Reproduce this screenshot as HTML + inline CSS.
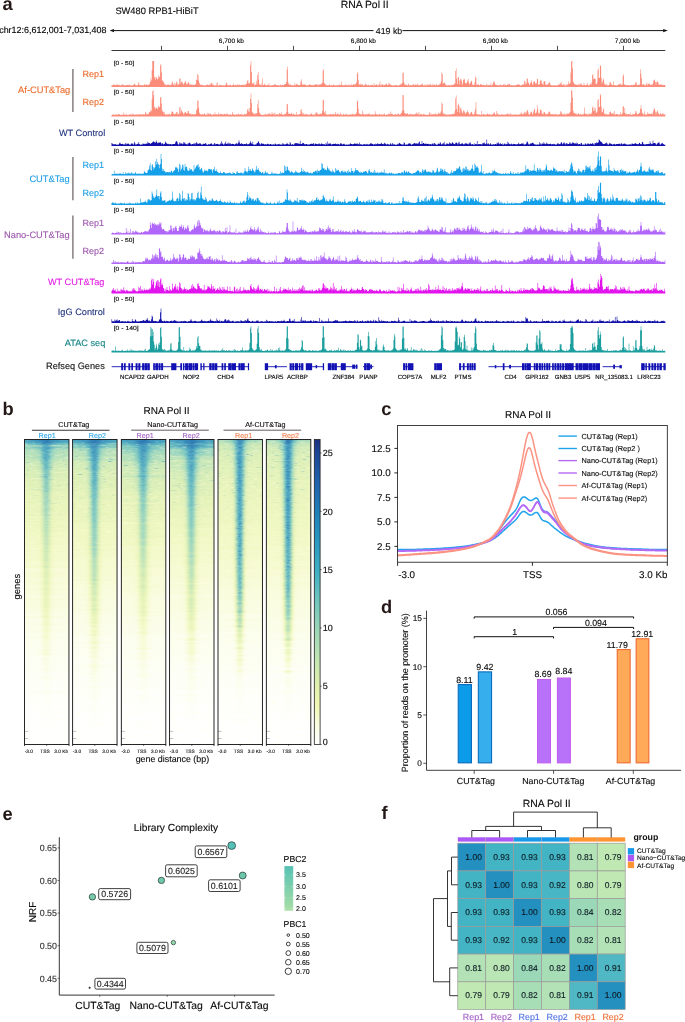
<!DOCTYPE html>
<html lang="en"><head><meta charset="utf-8"><title>RNA Pol II CUT&amp;Tag figure</title>
<style>
html,body{margin:0;padding:0;background:#fff;}
body{width:685px;height:1022px;overflow:hidden;}
svg{display:block;font-family:'Liberation Sans', Arial, sans-serif;text-rendering:geometricPrecision;}
text{white-space:pre;stroke-width:.12px;}
</style></head>
<body>
<svg width="685" height="1022" viewBox="0 0 685 1022">
<defs>
<rect id="hr" width="44.45" height="1.35"/>
<filter id="nzw" x="0" y="0" width="1" height="1" color-interpolation-filters="sRGB"><feTurbulence type="fractalNoise" baseFrequency=".17 .6" numOctaves="2" seed="5"/><feColorMatrix values="0 0 0 0 1  0 0 0 0 1  0 0 0 0 .9  1.2 0 0 0 -.6"/></filter>
<filter id="nzd" x="0" y="0" width="1" height="1" color-interpolation-filters="sRGB"><feTurbulence type="fractalNoise" baseFrequency=".21 .6" numOctaves="2" seed="11"/><feColorMatrix values="0 0 0 0 .12  0 0 0 0 .42  0 0 0 0 .7  0 1.5 0 0 -.66"/></filter>
<linearGradient id="mw"><stop offset="0" stop-color="#fff"/><stop offset=".36" stop-color="#ddd"/><stop offset=".45" stop-color="#555"/><stop offset=".53" stop-color="#555"/><stop offset=".62" stop-color="#ddd"/><stop offset="1" stop-color="#fff"/></linearGradient>
<linearGradient id="md"><stop offset=".37" stop-color="#000"/><stop offset=".46" stop-color="#fff"/><stop offset=".52" stop-color="#fff"/><stop offset=".61" stop-color="#000"/></linearGradient>
<linearGradient id="mv" x1="0" y1="0" x2="0" y2="1"><stop offset="0" stop-color="#000" stop-opacity=".1"/><stop offset=".4" stop-color="#000" stop-opacity=".35"/><stop offset=".62" stop-color="#000" stop-opacity="1"/></linearGradient>
<linearGradient id="mv2" x1="0" y1="0" x2="0" y2="1"><stop offset="0" stop-color="#000" stop-opacity=".2"/><stop offset=".1" stop-color="#000" stop-opacity=".6"/><stop offset=".25" stop-color="#000" stop-opacity="1"/></linearGradient>
<filter id="nzs" x="0" y="0" width="1" height="1" color-interpolation-filters="sRGB"><feTurbulence type="fractalNoise" baseFrequency=".13 .83" numOctaves="2" seed="23"/><feColorMatrix values="0 0 0 0 .25  0 0 0 0 .62  0 0 0 0 .75  0 0 3 0 -1.98"/></filter>
<linearGradient id="ms" x1="0" y1="0" x2="0" y2="1"><stop offset="0" stop-color="#eee"/><stop offset=".1" stop-color="#999"/><stop offset=".3" stop-color="#000"/></linearGradient>
<mask id="mks" maskContentUnits="objectBoundingBox"><rect width="1" height="1" fill="url(#ms)"/></mask>
<linearGradient id="tb"><stop offset="0" stop-color="#4ea9c2"/><stop offset=".3" stop-color="#3d99c0"/><stop offset=".5" stop-color="#2a7fb8"/><stop offset=".7" stop-color="#3d99c0"/><stop offset="1" stop-color="#4ea9c2"/></linearGradient>
<mask id="mkw" maskContentUnits="objectBoundingBox"><rect width="1" height="1" fill="url(#mw)"/></mask>
<mask id="mkd" maskContentUnits="objectBoundingBox"><rect width="1" height="1" fill="url(#md)"/><rect width="1" height="1" fill="url(#mv)"/></mask>
<mask id="mkd2" maskContentUnits="objectBoundingBox"><rect width="1" height="1" fill="url(#md)"/><rect width="1" height="1" fill="url(#mv2)"/></mask>
<linearGradient id="p0" x1=".49" x2=".99" spreadMethod="reflect"><stop offset="0" stop-color="#256ba9"/><stop offset=".04" stop-color="#256ba9"/><stop offset=".09" stop-color="#256ca9"/><stop offset=".15" stop-color="#266eaa"/><stop offset=".22" stop-color="#2670ab"/><stop offset=".3" stop-color="#2874ad"/><stop offset=".4" stop-color="#2a7aaf"/><stop offset=".55" stop-color="#2e82b3"/><stop offset=".75" stop-color="#328ab6"/><stop offset="1" stop-color="#3690b7"/></linearGradient>
<linearGradient id="p1" x1=".49" x2=".99" spreadMethod="reflect"><stop offset="0" stop-color="#256ca9"/><stop offset=".04" stop-color="#256ca9"/><stop offset=".09" stop-color="#256da9"/><stop offset=".15" stop-color="#266faa"/><stop offset=".22" stop-color="#2771ac"/><stop offset=".3" stop-color="#2875ad"/><stop offset=".4" stop-color="#2b7bb0"/><stop offset=".55" stop-color="#2e84b3"/><stop offset=".75" stop-color="#338cb6"/><stop offset="1" stop-color="#3791b8"/></linearGradient>
<linearGradient id="p2" x1=".49" x2=".99" spreadMethod="reflect"><stop offset="0" stop-color="#266eaa"/><stop offset=".04" stop-color="#266eaa"/><stop offset=".09" stop-color="#266faa"/><stop offset=".15" stop-color="#2771ab"/><stop offset=".22" stop-color="#2874ad"/><stop offset=".3" stop-color="#2a79af"/><stop offset=".4" stop-color="#2c7fb2"/><stop offset=".55" stop-color="#3188b5"/><stop offset=".75" stop-color="#3690b8"/><stop offset="1" stop-color="#3a95b9"/></linearGradient>
<linearGradient id="p3" x1=".49" x2=".99" spreadMethod="reflect"><stop offset="0" stop-color="#2771ab"/><stop offset=".04" stop-color="#2772ac"/><stop offset=".09" stop-color="#2773ac"/><stop offset=".15" stop-color="#2875ad"/><stop offset=".22" stop-color="#2a79af"/><stop offset=".3" stop-color="#2c7fb2"/><stop offset=".4" stop-color="#3087b4"/><stop offset=".55" stop-color="#3690b7"/><stop offset=".75" stop-color="#3c98ba"/><stop offset="1" stop-color="#3f9cbb"/></linearGradient>
<linearGradient id="p4" x1=".49" x2=".99" spreadMethod="reflect"><stop offset="0" stop-color="#2876ae"/><stop offset=".04" stop-color="#2976ae"/><stop offset=".09" stop-color="#2978ae"/><stop offset=".15" stop-color="#2b7bb0"/><stop offset=".22" stop-color="#2d81b2"/><stop offset=".3" stop-color="#3188b5"/><stop offset=".4" stop-color="#3791b8"/><stop offset=".55" stop-color="#3f9cba"/><stop offset=".75" stop-color="#45a2bb"/><stop offset="1" stop-color="#49a6bc"/></linearGradient>
<linearGradient id="p5" x1=".49" x2=".99" spreadMethod="reflect"><stop offset="0" stop-color="#2b7cb0"/><stop offset=".04" stop-color="#2b7cb0"/><stop offset=".09" stop-color="#2c7fb2"/><stop offset=".15" stop-color="#2f84b3"/><stop offset=".22" stop-color="#338cb6"/><stop offset=".3" stop-color="#3a95b9"/><stop offset=".4" stop-color="#43a0bb"/><stop offset=".55" stop-color="#4eaabd"/><stop offset=".75" stop-color="#55b0bd"/><stop offset="1" stop-color="#59b3bd"/></linearGradient>
<linearGradient id="p6" x1=".49" x2=".99" spreadMethod="reflect"><stop offset="0" stop-color="#3c99ba"/><stop offset=".04" stop-color="#3d99ba"/><stop offset=".09" stop-color="#3f9bba"/><stop offset=".15" stop-color="#43a0bb"/><stop offset=".22" stop-color="#4aa7bc"/><stop offset=".3" stop-color="#53aebd"/><stop offset=".4" stop-color="#5db6bd"/><stop offset=".55" stop-color="#66bcbd"/><stop offset=".75" stop-color="#6bbfbd"/><stop offset="1" stop-color="#6dc0bd"/></linearGradient>
<linearGradient id="p7" x1=".49" x2=".99" spreadMethod="reflect"><stop offset="0" stop-color="#409cbb"/><stop offset=".04" stop-color="#409dbb"/><stop offset=".09" stop-color="#43a0bb"/><stop offset=".15" stop-color="#49a6bc"/><stop offset=".22" stop-color="#53afbd"/><stop offset=".3" stop-color="#5fb7bd"/><stop offset=".4" stop-color="#6cbfbd"/><stop offset=".55" stop-color="#77c5bc"/><stop offset=".75" stop-color="#7cc8bb"/><stop offset="1" stop-color="#7dc8bb"/></linearGradient>
<linearGradient id="p8" x1=".49" x2=".99" spreadMethod="reflect"><stop offset="0" stop-color="#44a1bb"/><stop offset=".04" stop-color="#45a2bc"/><stop offset=".09" stop-color="#49a6bc"/><stop offset=".15" stop-color="#52aebd"/><stop offset=".22" stop-color="#60b8bd"/><stop offset=".3" stop-color="#72c2bc"/><stop offset=".4" stop-color="#82cabb"/><stop offset=".55" stop-color="#8dcfba"/><stop offset=".75" stop-color="#91d1b9"/><stop offset="1" stop-color="#92d1b9"/></linearGradient>
<linearGradient id="p9" x1=".49" x2=".99" spreadMethod="reflect"><stop offset="0" stop-color="#49a6bc"/><stop offset=".04" stop-color="#4aa7bc"/><stop offset=".09" stop-color="#50adbd"/><stop offset=".15" stop-color="#5eb6bd"/><stop offset=".22" stop-color="#72c2bc"/><stop offset=".3" stop-color="#87cdba"/><stop offset=".4" stop-color="#99d5b8"/><stop offset=".55" stop-color="#a3d9b7"/><stop offset=".75" stop-color="#a5dab7"/><stop offset="1" stop-color="#a6dab7"/></linearGradient>
<linearGradient id="p10" x1=".49" x2=".99" spreadMethod="reflect"><stop offset="0" stop-color="#4daabd"/><stop offset=".04" stop-color="#4facbd"/><stop offset=".09" stop-color="#57b2bd"/><stop offset=".15" stop-color="#67bcbd"/><stop offset=".22" stop-color="#7ec8bb"/><stop offset=".3" stop-color="#94d3b9"/><stop offset=".4" stop-color="#a5dab7"/><stop offset=".55" stop-color="#aeddb6"/><stop offset=".75" stop-color="#afdeb6"/><stop offset="1" stop-color="#afdeb6"/></linearGradient>
<linearGradient id="p11" x1=".49" x2=".99" spreadMethod="reflect"><stop offset="0" stop-color="#53afbd"/><stop offset=".04" stop-color="#56b1bd"/><stop offset=".09" stop-color="#5fb7bd"/><stop offset=".15" stop-color="#72c2bc"/><stop offset=".22" stop-color="#8ccfba"/><stop offset=".3" stop-color="#a3d9b7"/><stop offset=".4" stop-color="#b2dfb5"/><stop offset=".55" stop-color="#b9e1b4"/><stop offset=".75" stop-color="#bae2b4"/><stop offset="1" stop-color="#bae2b4"/></linearGradient>
<linearGradient id="p12" x1=".49" x2=".99" spreadMethod="reflect"><stop offset="0" stop-color="#5ab4bd"/><stop offset=".04" stop-color="#5db6bd"/><stop offset=".09" stop-color="#69bdbd"/><stop offset=".15" stop-color="#80c9bb"/><stop offset=".22" stop-color="#9cd6b8"/><stop offset=".3" stop-color="#b3dfb5"/><stop offset=".4" stop-color="#c0e4b4"/><stop offset=".55" stop-color="#c5e6b3"/><stop offset=".75" stop-color="#c5e6b3"/><stop offset="1" stop-color="#c5e6b3"/></linearGradient>
<linearGradient id="p13" x1=".49" x2=".99" spreadMethod="reflect"><stop offset="0" stop-color="#61b8bd"/><stop offset=".04" stop-color="#64bbbd"/><stop offset=".09" stop-color="#72c2bc"/><stop offset=".15" stop-color="#8bceba"/><stop offset=".22" stop-color="#a8dbb7"/><stop offset=".3" stop-color="#bee3b4"/><stop offset=".4" stop-color="#c9e7b3"/><stop offset=".55" stop-color="#cce9b3"/><stop offset=".75" stop-color="#cce9b3"/><stop offset="1" stop-color="#cce9b3"/></linearGradient>
<linearGradient id="p14" x1=".49" x2=".99" spreadMethod="reflect"><stop offset="0" stop-color="#67bcbd"/><stop offset=".04" stop-color="#6bbebd"/><stop offset=".09" stop-color="#79c6bc"/><stop offset=".15" stop-color="#92d2b9"/><stop offset=".22" stop-color="#afdeb6"/><stop offset=".3" stop-color="#c4e5b3"/><stop offset=".4" stop-color="#cde9b3"/><stop offset=".55" stop-color="#d0eab2"/><stop offset=".75" stop-color="#d0eab2"/><stop offset="1" stop-color="#d0eab2"/></linearGradient>
<linearGradient id="p15" x1=".49" x2=".99" spreadMethod="reflect"><stop offset="0" stop-color="#6ec0bc"/><stop offset=".04" stop-color="#72c2bc"/><stop offset=".09" stop-color="#81cabb"/><stop offset=".15" stop-color="#9bd5b8"/><stop offset=".22" stop-color="#b7e0b5"/><stop offset=".3" stop-color="#cae8b3"/><stop offset=".4" stop-color="#d2ebb2"/><stop offset=".55" stop-color="#d4ecb2"/><stop offset=".75" stop-color="#d4ecb2"/><stop offset="1" stop-color="#d4ecb2"/></linearGradient>
<linearGradient id="p16" x1=".49" x2=".99" spreadMethod="reflect"><stop offset="0" stop-color="#76c5bc"/><stop offset=".04" stop-color="#7ac7bc"/><stop offset=".09" stop-color="#8aceba"/><stop offset=".15" stop-color="#a4d9b7"/><stop offset=".22" stop-color="#bfe3b4"/><stop offset=".3" stop-color="#d0eab2"/><stop offset=".4" stop-color="#d6edb2"/><stop offset=".55" stop-color="#d8edb2"/><stop offset=".75" stop-color="#d8edb2"/><stop offset="1" stop-color="#d8edb2"/></linearGradient>
<linearGradient id="p17" x1=".49" x2=".99" spreadMethod="reflect"><stop offset="0" stop-color="#7dc8bb"/><stop offset=".04" stop-color="#81cabb"/><stop offset=".09" stop-color="#91d1b9"/><stop offset=".15" stop-color="#abdcb6"/><stop offset=".22" stop-color="#c4e6b3"/><stop offset=".3" stop-color="#d4ecb2"/><stop offset=".4" stop-color="#daeeb2"/><stop offset=".55" stop-color="#dbeeb2"/><stop offset=".75" stop-color="#dbeeb3"/><stop offset="1" stop-color="#dbeeb3"/></linearGradient>
<linearGradient id="p18" x1=".49" x2=".99" spreadMethod="reflect"><stop offset="0" stop-color="#84cbbb"/><stop offset=".04" stop-color="#88cdba"/><stop offset=".09" stop-color="#98d4b9"/><stop offset=".15" stop-color="#b1deb6"/><stop offset=".22" stop-color="#c9e7b3"/><stop offset=".3" stop-color="#d7edb2"/><stop offset=".4" stop-color="#dcefb3"/><stop offset=".55" stop-color="#ddefb3"/><stop offset=".75" stop-color="#ddefb3"/><stop offset="1" stop-color="#ddefb3"/></linearGradient>
<linearGradient id="p19" x1=".49" x2=".99" spreadMethod="reflect"><stop offset="0" stop-color="#8ccfba"/><stop offset=".04" stop-color="#90d1b9"/><stop offset=".09" stop-color="#9fd7b8"/><stop offset=".15" stop-color="#b7e0b5"/><stop offset=".22" stop-color="#cee9b2"/><stop offset=".3" stop-color="#daeeb2"/><stop offset=".4" stop-color="#dff0b3"/><stop offset=".55" stop-color="#e0f1b3"/><stop offset=".75" stop-color="#e0f1b3"/><stop offset="1" stop-color="#e0f1b3"/></linearGradient>
<linearGradient id="p20" x1=".49" x2=".99" spreadMethod="reflect"><stop offset="0" stop-color="#94d2b9"/><stop offset=".04" stop-color="#98d4b9"/><stop offset=".09" stop-color="#a6dab7"/><stop offset=".15" stop-color="#bde3b4"/><stop offset=".22" stop-color="#d2ebb2"/><stop offset=".3" stop-color="#def0b3"/><stop offset=".4" stop-color="#e2f1b4"/><stop offset=".55" stop-color="#e3f2b4"/><stop offset=".75" stop-color="#e3f2b4"/><stop offset="1" stop-color="#e3f2b4"/></linearGradient>
<linearGradient id="p21" x1=".49" x2=".99" spreadMethod="reflect"><stop offset="0" stop-color="#9cd6b8"/><stop offset=".04" stop-color="#a0d7b8"/><stop offset=".09" stop-color="#aeddb6"/><stop offset=".15" stop-color="#c4e5b3"/><stop offset=".22" stop-color="#d7edb2"/><stop offset=".3" stop-color="#e2f1b4"/><stop offset=".4" stop-color="#e5f3b5"/><stop offset=".55" stop-color="#e5f3b5"/><stop offset=".75" stop-color="#e5f3b5"/><stop offset="1" stop-color="#e5f3b5"/></linearGradient>
<linearGradient id="p22" x1=".49" x2=".99" spreadMethod="reflect"><stop offset="0" stop-color="#a2d8b7"/><stop offset=".04" stop-color="#a5dab7"/><stop offset=".09" stop-color="#b3dfb5"/><stop offset=".15" stop-color="#c8e7b3"/><stop offset=".22" stop-color="#daeeb3"/><stop offset=".3" stop-color="#e4f2b5"/><stop offset=".4" stop-color="#e7f4b6"/><stop offset=".55" stop-color="#e7f4b6"/><stop offset=".75" stop-color="#e7f4b6"/><stop offset="1" stop-color="#e7f4b6"/></linearGradient>
<linearGradient id="p23" x1=".49" x2=".99" spreadMethod="reflect"><stop offset="0" stop-color="#a7dab7"/><stop offset=".04" stop-color="#abdcb6"/><stop offset=".09" stop-color="#b8e1b5"/><stop offset=".15" stop-color="#cbe8b3"/><stop offset=".22" stop-color="#ddefb3"/><stop offset=".3" stop-color="#e6f3b6"/><stop offset=".4" stop-color="#e9f4b8"/><stop offset=".55" stop-color="#e9f4b8"/><stop offset=".75" stop-color="#e9f4b8"/><stop offset="1" stop-color="#e9f4b8"/></linearGradient>
<linearGradient id="p24" x1=".49" x2=".99" spreadMethod="reflect"><stop offset="0" stop-color="#adddb6"/><stop offset=".04" stop-color="#b0deb6"/><stop offset=".09" stop-color="#bde3b4"/><stop offset=".15" stop-color="#cfeab2"/><stop offset=".22" stop-color="#e0f1b3"/><stop offset=".3" stop-color="#e8f4b7"/><stop offset=".4" stop-color="#ebf5b9"/><stop offset=".55" stop-color="#ebf5ba"/><stop offset=".75" stop-color="#ebf5ba"/><stop offset="1" stop-color="#ebf5ba"/></linearGradient>
<linearGradient id="p25" x1=".49" x2=".99" spreadMethod="reflect"><stop offset="0" stop-color="#b3dfb5"/><stop offset=".04" stop-color="#b6e0b5"/><stop offset=".09" stop-color="#c2e5b3"/><stop offset=".15" stop-color="#d4ecb2"/><stop offset=".22" stop-color="#e3f2b4"/><stop offset=".3" stop-color="#ebf5b9"/><stop offset=".4" stop-color="#edf6bc"/><stop offset=".55" stop-color="#edf6bc"/><stop offset=".75" stop-color="#edf6bc"/><stop offset="1" stop-color="#edf6bc"/></linearGradient>
<linearGradient id="p26" x1=".49" x2=".99" spreadMethod="reflect"><stop offset="0" stop-color="#b9e1b5"/><stop offset=".04" stop-color="#bce2b4"/><stop offset=".09" stop-color="#c7e7b3"/><stop offset=".15" stop-color="#d7edb2"/><stop offset=".22" stop-color="#e6f3b5"/><stop offset=".3" stop-color="#edf6bb"/><stop offset=".4" stop-color="#eff7be"/><stop offset=".55" stop-color="#eff7bf"/><stop offset=".75" stop-color="#eff7bf"/><stop offset="1" stop-color="#eff7bf"/></linearGradient>
<linearGradient id="p27" x1=".49" x2=".99" spreadMethod="reflect"><stop offset="0" stop-color="#bfe4b4"/><stop offset=".04" stop-color="#c2e5b3"/><stop offset=".09" stop-color="#cce9b3"/><stop offset=".15" stop-color="#dbefb3"/><stop offset=".22" stop-color="#e8f4b7"/><stop offset=".3" stop-color="#eef7bd"/><stop offset=".4" stop-color="#f0f8c1"/><stop offset=".55" stop-color="#f0f8c1"/><stop offset=".75" stop-color="#f0f8c1"/><stop offset="1" stop-color="#f0f8c1"/></linearGradient>
<linearGradient id="p28" x1=".49" x2=".99" spreadMethod="reflect"><stop offset="0" stop-color="#c5e6b3"/><stop offset=".04" stop-color="#c8e7b3"/><stop offset=".09" stop-color="#d1ebb2"/><stop offset=".15" stop-color="#dff0b3"/><stop offset=".22" stop-color="#eaf5b9"/><stop offset=".3" stop-color="#f0f7c0"/><stop offset=".4" stop-color="#f2f8c4"/><stop offset=".55" stop-color="#f2f8c5"/><stop offset=".75" stop-color="#f2f8c5"/><stop offset="1" stop-color="#f2f8c5"/></linearGradient>
<linearGradient id="p29" x1=".49" x2=".99" spreadMethod="reflect"><stop offset="0" stop-color="#cce9b3"/><stop offset=".04" stop-color="#cee9b2"/><stop offset=".09" stop-color="#d6edb2"/><stop offset=".15" stop-color="#e2f2b4"/><stop offset=".22" stop-color="#ecf6bb"/><stop offset=".3" stop-color="#f1f8c3"/><stop offset=".4" stop-color="#f3f9c7"/><stop offset=".55" stop-color="#f3f9c8"/><stop offset=".75" stop-color="#f3f9c8"/><stop offset="1" stop-color="#f3f9c8"/></linearGradient>
<linearGradient id="p30" x1=".49" x2=".99" spreadMethod="reflect"><stop offset="0" stop-color="#d2ebb2"/><stop offset=".04" stop-color="#d4ecb2"/><stop offset=".09" stop-color="#dbefb3"/><stop offset=".15" stop-color="#e6f3b6"/><stop offset=".22" stop-color="#eff7be"/><stop offset=".3" stop-color="#f3f9c7"/><stop offset=".4" stop-color="#f4facb"/><stop offset=".55" stop-color="#f5facc"/><stop offset=".75" stop-color="#f5facc"/><stop offset="1" stop-color="#f5facc"/></linearGradient>
<linearGradient id="p31" x1=".49" x2=".99" spreadMethod="reflect"><stop offset="0" stop-color="#d8eeb2"/><stop offset=".04" stop-color="#daeeb3"/><stop offset=".09" stop-color="#e0f1b3"/><stop offset=".15" stop-color="#e9f4b8"/><stop offset=".22" stop-color="#f0f8c1"/><stop offset=".3" stop-color="#f4facb"/><stop offset=".4" stop-color="#f5facf"/><stop offset=".55" stop-color="#f6fad0"/><stop offset=".75" stop-color="#f6fad0"/><stop offset="1" stop-color="#f6fad0"/></linearGradient>
<linearGradient id="p32" x1=".49" x2=".99" spreadMethod="reflect"><stop offset="0" stop-color="#def0b3"/><stop offset=".04" stop-color="#e0f1b3"/><stop offset=".09" stop-color="#e5f3b5"/><stop offset=".15" stop-color="#ecf6bb"/><stop offset=".22" stop-color="#f2f9c5"/><stop offset=".3" stop-color="#f5facf"/><stop offset=".4" stop-color="#f6fbd4"/><stop offset=".55" stop-color="#f7fbd4"/><stop offset=".75" stop-color="#f7fbd4"/><stop offset="1" stop-color="#f7fbd4"/></linearGradient>
<linearGradient id="p33" x1=".49" x2=".99" spreadMethod="reflect"><stop offset="0" stop-color="#e4f2b5"/><stop offset=".04" stop-color="#e5f3b5"/><stop offset=".09" stop-color="#e9f4b8"/><stop offset=".15" stop-color="#eff7bf"/><stop offset=".22" stop-color="#f4f9ca"/><stop offset=".3" stop-color="#f6fbd4"/><stop offset=".4" stop-color="#f8fbd8"/><stop offset=".55" stop-color="#f8fcd9"/><stop offset=".75" stop-color="#f8fcd9"/><stop offset="1" stop-color="#f8fcd9"/></linearGradient>
<linearGradient id="p34" x1=".49" x2=".99" spreadMethod="reflect"><stop offset="0" stop-color="#e8f4b7"/><stop offset=".04" stop-color="#e9f4b8"/><stop offset=".09" stop-color="#edf6bb"/><stop offset=".15" stop-color="#f1f8c3"/><stop offset=".22" stop-color="#f5facf"/><stop offset=".3" stop-color="#f8fbd8"/><stop offset=".4" stop-color="#f8fcdc"/><stop offset=".55" stop-color="#f9fcdd"/><stop offset=".75" stop-color="#f9fcdd"/><stop offset="1" stop-color="#f9fcdd"/></linearGradient>
<linearGradient id="p35" x1=".49" x2=".99" spreadMethod="reflect"><stop offset="0" stop-color="#ecf6ba"/><stop offset=".04" stop-color="#edf6bb"/><stop offset=".09" stop-color="#eff7bf"/><stop offset=".15" stop-color="#f3f9c8"/><stop offset=".22" stop-color="#f6fbd4"/><stop offset=".3" stop-color="#f8fcdd"/><stop offset=".4" stop-color="#f9fce1"/><stop offset=".55" stop-color="#f9fde1"/><stop offset=".75" stop-color="#f9fde1"/><stop offset="1" stop-color="#f9fde1"/></linearGradient>
<linearGradient id="p36" x1=".49" x2=".99" spreadMethod="reflect"><stop offset="0" stop-color="#eff7bf"/><stop offset=".04" stop-color="#f0f7c0"/><stop offset=".09" stop-color="#f2f8c4"/><stop offset=".15" stop-color="#f5face"/><stop offset=".22" stop-color="#f8fcd9"/><stop offset=".3" stop-color="#f9fce1"/><stop offset=".4" stop-color="#fafde5"/><stop offset=".55" stop-color="#fafde5"/><stop offset=".75" stop-color="#fafde5"/><stop offset="1" stop-color="#fafde5"/></linearGradient>
<linearGradient id="p37" x1=".49" x2=".99" spreadMethod="reflect"><stop offset="0" stop-color="#f2f9c6"/><stop offset=".04" stop-color="#f3f9c7"/><stop offset=".09" stop-color="#f4facc"/><stop offset=".15" stop-color="#f7fbd4"/><stop offset=".22" stop-color="#f9fcde"/><stop offset=".3" stop-color="#fafde5"/><stop offset=".4" stop-color="#fbfde8"/><stop offset=".55" stop-color="#fbfde9"/><stop offset=".75" stop-color="#fbfde9"/><stop offset="1" stop-color="#fbfde9"/></linearGradient>
<linearGradient id="p38" x1=".49" x2=".99" spreadMethod="reflect"><stop offset="0" stop-color="#f6fad0"/><stop offset=".04" stop-color="#f6fad1"/><stop offset=".09" stop-color="#f7fbd5"/><stop offset=".15" stop-color="#f8fcdc"/><stop offset=".22" stop-color="#fafde4"/><stop offset=".3" stop-color="#fbfde9"/><stop offset=".4" stop-color="#fbfeec"/><stop offset=".55" stop-color="#fcfeec"/><stop offset=".75" stop-color="#fcfeec"/><stop offset="1" stop-color="#fcfeec"/></linearGradient>
<linearGradient id="p39" x1=".49" x2=".99" spreadMethod="reflect"><stop offset="0" stop-color="#f8fcdb"/><stop offset=".04" stop-color="#f8fcdc"/><stop offset=".09" stop-color="#f9fcdf"/><stop offset=".15" stop-color="#fafde4"/><stop offset=".22" stop-color="#fbfdea"/><stop offset=".3" stop-color="#fcfeed"/><stop offset=".4" stop-color="#fcfeef"/><stop offset=".55" stop-color="#fcfef0"/><stop offset=".75" stop-color="#fcfef0"/><stop offset="1" stop-color="#fcfef0"/></linearGradient>
<linearGradient id="p40" x1=".49" x2=".99" spreadMethod="reflect"><stop offset="0" stop-color="#fafde4"/><stop offset=".04" stop-color="#fafde4"/><stop offset=".09" stop-color="#fafde7"/><stop offset=".15" stop-color="#fbfdea"/><stop offset=".22" stop-color="#fcfeee"/><stop offset=".3" stop-color="#fcfef1"/><stop offset=".4" stop-color="#fdfef2"/><stop offset=".55" stop-color="#fdfef2"/><stop offset=".75" stop-color="#fdfef2"/><stop offset="1" stop-color="#fdfef2"/></linearGradient>
<linearGradient id="p41" x1=".49" x2=".99" spreadMethod="reflect"><stop offset="0" stop-color="#fbfdea"/><stop offset=".04" stop-color="#fbfdeb"/><stop offset=".09" stop-color="#fcfeec"/><stop offset=".15" stop-color="#fcfeef"/><stop offset=".22" stop-color="#fdfef2"/><stop offset=".3" stop-color="#fdfef4"/><stop offset=".4" stop-color="#fdfef5"/><stop offset=".55" stop-color="#fdfef5"/><stop offset=".75" stop-color="#fdfef5"/><stop offset="1" stop-color="#fdfef5"/></linearGradient>
<linearGradient id="p42" x1=".49" x2=".99" spreadMethod="reflect"><stop offset="0" stop-color="#fcfef1"/><stop offset=".04" stop-color="#fcfef1"/><stop offset=".09" stop-color="#fdfef2"/><stop offset=".15" stop-color="#fdfef4"/><stop offset=".22" stop-color="#fdfef5"/><stop offset=".3" stop-color="#fdfef7"/><stop offset=".4" stop-color="#fefef8"/><stop offset=".55" stop-color="#fefef8"/><stop offset=".75" stop-color="#fefef8"/><stop offset="1" stop-color="#fefef8"/></linearGradient>
<linearGradient id="p43" x1=".49" x2=".99" spreadMethod="reflect"><stop offset="0" stop-color="#fdfef4"/><stop offset=".04" stop-color="#fdfef5"/><stop offset=".09" stop-color="#fdfef5"/><stop offset=".15" stop-color="#fdfef6"/><stop offset=".22" stop-color="#fefef8"/><stop offset=".3" stop-color="#fefff9"/><stop offset=".4" stop-color="#fefff9"/><stop offset=".55" stop-color="#fefff9"/><stop offset=".75" stop-color="#fefffa"/><stop offset="1" stop-color="#fefffa"/></linearGradient>
<linearGradient id="p44" x1=".49" x2=".99" spreadMethod="reflect"><stop offset="0" stop-color="#fefef8"/><stop offset=".04" stop-color="#fefff8"/><stop offset=".09" stop-color="#fefff9"/><stop offset=".15" stop-color="#fefff9"/><stop offset=".22" stop-color="#fefffa"/><stop offset=".3" stop-color="#fefffb"/><stop offset=".4" stop-color="#fefffb"/><stop offset=".55" stop-color="#fefffb"/><stop offset=".75" stop-color="#fefffb"/><stop offset="1" stop-color="#fefffb"/></linearGradient>
<linearGradient id="p45" x1=".49" x2=".99" spreadMethod="reflect"><stop offset="0" stop-color="#fefffb"/><stop offset=".04" stop-color="#fefffb"/><stop offset=".09" stop-color="#fefffb"/><stop offset=".15" stop-color="#fefffc"/><stop offset=".22" stop-color="#fefffc"/><stop offset=".3" stop-color="#fffffd"/><stop offset=".4" stop-color="#fffffd"/><stop offset=".55" stop-color="#fffffd"/><stop offset=".75" stop-color="#fffffd"/><stop offset="1" stop-color="#fffffd"/></linearGradient>
<linearGradient id="p46" x1=".49" x2=".99" spreadMethod="reflect"><stop offset="0" stop-color="#fffffd"/><stop offset=".04" stop-color="#fffffd"/><stop offset=".09" stop-color="#fffffd"/><stop offset=".15" stop-color="#fffffd"/><stop offset=".22" stop-color="#fffffe"/><stop offset=".3" stop-color="#fffffe"/><stop offset=".4" stop-color="#fffffe"/><stop offset=".55" stop-color="#fffffe"/><stop offset=".75" stop-color="#fffffe"/><stop offset="1" stop-color="#fffffe"/></linearGradient>
<linearGradient id="p47" x1=".49" x2=".99" spreadMethod="reflect"><stop offset="0" stop-color="#ffffff"/><stop offset=".04" stop-color="#ffffff"/><stop offset=".09" stop-color="#ffffff"/><stop offset=".15" stop-color="#ffffff"/><stop offset=".22" stop-color="#ffffff"/><stop offset=".3" stop-color="#ffffff"/><stop offset=".4" stop-color="#ffffff"/><stop offset=".55" stop-color="#ffffff"/><stop offset=".75" stop-color="#ffffff"/><stop offset="1" stop-color="#ffffff"/></linearGradient>
<linearGradient id="q0" x1=".49" x2=".99" spreadMethod="reflect"><stop offset="0" stop-color="#2467a6"/><stop offset=".04" stop-color="#2467a6"/><stop offset=".09" stop-color="#2468a7"/><stop offset=".15" stop-color="#246aa8"/><stop offset=".22" stop-color="#256da9"/><stop offset=".3" stop-color="#2771ab"/><stop offset=".4" stop-color="#2977ae"/><stop offset=".55" stop-color="#2d80b2"/><stop offset=".75" stop-color="#3289b5"/><stop offset="1" stop-color="#368fb7"/></linearGradient>
<linearGradient id="q1" x1=".49" x2=".99" spreadMethod="reflect"><stop offset="0" stop-color="#2467a6"/><stop offset=".04" stop-color="#2468a7"/><stop offset=".09" stop-color="#2468a7"/><stop offset=".15" stop-color="#246aa8"/><stop offset=".22" stop-color="#256da9"/><stop offset=".3" stop-color="#2772ac"/><stop offset=".4" stop-color="#2978ae"/><stop offset=".55" stop-color="#2d81b2"/><stop offset=".75" stop-color="#328bb6"/><stop offset="1" stop-color="#3691b8"/></linearGradient>
<linearGradient id="q2" x1=".49" x2=".99" spreadMethod="reflect"><stop offset="0" stop-color="#2468a7"/><stop offset=".04" stop-color="#2469a7"/><stop offset=".09" stop-color="#246aa7"/><stop offset=".15" stop-color="#256ca9"/><stop offset=".22" stop-color="#266faa"/><stop offset=".3" stop-color="#2874ad"/><stop offset=".4" stop-color="#2b7bb0"/><stop offset=".55" stop-color="#2f85b4"/><stop offset=".75" stop-color="#358fb7"/><stop offset="1" stop-color="#3995b9"/></linearGradient>
<linearGradient id="q3" x1=".49" x2=".99" spreadMethod="reflect"><stop offset="0" stop-color="#246aa8"/><stop offset=".04" stop-color="#256aa8"/><stop offset=".09" stop-color="#256ba9"/><stop offset=".15" stop-color="#266eaa"/><stop offset=".22" stop-color="#2773ac"/><stop offset=".3" stop-color="#2a79af"/><stop offset=".4" stop-color="#2e82b3"/><stop offset=".55" stop-color="#348db6"/><stop offset=".75" stop-color="#3a96b9"/><stop offset="1" stop-color="#3f9bba"/></linearGradient>
<linearGradient id="q4" x1=".49" x2=".99" spreadMethod="reflect"><stop offset="0" stop-color="#256da9"/><stop offset=".04" stop-color="#256da9"/><stop offset=".09" stop-color="#266faa"/><stop offset=".15" stop-color="#2773ac"/><stop offset=".22" stop-color="#2a79af"/><stop offset=".3" stop-color="#2d81b2"/><stop offset=".4" stop-color="#338cb6"/><stop offset=".55" stop-color="#3c98ba"/><stop offset=".75" stop-color="#44a1bb"/><stop offset="1" stop-color="#48a5bc"/></linearGradient>
<linearGradient id="q5" x1=".49" x2=".99" spreadMethod="reflect"><stop offset="0" stop-color="#2670ab"/><stop offset=".04" stop-color="#2771ab"/><stop offset=".09" stop-color="#2874ad"/><stop offset=".15" stop-color="#2a79af"/><stop offset=".22" stop-color="#2e82b3"/><stop offset=".3" stop-color="#348db7"/><stop offset=".4" stop-color="#3d9aba"/><stop offset=".55" stop-color="#4aa7bc"/><stop offset=".75" stop-color="#53afbd"/><stop offset="1" stop-color="#58b2bd"/></linearGradient>
<linearGradient id="q6" x1=".49" x2=".99" spreadMethod="reflect"><stop offset="0" stop-color="#348db6"/><stop offset=".04" stop-color="#348db7"/><stop offset=".09" stop-color="#3690b7"/><stop offset=".15" stop-color="#3a96b9"/><stop offset=".22" stop-color="#419ebb"/><stop offset=".3" stop-color="#4ba8bc"/><stop offset=".4" stop-color="#57b1bd"/><stop offset=".55" stop-color="#63babd"/><stop offset=".75" stop-color="#6abebd"/><stop offset="1" stop-color="#6dbfbd"/></linearGradient>
<linearGradient id="q7" x1=".49" x2=".99" spreadMethod="reflect"><stop offset="0" stop-color="#3690b7"/><stop offset=".04" stop-color="#3690b8"/><stop offset=".09" stop-color="#3994b9"/><stop offset=".15" stop-color="#3f9bba"/><stop offset=".22" stop-color="#48a6bc"/><stop offset=".3" stop-color="#56b1bd"/><stop offset=".4" stop-color="#66bbbd"/><stop offset=".55" stop-color="#74c4bc"/><stop offset=".75" stop-color="#7bc7bc"/><stop offset="1" stop-color="#7dc8bb"/></linearGradient>
<linearGradient id="q8" x1=".49" x2=".99" spreadMethod="reflect"><stop offset="0" stop-color="#3893b8"/><stop offset=".04" stop-color="#3994b9"/><stop offset=".09" stop-color="#3d99ba"/><stop offset=".15" stop-color="#45a2bc"/><stop offset=".22" stop-color="#54b0bd"/><stop offset=".3" stop-color="#68bdbd"/><stop offset=".4" stop-color="#7bc7bc"/><stop offset=".55" stop-color="#8bceba"/><stop offset=".75" stop-color="#90d1b9"/><stop offset="1" stop-color="#92d1b9"/></linearGradient>
<linearGradient id="q9" x1=".49" x2=".99" spreadMethod="reflect"><stop offset="0" stop-color="#3b97b9"/><stop offset=".04" stop-color="#3c98ba"/><stop offset=".09" stop-color="#429fbb"/><stop offset=".15" stop-color="#4fabbd"/><stop offset=".22" stop-color="#64bbbd"/><stop offset=".3" stop-color="#7ec8bb"/><stop offset=".4" stop-color="#94d2b9"/><stop offset=".55" stop-color="#a2d8b7"/><stop offset=".75" stop-color="#a5dab7"/><stop offset="1" stop-color="#a6dab7"/></linearGradient>
<linearGradient id="q10" x1=".49" x2=".99" spreadMethod="reflect"><stop offset="0" stop-color="#3d9aba"/><stop offset=".04" stop-color="#3f9bba"/><stop offset=".09" stop-color="#46a3bc"/><stop offset=".15" stop-color="#55b0bd"/><stop offset=".22" stop-color="#6fc1bc"/><stop offset=".3" stop-color="#8bceba"/><stop offset=".4" stop-color="#a1d8b8"/><stop offset=".55" stop-color="#addcb6"/><stop offset=".75" stop-color="#afddb6"/><stop offset="1" stop-color="#afdeb6"/></linearGradient>
<linearGradient id="q11" x1=".49" x2=".99" spreadMethod="reflect"><stop offset="0" stop-color="#409dbb"/><stop offset=".04" stop-color="#429fbb"/><stop offset=".09" stop-color="#4aa7bc"/><stop offset=".15" stop-color="#5eb6bd"/><stop offset=".22" stop-color="#7cc7bc"/><stop offset=".3" stop-color="#9ad5b8"/><stop offset=".4" stop-color="#afddb6"/><stop offset=".55" stop-color="#b8e1b5"/><stop offset=".75" stop-color="#bae2b4"/><stop offset="1" stop-color="#bae2b4"/></linearGradient>
<linearGradient id="q12" x1=".49" x2=".99" spreadMethod="reflect"><stop offset="0" stop-color="#43a0bb"/><stop offset=".04" stop-color="#46a3bc"/><stop offset=".09" stop-color="#51adbd"/><stop offset=".15" stop-color="#69bdbd"/><stop offset=".22" stop-color="#8ccfba"/><stop offset=".3" stop-color="#abdcb6"/><stop offset=".4" stop-color="#bde3b4"/><stop offset=".55" stop-color="#c4e6b3"/><stop offset=".75" stop-color="#c5e6b3"/><stop offset="1" stop-color="#c5e6b3"/></linearGradient>
<linearGradient id="q13" x1=".49" x2=".99" spreadMethod="reflect"><stop offset="0" stop-color="#46a3bc"/><stop offset=".04" stop-color="#49a6bc"/><stop offset=".09" stop-color="#56b1bd"/><stop offset=".15" stop-color="#72c2bc"/><stop offset=".22" stop-color="#98d4b9"/><stop offset=".3" stop-color="#b6e0b5"/><stop offset=".4" stop-color="#c7e6b3"/><stop offset=".55" stop-color="#cce9b3"/><stop offset=".75" stop-color="#cce9b3"/><stop offset="1" stop-color="#cce9b3"/></linearGradient>
<linearGradient id="q14" x1=".49" x2=".99" spreadMethod="reflect"><stop offset="0" stop-color="#4aa6bc"/><stop offset=".04" stop-color="#4daabd"/><stop offset=".09" stop-color="#5bb4bd"/><stop offset=".15" stop-color="#79c6bc"/><stop offset=".22" stop-color="#9fd7b8"/><stop offset=".3" stop-color="#bce3b4"/><stop offset=".4" stop-color="#cbe8b3"/><stop offset=".55" stop-color="#d0eab2"/><stop offset=".75" stop-color="#d0eab2"/><stop offset="1" stop-color="#d0eab2"/></linearGradient>
<linearGradient id="q15" x1=".49" x2=".99" spreadMethod="reflect"><stop offset="0" stop-color="#4daabd"/><stop offset=".04" stop-color="#51adbd"/><stop offset=".09" stop-color="#60b8bd"/><stop offset=".15" stop-color="#80cabb"/><stop offset=".22" stop-color="#a7dab7"/><stop offset=".3" stop-color="#c3e5b3"/><stop offset=".4" stop-color="#d0eab2"/><stop offset=".55" stop-color="#d4ecb2"/><stop offset=".75" stop-color="#d4ecb2"/><stop offset="1" stop-color="#d4ecb2"/></linearGradient>
<linearGradient id="q16" x1=".49" x2=".99" spreadMethod="reflect"><stop offset="0" stop-color="#52aebd"/><stop offset=".04" stop-color="#56b1bd"/><stop offset=".09" stop-color="#67bcbd"/><stop offset=".15" stop-color="#88cdba"/><stop offset=".22" stop-color="#afdeb6"/><stop offset=".3" stop-color="#cae8b3"/><stop offset=".4" stop-color="#d5ecb2"/><stop offset=".55" stop-color="#d8edb2"/><stop offset=".75" stop-color="#d8edb2"/><stop offset="1" stop-color="#d8edb2"/></linearGradient>
<linearGradient id="q17" x1=".49" x2=".99" spreadMethod="reflect"><stop offset="0" stop-color="#56b1bd"/><stop offset=".04" stop-color="#5ab4bd"/><stop offset=".09" stop-color="#6cbfbd"/><stop offset=".15" stop-color="#8fd0ba"/><stop offset=".22" stop-color="#b5e0b5"/><stop offset=".3" stop-color="#cee9b2"/><stop offset=".4" stop-color="#d8eeb2"/><stop offset=".55" stop-color="#daeeb2"/><stop offset=".75" stop-color="#dbeeb3"/><stop offset="1" stop-color="#dbeeb3"/></linearGradient>
<linearGradient id="q18" x1=".49" x2=".99" spreadMethod="reflect"><stop offset="0" stop-color="#5bb4bd"/><stop offset=".04" stop-color="#5fb7bd"/><stop offset=".09" stop-color="#72c2bc"/><stop offset=".15" stop-color="#95d3b9"/><stop offset=".22" stop-color="#bae2b4"/><stop offset=".3" stop-color="#d2ebb2"/><stop offset=".4" stop-color="#dbefb3"/><stop offset=".55" stop-color="#ddefb3"/><stop offset=".75" stop-color="#ddefb3"/><stop offset="1" stop-color="#ddefb3"/></linearGradient>
<linearGradient id="q19" x1=".49" x2=".99" spreadMethod="reflect"><stop offset="0" stop-color="#60b8bd"/><stop offset=".04" stop-color="#65bbbd"/><stop offset=".09" stop-color="#78c6bc"/><stop offset=".15" stop-color="#9bd5b8"/><stop offset=".22" stop-color="#c0e4b4"/><stop offset=".3" stop-color="#d6ecb2"/><stop offset=".4" stop-color="#def0b3"/><stop offset=".55" stop-color="#e0f1b3"/><stop offset=".75" stop-color="#e0f1b3"/><stop offset="1" stop-color="#e0f1b3"/></linearGradient>
<linearGradient id="q20" x1=".49" x2=".99" spreadMethod="reflect"><stop offset="0" stop-color="#65bbbd"/><stop offset=".04" stop-color="#6bbebd"/><stop offset=".09" stop-color="#7ec9bb"/><stop offset=".15" stop-color="#a2d8b7"/><stop offset=".22" stop-color="#c5e6b3"/><stop offset=".3" stop-color="#daeeb2"/><stop offset=".4" stop-color="#e1f1b4"/><stop offset=".55" stop-color="#e3f2b4"/><stop offset=".75" stop-color="#e3f2b4"/><stop offset="1" stop-color="#e3f2b4"/></linearGradient>
<linearGradient id="q21" x1=".49" x2=".99" spreadMethod="reflect"><stop offset="0" stop-color="#6cbfbd"/><stop offset=".04" stop-color="#71c2bc"/><stop offset=".09" stop-color="#85ccbb"/><stop offset=".15" stop-color="#a8dbb7"/><stop offset=".22" stop-color="#cae8b3"/><stop offset=".3" stop-color="#def0b3"/><stop offset=".4" stop-color="#e4f2b5"/><stop offset=".55" stop-color="#e5f3b5"/><stop offset=".75" stop-color="#e5f3b5"/><stop offset="1" stop-color="#e5f3b5"/></linearGradient>
<linearGradient id="q22" x1=".49" x2=".99" spreadMethod="reflect"><stop offset="0" stop-color="#71c2bc"/><stop offset=".04" stop-color="#76c5bc"/><stop offset=".09" stop-color="#8aceba"/><stop offset=".15" stop-color="#addcb6"/><stop offset=".22" stop-color="#cee9b2"/><stop offset=".3" stop-color="#e0f1b3"/><stop offset=".4" stop-color="#e6f3b6"/><stop offset=".55" stop-color="#e7f4b6"/><stop offset=".75" stop-color="#e7f4b6"/><stop offset="1" stop-color="#e7f4b6"/></linearGradient>
<linearGradient id="q23" x1=".49" x2=".99" spreadMethod="reflect"><stop offset="0" stop-color="#76c5bc"/><stop offset=".04" stop-color="#7cc7bc"/><stop offset=".09" stop-color="#90d1b9"/><stop offset=".15" stop-color="#b1deb6"/><stop offset=".22" stop-color="#d1ebb2"/><stop offset=".3" stop-color="#e2f2b4"/><stop offset=".4" stop-color="#e8f4b7"/><stop offset=".55" stop-color="#e9f4b8"/><stop offset=".75" stop-color="#e9f4b8"/><stop offset="1" stop-color="#e9f4b8"/></linearGradient>
<linearGradient id="q24" x1=".49" x2=".99" spreadMethod="reflect"><stop offset="0" stop-color="#7cc8bb"/><stop offset=".04" stop-color="#82cabb"/><stop offset=".09" stop-color="#95d3b9"/><stop offset=".15" stop-color="#b6e0b5"/><stop offset=".22" stop-color="#d4ecb2"/><stop offset=".3" stop-color="#e5f3b5"/><stop offset=".4" stop-color="#eaf5b9"/><stop offset=".55" stop-color="#ebf5ba"/><stop offset=".75" stop-color="#ebf5ba"/><stop offset="1" stop-color="#ebf5ba"/></linearGradient>
<linearGradient id="q25" x1=".49" x2=".99" spreadMethod="reflect"><stop offset="0" stop-color="#82cbbb"/><stop offset=".04" stop-color="#88cdba"/><stop offset=".09" stop-color="#9bd6b8"/><stop offset=".15" stop-color="#bbe2b4"/><stop offset=".22" stop-color="#d8edb2"/><stop offset=".3" stop-color="#e7f4b6"/><stop offset=".4" stop-color="#ecf6bb"/><stop offset=".55" stop-color="#edf6bc"/><stop offset=".75" stop-color="#edf6bc"/><stop offset="1" stop-color="#edf6bc"/></linearGradient>
<linearGradient id="q26" x1=".49" x2=".99" spreadMethod="reflect"><stop offset="0" stop-color="#89ceba"/><stop offset=".04" stop-color="#8fd0ba"/><stop offset=".09" stop-color="#a2d8b7"/><stop offset=".15" stop-color="#c0e4b4"/><stop offset=".22" stop-color="#dbefb3"/><stop offset=".3" stop-color="#eaf5b8"/><stop offset=".4" stop-color="#eef7bd"/><stop offset=".55" stop-color="#eff7bf"/><stop offset=".75" stop-color="#eff7bf"/><stop offset="1" stop-color="#eff7bf"/></linearGradient>
<linearGradient id="q27" x1=".49" x2=".99" spreadMethod="reflect"><stop offset="0" stop-color="#92d2b9"/><stop offset=".04" stop-color="#97d4b9"/><stop offset=".09" stop-color="#a9dbb7"/><stop offset=".15" stop-color="#c5e6b3"/><stop offset=".22" stop-color="#dff0b3"/><stop offset=".3" stop-color="#ecf6ba"/><stop offset=".4" stop-color="#f0f7c0"/><stop offset=".55" stop-color="#f0f8c1"/><stop offset=".75" stop-color="#f0f8c1"/><stop offset="1" stop-color="#f0f8c1"/></linearGradient>
<linearGradient id="q28" x1=".49" x2=".99" spreadMethod="reflect"><stop offset="0" stop-color="#9ad5b8"/><stop offset=".04" stop-color="#9fd7b8"/><stop offset=".09" stop-color="#b0deb6"/><stop offset=".15" stop-color="#cbe8b3"/><stop offset=".22" stop-color="#e2f1b4"/><stop offset=".3" stop-color="#eef6bc"/><stop offset=".4" stop-color="#f1f8c3"/><stop offset=".55" stop-color="#f2f8c5"/><stop offset=".75" stop-color="#f2f8c5"/><stop offset="1" stop-color="#f2f8c5"/></linearGradient>
<linearGradient id="q29" x1=".49" x2=".99" spreadMethod="reflect"><stop offset="0" stop-color="#a3d9b7"/><stop offset=".04" stop-color="#a8dbb7"/><stop offset=".09" stop-color="#b8e1b5"/><stop offset=".15" stop-color="#d0eab2"/><stop offset=".22" stop-color="#e5f3b5"/><stop offset=".3" stop-color="#f0f7bf"/><stop offset=".4" stop-color="#f3f9c7"/><stop offset=".55" stop-color="#f3f9c8"/><stop offset=".75" stop-color="#f3f9c8"/><stop offset="1" stop-color="#f3f9c8"/></linearGradient>
<linearGradient id="q30" x1=".49" x2=".99" spreadMethod="reflect"><stop offset="0" stop-color="#addcb6"/><stop offset=".04" stop-color="#b1deb6"/><stop offset=".09" stop-color="#bfe4b4"/><stop offset=".15" stop-color="#d5ecb2"/><stop offset=".22" stop-color="#e8f4b7"/><stop offset=".3" stop-color="#f1f8c3"/><stop offset=".4" stop-color="#f4faca"/><stop offset=".55" stop-color="#f5facc"/><stop offset=".75" stop-color="#f5facc"/><stop offset="1" stop-color="#f5facc"/></linearGradient>
<linearGradient id="q31" x1=".49" x2=".99" spreadMethod="reflect"><stop offset="0" stop-color="#b7e0b5"/><stop offset=".04" stop-color="#bae2b4"/><stop offset=".09" stop-color="#c7e7b3"/><stop offset=".15" stop-color="#daeeb3"/><stop offset=".22" stop-color="#ebf5b9"/><stop offset=".3" stop-color="#f3f9c6"/><stop offset=".4" stop-color="#f5face"/><stop offset=".55" stop-color="#f6fad0"/><stop offset=".75" stop-color="#f6fad0"/><stop offset="1" stop-color="#f6fad0"/></linearGradient>
<linearGradient id="q32" x1=".49" x2=".99" spreadMethod="reflect"><stop offset="0" stop-color="#c1e4b4"/><stop offset=".04" stop-color="#c4e5b3"/><stop offset=".09" stop-color="#cfeab2"/><stop offset=".15" stop-color="#dff0b3"/><stop offset=".22" stop-color="#edf6bc"/><stop offset=".3" stop-color="#f4faca"/><stop offset=".4" stop-color="#f6fbd3"/><stop offset=".55" stop-color="#f7fbd4"/><stop offset=".75" stop-color="#f7fbd4"/><stop offset="1" stop-color="#f7fbd4"/></linearGradient>
<linearGradient id="q33" x1=".49" x2=".99" spreadMethod="reflect"><stop offset="0" stop-color="#cbe8b3"/><stop offset=".04" stop-color="#cde9b3"/><stop offset=".09" stop-color="#d6edb2"/><stop offset=".15" stop-color="#e4f2b5"/><stop offset=".22" stop-color="#f0f7c0"/><stop offset=".3" stop-color="#f5facf"/><stop offset=".4" stop-color="#f7fbd7"/><stop offset=".55" stop-color="#f8fcd9"/><stop offset=".75" stop-color="#f8fcd9"/><stop offset="1" stop-color="#f8fcd9"/></linearGradient>
<linearGradient id="q34" x1=".49" x2=".99" spreadMethod="reflect"><stop offset="0" stop-color="#d4ecb2"/><stop offset=".04" stop-color="#d6edb2"/><stop offset=".09" stop-color="#def0b3"/><stop offset=".15" stop-color="#e9f4b8"/><stop offset=".22" stop-color="#f2f8c5"/><stop offset=".3" stop-color="#f6fbd4"/><stop offset=".4" stop-color="#f8fcdb"/><stop offset=".55" stop-color="#f9fcdd"/><stop offset=".75" stop-color="#f9fcdd"/><stop offset="1" stop-color="#f9fcdd"/></linearGradient>
<linearGradient id="q35" x1=".49" x2=".99" spreadMethod="reflect"><stop offset="0" stop-color="#ddefb3"/><stop offset=".04" stop-color="#dff0b3"/><stop offset=".09" stop-color="#e5f3b5"/><stop offset=".15" stop-color="#edf6bc"/><stop offset=".22" stop-color="#f4faca"/><stop offset=".3" stop-color="#f8fcd9"/><stop offset=".4" stop-color="#f9fce0"/><stop offset=".55" stop-color="#f9fde1"/><stop offset=".75" stop-color="#f9fde1"/><stop offset="1" stop-color="#f9fde1"/></linearGradient>
<linearGradient id="q36" x1=".49" x2=".99" spreadMethod="reflect"><stop offset="0" stop-color="#e6f3b6"/><stop offset=".04" stop-color="#e7f4b6"/><stop offset=".09" stop-color="#ebf5b9"/><stop offset=".15" stop-color="#f1f8c2"/><stop offset=".22" stop-color="#f6fbd1"/><stop offset=".3" stop-color="#f9fcde"/><stop offset=".4" stop-color="#fafde4"/><stop offset=".55" stop-color="#fafde5"/><stop offset=".75" stop-color="#fafde5"/><stop offset="1" stop-color="#fafde5"/></linearGradient>
<linearGradient id="q37" x1=".49" x2=".99" spreadMethod="reflect"><stop offset="0" stop-color="#ecf6bb"/><stop offset=".04" stop-color="#edf6bc"/><stop offset=".09" stop-color="#f0f8c0"/><stop offset=".15" stop-color="#f4faca"/><stop offset=".22" stop-color="#f8fbd8"/><stop offset=".3" stop-color="#fafde3"/><stop offset=".4" stop-color="#fbfde8"/><stop offset=".55" stop-color="#fbfde9"/><stop offset=".75" stop-color="#fbfde9"/><stop offset="1" stop-color="#fbfde9"/></linearGradient>
<linearGradient id="q38" x1=".49" x2=".99" spreadMethod="reflect"><stop offset="0" stop-color="#f2f8c4"/><stop offset=".04" stop-color="#f2f9c5"/><stop offset=".09" stop-color="#f4f9ca"/><stop offset=".15" stop-color="#f6fbd4"/><stop offset=".22" stop-color="#f9fcdf"/><stop offset=".3" stop-color="#fbfde8"/><stop offset=".4" stop-color="#fbfeeb"/><stop offset=".55" stop-color="#fcfeec"/><stop offset=".75" stop-color="#fcfeec"/><stop offset="1" stop-color="#fcfeec"/></linearGradient>
<linearGradient id="q39" x1=".49" x2=".99" spreadMethod="reflect"><stop offset="0" stop-color="#f6fad1"/><stop offset=".04" stop-color="#f6fbd2"/><stop offset=".09" stop-color="#f7fbd6"/><stop offset=".15" stop-color="#f9fcde"/><stop offset=".22" stop-color="#fafde6"/><stop offset=".3" stop-color="#fcfeec"/><stop offset=".4" stop-color="#fcfeef"/><stop offset=".55" stop-color="#fcfef0"/><stop offset=".75" stop-color="#fcfef0"/><stop offset="1" stop-color="#fcfef0"/></linearGradient>
<linearGradient id="q40" x1=".49" x2=".99" spreadMethod="reflect"><stop offset="0" stop-color="#f8fcdc"/><stop offset=".04" stop-color="#f8fcdd"/><stop offset=".09" stop-color="#f9fce0"/><stop offset=".15" stop-color="#fafde6"/><stop offset=".22" stop-color="#fbfeec"/><stop offset=".3" stop-color="#fcfef0"/><stop offset=".4" stop-color="#fdfef2"/><stop offset=".55" stop-color="#fdfef2"/><stop offset=".75" stop-color="#fdfef2"/><stop offset="1" stop-color="#fdfef2"/></linearGradient>
<linearGradient id="q41" x1=".49" x2=".99" spreadMethod="reflect"><stop offset="0" stop-color="#fafde5"/><stop offset=".04" stop-color="#fafde5"/><stop offset=".09" stop-color="#fbfde8"/><stop offset=".15" stop-color="#fbfeec"/><stop offset=".22" stop-color="#fcfef0"/><stop offset=".3" stop-color="#fdfef3"/><stop offset=".4" stop-color="#fdfef5"/><stop offset=".55" stop-color="#fdfef5"/><stop offset=".75" stop-color="#fdfef5"/><stop offset="1" stop-color="#fdfef5"/></linearGradient>
<linearGradient id="q42" x1=".49" x2=".99" spreadMethod="reflect"><stop offset="0" stop-color="#fcfeed"/><stop offset=".04" stop-color="#fcfeee"/><stop offset=".09" stop-color="#fcfeef"/><stop offset=".15" stop-color="#fdfef2"/><stop offset=".22" stop-color="#fdfef4"/><stop offset=".3" stop-color="#fdfef6"/><stop offset=".4" stop-color="#fefef7"/><stop offset=".55" stop-color="#fefef8"/><stop offset=".75" stop-color="#fefef8"/><stop offset="1" stop-color="#fefef8"/></linearGradient>
<linearGradient id="q43" x1=".49" x2=".99" spreadMethod="reflect"><stop offset="0" stop-color="#fdfef2"/><stop offset=".04" stop-color="#fdfef2"/><stop offset=".09" stop-color="#fdfef3"/><stop offset=".15" stop-color="#fdfef5"/><stop offset=".22" stop-color="#fefef7"/><stop offset=".3" stop-color="#fefff8"/><stop offset=".4" stop-color="#fefff9"/><stop offset=".55" stop-color="#fefff9"/><stop offset=".75" stop-color="#fefffa"/><stop offset="1" stop-color="#fefffa"/></linearGradient>
<linearGradient id="q44" x1=".49" x2=".99" spreadMethod="reflect"><stop offset="0" stop-color="#fdfef7"/><stop offset=".04" stop-color="#fefef7"/><stop offset=".09" stop-color="#fefef8"/><stop offset=".15" stop-color="#fefff9"/><stop offset=".22" stop-color="#fefffa"/><stop offset=".3" stop-color="#fefffb"/><stop offset=".4" stop-color="#fefffb"/><stop offset=".55" stop-color="#fefffb"/><stop offset=".75" stop-color="#fefffb"/><stop offset="1" stop-color="#fefffb"/></linearGradient>
<linearGradient id="q45" x1=".49" x2=".99" spreadMethod="reflect"><stop offset="0" stop-color="#fefffa"/><stop offset=".04" stop-color="#fefffa"/><stop offset=".09" stop-color="#fefffb"/><stop offset=".15" stop-color="#fefffb"/><stop offset=".22" stop-color="#fefffc"/><stop offset=".3" stop-color="#fffffc"/><stop offset=".4" stop-color="#fffffd"/><stop offset=".55" stop-color="#fffffd"/><stop offset=".75" stop-color="#fffffd"/><stop offset="1" stop-color="#fffffd"/></linearGradient>
<linearGradient id="q46" x1=".49" x2=".99" spreadMethod="reflect"><stop offset="0" stop-color="#fffffd"/><stop offset=".04" stop-color="#fffffd"/><stop offset=".09" stop-color="#fffffd"/><stop offset=".15" stop-color="#fffffd"/><stop offset=".22" stop-color="#fffffd"/><stop offset=".3" stop-color="#fffffe"/><stop offset=".4" stop-color="#fffffe"/><stop offset=".55" stop-color="#fffffe"/><stop offset=".75" stop-color="#fffffe"/><stop offset="1" stop-color="#fffffe"/></linearGradient>
<linearGradient id="q47" x1=".49" x2=".99" spreadMethod="reflect"><stop offset="0" stop-color="#ffffff"/><stop offset=".04" stop-color="#ffffff"/><stop offset=".09" stop-color="#ffffff"/><stop offset=".15" stop-color="#ffffff"/><stop offset=".22" stop-color="#ffffff"/><stop offset=".3" stop-color="#ffffff"/><stop offset=".4" stop-color="#ffffff"/><stop offset=".55" stop-color="#ffffff"/><stop offset=".75" stop-color="#ffffff"/><stop offset="1" stop-color="#ffffff"/></linearGradient>
<linearGradient id="r0" x1=".49" x2=".99" spreadMethod="reflect"><stop offset="0" stop-color="#2467a6"/><stop offset=".04" stop-color="#2467a6"/><stop offset=".09" stop-color="#2468a7"/><stop offset=".15" stop-color="#2469a7"/><stop offset=".22" stop-color="#256ba8"/><stop offset=".3" stop-color="#266eaa"/><stop offset=".4" stop-color="#2773ac"/><stop offset=".55" stop-color="#2a7ab0"/><stop offset=".75" stop-color="#2e83b3"/><stop offset="1" stop-color="#3289b5"/></linearGradient>
<linearGradient id="r1" x1=".49" x2=".99" spreadMethod="reflect"><stop offset="0" stop-color="#2467a6"/><stop offset=".04" stop-color="#2468a7"/><stop offset=".09" stop-color="#2468a7"/><stop offset=".15" stop-color="#2469a7"/><stop offset=".22" stop-color="#256ca9"/><stop offset=".3" stop-color="#266faa"/><stop offset=".4" stop-color="#2874ad"/><stop offset=".55" stop-color="#2b7bb0"/><stop offset=".75" stop-color="#2f84b3"/><stop offset="1" stop-color="#328ab6"/></linearGradient>
<linearGradient id="r2" x1=".49" x2=".99" spreadMethod="reflect"><stop offset="0" stop-color="#2468a7"/><stop offset=".04" stop-color="#2468a7"/><stop offset=".09" stop-color="#2469a7"/><stop offset=".15" stop-color="#256ba8"/><stop offset=".22" stop-color="#256da9"/><stop offset=".3" stop-color="#2771ab"/><stop offset=".4" stop-color="#2977ae"/><stop offset=".55" stop-color="#2c7fb2"/><stop offset=".75" stop-color="#3188b5"/><stop offset="1" stop-color="#358eb7"/></linearGradient>
<linearGradient id="r3" x1=".49" x2=".99" spreadMethod="reflect"><stop offset="0" stop-color="#246aa8"/><stop offset=".04" stop-color="#246aa8"/><stop offset=".09" stop-color="#256ba8"/><stop offset=".15" stop-color="#256da9"/><stop offset=".22" stop-color="#2670ab"/><stop offset=".3" stop-color="#2875ad"/><stop offset=".4" stop-color="#2b7cb0"/><stop offset=".55" stop-color="#3086b4"/><stop offset=".75" stop-color="#358fb7"/><stop offset="1" stop-color="#3995b9"/></linearGradient>
<linearGradient id="r4" x1=".49" x2=".99" spreadMethod="reflect"><stop offset="0" stop-color="#256da9"/><stop offset=".04" stop-color="#256da9"/><stop offset=".09" stop-color="#266eaa"/><stop offset=".15" stop-color="#2771ab"/><stop offset=".22" stop-color="#2875ad"/><stop offset=".3" stop-color="#2b7cb0"/><stop offset=".4" stop-color="#2f85b4"/><stop offset=".55" stop-color="#3690b7"/><stop offset=".75" stop-color="#3d99ba"/><stop offset="1" stop-color="#419ebb"/></linearGradient>
<linearGradient id="r5" x1=".49" x2=".99" spreadMethod="reflect"><stop offset="0" stop-color="#2670ab"/><stop offset=".04" stop-color="#2771ab"/><stop offset=".09" stop-color="#2773ac"/><stop offset=".15" stop-color="#2977ae"/><stop offset=".22" stop-color="#2b7db1"/><stop offset=".3" stop-color="#3086b4"/><stop offset=".4" stop-color="#3690b8"/><stop offset=".55" stop-color="#409dbb"/><stop offset=".75" stop-color="#48a6bc"/><stop offset="1" stop-color="#4eaabd"/></linearGradient>
<linearGradient id="r6" x1=".49" x2=".99" spreadMethod="reflect"><stop offset="0" stop-color="#348db6"/><stop offset=".04" stop-color="#348db7"/><stop offset=".09" stop-color="#358fb7"/><stop offset=".15" stop-color="#3893b8"/><stop offset=".22" stop-color="#3c98ba"/><stop offset=".3" stop-color="#43a0bb"/><stop offset=".4" stop-color="#4ba8bc"/><stop offset=".55" stop-color="#55b0bd"/><stop offset=".75" stop-color="#5bb5bd"/><stop offset="1" stop-color="#5eb7bd"/></linearGradient>
<linearGradient id="r7" x1=".49" x2=".99" spreadMethod="reflect"><stop offset="0" stop-color="#3690b7"/><stop offset=".04" stop-color="#3691b8"/><stop offset=".09" stop-color="#3893b8"/><stop offset=".15" stop-color="#3c98ba"/><stop offset=".22" stop-color="#42a0bb"/><stop offset=".3" stop-color="#4ca9bc"/><stop offset=".4" stop-color="#57b2bd"/><stop offset=".55" stop-color="#64babd"/><stop offset=".75" stop-color="#6bbfbd"/><stop offset="1" stop-color="#6ec0bc"/></linearGradient>
<linearGradient id="r8" x1=".49" x2=".99" spreadMethod="reflect"><stop offset="0" stop-color="#3994b9"/><stop offset=".04" stop-color="#3995b9"/><stop offset=".09" stop-color="#3c98ba"/><stop offset=".15" stop-color="#429fbb"/><stop offset=".22" stop-color="#4ca9bd"/><stop offset=".3" stop-color="#5ab4bd"/><stop offset=".4" stop-color="#6abebd"/><stop offset=".55" stop-color="#78c6bc"/><stop offset=".75" stop-color="#80c9bb"/><stop offset="1" stop-color="#82cabb"/></linearGradient>
<linearGradient id="r9" x1=".49" x2=".99" spreadMethod="reflect"><stop offset="0" stop-color="#3c98ba"/><stop offset=".04" stop-color="#3d9aba"/><stop offset=".09" stop-color="#419ebb"/><stop offset=".15" stop-color="#4aa7bc"/><stop offset=".22" stop-color="#5ab4bd"/><stop offset=".3" stop-color="#6dc0bd"/><stop offset=".4" stop-color="#81cabb"/><stop offset=".55" stop-color="#90d0ba"/><stop offset=".75" stop-color="#95d3b9"/><stop offset="1" stop-color="#96d3b9"/></linearGradient>
<linearGradient id="r10" x1=".49" x2=".99" spreadMethod="reflect"><stop offset="0" stop-color="#3f9cba"/><stop offset=".04" stop-color="#409dbb"/><stop offset=".09" stop-color="#45a2bb"/><stop offset=".15" stop-color="#51adbd"/><stop offset=".22" stop-color="#63babd"/><stop offset=".3" stop-color="#7ac6bc"/><stop offset=".4" stop-color="#8ed0ba"/><stop offset=".55" stop-color="#9dd6b8"/><stop offset=".75" stop-color="#a1d8b8"/><stop offset="1" stop-color="#a2d8b7"/></linearGradient>
<linearGradient id="r11" x1=".49" x2=".99" spreadMethod="reflect"><stop offset="0" stop-color="#429fbb"/><stop offset=".04" stop-color="#44a1bb"/><stop offset=".09" stop-color="#4aa7bc"/><stop offset=".15" stop-color="#59b3bd"/><stop offset=".22" stop-color="#6fc1bc"/><stop offset=".3" stop-color="#89ceba"/><stop offset=".4" stop-color="#9ed7b8"/><stop offset=".55" stop-color="#abdcb6"/><stop offset=".75" stop-color="#aeddb6"/><stop offset="1" stop-color="#aeddb6"/></linearGradient>
<linearGradient id="r12" x1=".49" x2=".99" spreadMethod="reflect"><stop offset="0" stop-color="#46a3bc"/><stop offset=".04" stop-color="#48a5bc"/><stop offset=".09" stop-color="#51adbd"/><stop offset=".15" stop-color="#63babd"/><stop offset=".22" stop-color="#7fc9bb"/><stop offset=".3" stop-color="#9bd6b8"/><stop offset=".4" stop-color="#b0deb6"/><stop offset=".55" stop-color="#bae2b4"/><stop offset=".75" stop-color="#bce2b4"/><stop offset="1" stop-color="#bce2b4"/></linearGradient>
<linearGradient id="r13" x1=".49" x2=".99" spreadMethod="reflect"><stop offset="0" stop-color="#4aa7bc"/><stop offset=".04" stop-color="#4daabd"/><stop offset=".09" stop-color="#57b2bd"/><stop offset=".15" stop-color="#6dc0bd"/><stop offset=".22" stop-color="#8ccfba"/><stop offset=".3" stop-color="#a9dbb7"/><stop offset=".4" stop-color="#bbe2b4"/><stop offset=".55" stop-color="#c3e5b3"/><stop offset=".75" stop-color="#c4e6b3"/><stop offset="1" stop-color="#c5e6b3"/></linearGradient>
<linearGradient id="r14" x1=".49" x2=".99" spreadMethod="reflect"><stop offset="0" stop-color="#50acbd"/><stop offset=".04" stop-color="#53aebd"/><stop offset=".09" stop-color="#5eb7bd"/><stop offset=".15" stop-color="#76c4bc"/><stop offset=".22" stop-color="#95d3b9"/><stop offset=".3" stop-color="#b1deb6"/><stop offset=".4" stop-color="#c2e5b4"/><stop offset=".55" stop-color="#c8e7b3"/><stop offset=".75" stop-color="#c9e8b3"/><stop offset="1" stop-color="#c9e8b3"/></linearGradient>
<linearGradient id="r15" x1=".49" x2=".99" spreadMethod="reflect"><stop offset="0" stop-color="#56b1bd"/><stop offset=".04" stop-color="#5ab3bd"/><stop offset=".09" stop-color="#66bcbd"/><stop offset=".15" stop-color="#7fc9bb"/><stop offset=".22" stop-color="#9fd7b8"/><stop offset=".3" stop-color="#bae2b4"/><stop offset=".4" stop-color="#c9e7b3"/><stop offset=".55" stop-color="#cee9b2"/><stop offset=".75" stop-color="#ceeab2"/><stop offset="1" stop-color="#ceeab2"/></linearGradient>
<linearGradient id="r16" x1=".49" x2=".99" spreadMethod="reflect"><stop offset="0" stop-color="#5eb6bd"/><stop offset=".04" stop-color="#61b9bd"/><stop offset=".09" stop-color="#6fc1bc"/><stop offset=".15" stop-color="#8aceba"/><stop offset=".22" stop-color="#aadbb6"/><stop offset=".3" stop-color="#c3e5b3"/><stop offset=".4" stop-color="#cfeab2"/><stop offset=".55" stop-color="#d3ecb2"/><stop offset=".75" stop-color="#d4ecb2"/><stop offset="1" stop-color="#d4ecb2"/></linearGradient>
<linearGradient id="r17" x1=".49" x2=".99" spreadMethod="reflect"><stop offset="0" stop-color="#64babd"/><stop offset=".04" stop-color="#68bdbd"/><stop offset=".09" stop-color="#76c5bc"/><stop offset=".15" stop-color="#92d1b9"/><stop offset=".22" stop-color="#b1deb6"/><stop offset=".3" stop-color="#c8e7b3"/><stop offset=".4" stop-color="#d4ecb2"/><stop offset=".55" stop-color="#d7edb2"/><stop offset=".75" stop-color="#d7edb2"/><stop offset="1" stop-color="#d7edb2"/></linearGradient>
<linearGradient id="r18" x1=".49" x2=".99" spreadMethod="reflect"><stop offset="0" stop-color="#6abebd"/><stop offset=".04" stop-color="#6ec0bc"/><stop offset=".09" stop-color="#7dc8bb"/><stop offset=".15" stop-color="#99d5b8"/><stop offset=".22" stop-color="#b8e1b5"/><stop offset=".3" stop-color="#cde9b3"/><stop offset=".4" stop-color="#d7edb2"/><stop offset=".55" stop-color="#daeeb2"/><stop offset=".75" stop-color="#daeeb3"/><stop offset="1" stop-color="#daeeb3"/></linearGradient>
<linearGradient id="r19" x1=".49" x2=".99" spreadMethod="reflect"><stop offset="0" stop-color="#71c2bc"/><stop offset=".04" stop-color="#75c4bc"/><stop offset=".09" stop-color="#85ccbb"/><stop offset=".15" stop-color="#a0d7b8"/><stop offset=".22" stop-color="#bee3b4"/><stop offset=".3" stop-color="#d2ebb2"/><stop offset=".4" stop-color="#dbefb3"/><stop offset=".55" stop-color="#ddefb3"/><stop offset=".75" stop-color="#ddefb3"/><stop offset="1" stop-color="#ddefb3"/></linearGradient>
<linearGradient id="r20" x1=".49" x2=".99" spreadMethod="reflect"><stop offset="0" stop-color="#78c6bc"/><stop offset=".04" stop-color="#7dc8bb"/><stop offset=".09" stop-color="#8ccfba"/><stop offset=".15" stop-color="#a8dbb7"/><stop offset=".22" stop-color="#c4e6b3"/><stop offset=".3" stop-color="#d7edb2"/><stop offset=".4" stop-color="#def0b3"/><stop offset=".55" stop-color="#e0f1b3"/><stop offset=".75" stop-color="#e0f1b3"/><stop offset="1" stop-color="#e0f1b3"/></linearGradient>
<linearGradient id="r21" x1=".49" x2=".99" spreadMethod="reflect"><stop offset="0" stop-color="#80cabb"/><stop offset=".04" stop-color="#85ccbb"/><stop offset=".09" stop-color="#95d3b9"/><stop offset=".15" stop-color="#b0deb6"/><stop offset=".22" stop-color="#cbe8b3"/><stop offset=".3" stop-color="#dbefb3"/><stop offset=".4" stop-color="#e2f1b4"/><stop offset=".55" stop-color="#e3f2b4"/><stop offset=".75" stop-color="#e3f2b4"/><stop offset="1" stop-color="#e3f2b4"/></linearGradient>
<linearGradient id="r22" x1=".49" x2=".99" spreadMethod="reflect"><stop offset="0" stop-color="#86ccba"/><stop offset=".04" stop-color="#8bceba"/><stop offset=".09" stop-color="#9ad5b8"/><stop offset=".15" stop-color="#b5e0b5"/><stop offset=".22" stop-color="#cfeab2"/><stop offset=".3" stop-color="#def0b3"/><stop offset=".4" stop-color="#e4f2b5"/><stop offset=".55" stop-color="#e6f3b5"/><stop offset=".75" stop-color="#e6f3b5"/><stop offset="1" stop-color="#e6f3b5"/></linearGradient>
<linearGradient id="r23" x1=".49" x2=".99" spreadMethod="reflect"><stop offset="0" stop-color="#8ccfba"/><stop offset=".04" stop-color="#91d1b9"/><stop offset=".09" stop-color="#a0d8b8"/><stop offset=".15" stop-color="#bae2b4"/><stop offset=".22" stop-color="#d2ebb2"/><stop offset=".3" stop-color="#e1f1b4"/><stop offset=".4" stop-color="#e7f3b6"/><stop offset=".55" stop-color="#e8f4b7"/><stop offset=".75" stop-color="#e8f4b7"/><stop offset="1" stop-color="#e8f4b7"/></linearGradient>
<linearGradient id="r24" x1=".49" x2=".99" spreadMethod="reflect"><stop offset="0" stop-color="#93d2b9"/><stop offset=".04" stop-color="#97d4b9"/><stop offset=".09" stop-color="#a6dab7"/><stop offset=".15" stop-color="#bfe4b4"/><stop offset=".22" stop-color="#d6edb2"/><stop offset=".3" stop-color="#e4f2b5"/><stop offset=".4" stop-color="#e9f4b8"/><stop offset=".55" stop-color="#eaf5b8"/><stop offset=".75" stop-color="#eaf5b8"/><stop offset="1" stop-color="#eaf5b8"/></linearGradient>
<linearGradient id="r25" x1=".49" x2=".99" spreadMethod="reflect"><stop offset="0" stop-color="#9ad5b8"/><stop offset=".04" stop-color="#9ed6b8"/><stop offset=".09" stop-color="#addcb6"/><stop offset=".15" stop-color="#c4e6b3"/><stop offset=".22" stop-color="#daeeb2"/><stop offset=".3" stop-color="#e7f3b6"/><stop offset=".4" stop-color="#ebf5ba"/><stop offset=".55" stop-color="#ecf6bb"/><stop offset=".75" stop-color="#ecf6bb"/><stop offset="1" stop-color="#ecf6bb"/></linearGradient>
<linearGradient id="r26" x1=".49" x2=".99" spreadMethod="reflect"><stop offset="0" stop-color="#a1d8b8"/><stop offset=".04" stop-color="#a5d9b7"/><stop offset=".09" stop-color="#b3dfb5"/><stop offset=".15" stop-color="#c9e8b3"/><stop offset=".22" stop-color="#def0b3"/><stop offset=".3" stop-color="#eaf5b8"/><stop offset=".4" stop-color="#eef6bc"/><stop offset=".55" stop-color="#eef7bd"/><stop offset=".75" stop-color="#eef7be"/><stop offset="1" stop-color="#eef7be"/></linearGradient>
<linearGradient id="r27" x1=".49" x2=".99" spreadMethod="reflect"><stop offset="0" stop-color="#a8dbb7"/><stop offset=".04" stop-color="#acdcb6"/><stop offset=".09" stop-color="#bae1b4"/><stop offset=".15" stop-color="#ceeab2"/><stop offset=".22" stop-color="#e1f1b4"/><stop offset=".3" stop-color="#ecf6ba"/><stop offset=".4" stop-color="#eff7bf"/><stop offset=".55" stop-color="#f0f8c0"/><stop offset=".75" stop-color="#f0f8c0"/><stop offset="1" stop-color="#f0f8c0"/></linearGradient>
<linearGradient id="r28" x1=".49" x2=".99" spreadMethod="reflect"><stop offset="0" stop-color="#b0deb6"/><stop offset=".04" stop-color="#b4dfb5"/><stop offset=".09" stop-color="#c0e4b4"/><stop offset=".15" stop-color="#d3ecb2"/><stop offset=".22" stop-color="#e5f3b5"/><stop offset=".3" stop-color="#eef7bd"/><stop offset=".4" stop-color="#f1f8c2"/><stop offset=".55" stop-color="#f2f8c4"/><stop offset=".75" stop-color="#f2f8c4"/><stop offset="1" stop-color="#f2f8c4"/></linearGradient>
<linearGradient id="r29" x1=".49" x2=".99" spreadMethod="reflect"><stop offset="0" stop-color="#b8e1b5"/><stop offset=".04" stop-color="#bbe2b4"/><stop offset=".09" stop-color="#c7e7b3"/><stop offset=".15" stop-color="#d8eeb2"/><stop offset=".22" stop-color="#e8f4b7"/><stop offset=".3" stop-color="#f0f7c0"/><stop offset=".4" stop-color="#f3f9c6"/><stop offset=".55" stop-color="#f3f9c8"/><stop offset=".75" stop-color="#f3f9c8"/><stop offset="1" stop-color="#f3f9c8"/></linearGradient>
<linearGradient id="r30" x1=".49" x2=".99" spreadMethod="reflect"><stop offset="0" stop-color="#c0e4b4"/><stop offset=".04" stop-color="#c3e5b3"/><stop offset=".09" stop-color="#cde9b3"/><stop offset=".15" stop-color="#ddefb3"/><stop offset=".22" stop-color="#ebf5b9"/><stop offset=".3" stop-color="#f2f8c4"/><stop offset=".4" stop-color="#f4facb"/><stop offset=".55" stop-color="#f5facc"/><stop offset=".75" stop-color="#f5facc"/><stop offset="1" stop-color="#f5facc"/></linearGradient>
<linearGradient id="r31" x1=".49" x2=".99" spreadMethod="reflect"><stop offset="0" stop-color="#c9e7b3"/><stop offset=".04" stop-color="#cbe8b3"/><stop offset=".09" stop-color="#d4ecb2"/><stop offset=".15" stop-color="#e2f1b4"/><stop offset=".22" stop-color="#edf6bc"/><stop offset=".3" stop-color="#f3f9c8"/><stop offset=".4" stop-color="#f5facf"/><stop offset=".55" stop-color="#f6fad0"/><stop offset=".75" stop-color="#f6fad0"/><stop offset="1" stop-color="#f6fad0"/></linearGradient>
<linearGradient id="r32" x1=".49" x2=".99" spreadMethod="reflect"><stop offset="0" stop-color="#d1ebb2"/><stop offset=".04" stop-color="#d4ecb2"/><stop offset=".09" stop-color="#dbefb3"/><stop offset=".15" stop-color="#e6f3b6"/><stop offset=".22" stop-color="#f0f7c0"/><stop offset=".3" stop-color="#f5facc"/><stop offset=".4" stop-color="#f6fbd3"/><stop offset=".55" stop-color="#f7fbd4"/><stop offset=".75" stop-color="#f7fbd4"/><stop offset="1" stop-color="#f7fbd4"/></linearGradient>
<linearGradient id="r33" x1=".49" x2=".99" spreadMethod="reflect"><stop offset="0" stop-color="#daeeb2"/><stop offset=".04" stop-color="#dbefb3"/><stop offset=".09" stop-color="#e2f1b4"/><stop offset=".15" stop-color="#eaf5b9"/><stop offset=".22" stop-color="#f2f9c5"/><stop offset=".3" stop-color="#f6fbd1"/><stop offset=".4" stop-color="#f7fbd8"/><stop offset=".55" stop-color="#f8fcd9"/><stop offset=".75" stop-color="#f8fcd9"/><stop offset="1" stop-color="#f8fcd9"/></linearGradient>
<linearGradient id="r34" x1=".49" x2=".99" spreadMethod="reflect"><stop offset="0" stop-color="#e1f1b4"/><stop offset=".04" stop-color="#e2f2b4"/><stop offset=".09" stop-color="#e7f4b6"/><stop offset=".15" stop-color="#eef7bd"/><stop offset=".22" stop-color="#f4f9ca"/><stop offset=".3" stop-color="#f7fbd6"/><stop offset=".4" stop-color="#f8fcdc"/><stop offset=".55" stop-color="#f9fcdd"/><stop offset=".75" stop-color="#f9fcdd"/><stop offset="1" stop-color="#f9fcdd"/></linearGradient>
<linearGradient id="r35" x1=".49" x2=".99" spreadMethod="reflect"><stop offset="0" stop-color="#e7f4b6"/><stop offset=".04" stop-color="#e8f4b7"/><stop offset=".09" stop-color="#ecf6ba"/><stop offset=".15" stop-color="#f1f8c3"/><stop offset=".22" stop-color="#f6fad0"/><stop offset=".3" stop-color="#f8fcdb"/><stop offset=".4" stop-color="#f9fce0"/><stop offset=".55" stop-color="#f9fde1"/><stop offset=".75" stop-color="#f9fde1"/><stop offset="1" stop-color="#f9fde1"/></linearGradient>
<linearGradient id="r36" x1=".49" x2=".99" spreadMethod="reflect"><stop offset="0" stop-color="#edf6bc"/><stop offset=".04" stop-color="#eef6bd"/><stop offset=".09" stop-color="#f0f8c1"/><stop offset=".15" stop-color="#f4f9ca"/><stop offset=".22" stop-color="#f7fbd6"/><stop offset=".3" stop-color="#f9fce0"/><stop offset=".4" stop-color="#fafde4"/><stop offset=".55" stop-color="#fafde5"/><stop offset=".75" stop-color="#fafde5"/><stop offset="1" stop-color="#fafde5"/></linearGradient>
<linearGradient id="r37" x1=".49" x2=".99" spreadMethod="reflect"><stop offset="0" stop-color="#f1f8c3"/><stop offset=".04" stop-color="#f2f8c5"/><stop offset=".09" stop-color="#f4f9c9"/><stop offset=".15" stop-color="#f6fbd2"/><stop offset=".22" stop-color="#f8fcdd"/><stop offset=".3" stop-color="#fafde5"/><stop offset=".4" stop-color="#fbfde8"/><stop offset=".55" stop-color="#fbfde9"/><stop offset=".75" stop-color="#fbfde9"/><stop offset="1" stop-color="#fbfde9"/></linearGradient>
<linearGradient id="r38" x1=".49" x2=".99" spreadMethod="reflect"><stop offset="0" stop-color="#f5facd"/><stop offset=".04" stop-color="#f5face"/><stop offset=".09" stop-color="#f6fbd3"/><stop offset=".15" stop-color="#f8fcda"/><stop offset=".22" stop-color="#fafde3"/><stop offset=".3" stop-color="#fbfde9"/><stop offset=".4" stop-color="#fbfeec"/><stop offset=".55" stop-color="#fcfeec"/><stop offset=".75" stop-color="#fcfeec"/><stop offset="1" stop-color="#fcfeec"/></linearGradient>
<linearGradient id="r39" x1=".49" x2=".99" spreadMethod="reflect"><stop offset="0" stop-color="#f8fcd9"/><stop offset=".04" stop-color="#f8fcda"/><stop offset=".09" stop-color="#f9fcdd"/><stop offset=".15" stop-color="#fafde3"/><stop offset=".22" stop-color="#fbfde9"/><stop offset=".3" stop-color="#fcfeed"/><stop offset=".4" stop-color="#fcfeef"/><stop offset=".55" stop-color="#fcfef0"/><stop offset=".75" stop-color="#fcfef0"/><stop offset="1" stop-color="#fcfef0"/></linearGradient>
<linearGradient id="r40" x1=".49" x2=".99" spreadMethod="reflect"><stop offset="0" stop-color="#fafde2"/><stop offset=".04" stop-color="#fafde3"/><stop offset=".09" stop-color="#fafde5"/><stop offset=".15" stop-color="#fbfde9"/><stop offset=".22" stop-color="#fcfeee"/><stop offset=".3" stop-color="#fcfef1"/><stop offset=".4" stop-color="#fdfef2"/><stop offset=".55" stop-color="#fdfef2"/><stop offset=".75" stop-color="#fdfef2"/><stop offset="1" stop-color="#fdfef2"/></linearGradient>
<linearGradient id="r41" x1=".49" x2=".99" spreadMethod="reflect"><stop offset="0" stop-color="#fbfdea"/><stop offset=".04" stop-color="#fbfdea"/><stop offset=".09" stop-color="#fbfeec"/><stop offset=".15" stop-color="#fcfeef"/><stop offset=".22" stop-color="#fcfef1"/><stop offset=".3" stop-color="#fdfef4"/><stop offset=".4" stop-color="#fdfef5"/><stop offset=".55" stop-color="#fdfef5"/><stop offset=".75" stop-color="#fdfef5"/><stop offset="1" stop-color="#fdfef5"/></linearGradient>
<linearGradient id="r42" x1=".49" x2=".99" spreadMethod="reflect"><stop offset="0" stop-color="#fcfef1"/><stop offset=".04" stop-color="#fcfef1"/><stop offset=".09" stop-color="#fdfef2"/><stop offset=".15" stop-color="#fdfef4"/><stop offset=".22" stop-color="#fdfef5"/><stop offset=".3" stop-color="#fdfef7"/><stop offset=".4" stop-color="#fefef8"/><stop offset=".55" stop-color="#fefef8"/><stop offset=".75" stop-color="#fefef8"/><stop offset="1" stop-color="#fefef8"/></linearGradient>
<linearGradient id="r43" x1=".49" x2=".99" spreadMethod="reflect"><stop offset="0" stop-color="#fdfef4"/><stop offset=".04" stop-color="#fdfef5"/><stop offset=".09" stop-color="#fdfef5"/><stop offset=".15" stop-color="#fdfef6"/><stop offset=".22" stop-color="#fefef8"/><stop offset=".3" stop-color="#fefff9"/><stop offset=".4" stop-color="#fefff9"/><stop offset=".55" stop-color="#fefff9"/><stop offset=".75" stop-color="#fefffa"/><stop offset="1" stop-color="#fefffa"/></linearGradient>
<linearGradient id="r44" x1=".49" x2=".99" spreadMethod="reflect"><stop offset="0" stop-color="#fefef8"/><stop offset=".04" stop-color="#fefff8"/><stop offset=".09" stop-color="#fefff9"/><stop offset=".15" stop-color="#fefff9"/><stop offset=".22" stop-color="#fefffa"/><stop offset=".3" stop-color="#fefffb"/><stop offset=".4" stop-color="#fefffb"/><stop offset=".55" stop-color="#fefffb"/><stop offset=".75" stop-color="#fefffb"/><stop offset="1" stop-color="#fefffb"/></linearGradient>
<linearGradient id="r45" x1=".49" x2=".99" spreadMethod="reflect"><stop offset="0" stop-color="#fefffb"/><stop offset=".04" stop-color="#fefffb"/><stop offset=".09" stop-color="#fefffb"/><stop offset=".15" stop-color="#fefffc"/><stop offset=".22" stop-color="#fefffc"/><stop offset=".3" stop-color="#fffffd"/><stop offset=".4" stop-color="#fffffd"/><stop offset=".55" stop-color="#fffffd"/><stop offset=".75" stop-color="#fffffd"/><stop offset="1" stop-color="#fffffd"/></linearGradient>
<linearGradient id="r46" x1=".49" x2=".99" spreadMethod="reflect"><stop offset="0" stop-color="#fffffd"/><stop offset=".04" stop-color="#fffffd"/><stop offset=".09" stop-color="#fffffd"/><stop offset=".15" stop-color="#fffffd"/><stop offset=".22" stop-color="#fffffe"/><stop offset=".3" stop-color="#fffffe"/><stop offset=".4" stop-color="#fffffe"/><stop offset=".55" stop-color="#fffffe"/><stop offset=".75" stop-color="#fffffe"/><stop offset="1" stop-color="#fffffe"/></linearGradient>
<linearGradient id="r47" x1=".49" x2=".99" spreadMethod="reflect"><stop offset="0" stop-color="#ffffff"/><stop offset=".04" stop-color="#ffffff"/><stop offset=".09" stop-color="#ffffff"/><stop offset=".15" stop-color="#ffffff"/><stop offset=".22" stop-color="#ffffff"/><stop offset=".3" stop-color="#ffffff"/><stop offset=".4" stop-color="#ffffff"/><stop offset=".55" stop-color="#ffffff"/><stop offset=".75" stop-color="#ffffff"/><stop offset="1" stop-color="#ffffff"/></linearGradient>
<linearGradient id="s0" x1=".49" x2=".99" spreadMethod="reflect"><stop offset="0" stop-color="#2467a6"/><stop offset=".04" stop-color="#2467a6"/><stop offset=".09" stop-color="#2468a7"/><stop offset=".15" stop-color="#2469a7"/><stop offset=".22" stop-color="#256ba8"/><stop offset=".3" stop-color="#266eaa"/><stop offset=".4" stop-color="#2773ac"/><stop offset=".55" stop-color="#2a7ab0"/><stop offset=".75" stop-color="#2e83b3"/><stop offset="1" stop-color="#3289b5"/></linearGradient>
<linearGradient id="s1" x1=".49" x2=".99" spreadMethod="reflect"><stop offset="0" stop-color="#2467a6"/><stop offset=".04" stop-color="#2468a7"/><stop offset=".09" stop-color="#2468a7"/><stop offset=".15" stop-color="#2469a7"/><stop offset=".22" stop-color="#256ca9"/><stop offset=".3" stop-color="#266faa"/><stop offset=".4" stop-color="#2874ad"/><stop offset=".55" stop-color="#2b7bb0"/><stop offset=".75" stop-color="#2f84b3"/><stop offset="1" stop-color="#328ab6"/></linearGradient>
<linearGradient id="s2" x1=".49" x2=".99" spreadMethod="reflect"><stop offset="0" stop-color="#2468a7"/><stop offset=".04" stop-color="#2468a7"/><stop offset=".09" stop-color="#2469a7"/><stop offset=".15" stop-color="#256ba8"/><stop offset=".22" stop-color="#256da9"/><stop offset=".3" stop-color="#2771ab"/><stop offset=".4" stop-color="#2977ae"/><stop offset=".55" stop-color="#2c7fb2"/><stop offset=".75" stop-color="#3188b5"/><stop offset="1" stop-color="#358eb7"/></linearGradient>
<linearGradient id="s3" x1=".49" x2=".99" spreadMethod="reflect"><stop offset="0" stop-color="#246aa8"/><stop offset=".04" stop-color="#246aa8"/><stop offset=".09" stop-color="#256ba8"/><stop offset=".15" stop-color="#256da9"/><stop offset=".22" stop-color="#2670ab"/><stop offset=".3" stop-color="#2875ad"/><stop offset=".4" stop-color="#2b7cb0"/><stop offset=".55" stop-color="#3086b4"/><stop offset=".75" stop-color="#358fb7"/><stop offset="1" stop-color="#3995b9"/></linearGradient>
<linearGradient id="s4" x1=".49" x2=".99" spreadMethod="reflect"><stop offset="0" stop-color="#256da9"/><stop offset=".04" stop-color="#256da9"/><stop offset=".09" stop-color="#266eaa"/><stop offset=".15" stop-color="#2771ab"/><stop offset=".22" stop-color="#2875ad"/><stop offset=".3" stop-color="#2b7cb0"/><stop offset=".4" stop-color="#2f85b4"/><stop offset=".55" stop-color="#3690b7"/><stop offset=".75" stop-color="#3d99ba"/><stop offset="1" stop-color="#419ebb"/></linearGradient>
<linearGradient id="s5" x1=".49" x2=".99" spreadMethod="reflect"><stop offset="0" stop-color="#2670ab"/><stop offset=".04" stop-color="#2771ab"/><stop offset=".09" stop-color="#2773ac"/><stop offset=".15" stop-color="#2977ae"/><stop offset=".22" stop-color="#2b7db1"/><stop offset=".3" stop-color="#3086b4"/><stop offset=".4" stop-color="#3690b8"/><stop offset=".55" stop-color="#409dbb"/><stop offset=".75" stop-color="#48a6bc"/><stop offset="1" stop-color="#4eaabd"/></linearGradient>
<linearGradient id="s6" x1=".49" x2=".99" spreadMethod="reflect"><stop offset="0" stop-color="#348db6"/><stop offset=".04" stop-color="#348db7"/><stop offset=".09" stop-color="#358fb7"/><stop offset=".15" stop-color="#3893b8"/><stop offset=".22" stop-color="#3c98ba"/><stop offset=".3" stop-color="#43a0bb"/><stop offset=".4" stop-color="#4ba8bc"/><stop offset=".55" stop-color="#55b0bd"/><stop offset=".75" stop-color="#5bb5bd"/><stop offset="1" stop-color="#5eb7bd"/></linearGradient>
<linearGradient id="s7" x1=".49" x2=".99" spreadMethod="reflect"><stop offset="0" stop-color="#3690b7"/><stop offset=".04" stop-color="#3691b8"/><stop offset=".09" stop-color="#3893b8"/><stop offset=".15" stop-color="#3c98ba"/><stop offset=".22" stop-color="#42a0bb"/><stop offset=".3" stop-color="#4ca9bc"/><stop offset=".4" stop-color="#57b2bd"/><stop offset=".55" stop-color="#64babd"/><stop offset=".75" stop-color="#6bbfbd"/><stop offset="1" stop-color="#6ec0bc"/></linearGradient>
<linearGradient id="s8" x1=".49" x2=".99" spreadMethod="reflect"><stop offset="0" stop-color="#3994b9"/><stop offset=".04" stop-color="#3995b9"/><stop offset=".09" stop-color="#3c98ba"/><stop offset=".15" stop-color="#429fbb"/><stop offset=".22" stop-color="#4ca9bd"/><stop offset=".3" stop-color="#5ab4bd"/><stop offset=".4" stop-color="#6abebd"/><stop offset=".55" stop-color="#78c6bc"/><stop offset=".75" stop-color="#80c9bb"/><stop offset="1" stop-color="#82cabb"/></linearGradient>
<linearGradient id="s9" x1=".49" x2=".99" spreadMethod="reflect"><stop offset="0" stop-color="#3c98ba"/><stop offset=".04" stop-color="#3d9aba"/><stop offset=".09" stop-color="#419ebb"/><stop offset=".15" stop-color="#4aa7bc"/><stop offset=".22" stop-color="#5ab3bd"/><stop offset=".3" stop-color="#6dc0bd"/><stop offset=".4" stop-color="#81cabb"/><stop offset=".55" stop-color="#90d0ba"/><stop offset=".75" stop-color="#95d3b9"/><stop offset="1" stop-color="#96d3b9"/></linearGradient>
<linearGradient id="s10" x1=".49" x2=".99" spreadMethod="reflect"><stop offset="0" stop-color="#3e9bba"/><stop offset=".04" stop-color="#409dbb"/><stop offset=".09" stop-color="#45a2bb"/><stop offset=".15" stop-color="#50acbd"/><stop offset=".22" stop-color="#63babd"/><stop offset=".3" stop-color="#79c6bc"/><stop offset=".4" stop-color="#8ed0ba"/><stop offset=".55" stop-color="#9cd6b8"/><stop offset=".75" stop-color="#a1d8b8"/><stop offset="1" stop-color="#a2d8b7"/></linearGradient>
<linearGradient id="s11" x1=".49" x2=".99" spreadMethod="reflect"><stop offset="0" stop-color="#419ebb"/><stop offset=".04" stop-color="#43a0bb"/><stop offset=".09" stop-color="#49a6bc"/><stop offset=".15" stop-color="#58b2bd"/><stop offset=".22" stop-color="#6fc1bc"/><stop offset=".3" stop-color="#89cdba"/><stop offset=".4" stop-color="#9ed7b8"/><stop offset=".55" stop-color="#abdcb6"/><stop offset=".75" stop-color="#aeddb6"/><stop offset="1" stop-color="#aeddb6"/></linearGradient>
<linearGradient id="s12" x1=".49" x2=".99" spreadMethod="reflect"><stop offset="0" stop-color="#44a2bc"/><stop offset=".04" stop-color="#47a4bc"/><stop offset=".09" stop-color="#4fabbd"/><stop offset=".15" stop-color="#62b9bd"/><stop offset=".22" stop-color="#7ec8bb"/><stop offset=".3" stop-color="#9bd5b8"/><stop offset=".4" stop-color="#afdeb6"/><stop offset=".55" stop-color="#bae2b4"/><stop offset=".75" stop-color="#bce2b4"/><stop offset="1" stop-color="#bce2b4"/></linearGradient>
<linearGradient id="s13" x1=".49" x2=".99" spreadMethod="reflect"><stop offset="0" stop-color="#48a5bc"/><stop offset=".04" stop-color="#4aa7bc"/><stop offset=".09" stop-color="#54b0bd"/><stop offset=".15" stop-color="#6abebd"/><stop offset=".22" stop-color="#8aceba"/><stop offset=".3" stop-color="#a8dbb7"/><stop offset=".4" stop-color="#bbe2b4"/><stop offset=".55" stop-color="#c3e5b3"/><stop offset=".75" stop-color="#c4e6b3"/><stop offset="1" stop-color="#c5e6b3"/></linearGradient>
<linearGradient id="s14" x1=".49" x2=".99" spreadMethod="reflect"><stop offset="0" stop-color="#4ba8bc"/><stop offset=".04" stop-color="#4eabbd"/><stop offset=".09" stop-color="#59b3bd"/><stop offset=".15" stop-color="#71c2bc"/><stop offset=".22" stop-color="#92d2b9"/><stop offset=".3" stop-color="#b0deb6"/><stop offset=".4" stop-color="#c1e4b4"/><stop offset=".55" stop-color="#c8e7b3"/><stop offset=".75" stop-color="#c9e8b3"/><stop offset="1" stop-color="#c9e8b3"/></linearGradient>
<linearGradient id="s15" x1=".49" x2=".99" spreadMethod="reflect"><stop offset="0" stop-color="#4facbd"/><stop offset=".04" stop-color="#52aebd"/><stop offset=".09" stop-color="#5fb7bd"/><stop offset=".15" stop-color="#79c6bc"/><stop offset=".22" stop-color="#9cd6b8"/><stop offset=".3" stop-color="#b8e1b5"/><stop offset=".4" stop-color="#c8e7b3"/><stop offset=".55" stop-color="#cee9b2"/><stop offset=".75" stop-color="#ceeab2"/><stop offset="1" stop-color="#ceeab2"/></linearGradient>
<linearGradient id="s16" x1=".49" x2=".99" spreadMethod="reflect"><stop offset="0" stop-color="#54afbd"/><stop offset=".04" stop-color="#57b2bd"/><stop offset=".09" stop-color="#65bbbd"/><stop offset=".15" stop-color="#82cabb"/><stop offset=".22" stop-color="#a6dab7"/><stop offset=".3" stop-color="#c1e4b4"/><stop offset=".4" stop-color="#cfeab2"/><stop offset=".55" stop-color="#d3ebb2"/><stop offset=".75" stop-color="#d4ecb2"/><stop offset="1" stop-color="#d4ecb2"/></linearGradient>
<linearGradient id="s17" x1=".49" x2=".99" spreadMethod="reflect"><stop offset="0" stop-color="#58b2bd"/><stop offset=".04" stop-color="#5cb5bd"/><stop offset=".09" stop-color="#6bbebd"/><stop offset=".15" stop-color="#89ceba"/><stop offset=".22" stop-color="#addcb6"/><stop offset=".3" stop-color="#c7e6b3"/><stop offset=".4" stop-color="#d3ebb2"/><stop offset=".55" stop-color="#d7edb2"/><stop offset=".75" stop-color="#d7edb2"/><stop offset="1" stop-color="#d7edb2"/></linearGradient>
<linearGradient id="s18" x1=".49" x2=".99" spreadMethod="reflect"><stop offset="0" stop-color="#5cb5bd"/><stop offset=".04" stop-color="#60b8bd"/><stop offset=".09" stop-color="#71c2bc"/><stop offset=".15" stop-color="#8fd0ba"/><stop offset=".22" stop-color="#b2dfb5"/><stop offset=".3" stop-color="#cbe8b3"/><stop offset=".4" stop-color="#d7edb2"/><stop offset=".55" stop-color="#daeeb2"/><stop offset=".75" stop-color="#daeeb3"/><stop offset="1" stop-color="#daeeb3"/></linearGradient>
<linearGradient id="s19" x1=".49" x2=".99" spreadMethod="reflect"><stop offset="0" stop-color="#62b9bd"/><stop offset=".04" stop-color="#66bbbd"/><stop offset=".09" stop-color="#77c5bc"/><stop offset=".15" stop-color="#96d3b9"/><stop offset=".22" stop-color="#b9e1b5"/><stop offset=".3" stop-color="#d0eab2"/><stop offset=".4" stop-color="#daeeb2"/><stop offset=".55" stop-color="#ddefb3"/><stop offset=".75" stop-color="#ddefb3"/><stop offset="1" stop-color="#ddefb3"/></linearGradient>
<linearGradient id="s20" x1=".49" x2=".99" spreadMethod="reflect"><stop offset="0" stop-color="#67bcbd"/><stop offset=".04" stop-color="#6bbfbd"/><stop offset=".09" stop-color="#7dc8bb"/><stop offset=".15" stop-color="#9dd6b8"/><stop offset=".22" stop-color="#bfe4b4"/><stop offset=".3" stop-color="#d5ecb2"/><stop offset=".4" stop-color="#def0b3"/><stop offset=".55" stop-color="#e0f1b3"/><stop offset=".75" stop-color="#e0f1b3"/><stop offset="1" stop-color="#e0f1b3"/></linearGradient>
<linearGradient id="s21" x1=".49" x2=".99" spreadMethod="reflect"><stop offset="0" stop-color="#6dc0bd"/><stop offset=".04" stop-color="#72c2bc"/><stop offset=".09" stop-color="#84cbbb"/><stop offset=".15" stop-color="#a4d9b7"/><stop offset=".22" stop-color="#c6e6b3"/><stop offset=".3" stop-color="#daeeb2"/><stop offset=".4" stop-color="#e2f1b4"/><stop offset=".55" stop-color="#e3f2b4"/><stop offset=".75" stop-color="#e3f2b4"/><stop offset="1" stop-color="#e3f2b4"/></linearGradient>
<linearGradient id="s22" x1=".49" x2=".99" spreadMethod="reflect"><stop offset="0" stop-color="#72c2bc"/><stop offset=".04" stop-color="#77c5bc"/><stop offset=".09" stop-color="#89ceba"/><stop offset=".15" stop-color="#a9dbb7"/><stop offset=".22" stop-color="#c9e8b3"/><stop offset=".3" stop-color="#ddefb3"/><stop offset=".4" stop-color="#e4f2b5"/><stop offset=".55" stop-color="#e6f3b5"/><stop offset=".75" stop-color="#e6f3b5"/><stop offset="1" stop-color="#e6f3b5"/></linearGradient>
<linearGradient id="s23" x1=".49" x2=".99" spreadMethod="reflect"><stop offset="0" stop-color="#77c5bc"/><stop offset=".04" stop-color="#7cc8bb"/><stop offset=".09" stop-color="#8fd0ba"/><stop offset=".15" stop-color="#aeddb6"/><stop offset=".22" stop-color="#cde9b3"/><stop offset=".3" stop-color="#e0f0b3"/><stop offset=".4" stop-color="#e6f3b6"/><stop offset=".55" stop-color="#e8f4b7"/><stop offset=".75" stop-color="#e8f4b7"/><stop offset="1" stop-color="#e8f4b7"/></linearGradient>
<linearGradient id="s24" x1=".49" x2=".99" spreadMethod="reflect"><stop offset="0" stop-color="#7dc8bb"/><stop offset=".04" stop-color="#82cabb"/><stop offset=".09" stop-color="#94d3b9"/><stop offset=".15" stop-color="#b3dfb5"/><stop offset=".22" stop-color="#d1ebb2"/><stop offset=".3" stop-color="#e3f2b4"/><stop offset=".4" stop-color="#e9f4b8"/><stop offset=".55" stop-color="#eaf5b8"/><stop offset=".75" stop-color="#eaf5b8"/><stop offset="1" stop-color="#eaf5b8"/></linearGradient>
<linearGradient id="s25" x1=".49" x2=".99" spreadMethod="reflect"><stop offset="0" stop-color="#83cbbb"/><stop offset=".04" stop-color="#88cdba"/><stop offset=".09" stop-color="#9ad5b8"/><stop offset=".15" stop-color="#b8e1b5"/><stop offset=".22" stop-color="#d5ecb2"/><stop offset=".3" stop-color="#e5f3b5"/><stop offset=".4" stop-color="#ebf5ba"/><stop offset=".55" stop-color="#ecf6bb"/><stop offset=".75" stop-color="#ecf6bb"/><stop offset="1" stop-color="#ecf6bb"/></linearGradient>
<linearGradient id="s26" x1=".49" x2=".99" spreadMethod="reflect"><stop offset="0" stop-color="#89ceba"/><stop offset=".04" stop-color="#8ed0ba"/><stop offset=".09" stop-color="#a1d8b8"/><stop offset=".15" stop-color="#bee3b4"/><stop offset=".22" stop-color="#d9eeb2"/><stop offset=".3" stop-color="#e8f4b7"/><stop offset=".4" stop-color="#edf6bc"/><stop offset=".55" stop-color="#eef7bd"/><stop offset=".75" stop-color="#eef7be"/><stop offset="1" stop-color="#eef7be"/></linearGradient>
<linearGradient id="s27" x1=".49" x2=".99" spreadMethod="reflect"><stop offset="0" stop-color="#92d2b9"/><stop offset=".04" stop-color="#97d3b9"/><stop offset=".09" stop-color="#a8dbb7"/><stop offset=".15" stop-color="#c3e5b3"/><stop offset=".22" stop-color="#ddefb3"/><stop offset=".3" stop-color="#eaf5b9"/><stop offset=".4" stop-color="#eff7bf"/><stop offset=".55" stop-color="#f0f7c0"/><stop offset=".75" stop-color="#f0f8c0"/><stop offset="1" stop-color="#f0f8c0"/></linearGradient>
<linearGradient id="s28" x1=".49" x2=".99" spreadMethod="reflect"><stop offset="0" stop-color="#9ad5b8"/><stop offset=".04" stop-color="#9fd7b8"/><stop offset=".09" stop-color="#afddb6"/><stop offset=".15" stop-color="#c9e7b3"/><stop offset=".22" stop-color="#e0f1b4"/><stop offset=".3" stop-color="#edf6bb"/><stop offset=".4" stop-color="#f1f8c2"/><stop offset=".55" stop-color="#f2f8c4"/><stop offset=".75" stop-color="#f2f8c4"/><stop offset="1" stop-color="#f2f8c4"/></linearGradient>
<linearGradient id="s29" x1=".49" x2=".99" spreadMethod="reflect"><stop offset="0" stop-color="#a3d9b7"/><stop offset=".04" stop-color="#a8dab7"/><stop offset=".09" stop-color="#b7e0b5"/><stop offset=".15" stop-color="#cfeab2"/><stop offset=".22" stop-color="#e4f2b5"/><stop offset=".3" stop-color="#eff7bf"/><stop offset=".4" stop-color="#f2f9c6"/><stop offset=".55" stop-color="#f3f9c8"/><stop offset=".75" stop-color="#f3f9c8"/><stop offset="1" stop-color="#f3f9c8"/></linearGradient>
<linearGradient id="s30" x1=".49" x2=".99" spreadMethod="reflect"><stop offset="0" stop-color="#addcb6"/><stop offset=".04" stop-color="#b1deb6"/><stop offset=".09" stop-color="#bfe3b4"/><stop offset=".15" stop-color="#d4ecb2"/><stop offset=".22" stop-color="#e7f4b6"/><stop offset=".3" stop-color="#f1f8c2"/><stop offset=".4" stop-color="#f4f9ca"/><stop offset=".55" stop-color="#f5facc"/><stop offset=".75" stop-color="#f5facc"/><stop offset="1" stop-color="#f5facc"/></linearGradient>
<linearGradient id="s31" x1=".49" x2=".99" spreadMethod="reflect"><stop offset="0" stop-color="#b7e0b5"/><stop offset=".04" stop-color="#bae2b4"/><stop offset=".09" stop-color="#c7e6b3"/><stop offset=".15" stop-color="#daeeb2"/><stop offset=".22" stop-color="#eaf5b9"/><stop offset=".3" stop-color="#f2f9c6"/><stop offset=".4" stop-color="#f5face"/><stop offset=".55" stop-color="#f6fad0"/><stop offset=".75" stop-color="#f6fad0"/><stop offset="1" stop-color="#f6fad0"/></linearGradient>
<linearGradient id="s32" x1=".49" x2=".99" spreadMethod="reflect"><stop offset="0" stop-color="#c1e4b4"/><stop offset=".04" stop-color="#c4e5b3"/><stop offset=".09" stop-color="#cfeab2"/><stop offset=".15" stop-color="#dff0b3"/><stop offset=".22" stop-color="#edf6bc"/><stop offset=".3" stop-color="#f4f9ca"/><stop offset=".4" stop-color="#f6fbd3"/><stop offset=".55" stop-color="#f7fbd4"/><stop offset=".75" stop-color="#f7fbd4"/><stop offset="1" stop-color="#f7fbd4"/></linearGradient>
<linearGradient id="s33" x1=".49" x2=".99" spreadMethod="reflect"><stop offset="0" stop-color="#cbe8b3"/><stop offset=".04" stop-color="#cde9b3"/><stop offset=".09" stop-color="#d6edb2"/><stop offset=".15" stop-color="#e4f2b5"/><stop offset=".22" stop-color="#f0f7c0"/><stop offset=".3" stop-color="#f5facf"/><stop offset=".4" stop-color="#f7fbd7"/><stop offset=".55" stop-color="#f8fcd9"/><stop offset=".75" stop-color="#f8fcd9"/><stop offset="1" stop-color="#f8fcd9"/></linearGradient>
<linearGradient id="s34" x1=".49" x2=".99" spreadMethod="reflect"><stop offset="0" stop-color="#d4ecb2"/><stop offset=".04" stop-color="#d6edb2"/><stop offset=".09" stop-color="#def0b3"/><stop offset=".15" stop-color="#e9f4b8"/><stop offset=".22" stop-color="#f2f8c5"/><stop offset=".3" stop-color="#f6fbd4"/><stop offset=".4" stop-color="#f8fcdb"/><stop offset=".55" stop-color="#f9fcdd"/><stop offset=".75" stop-color="#f9fcdd"/><stop offset="1" stop-color="#f9fcdd"/></linearGradient>
<linearGradient id="s35" x1=".49" x2=".99" spreadMethod="reflect"><stop offset="0" stop-color="#ddefb3"/><stop offset=".04" stop-color="#dff0b3"/><stop offset=".09" stop-color="#e5f3b5"/><stop offset=".15" stop-color="#edf6bc"/><stop offset=".22" stop-color="#f4faca"/><stop offset=".3" stop-color="#f8fcd9"/><stop offset=".4" stop-color="#f9fce0"/><stop offset=".55" stop-color="#f9fde1"/><stop offset=".75" stop-color="#f9fde1"/><stop offset="1" stop-color="#f9fde1"/></linearGradient>
<linearGradient id="s36" x1=".49" x2=".99" spreadMethod="reflect"><stop offset="0" stop-color="#e6f3b6"/><stop offset=".04" stop-color="#e7f4b6"/><stop offset=".09" stop-color="#ebf5b9"/><stop offset=".15" stop-color="#f1f8c2"/><stop offset=".22" stop-color="#f6fbd1"/><stop offset=".3" stop-color="#f9fcde"/><stop offset=".4" stop-color="#fafde4"/><stop offset=".55" stop-color="#fafde5"/><stop offset=".75" stop-color="#fafde5"/><stop offset="1" stop-color="#fafde5"/></linearGradient>
<linearGradient id="s37" x1=".49" x2=".99" spreadMethod="reflect"><stop offset="0" stop-color="#ecf6bb"/><stop offset=".04" stop-color="#edf6bc"/><stop offset=".09" stop-color="#f0f8c0"/><stop offset=".15" stop-color="#f4faca"/><stop offset=".22" stop-color="#f8fbd8"/><stop offset=".3" stop-color="#fafde3"/><stop offset=".4" stop-color="#fbfde8"/><stop offset=".55" stop-color="#fbfde9"/><stop offset=".75" stop-color="#fbfde9"/><stop offset="1" stop-color="#fbfde9"/></linearGradient>
<linearGradient id="s38" x1=".49" x2=".99" spreadMethod="reflect"><stop offset="0" stop-color="#f2f8c4"/><stop offset=".04" stop-color="#f2f9c5"/><stop offset=".09" stop-color="#f4f9ca"/><stop offset=".15" stop-color="#f6fbd4"/><stop offset=".22" stop-color="#f9fcdf"/><stop offset=".3" stop-color="#fbfde8"/><stop offset=".4" stop-color="#fbfeeb"/><stop offset=".55" stop-color="#fcfeec"/><stop offset=".75" stop-color="#fcfeec"/><stop offset="1" stop-color="#fcfeec"/></linearGradient>
<linearGradient id="s39" x1=".49" x2=".99" spreadMethod="reflect"><stop offset="0" stop-color="#f6fad1"/><stop offset=".04" stop-color="#f6fbd2"/><stop offset=".09" stop-color="#f7fbd6"/><stop offset=".15" stop-color="#f9fcde"/><stop offset=".22" stop-color="#fafde6"/><stop offset=".3" stop-color="#fcfeec"/><stop offset=".4" stop-color="#fcfeef"/><stop offset=".55" stop-color="#fcfef0"/><stop offset=".75" stop-color="#fcfef0"/><stop offset="1" stop-color="#fcfef0"/></linearGradient>
<linearGradient id="s40" x1=".49" x2=".99" spreadMethod="reflect"><stop offset="0" stop-color="#f8fcdc"/><stop offset=".04" stop-color="#f8fcdd"/><stop offset=".09" stop-color="#f9fce0"/><stop offset=".15" stop-color="#fafde6"/><stop offset=".22" stop-color="#fbfeec"/><stop offset=".3" stop-color="#fcfef0"/><stop offset=".4" stop-color="#fdfef2"/><stop offset=".55" stop-color="#fdfef2"/><stop offset=".75" stop-color="#fdfef2"/><stop offset="1" stop-color="#fdfef2"/></linearGradient>
<linearGradient id="s41" x1=".49" x2=".99" spreadMethod="reflect"><stop offset="0" stop-color="#fafde5"/><stop offset=".04" stop-color="#fafde5"/><stop offset=".09" stop-color="#fbfde8"/><stop offset=".15" stop-color="#fbfeec"/><stop offset=".22" stop-color="#fcfef0"/><stop offset=".3" stop-color="#fdfef3"/><stop offset=".4" stop-color="#fdfef5"/><stop offset=".55" stop-color="#fdfef5"/><stop offset=".75" stop-color="#fdfef5"/><stop offset="1" stop-color="#fdfef5"/></linearGradient>
<linearGradient id="s42" x1=".49" x2=".99" spreadMethod="reflect"><stop offset="0" stop-color="#fcfeed"/><stop offset=".04" stop-color="#fcfeee"/><stop offset=".09" stop-color="#fcfeef"/><stop offset=".15" stop-color="#fdfef2"/><stop offset=".22" stop-color="#fdfef4"/><stop offset=".3" stop-color="#fdfef6"/><stop offset=".4" stop-color="#fefef7"/><stop offset=".55" stop-color="#fefef8"/><stop offset=".75" stop-color="#fefef8"/><stop offset="1" stop-color="#fefef8"/></linearGradient>
<linearGradient id="s43" x1=".49" x2=".99" spreadMethod="reflect"><stop offset="0" stop-color="#fdfef2"/><stop offset=".04" stop-color="#fdfef2"/><stop offset=".09" stop-color="#fdfef3"/><stop offset=".15" stop-color="#fdfef5"/><stop offset=".22" stop-color="#fefef7"/><stop offset=".3" stop-color="#fefff8"/><stop offset=".4" stop-color="#fefff9"/><stop offset=".55" stop-color="#fefff9"/><stop offset=".75" stop-color="#fefffa"/><stop offset="1" stop-color="#fefffa"/></linearGradient>
<linearGradient id="s44" x1=".49" x2=".99" spreadMethod="reflect"><stop offset="0" stop-color="#fdfef7"/><stop offset=".04" stop-color="#fefef7"/><stop offset=".09" stop-color="#fefef8"/><stop offset=".15" stop-color="#fefff9"/><stop offset=".22" stop-color="#fefffa"/><stop offset=".3" stop-color="#fefffb"/><stop offset=".4" stop-color="#fefffb"/><stop offset=".55" stop-color="#fefffb"/><stop offset=".75" stop-color="#fefffb"/><stop offset="1" stop-color="#fefffb"/></linearGradient>
<linearGradient id="s45" x1=".49" x2=".99" spreadMethod="reflect"><stop offset="0" stop-color="#fefffa"/><stop offset=".04" stop-color="#fefffa"/><stop offset=".09" stop-color="#fefffb"/><stop offset=".15" stop-color="#fefffb"/><stop offset=".22" stop-color="#fefffc"/><stop offset=".3" stop-color="#fffffc"/><stop offset=".4" stop-color="#fffffd"/><stop offset=".55" stop-color="#fffffd"/><stop offset=".75" stop-color="#fffffd"/><stop offset="1" stop-color="#fffffd"/></linearGradient>
<linearGradient id="s46" x1=".49" x2=".99" spreadMethod="reflect"><stop offset="0" stop-color="#fffffd"/><stop offset=".04" stop-color="#fffffd"/><stop offset=".09" stop-color="#fffffd"/><stop offset=".15" stop-color="#fffffd"/><stop offset=".22" stop-color="#fffffd"/><stop offset=".3" stop-color="#fffffe"/><stop offset=".4" stop-color="#fffffe"/><stop offset=".55" stop-color="#fffffe"/><stop offset=".75" stop-color="#fffffe"/><stop offset="1" stop-color="#fffffe"/></linearGradient>
<linearGradient id="s47" x1=".49" x2=".99" spreadMethod="reflect"><stop offset="0" stop-color="#ffffff"/><stop offset=".04" stop-color="#ffffff"/><stop offset=".09" stop-color="#ffffff"/><stop offset=".15" stop-color="#ffffff"/><stop offset=".22" stop-color="#ffffff"/><stop offset=".3" stop-color="#ffffff"/><stop offset=".4" stop-color="#ffffff"/><stop offset=".55" stop-color="#ffffff"/><stop offset=".75" stop-color="#ffffff"/><stop offset="1" stop-color="#ffffff"/></linearGradient>
<linearGradient id="t0" x1=".49" x2=".99" spreadMethod="reflect"><stop offset="0" stop-color="#2e82b3"/><stop offset=".04" stop-color="#2f84b3"/><stop offset=".09" stop-color="#328ab6"/><stop offset=".15" stop-color="#3b97b9"/><stop offset=".22" stop-color="#4ba8bc"/><stop offset=".3" stop-color="#62b9bd"/><stop offset=".4" stop-color="#7bc7bc"/><stop offset=".55" stop-color="#8ed0ba"/><stop offset=".75" stop-color="#96d3b9"/><stop offset="1" stop-color="#97d4b9"/></linearGradient>
<linearGradient id="t1" x1=".49" x2=".99" spreadMethod="reflect"><stop offset="0" stop-color="#2e82b3"/><stop offset=".04" stop-color="#2f84b3"/><stop offset=".09" stop-color="#328ab6"/><stop offset=".15" stop-color="#3b97b9"/><stop offset=".22" stop-color="#4ca8bd"/><stop offset=".3" stop-color="#63babd"/><stop offset=".4" stop-color="#7dc8bb"/><stop offset=".55" stop-color="#90d1b9"/><stop offset=".75" stop-color="#98d4b9"/><stop offset="1" stop-color="#99d5b8"/></linearGradient>
<linearGradient id="t2" x1=".49" x2=".99" spreadMethod="reflect"><stop offset="0" stop-color="#2e82b3"/><stop offset=".04" stop-color="#2f84b3"/><stop offset=".09" stop-color="#338bb6"/><stop offset=".15" stop-color="#3c99ba"/><stop offset=".22" stop-color="#4fabbd"/><stop offset=".3" stop-color="#68bdbd"/><stop offset=".4" stop-color="#83cbbb"/><stop offset=".55" stop-color="#96d3b9"/><stop offset=".75" stop-color="#9dd6b8"/><stop offset="1" stop-color="#9ed7b8"/></linearGradient>
<linearGradient id="t3" x1=".49" x2=".99" spreadMethod="reflect"><stop offset="0" stop-color="#2e82b3"/><stop offset=".04" stop-color="#2f84b4"/><stop offset=".09" stop-color="#348cb6"/><stop offset=".15" stop-color="#3f9cba"/><stop offset=".22" stop-color="#54b0bd"/><stop offset=".3" stop-color="#72c2bc"/><stop offset=".4" stop-color="#8ed0ba"/><stop offset=".55" stop-color="#a1d8b8"/><stop offset=".75" stop-color="#a6dab7"/><stop offset="1" stop-color="#a7dab7"/></linearGradient>
<linearGradient id="t4" x1=".49" x2=".99" spreadMethod="reflect"><stop offset="0" stop-color="#2e82b3"/><stop offset=".04" stop-color="#2f85b4"/><stop offset=".09" stop-color="#358eb7"/><stop offset=".15" stop-color="#42a0bb"/><stop offset=".22" stop-color="#5db6bd"/><stop offset=".3" stop-color="#7ec9bb"/><stop offset=".4" stop-color="#9cd6b8"/><stop offset=".55" stop-color="#adddb6"/><stop offset=".75" stop-color="#b1deb6"/><stop offset="1" stop-color="#b2deb5"/></linearGradient>
<linearGradient id="t5" x1=".49" x2=".99" spreadMethod="reflect"><stop offset="0" stop-color="#2e83b3"/><stop offset=".04" stop-color="#3086b4"/><stop offset=".09" stop-color="#3690b7"/><stop offset=".15" stop-color="#46a4bc"/><stop offset=".22" stop-color="#66bbbd"/><stop offset=".3" stop-color="#8bcfba"/><stop offset=".4" stop-color="#a9dbb7"/><stop offset=".55" stop-color="#b8e1b5"/><stop offset=".75" stop-color="#bce2b4"/><stop offset="1" stop-color="#bce2b4"/></linearGradient>
<linearGradient id="t6" x1=".49" x2=".99" spreadMethod="reflect"><stop offset="0" stop-color="#3d99ba"/><stop offset=".04" stop-color="#3f9cbb"/><stop offset=".09" stop-color="#48a6bc"/><stop offset=".15" stop-color="#5eb6bd"/><stop offset=".22" stop-color="#80c9bb"/><stop offset=".3" stop-color="#a2d8b7"/><stop offset=".4" stop-color="#b9e1b4"/><stop offset=".55" stop-color="#c4e5b3"/><stop offset=".75" stop-color="#c6e6b3"/><stop offset="1" stop-color="#c6e6b3"/></linearGradient>
<linearGradient id="t7" x1=".49" x2=".99" spreadMethod="reflect"><stop offset="0" stop-color="#3d9aba"/><stop offset=".04" stop-color="#409cbb"/><stop offset=".09" stop-color="#4aa7bc"/><stop offset=".15" stop-color="#61b9bd"/><stop offset=".22" stop-color="#86ccba"/><stop offset=".3" stop-color="#a9dbb7"/><stop offset=".4" stop-color="#bfe4b4"/><stop offset=".55" stop-color="#c8e7b3"/><stop offset=".75" stop-color="#cae8b3"/><stop offset="1" stop-color="#cae8b3"/></linearGradient>
<linearGradient id="t8" x1=".49" x2=".99" spreadMethod="reflect"><stop offset="0" stop-color="#3d9aba"/><stop offset=".04" stop-color="#409dbb"/><stop offset=".09" stop-color="#4ba8bc"/><stop offset=".15" stop-color="#66bbbd"/><stop offset=".22" stop-color="#8dd0ba"/><stop offset=".3" stop-color="#b1deb6"/><stop offset=".4" stop-color="#c6e6b3"/><stop offset=".55" stop-color="#cde9b3"/><stop offset=".75" stop-color="#ceeab2"/><stop offset="1" stop-color="#cfeab2"/></linearGradient>
<linearGradient id="t9" x1=".49" x2=".99" spreadMethod="reflect"><stop offset="0" stop-color="#3e9aba"/><stop offset=".04" stop-color="#419ebb"/><stop offset=".09" stop-color="#4daabd"/><stop offset=".15" stop-color="#6bbebd"/><stop offset=".22" stop-color="#95d3b9"/><stop offset=".3" stop-color="#b8e1b5"/><stop offset=".4" stop-color="#cce9b3"/><stop offset=".55" stop-color="#d2ebb2"/><stop offset=".75" stop-color="#d3ebb2"/><stop offset="1" stop-color="#d3ebb2"/></linearGradient>
<linearGradient id="t10" x1=".49" x2=".99" spreadMethod="reflect"><stop offset="0" stop-color="#3e9bba"/><stop offset=".04" stop-color="#419ebb"/><stop offset=".09" stop-color="#4fabbd"/><stop offset=".15" stop-color="#6ec0bd"/><stop offset=".22" stop-color="#9ad5b8"/><stop offset=".3" stop-color="#bde3b4"/><stop offset=".4" stop-color="#cfeab2"/><stop offset=".55" stop-color="#d5ecb2"/><stop offset=".75" stop-color="#d6ecb2"/><stop offset="1" stop-color="#d6ecb2"/></linearGradient>
<linearGradient id="t11" x1=".49" x2=".99" spreadMethod="reflect"><stop offset="0" stop-color="#3e9bba"/><stop offset=".04" stop-color="#429fbb"/><stop offset=".09" stop-color="#50acbd"/><stop offset=".15" stop-color="#71c2bc"/><stop offset=".22" stop-color="#9fd7b8"/><stop offset=".3" stop-color="#c1e5b4"/><stop offset=".4" stop-color="#d3ebb2"/><stop offset=".55" stop-color="#d8edb2"/><stop offset=".75" stop-color="#d8eeb2"/><stop offset="1" stop-color="#d8eeb2"/></linearGradient>
<linearGradient id="t12" x1=".49" x2=".99" spreadMethod="reflect"><stop offset="0" stop-color="#3f9cba"/><stop offset=".04" stop-color="#429fbb"/><stop offset=".09" stop-color="#52aebd"/><stop offset=".15" stop-color="#75c4bc"/><stop offset=".22" stop-color="#a4d9b7"/><stop offset=".3" stop-color="#c7e6b3"/><stop offset=".4" stop-color="#d7edb2"/><stop offset=".55" stop-color="#dbefb3"/><stop offset=".75" stop-color="#dbefb3"/><stop offset="1" stop-color="#dbefb3"/></linearGradient>
<linearGradient id="t13" x1=".49" x2=".99" spreadMethod="reflect"><stop offset="0" stop-color="#3f9cbb"/><stop offset=".04" stop-color="#43a0bb"/><stop offset=".09" stop-color="#54afbd"/><stop offset=".15" stop-color="#79c6bc"/><stop offset=".22" stop-color="#a9dbb7"/><stop offset=".3" stop-color="#cbe8b3"/><stop offset=".4" stop-color="#d9eeb2"/><stop offset=".55" stop-color="#ddefb3"/><stop offset=".75" stop-color="#ddefb3"/><stop offset="1" stop-color="#ddefb3"/></linearGradient>
<linearGradient id="t14" x1=".49" x2=".99" spreadMethod="reflect"><stop offset="0" stop-color="#409dbb"/><stop offset=".04" stop-color="#44a1bb"/><stop offset=".09" stop-color="#55b0bd"/><stop offset=".15" stop-color="#7cc7bc"/><stop offset=".22" stop-color="#acdcb6"/><stop offset=".3" stop-color="#cde9b3"/><stop offset=".4" stop-color="#dbefb3"/><stop offset=".55" stop-color="#dff0b3"/><stop offset=".75" stop-color="#dff0b3"/><stop offset="1" stop-color="#dff0b3"/></linearGradient>
<linearGradient id="t15" x1=".49" x2=".99" spreadMethod="reflect"><stop offset="0" stop-color="#409dbb"/><stop offset=".04" stop-color="#45a2bb"/><stop offset=".09" stop-color="#57b1bd"/><stop offset=".15" stop-color="#7fc9bb"/><stop offset=".22" stop-color="#b0deb6"/><stop offset=".3" stop-color="#d0eab2"/><stop offset=".4" stop-color="#ddefb3"/><stop offset=".55" stop-color="#e0f1b3"/><stop offset=".75" stop-color="#e0f1b3"/><stop offset="1" stop-color="#e0f1b3"/></linearGradient>
<linearGradient id="t16" x1=".49" x2=".99" spreadMethod="reflect"><stop offset="0" stop-color="#419ebb"/><stop offset=".04" stop-color="#46a3bc"/><stop offset=".09" stop-color="#59b3bd"/><stop offset=".15" stop-color="#82cbbb"/><stop offset=".22" stop-color="#b4dfb5"/><stop offset=".3" stop-color="#d3ecb2"/><stop offset=".4" stop-color="#dff0b3"/><stop offset=".55" stop-color="#e2f1b4"/><stop offset=".75" stop-color="#e2f1b4"/><stop offset="1" stop-color="#e2f1b4"/></linearGradient>
<linearGradient id="t17" x1=".49" x2=".99" spreadMethod="reflect"><stop offset="0" stop-color="#429fbb"/><stop offset=".04" stop-color="#46a4bc"/><stop offset=".09" stop-color="#5ab4bd"/><stop offset=".15" stop-color="#86ccba"/><stop offset=".22" stop-color="#b8e1b5"/><stop offset=".3" stop-color="#d6edb2"/><stop offset=".4" stop-color="#e1f1b4"/><stop offset=".55" stop-color="#e3f2b4"/><stop offset=".75" stop-color="#e3f2b4"/><stop offset="1" stop-color="#e3f2b4"/></linearGradient>
<linearGradient id="t18" x1=".49" x2=".99" spreadMethod="reflect"><stop offset="0" stop-color="#43a0bb"/><stop offset=".04" stop-color="#48a5bc"/><stop offset=".09" stop-color="#5db6bd"/><stop offset=".15" stop-color="#89ceba"/><stop offset=".22" stop-color="#bbe2b4"/><stop offset=".3" stop-color="#d9eeb2"/><stop offset=".4" stop-color="#e3f2b4"/><stop offset=".55" stop-color="#e5f3b5"/><stop offset=".75" stop-color="#e5f3b5"/><stop offset="1" stop-color="#e5f3b5"/></linearGradient>
<linearGradient id="t19" x1=".49" x2=".99" spreadMethod="reflect"><stop offset="0" stop-color="#44a1bb"/><stop offset=".04" stop-color="#49a6bc"/><stop offset=".09" stop-color="#5fb7bd"/><stop offset=".15" stop-color="#8dcfba"/><stop offset=".22" stop-color="#bfe4b4"/><stop offset=".3" stop-color="#dbefb3"/><stop offset=".4" stop-color="#e5f3b5"/><stop offset=".55" stop-color="#e6f3b6"/><stop offset=".75" stop-color="#e6f3b6"/><stop offset="1" stop-color="#e6f3b6"/></linearGradient>
<linearGradient id="t20" x1=".49" x2=".99" spreadMethod="reflect"><stop offset="0" stop-color="#45a2bc"/><stop offset=".04" stop-color="#4aa7bc"/><stop offset=".09" stop-color="#61b9bd"/><stop offset=".15" stop-color="#91d1b9"/><stop offset=".22" stop-color="#c3e5b3"/><stop offset=".3" stop-color="#def0b3"/><stop offset=".4" stop-color="#e6f3b6"/><stop offset=".55" stop-color="#e8f4b7"/><stop offset=".75" stop-color="#e8f4b7"/><stop offset="1" stop-color="#e8f4b7"/></linearGradient>
<linearGradient id="t21" x1=".49" x2=".99" spreadMethod="reflect"><stop offset="0" stop-color="#46a3bc"/><stop offset=".04" stop-color="#4ca8bd"/><stop offset=".09" stop-color="#64babd"/><stop offset=".15" stop-color="#95d3b9"/><stop offset=".22" stop-color="#c7e7b3"/><stop offset=".3" stop-color="#e1f1b4"/><stop offset=".4" stop-color="#e8f4b7"/><stop offset=".55" stop-color="#e9f4b8"/><stop offset=".75" stop-color="#e9f4b8"/><stop offset="1" stop-color="#e9f4b8"/></linearGradient>
<linearGradient id="t22" x1=".49" x2=".99" spreadMethod="reflect"><stop offset="0" stop-color="#48a5bc"/><stop offset=".04" stop-color="#4daabd"/><stop offset=".09" stop-color="#67bcbd"/><stop offset=".15" stop-color="#99d4b8"/><stop offset=".22" stop-color="#cae8b3"/><stop offset=".3" stop-color="#e3f2b4"/><stop offset=".4" stop-color="#eaf5b8"/><stop offset=".55" stop-color="#ebf5b9"/><stop offset=".75" stop-color="#ebf5b9"/><stop offset="1" stop-color="#ebf5b9"/></linearGradient>
<linearGradient id="t23" x1=".49" x2=".99" spreadMethod="reflect"><stop offset="0" stop-color="#49a6bc"/><stop offset=".04" stop-color="#50acbd"/><stop offset=".09" stop-color="#6abebd"/><stop offset=".15" stop-color="#9cd6b8"/><stop offset=".22" stop-color="#cde9b3"/><stop offset=".3" stop-color="#e5f3b5"/><stop offset=".4" stop-color="#ebf5ba"/><stop offset=".55" stop-color="#ecf6ba"/><stop offset=".75" stop-color="#ecf6ba"/><stop offset="1" stop-color="#ecf6ba"/></linearGradient>
<linearGradient id="t24" x1=".49" x2=".99" spreadMethod="reflect"><stop offset="0" stop-color="#4ba8bc"/><stop offset=".04" stop-color="#52aebd"/><stop offset=".09" stop-color="#6dbfbd"/><stop offset=".15" stop-color="#a0d8b8"/><stop offset=".22" stop-color="#d0eab2"/><stop offset=".3" stop-color="#e7f3b6"/><stop offset=".4" stop-color="#edf6bb"/><stop offset=".55" stop-color="#edf6bc"/><stop offset=".75" stop-color="#edf6bc"/><stop offset="1" stop-color="#edf6bc"/></linearGradient>
<linearGradient id="t25" x1=".49" x2=".99" spreadMethod="reflect"><stop offset="0" stop-color="#4daabd"/><stop offset=".04" stop-color="#54afbd"/><stop offset=".09" stop-color="#70c1bc"/><stop offset=".15" stop-color="#a4d9b7"/><stop offset=".22" stop-color="#d4ecb2"/><stop offset=".3" stop-color="#e9f4b7"/><stop offset=".4" stop-color="#eef7bd"/><stop offset=".55" stop-color="#eef7be"/><stop offset=".75" stop-color="#eef7be"/><stop offset="1" stop-color="#eef7be"/></linearGradient>
<linearGradient id="t26" x1=".49" x2=".99" spreadMethod="reflect"><stop offset="0" stop-color="#50acbd"/><stop offset=".04" stop-color="#57b2bd"/><stop offset=".09" stop-color="#74c3bc"/><stop offset=".15" stop-color="#a9dbb7"/><stop offset=".22" stop-color="#d7edb2"/><stop offset=".3" stop-color="#ebf5b9"/><stop offset=".4" stop-color="#eff7bf"/><stop offset=".55" stop-color="#f0f7c0"/><stop offset=".75" stop-color="#f0f7c0"/><stop offset="1" stop-color="#f0f7c0"/></linearGradient>
<linearGradient id="t27" x1=".49" x2=".99" spreadMethod="reflect"><stop offset="0" stop-color="#53afbd"/><stop offset=".04" stop-color="#5ab4bd"/><stop offset=".09" stop-color="#79c6bc"/><stop offset=".15" stop-color="#aeddb6"/><stop offset=".22" stop-color="#daeeb2"/><stop offset=".3" stop-color="#edf6bb"/><stop offset=".4" stop-color="#f1f8c2"/><stop offset=".55" stop-color="#f1f8c2"/><stop offset=".75" stop-color="#f1f8c2"/><stop offset="1" stop-color="#f1f8c2"/></linearGradient>
<linearGradient id="t28" x1=".49" x2=".99" spreadMethod="reflect"><stop offset="0" stop-color="#57b1bd"/><stop offset=".04" stop-color="#5eb7bd"/><stop offset=".09" stop-color="#7ec8bb"/><stop offset=".15" stop-color="#b3dfb5"/><stop offset=".22" stop-color="#def0b3"/><stop offset=".3" stop-color="#eef7be"/><stop offset=".4" stop-color="#f2f8c5"/><stop offset=".55" stop-color="#f2f9c5"/><stop offset=".75" stop-color="#f2f9c5"/><stop offset="1" stop-color="#f2f9c5"/></linearGradient>
<linearGradient id="t29" x1=".49" x2=".99" spreadMethod="reflect"><stop offset="0" stop-color="#5bb4bd"/><stop offset=".04" stop-color="#63babd"/><stop offset=".09" stop-color="#83cbbb"/><stop offset=".15" stop-color="#b8e1b5"/><stop offset=".22" stop-color="#e1f1b4"/><stop offset=".3" stop-color="#f0f8c1"/><stop offset=".4" stop-color="#f3f9c8"/><stop offset=".55" stop-color="#f3f9c8"/><stop offset=".75" stop-color="#f3f9c9"/><stop offset="1" stop-color="#f3f9c9"/></linearGradient>
<linearGradient id="t30" x1=".49" x2=".99" spreadMethod="reflect"><stop offset="0" stop-color="#5fb7bd"/><stop offset=".04" stop-color="#68bdbd"/><stop offset=".09" stop-color="#89cdba"/><stop offset=".15" stop-color="#bee3b4"/><stop offset=".22" stop-color="#e5f3b5"/><stop offset=".3" stop-color="#f2f8c4"/><stop offset=".4" stop-color="#f4facb"/><stop offset=".55" stop-color="#f5facc"/><stop offset=".75" stop-color="#f5facc"/><stop offset="1" stop-color="#f5facc"/></linearGradient>
<linearGradient id="t31" x1=".49" x2=".99" spreadMethod="reflect"><stop offset="0" stop-color="#65bbbd"/><stop offset=".04" stop-color="#6ec0bd"/><stop offset=".09" stop-color="#8fd0ba"/><stop offset=".15" stop-color="#c3e5b3"/><stop offset=".22" stop-color="#e8f4b7"/><stop offset=".3" stop-color="#f3f9c8"/><stop offset=".4" stop-color="#f5fad0"/><stop offset=".55" stop-color="#f6fad0"/><stop offset=".75" stop-color="#f6fad0"/><stop offset="1" stop-color="#f6fad0"/></linearGradient>
<linearGradient id="t32" x1=".49" x2=".99" spreadMethod="reflect"><stop offset="0" stop-color="#6bbfbd"/><stop offset=".04" stop-color="#74c3bc"/><stop offset=".09" stop-color="#96d3b9"/><stop offset=".15" stop-color="#c8e7b3"/><stop offset=".22" stop-color="#eaf5b9"/><stop offset=".3" stop-color="#f5facd"/><stop offset=".4" stop-color="#f6fbd4"/><stop offset=".55" stop-color="#f7fbd4"/><stop offset=".75" stop-color="#f7fbd4"/><stop offset="1" stop-color="#f7fbd4"/></linearGradient>
<linearGradient id="t33" x1=".49" x2=".99" spreadMethod="reflect"><stop offset="0" stop-color="#72c2bc"/><stop offset=".04" stop-color="#7bc7bc"/><stop offset=".09" stop-color="#9dd6b8"/><stop offset=".15" stop-color="#cde9b3"/><stop offset=".22" stop-color="#edf6bc"/><stop offset=".3" stop-color="#f6fbd2"/><stop offset=".4" stop-color="#f8fcd8"/><stop offset=".55" stop-color="#f8fcd9"/><stop offset=".75" stop-color="#f8fcd9"/><stop offset="1" stop-color="#f8fcd9"/></linearGradient>
<linearGradient id="t34" x1=".49" x2=".99" spreadMethod="reflect"><stop offset="0" stop-color="#84cbbb"/><stop offset=".04" stop-color="#8dcfba"/><stop offset=".09" stop-color="#acdcb6"/><stop offset=".15" stop-color="#d6edb2"/><stop offset=".22" stop-color="#f0f8c1"/><stop offset=".3" stop-color="#f7fbd7"/><stop offset=".4" stop-color="#f8fcdd"/><stop offset=".55" stop-color="#f9fcdd"/><stop offset=".75" stop-color="#f9fcdd"/><stop offset="1" stop-color="#f9fcdd"/></linearGradient>
<linearGradient id="t35" x1=".49" x2=".99" spreadMethod="reflect"><stop offset="0" stop-color="#9bd6b8"/><stop offset=".04" stop-color="#a3d9b7"/><stop offset=".09" stop-color="#bee3b4"/><stop offset=".15" stop-color="#e0f0b3"/><stop offset=".22" stop-color="#f3f9c8"/><stop offset=".3" stop-color="#f8fcdc"/><stop offset=".4" stop-color="#f9fce1"/><stop offset=".55" stop-color="#f9fde1"/><stop offset=".75" stop-color="#f9fde1"/><stop offset="1" stop-color="#f9fde1"/></linearGradient>
<linearGradient id="t36" x1=".49" x2=".99" spreadMethod="reflect"><stop offset="0" stop-color="#b3dfb5"/><stop offset=".04" stop-color="#bae1b4"/><stop offset=".09" stop-color="#ceeab2"/><stop offset=".15" stop-color="#e8f4b7"/><stop offset=".22" stop-color="#f6fad0"/><stop offset=".3" stop-color="#f9fde2"/><stop offset=".4" stop-color="#fafde5"/><stop offset=".55" stop-color="#fafde5"/><stop offset=".75" stop-color="#fafde5"/><stop offset="1" stop-color="#fafde5"/></linearGradient>
<linearGradient id="t37" x1=".49" x2=".99" spreadMethod="reflect"><stop offset="0" stop-color="#cae8b3"/><stop offset=".04" stop-color="#cfeab2"/><stop offset=".09" stop-color="#def0b3"/><stop offset=".15" stop-color="#eff7be"/><stop offset=".22" stop-color="#f8fcd8"/><stop offset=".3" stop-color="#fafde6"/><stop offset=".4" stop-color="#fbfde9"/><stop offset=".55" stop-color="#fbfde9"/><stop offset=".75" stop-color="#fbfde9"/><stop offset="1" stop-color="#fbfde9"/></linearGradient>
<linearGradient id="t38" x1=".49" x2=".99" spreadMethod="reflect"><stop offset="0" stop-color="#e0f1b3"/><stop offset=".04" stop-color="#e2f2b4"/><stop offset=".09" stop-color="#ebf5b9"/><stop offset=".15" stop-color="#f4facb"/><stop offset=".22" stop-color="#f9fce1"/><stop offset=".3" stop-color="#fbfdea"/><stop offset=".4" stop-color="#fcfeec"/><stop offset=".55" stop-color="#fcfeec"/><stop offset=".75" stop-color="#fcfeec"/><stop offset="1" stop-color="#fcfeec"/></linearGradient>
<linearGradient id="t39" x1=".49" x2=".99" spreadMethod="reflect"><stop offset="0" stop-color="#f0f8c1"/><stop offset=".04" stop-color="#f1f8c3"/><stop offset=".09" stop-color="#f5facc"/><stop offset=".15" stop-color="#f8fcdc"/><stop offset=".22" stop-color="#fbfde9"/><stop offset=".3" stop-color="#fcfeef"/><stop offset=".4" stop-color="#fcfef0"/><stop offset=".55" stop-color="#fcfef0"/><stop offset=".75" stop-color="#fcfef0"/><stop offset="1" stop-color="#fcfef0"/></linearGradient>
<linearGradient id="t40" x1=".49" x2=".99" spreadMethod="reflect"><stop offset="0" stop-color="#f6fbd4"/><stop offset=".04" stop-color="#f7fbd6"/><stop offset=".09" stop-color="#f9fcdd"/><stop offset=".15" stop-color="#fafde7"/><stop offset=".22" stop-color="#fcfeef"/><stop offset=".3" stop-color="#fdfef2"/><stop offset=".4" stop-color="#fdfef2"/><stop offset=".55" stop-color="#fdfef2"/><stop offset=".75" stop-color="#fdfef2"/><stop offset="1" stop-color="#fdfef2"/></linearGradient>
<linearGradient id="t41" x1=".49" x2=".99" spreadMethod="reflect"><stop offset="0" stop-color="#fafde3"/><stop offset=".04" stop-color="#fafde4"/><stop offset=".09" stop-color="#fbfde8"/><stop offset=".15" stop-color="#fcfeee"/><stop offset=".22" stop-color="#fdfef3"/><stop offset=".3" stop-color="#fdfef5"/><stop offset=".4" stop-color="#fdfef5"/><stop offset=".55" stop-color="#fdfef5"/><stop offset=".75" stop-color="#fdfef5"/><stop offset="1" stop-color="#fdfef5"/></linearGradient>
<linearGradient id="t42" x1=".49" x2=".99" spreadMethod="reflect"><stop offset="0" stop-color="#fcfef0"/><stop offset=".04" stop-color="#fcfef1"/><stop offset=".09" stop-color="#fdfef2"/><stop offset=".15" stop-color="#fdfef5"/><stop offset=".22" stop-color="#fdfef7"/><stop offset=".3" stop-color="#fefef8"/><stop offset=".4" stop-color="#fefef8"/><stop offset=".55" stop-color="#fefef8"/><stop offset=".75" stop-color="#fefef8"/><stop offset="1" stop-color="#fefef8"/></linearGradient>
<linearGradient id="t43" x1=".49" x2=".99" spreadMethod="reflect"><stop offset="0" stop-color="#fdfef4"/><stop offset=".04" stop-color="#fdfef5"/><stop offset=".09" stop-color="#fdfef6"/><stop offset=".15" stop-color="#fefef7"/><stop offset=".22" stop-color="#fefff9"/><stop offset=".3" stop-color="#fefff9"/><stop offset=".4" stop-color="#fefff9"/><stop offset=".55" stop-color="#fefffa"/><stop offset=".75" stop-color="#fefffa"/><stop offset="1" stop-color="#fefffa"/></linearGradient>
<linearGradient id="t44" x1=".49" x2=".99" spreadMethod="reflect"><stop offset="0" stop-color="#fefef8"/><stop offset=".04" stop-color="#fefff8"/><stop offset=".09" stop-color="#fefff9"/><stop offset=".15" stop-color="#fefffa"/><stop offset=".22" stop-color="#fefffb"/><stop offset=".3" stop-color="#fefffb"/><stop offset=".4" stop-color="#fefffb"/><stop offset=".55" stop-color="#fefffb"/><stop offset=".75" stop-color="#fefffb"/><stop offset="1" stop-color="#fefffb"/></linearGradient>
<linearGradient id="t45" x1=".49" x2=".99" spreadMethod="reflect"><stop offset="0" stop-color="#fefffb"/><stop offset=".04" stop-color="#fefffb"/><stop offset=".09" stop-color="#fefffc"/><stop offset=".15" stop-color="#fefffc"/><stop offset=".22" stop-color="#fffffd"/><stop offset=".3" stop-color="#fffffd"/><stop offset=".4" stop-color="#fffffd"/><stop offset=".55" stop-color="#fffffd"/><stop offset=".75" stop-color="#fffffd"/><stop offset="1" stop-color="#fffffd"/></linearGradient>
<linearGradient id="t46" x1=".49" x2=".99" spreadMethod="reflect"><stop offset="0" stop-color="#fffffd"/><stop offset=".04" stop-color="#fffffd"/><stop offset=".09" stop-color="#fffffd"/><stop offset=".15" stop-color="#fffffe"/><stop offset=".22" stop-color="#fffffe"/><stop offset=".3" stop-color="#fffffe"/><stop offset=".4" stop-color="#fffffe"/><stop offset=".55" stop-color="#fffffe"/><stop offset=".75" stop-color="#fffffe"/><stop offset="1" stop-color="#fffffe"/></linearGradient>
<linearGradient id="t47" x1=".49" x2=".99" spreadMethod="reflect"><stop offset="0" stop-color="#ffffff"/><stop offset=".04" stop-color="#ffffff"/><stop offset=".09" stop-color="#ffffff"/><stop offset=".15" stop-color="#ffffff"/><stop offset=".22" stop-color="#ffffff"/><stop offset=".3" stop-color="#ffffff"/><stop offset=".4" stop-color="#ffffff"/><stop offset=".55" stop-color="#ffffff"/><stop offset=".75" stop-color="#ffffff"/><stop offset="1" stop-color="#ffffff"/></linearGradient>
<linearGradient id="u0" x1=".49" x2=".99" spreadMethod="reflect"><stop offset="0" stop-color="#2a79af"/><stop offset=".04" stop-color="#2a7ab0"/><stop offset=".09" stop-color="#2e81b2"/><stop offset=".15" stop-color="#358fb7"/><stop offset=".22" stop-color="#45a2bb"/><stop offset=".3" stop-color="#5db6bd"/><stop offset=".4" stop-color="#78c5bc"/><stop offset=".55" stop-color="#8dcfba"/><stop offset=".75" stop-color="#95d3b9"/><stop offset="1" stop-color="#97d4b9"/></linearGradient>
<linearGradient id="u1" x1=".49" x2=".99" spreadMethod="reflect"><stop offset="0" stop-color="#2a79af"/><stop offset=".04" stop-color="#2a7bb0"/><stop offset=".09" stop-color="#2e82b3"/><stop offset=".15" stop-color="#3690b7"/><stop offset=".22" stop-color="#46a3bc"/><stop offset=".3" stop-color="#5eb7bd"/><stop offset=".4" stop-color="#7ac6bc"/><stop offset=".55" stop-color="#8fd0ba"/><stop offset=".75" stop-color="#97d4b9"/><stop offset="1" stop-color="#99d5b8"/></linearGradient>
<linearGradient id="u2" x1=".49" x2=".99" spreadMethod="reflect"><stop offset="0" stop-color="#2a79af"/><stop offset=".04" stop-color="#2a7bb0"/><stop offset=".09" stop-color="#2e82b3"/><stop offset=".15" stop-color="#3791b8"/><stop offset=".22" stop-color="#48a6bc"/><stop offset=".3" stop-color="#63babd"/><stop offset=".4" stop-color="#80c9bb"/><stop offset=".55" stop-color="#95d3b9"/><stop offset=".75" stop-color="#9dd6b8"/><stop offset="1" stop-color="#9ed7b8"/></linearGradient>
<linearGradient id="u3" x1=".49" x2=".99" spreadMethod="reflect"><stop offset="0" stop-color="#2a79af"/><stop offset=".04" stop-color="#2a7bb0"/><stop offset=".09" stop-color="#2e84b3"/><stop offset=".15" stop-color="#3994b9"/><stop offset=".22" stop-color="#4eaabd"/><stop offset=".3" stop-color="#6cbfbd"/><stop offset=".4" stop-color="#8bceba"/><stop offset=".55" stop-color="#a0d7b8"/><stop offset=".75" stop-color="#a6dab7"/><stop offset="1" stop-color="#a7dab7"/></linearGradient>
<linearGradient id="u4" x1=".49" x2=".99" spreadMethod="reflect"><stop offset="0" stop-color="#2a79af"/><stop offset=".04" stop-color="#2b7bb0"/><stop offset=".09" stop-color="#2f85b4"/><stop offset=".15" stop-color="#3c98ba"/><stop offset=".22" stop-color="#55b0bd"/><stop offset=".3" stop-color="#78c6bc"/><stop offset=".4" stop-color="#98d4b8"/><stop offset=".55" stop-color="#acdcb6"/><stop offset=".75" stop-color="#b1deb6"/><stop offset="1" stop-color="#b2deb5"/></linearGradient>
<linearGradient id="u5" x1=".49" x2=".99" spreadMethod="reflect"><stop offset="0" stop-color="#2a79af"/><stop offset=".04" stop-color="#2b7cb0"/><stop offset=".09" stop-color="#3187b5"/><stop offset=".15" stop-color="#3f9cbb"/><stop offset=".22" stop-color="#5eb6bd"/><stop offset=".3" stop-color="#85ccbb"/><stop offset=".4" stop-color="#a6dab7"/><stop offset=".55" stop-color="#b8e1b5"/><stop offset=".75" stop-color="#bce2b4"/><stop offset="1" stop-color="#bce2b4"/></linearGradient>
<linearGradient id="u6" x1=".49" x2=".99" spreadMethod="reflect"><stop offset="0" stop-color="#3791b8"/><stop offset=".04" stop-color="#3994b8"/><stop offset=".09" stop-color="#419ebb"/><stop offset=".15" stop-color="#55b1bd"/><stop offset=".22" stop-color="#78c6bc"/><stop offset=".3" stop-color="#9dd6b8"/><stop offset=".4" stop-color="#b7e0b5"/><stop offset=".55" stop-color="#c3e5b3"/><stop offset=".75" stop-color="#c6e6b3"/><stop offset="1" stop-color="#c6e6b3"/></linearGradient>
<linearGradient id="u7" x1=".49" x2=".99" spreadMethod="reflect"><stop offset="0" stop-color="#3791b8"/><stop offset=".04" stop-color="#3994b9"/><stop offset=".09" stop-color="#429fbb"/><stop offset=".15" stop-color="#59b3bd"/><stop offset=".22" stop-color="#7ec9bb"/><stop offset=".3" stop-color="#a4d9b7"/><stop offset=".4" stop-color="#bde3b4"/><stop offset=".55" stop-color="#c8e7b3"/><stop offset=".75" stop-color="#cae8b3"/><stop offset="1" stop-color="#cae8b3"/></linearGradient>
<linearGradient id="u8" x1=".49" x2=".99" spreadMethod="reflect"><stop offset="0" stop-color="#3791b8"/><stop offset=".04" stop-color="#3995b9"/><stop offset=".09" stop-color="#44a1bb"/><stop offset=".15" stop-color="#5db6bd"/><stop offset=".22" stop-color="#86ccbb"/><stop offset=".3" stop-color="#acdcb6"/><stop offset=".4" stop-color="#c4e5b3"/><stop offset=".55" stop-color="#cde9b3"/><stop offset=".75" stop-color="#ceeab2"/><stop offset="1" stop-color="#cfeab2"/></linearGradient>
<linearGradient id="u9" x1=".49" x2=".99" spreadMethod="reflect"><stop offset="0" stop-color="#3792b8"/><stop offset=".04" stop-color="#3a95b9"/><stop offset=".09" stop-color="#45a2bc"/><stop offset=".15" stop-color="#62b9bd"/><stop offset=".22" stop-color="#8dd0ba"/><stop offset=".3" stop-color="#b4dfb5"/><stop offset=".4" stop-color="#cae8b3"/><stop offset=".55" stop-color="#d2ebb2"/><stop offset=".75" stop-color="#d3ebb2"/><stop offset="1" stop-color="#d3ebb2"/></linearGradient>
<linearGradient id="u10" x1=".49" x2=".99" spreadMethod="reflect"><stop offset="0" stop-color="#3792b8"/><stop offset=".04" stop-color="#3a96b9"/><stop offset=".09" stop-color="#46a4bc"/><stop offset=".15" stop-color="#64bbbd"/><stop offset=".22" stop-color="#92d2b9"/><stop offset=".3" stop-color="#b9e1b5"/><stop offset=".4" stop-color="#cee9b2"/><stop offset=".55" stop-color="#d5ecb2"/><stop offset=".75" stop-color="#d6ecb2"/><stop offset="1" stop-color="#d6ecb2"/></linearGradient>
<linearGradient id="u11" x1=".49" x2=".99" spreadMethod="reflect"><stop offset="0" stop-color="#3893b8"/><stop offset=".04" stop-color="#3b97b9"/><stop offset=".09" stop-color="#48a5bc"/><stop offset=".15" stop-color="#68bdbd"/><stop offset=".22" stop-color="#97d4b9"/><stop offset=".3" stop-color="#bee3b4"/><stop offset=".4" stop-color="#d1ebb2"/><stop offset=".55" stop-color="#d8edb2"/><stop offset=".75" stop-color="#d8eeb2"/><stop offset="1" stop-color="#d8eeb2"/></linearGradient>
<linearGradient id="u12" x1=".49" x2=".99" spreadMethod="reflect"><stop offset="0" stop-color="#3893b8"/><stop offset=".04" stop-color="#3b97ba"/><stop offset=".09" stop-color="#49a6bc"/><stop offset=".15" stop-color="#6cbfbd"/><stop offset=".22" stop-color="#9dd6b8"/><stop offset=".3" stop-color="#c3e5b3"/><stop offset=".4" stop-color="#d5ecb2"/><stop offset=".55" stop-color="#dbefb3"/><stop offset=".75" stop-color="#dbefb3"/><stop offset="1" stop-color="#dbefb3"/></linearGradient>
<linearGradient id="u13" x1=".49" x2=".99" spreadMethod="reflect"><stop offset="0" stop-color="#3994b8"/><stop offset=".04" stop-color="#3c98ba"/><stop offset=".09" stop-color="#4ba8bc"/><stop offset=".15" stop-color="#6fc1bc"/><stop offset=".22" stop-color="#a2d8b7"/><stop offset=".3" stop-color="#c7e7b3"/><stop offset=".4" stop-color="#d8eeb2"/><stop offset=".55" stop-color="#ddefb3"/><stop offset=".75" stop-color="#ddefb3"/><stop offset="1" stop-color="#ddefb3"/></linearGradient>
<linearGradient id="u14" x1=".49" x2=".99" spreadMethod="reflect"><stop offset="0" stop-color="#3994b9"/><stop offset=".04" stop-color="#3c99ba"/><stop offset=".09" stop-color="#4ca9bd"/><stop offset=".15" stop-color="#72c2bc"/><stop offset=".22" stop-color="#a5dab7"/><stop offset=".3" stop-color="#cae8b3"/><stop offset=".4" stop-color="#daeeb2"/><stop offset=".55" stop-color="#def0b3"/><stop offset=".75" stop-color="#dff0b3"/><stop offset="1" stop-color="#dff0b3"/></linearGradient>
<linearGradient id="u15" x1=".49" x2=".99" spreadMethod="reflect"><stop offset="0" stop-color="#3a95b9"/><stop offset=".04" stop-color="#3d9aba"/><stop offset=".09" stop-color="#4eaabd"/><stop offset=".15" stop-color="#75c4bc"/><stop offset=".22" stop-color="#a9dbb7"/><stop offset=".3" stop-color="#cde9b3"/><stop offset=".4" stop-color="#dcefb3"/><stop offset=".55" stop-color="#e0f1b3"/><stop offset=".75" stop-color="#e0f1b3"/><stop offset="1" stop-color="#e0f1b3"/></linearGradient>
<linearGradient id="u16" x1=".49" x2=".99" spreadMethod="reflect"><stop offset="0" stop-color="#3a96b9"/><stop offset=".04" stop-color="#3e9bba"/><stop offset=".09" stop-color="#4facbd"/><stop offset=".15" stop-color="#78c6bc"/><stop offset=".22" stop-color="#aeddb6"/><stop offset=".3" stop-color="#d0eab2"/><stop offset=".4" stop-color="#dff0b3"/><stop offset=".55" stop-color="#e2f1b4"/><stop offset=".75" stop-color="#e2f1b4"/><stop offset="1" stop-color="#e2f1b4"/></linearGradient>
<linearGradient id="u17" x1=".49" x2=".99" spreadMethod="reflect"><stop offset="0" stop-color="#3b97b9"/><stop offset=".04" stop-color="#3f9cba"/><stop offset=".09" stop-color="#51adbd"/><stop offset=".15" stop-color="#7cc7bb"/><stop offset=".22" stop-color="#b1deb6"/><stop offset=".3" stop-color="#d3ecb2"/><stop offset=".4" stop-color="#e0f1b4"/><stop offset=".55" stop-color="#e3f2b4"/><stop offset=".75" stop-color="#e3f2b4"/><stop offset="1" stop-color="#e3f2b4"/></linearGradient>
<linearGradient id="u18" x1=".49" x2=".99" spreadMethod="reflect"><stop offset="0" stop-color="#3b98ba"/><stop offset=".04" stop-color="#409dbb"/><stop offset=".09" stop-color="#53afbd"/><stop offset=".15" stop-color="#7fc9bb"/><stop offset=".22" stop-color="#b5e0b5"/><stop offset=".3" stop-color="#d6edb2"/><stop offset=".4" stop-color="#e2f2b4"/><stop offset=".55" stop-color="#e5f3b5"/><stop offset=".75" stop-color="#e5f3b5"/><stop offset="1" stop-color="#e5f3b5"/></linearGradient>
<linearGradient id="u19" x1=".49" x2=".99" spreadMethod="reflect"><stop offset="0" stop-color="#3c99ba"/><stop offset=".04" stop-color="#419ebb"/><stop offset=".09" stop-color="#55b0bd"/><stop offset=".15" stop-color="#83cbbb"/><stop offset=".22" stop-color="#b9e1b5"/><stop offset=".3" stop-color="#d9eeb2"/><stop offset=".4" stop-color="#e4f2b5"/><stop offset=".55" stop-color="#e6f3b6"/><stop offset=".75" stop-color="#e6f3b6"/><stop offset="1" stop-color="#e6f3b6"/></linearGradient>
<linearGradient id="u20" x1=".49" x2=".99" spreadMethod="reflect"><stop offset="0" stop-color="#3d9aba"/><stop offset=".04" stop-color="#429fbb"/><stop offset=".09" stop-color="#57b2bd"/><stop offset=".15" stop-color="#87cdba"/><stop offset=".22" stop-color="#bde3b4"/><stop offset=".3" stop-color="#dcefb3"/><stop offset=".4" stop-color="#e6f3b6"/><stop offset=".55" stop-color="#e8f4b7"/><stop offset=".75" stop-color="#e8f4b7"/><stop offset="1" stop-color="#e8f4b7"/></linearGradient>
<linearGradient id="u21" x1=".49" x2=".99" spreadMethod="reflect"><stop offset="0" stop-color="#3e9bba"/><stop offset=".04" stop-color="#43a0bb"/><stop offset=".09" stop-color="#5ab4bd"/><stop offset=".15" stop-color="#8bceba"/><stop offset=".22" stop-color="#c1e4b4"/><stop offset=".3" stop-color="#dff0b3"/><stop offset=".4" stop-color="#e8f4b7"/><stop offset=".55" stop-color="#e9f4b8"/><stop offset=".75" stop-color="#e9f4b8"/><stop offset="1" stop-color="#e9f4b8"/></linearGradient>
<linearGradient id="u22" x1=".49" x2=".99" spreadMethod="reflect"><stop offset="0" stop-color="#409dbb"/><stop offset=".04" stop-color="#45a2bc"/><stop offset=".09" stop-color="#5cb5bd"/><stop offset=".15" stop-color="#8fd0ba"/><stop offset=".22" stop-color="#c4e6b3"/><stop offset=".3" stop-color="#e1f1b4"/><stop offset=".4" stop-color="#e9f4b8"/><stop offset=".55" stop-color="#ebf5b9"/><stop offset=".75" stop-color="#ebf5b9"/><stop offset="1" stop-color="#ebf5b9"/></linearGradient>
<linearGradient id="u23" x1=".49" x2=".99" spreadMethod="reflect"><stop offset="0" stop-color="#419ebb"/><stop offset=".04" stop-color="#47a4bc"/><stop offset=".09" stop-color="#5fb7bd"/><stop offset=".15" stop-color="#92d2b9"/><stop offset=".22" stop-color="#c8e7b3"/><stop offset=".3" stop-color="#e3f2b4"/><stop offset=".4" stop-color="#ebf5b9"/><stop offset=".55" stop-color="#ecf6ba"/><stop offset=".75" stop-color="#ecf6ba"/><stop offset="1" stop-color="#ecf6ba"/></linearGradient>
<linearGradient id="u24" x1=".49" x2=".99" spreadMethod="reflect"><stop offset="0" stop-color="#43a0bb"/><stop offset=".04" stop-color="#48a6bc"/><stop offset=".09" stop-color="#62b9bd"/><stop offset=".15" stop-color="#96d3b9"/><stop offset=".22" stop-color="#cbe8b3"/><stop offset=".3" stop-color="#e5f3b5"/><stop offset=".4" stop-color="#ecf6bb"/><stop offset=".55" stop-color="#edf6bc"/><stop offset=".75" stop-color="#edf6bc"/><stop offset="1" stop-color="#edf6bc"/></linearGradient>
<linearGradient id="u25" x1=".49" x2=".99" spreadMethod="reflect"><stop offset="0" stop-color="#45a2bb"/><stop offset=".04" stop-color="#4ba8bc"/><stop offset=".09" stop-color="#65bbbd"/><stop offset=".15" stop-color="#9bd5b8"/><stop offset=".22" stop-color="#cfeab2"/><stop offset=".3" stop-color="#e7f4b6"/><stop offset=".4" stop-color="#eef6bd"/><stop offset=".55" stop-color="#eef7be"/><stop offset=".75" stop-color="#eef7be"/><stop offset="1" stop-color="#eef7be"/></linearGradient>
<linearGradient id="u26" x1=".49" x2=".99" spreadMethod="reflect"><stop offset="0" stop-color="#47a4bc"/><stop offset=".04" stop-color="#4daabd"/><stop offset=".09" stop-color="#69bdbd"/><stop offset=".15" stop-color="#9fd7b8"/><stop offset=".22" stop-color="#d2ebb2"/><stop offset=".3" stop-color="#e9f4b8"/><stop offset=".4" stop-color="#eff7bf"/><stop offset=".55" stop-color="#f0f7c0"/><stop offset=".75" stop-color="#f0f7c0"/><stop offset="1" stop-color="#f0f7c0"/></linearGradient>
<linearGradient id="u27" x1=".49" x2=".99" spreadMethod="reflect"><stop offset="0" stop-color="#4aa7bc"/><stop offset=".04" stop-color="#50acbd"/><stop offset=".09" stop-color="#6dc0bd"/><stop offset=".15" stop-color="#a4d9b7"/><stop offset=".22" stop-color="#d6edb2"/><stop offset=".3" stop-color="#ebf5ba"/><stop offset=".4" stop-color="#f0f8c1"/><stop offset=".55" stop-color="#f1f8c2"/><stop offset=".75" stop-color="#f1f8c2"/><stop offset="1" stop-color="#f1f8c2"/></linearGradient>
<linearGradient id="u28" x1=".49" x2=".99" spreadMethod="reflect"><stop offset="0" stop-color="#4da9bd"/><stop offset=".04" stop-color="#54afbd"/><stop offset=".09" stop-color="#72c2bc"/><stop offset=".15" stop-color="#aadbb6"/><stop offset=".22" stop-color="#daeeb2"/><stop offset=".3" stop-color="#edf6bc"/><stop offset=".4" stop-color="#f2f8c4"/><stop offset=".55" stop-color="#f2f9c5"/><stop offset=".75" stop-color="#f2f9c5"/><stop offset="1" stop-color="#f2f9c5"/></linearGradient>
<linearGradient id="u29" x1=".49" x2=".99" spreadMethod="reflect"><stop offset="0" stop-color="#50acbd"/><stop offset=".04" stop-color="#58b2bd"/><stop offset=".09" stop-color="#77c5bc"/><stop offset=".15" stop-color="#afddb6"/><stop offset=".22" stop-color="#ddefb3"/><stop offset=".3" stop-color="#eff7bf"/><stop offset=".4" stop-color="#f3f9c7"/><stop offset=".55" stop-color="#f3f9c8"/><stop offset=".75" stop-color="#f3f9c9"/><stop offset="1" stop-color="#f3f9c9"/></linearGradient>
<linearGradient id="u30" x1=".49" x2=".99" spreadMethod="reflect"><stop offset="0" stop-color="#54b0bd"/><stop offset=".04" stop-color="#5cb5bd"/><stop offset=".09" stop-color="#7dc8bb"/><stop offset=".15" stop-color="#b5e0b5"/><stop offset=".22" stop-color="#e1f1b4"/><stop offset=".3" stop-color="#f1f8c2"/><stop offset=".4" stop-color="#f4facb"/><stop offset=".55" stop-color="#f5facc"/><stop offset=".75" stop-color="#f5facc"/><stop offset="1" stop-color="#f5facc"/></linearGradient>
<linearGradient id="u31" x1=".49" x2=".99" spreadMethod="reflect"><stop offset="0" stop-color="#5ab3bd"/><stop offset=".04" stop-color="#62b9bd"/><stop offset=".09" stop-color="#83cbbb"/><stop offset=".15" stop-color="#bae2b4"/><stop offset=".22" stop-color="#e4f2b5"/><stop offset=".3" stop-color="#f3f9c6"/><stop offset=".4" stop-color="#f5facf"/><stop offset=".55" stop-color="#f6fad0"/><stop offset=".75" stop-color="#f6fad0"/><stop offset="1" stop-color="#f6fad0"/></linearGradient>
<linearGradient id="u32" x1=".49" x2=".99" spreadMethod="reflect"><stop offset="0" stop-color="#5fb7bd"/><stop offset=".04" stop-color="#68bdbd"/><stop offset=".09" stop-color="#8aceba"/><stop offset=".15" stop-color="#c0e4b4"/><stop offset=".22" stop-color="#e7f4b6"/><stop offset=".3" stop-color="#f4faca"/><stop offset=".4" stop-color="#f6fbd4"/><stop offset=".55" stop-color="#f7fbd4"/><stop offset=".75" stop-color="#f7fbd4"/><stop offset="1" stop-color="#f7fbd4"/></linearGradient>
<linearGradient id="u33" x1=".49" x2=".99" spreadMethod="reflect"><stop offset="0" stop-color="#65bbbd"/><stop offset=".04" stop-color="#6ec0bc"/><stop offset=".09" stop-color="#90d1b9"/><stop offset=".15" stop-color="#c5e6b3"/><stop offset=".22" stop-color="#eaf5b8"/><stop offset=".3" stop-color="#f5facf"/><stop offset=".4" stop-color="#f8fbd8"/><stop offset=".55" stop-color="#f8fcd9"/><stop offset=".75" stop-color="#f8fcd9"/><stop offset="1" stop-color="#f8fcd9"/></linearGradient>
<linearGradient id="u34" x1=".49" x2=".99" spreadMethod="reflect"><stop offset="0" stop-color="#77c5bc"/><stop offset=".04" stop-color="#80c9bb"/><stop offset=".09" stop-color="#a0d7b8"/><stop offset=".15" stop-color="#cfeab2"/><stop offset=".22" stop-color="#eef7bd"/><stop offset=".3" stop-color="#f7fbd5"/><stop offset=".4" stop-color="#f8fcdd"/><stop offset=".55" stop-color="#f9fcdd"/><stop offset=".75" stop-color="#f9fcdd"/><stop offset="1" stop-color="#f9fcdd"/></linearGradient>
<linearGradient id="u35" x1=".49" x2=".99" spreadMethod="reflect"><stop offset="0" stop-color="#8dd0ba"/><stop offset=".04" stop-color="#96d3b9"/><stop offset=".09" stop-color="#b2dfb5"/><stop offset=".15" stop-color="#d9eeb2"/><stop offset=".22" stop-color="#f1f8c3"/><stop offset=".3" stop-color="#f8fcda"/><stop offset=".4" stop-color="#f9fce1"/><stop offset=".55" stop-color="#f9fde1"/><stop offset=".75" stop-color="#f9fde1"/><stop offset="1" stop-color="#f9fde1"/></linearGradient>
<linearGradient id="u36" x1=".49" x2=".99" spreadMethod="reflect"><stop offset="0" stop-color="#a6dab7"/><stop offset=".04" stop-color="#addcb6"/><stop offset=".09" stop-color="#c4e6b3"/><stop offset=".15" stop-color="#e3f2b4"/><stop offset=".22" stop-color="#f4facb"/><stop offset=".3" stop-color="#f9fce0"/><stop offset=".4" stop-color="#fafde5"/><stop offset=".55" stop-color="#fafde5"/><stop offset=".75" stop-color="#fafde5"/><stop offset="1" stop-color="#fafde5"/></linearGradient>
<linearGradient id="u37" x1=".49" x2=".99" spreadMethod="reflect"><stop offset="0" stop-color="#bfe4b4"/><stop offset=".04" stop-color="#c5e6b3"/><stop offset=".09" stop-color="#d6edb2"/><stop offset=".15" stop-color="#ebf5ba"/><stop offset=".22" stop-color="#f7fbd4"/><stop offset=".3" stop-color="#fafde5"/><stop offset=".4" stop-color="#fbfde9"/><stop offset=".55" stop-color="#fbfde9"/><stop offset=".75" stop-color="#fbfde9"/><stop offset="1" stop-color="#fbfde9"/></linearGradient>
<linearGradient id="u38" x1=".49" x2=".99" spreadMethod="reflect"><stop offset="0" stop-color="#d9eeb2"/><stop offset=".04" stop-color="#dcefb3"/><stop offset=".09" stop-color="#e6f3b6"/><stop offset=".15" stop-color="#f2f9c6"/><stop offset=".22" stop-color="#f9fcdf"/><stop offset=".3" stop-color="#fbfdea"/><stop offset=".4" stop-color="#fcfeec"/><stop offset=".55" stop-color="#fcfeec"/><stop offset=".75" stop-color="#fcfeec"/><stop offset="1" stop-color="#fcfeec"/></linearGradient>
<linearGradient id="u39" x1=".49" x2=".99" spreadMethod="reflect"><stop offset="0" stop-color="#edf6bb"/><stop offset=".04" stop-color="#eef7be"/><stop offset=".09" stop-color="#f3f9c6"/><stop offset=".15" stop-color="#f8fbd8"/><stop offset=".22" stop-color="#fbfde8"/><stop offset=".3" stop-color="#fcfeee"/><stop offset=".4" stop-color="#fcfef0"/><stop offset=".55" stop-color="#fcfef0"/><stop offset=".75" stop-color="#fcfef0"/><stop offset="1" stop-color="#fcfef0"/></linearGradient>
<linearGradient id="u40" x1=".49" x2=".99" spreadMethod="reflect"><stop offset="0" stop-color="#f5face"/><stop offset=".04" stop-color="#f6fad0"/><stop offset=".09" stop-color="#f8fbd8"/><stop offset=".15" stop-color="#fafde5"/><stop offset=".22" stop-color="#fcfeee"/><stop offset=".3" stop-color="#fdfef2"/><stop offset=".4" stop-color="#fdfef2"/><stop offset=".55" stop-color="#fdfef2"/><stop offset=".75" stop-color="#fdfef2"/><stop offset="1" stop-color="#fdfef2"/></linearGradient>
<linearGradient id="u41" x1=".49" x2=".99" spreadMethod="reflect"><stop offset="0" stop-color="#f9fcdf"/><stop offset=".04" stop-color="#f9fce0"/><stop offset=".09" stop-color="#fafde5"/><stop offset=".15" stop-color="#fcfeed"/><stop offset=".22" stop-color="#fdfef2"/><stop offset=".3" stop-color="#fdfef5"/><stop offset=".4" stop-color="#fdfef5"/><stop offset=".55" stop-color="#fdfef5"/><stop offset=".75" stop-color="#fdfef5"/><stop offset="1" stop-color="#fdfef5"/></linearGradient>
<linearGradient id="u42" x1=".49" x2=".99" spreadMethod="reflect"><stop offset="0" stop-color="#fcfeef"/><stop offset=".04" stop-color="#fcfeef"/><stop offset=".09" stop-color="#fcfef1"/><stop offset=".15" stop-color="#fdfef4"/><stop offset=".22" stop-color="#fdfef6"/><stop offset=".3" stop-color="#fefef8"/><stop offset=".4" stop-color="#fefef8"/><stop offset=".55" stop-color="#fefef8"/><stop offset=".75" stop-color="#fefef8"/><stop offset="1" stop-color="#fefef8"/></linearGradient>
<linearGradient id="u43" x1=".49" x2=".99" spreadMethod="reflect"><stop offset="0" stop-color="#fdfef3"/><stop offset=".04" stop-color="#fdfef4"/><stop offset=".09" stop-color="#fdfef5"/><stop offset=".15" stop-color="#fefef7"/><stop offset=".22" stop-color="#fefff9"/><stop offset=".3" stop-color="#fefff9"/><stop offset=".4" stop-color="#fefff9"/><stop offset=".55" stop-color="#fefffa"/><stop offset=".75" stop-color="#fefffa"/><stop offset="1" stop-color="#fefffa"/></linearGradient>
<linearGradient id="u44" x1=".49" x2=".99" spreadMethod="reflect"><stop offset="0" stop-color="#fefef8"/><stop offset=".04" stop-color="#fefef8"/><stop offset=".09" stop-color="#fefff9"/><stop offset=".15" stop-color="#fefffa"/><stop offset=".22" stop-color="#fefffb"/><stop offset=".3" stop-color="#fefffb"/><stop offset=".4" stop-color="#fefffb"/><stop offset=".55" stop-color="#fefffb"/><stop offset=".75" stop-color="#fefffb"/><stop offset="1" stop-color="#fefffb"/></linearGradient>
<linearGradient id="u45" x1=".49" x2=".99" spreadMethod="reflect"><stop offset="0" stop-color="#fefffb"/><stop offset=".04" stop-color="#fefffb"/><stop offset=".09" stop-color="#fefffc"/><stop offset=".15" stop-color="#fefffc"/><stop offset=".22" stop-color="#fffffd"/><stop offset=".3" stop-color="#fffffd"/><stop offset=".4" stop-color="#fffffd"/><stop offset=".55" stop-color="#fffffd"/><stop offset=".75" stop-color="#fffffd"/><stop offset="1" stop-color="#fffffd"/></linearGradient>
<linearGradient id="u46" x1=".49" x2=".99" spreadMethod="reflect"><stop offset="0" stop-color="#fffffd"/><stop offset=".04" stop-color="#fffffd"/><stop offset=".09" stop-color="#fffffd"/><stop offset=".15" stop-color="#fffffe"/><stop offset=".22" stop-color="#fffffe"/><stop offset=".3" stop-color="#fffffe"/><stop offset=".4" stop-color="#fffffe"/><stop offset=".55" stop-color="#fffffe"/><stop offset=".75" stop-color="#fffffe"/><stop offset="1" stop-color="#fffffe"/></linearGradient>
<linearGradient id="u47" x1=".49" x2=".99" spreadMethod="reflect"><stop offset="0" stop-color="#ffffff"/><stop offset=".04" stop-color="#ffffff"/><stop offset=".09" stop-color="#ffffff"/><stop offset=".15" stop-color="#ffffff"/><stop offset=".22" stop-color="#ffffff"/><stop offset=".3" stop-color="#ffffff"/><stop offset=".4" stop-color="#ffffff"/><stop offset=".55" stop-color="#ffffff"/><stop offset=".75" stop-color="#ffffff"/><stop offset="1" stop-color="#ffffff"/></linearGradient>
<linearGradient id="cb" x1="0" y1="0" x2="0" y2="1"><stop offset="0" stop-color="#1b2f80"/><stop offset=".04" stop-color="#1c4596"/><stop offset=".14" stop-color="#2062ae"/><stop offset=".23" stop-color="#1f7db8"/><stop offset=".33" stop-color="#2898c1"/><stop offset=".43" stop-color="#3fb0c4"/><stop offset=".52" stop-color="#6cc4be"/><stop offset=".62" stop-color="#9bd6b8"/><stop offset=".69" stop-color="#b6e0b6"/><stop offset=".75" stop-color="#cee9b1"/><stop offset=".81" stop-color="#e1f1ae"/><stop offset=".87" stop-color="#f0f7b4"/><stop offset=".94" stop-color="#fafde4"/><stop offset="1" stop-color="#ffffff"/></linearGradient>
</defs>
<rect width="685" height="1022" fill="#fff"/>
<g id="panel-a">
<text x="2.6" y="9.7" font-size="18.3" fill="#231815" font-weight="bold">a</text>
<text x="115.4" y="14.1" font-size="9.3" fill="#0a0a0a" stroke="#0a0a0a">SW480 RPB1-HiBiT</text>
<text x="340.7" y="8.0" font-size="10.4" fill="#0a0a0a" stroke="#0a0a0a">RNA Pol II</text>
<text x="106.5" y="32.6" font-size="8.95" fill="#000" stroke="#000" text-anchor="end">chr12:6,612,001-7,031,408</text>
<path d="M113 30.6H373.5M402.5 30.6H664" stroke="#111" stroke-width="1" fill="none"/>
<path d="M109.6 30.6l4.4-1.7v3.4z" fill="#111"/>
<path d="M667.8 30.6l-4.6-1.7v3.4z" fill="#111"/>
<text x="389.0" y="33.6" font-size="8.8" fill="#111" stroke="#111" text-anchor="middle">419 kb</text>
<path d="M111.5 50.5H665.3" stroke="#222" stroke-width="0.9" fill="none"/>
<path d="M161.5 45.8V50.5M227.5 45.8V50.5M293.5 45.8V50.5M359.5 45.8V50.5M425.5 45.8V50.5M491.5 45.8V50.5M557.5 45.8V50.5M623.5 45.8V50.5" stroke="#222" stroke-width="0.8" fill="none"/>
<text x="231.3" y="42.8" font-size="6.5" fill="#000" stroke="#000" text-anchor="middle">6,700 kb</text>
<text x="363.3" y="42.8" font-size="6.5" fill="#000" stroke="#000" text-anchor="middle">6,800 kb</text>
<text x="495.3" y="42.8" font-size="6.5" fill="#000" stroke="#000" text-anchor="middle">6,900 kb</text>
<text x="627.3" y="42.8" font-size="6.5" fill="#000" stroke="#000" text-anchor="middle">7,000 kb</text>
<text x="70.3" y="92.5" font-size="9.3" fill="#ec6c2e" stroke="#ec6c2e" text-anchor="end">Af-CUT&amp;Tag</text>
<text x="82.4" y="77.4" font-size="9.0" fill="#ec6c2e" stroke="#ec6c2e">Rep1</text>
<text x="82.4" y="104.8" font-size="9.0" fill="#ec6c2e" stroke="#ec6c2e">Rep2</text>
<path d="M72.9 68.9V112.1" stroke="#7c7577" stroke-width="1.4"/>
<text x="105.2" y="136.3" font-size="9.2" fill="#22357f" stroke="#22357f" text-anchor="end">WT Control</text>
<text x="69.7" y="182.2" font-size="9.3" fill="#1f9fe6" stroke="#1f9fe6" text-anchor="end">CUT&amp;Tag</text>
<text x="82.4" y="168.2" font-size="9.0" fill="#1f9fe6" stroke="#1f9fe6">Rep1</text>
<text x="82.4" y="195.8" font-size="9.0" fill="#1f9fe6" stroke="#1f9fe6">Rep2</text>
<path d="M72.9 157V200.2" stroke="#7c7577" stroke-width="1.4"/>
<text x="69.7" y="238.1" font-size="9.3" fill="#9d57ad" stroke="#9d57ad" text-anchor="end">Nano-CUT&amp;Tag</text>
<text x="82.4" y="226.4" font-size="9.0" fill="#9d57ad" stroke="#9d57ad">Rep1</text>
<text x="82.4" y="253.8" font-size="9.0" fill="#9d57ad" stroke="#9d57ad">Rep2</text>
<path d="M72.9 215.6V258.7" stroke="#7c7577" stroke-width="1.4"/>
<text x="104.4" y="285.0" font-size="9.2" fill="#e41ee4" stroke="#e41ee4" text-anchor="end">WT CUT&amp;Tag</text>
<text x="104.8" y="314.8" font-size="9.2" fill="#22357f" stroke="#22357f" text-anchor="end">IgG Control</text>
<text x="105.3" y="346.0" font-size="9.2" fill="#158585" stroke="#158585" text-anchor="end">ATAC seq</text>
<text x="104.8" y="368.8" font-size="9.2" fill="#111" stroke="#111" text-anchor="end">Refseq Genes</text>
<text x="113.7" y="64.6" font-size="5.9" fill="#000" stroke="#000" textLength="20.6" lengthAdjust="spacingAndGlyphs">[0 - 50]</text>
<text x="113.7" y="94.0" font-size="5.9" fill="#000" stroke="#000" textLength="20.6" lengthAdjust="spacingAndGlyphs">[0 - 50]</text>
<text x="113.7" y="123.6" font-size="5.9" fill="#000" stroke="#000" textLength="20.6" lengthAdjust="spacingAndGlyphs">[0 - 50]</text>
<text x="113.7" y="153.0" font-size="5.9" fill="#000" stroke="#000" textLength="20.6" lengthAdjust="spacingAndGlyphs">[0 - 50]</text>
<text x="113.7" y="182.6" font-size="5.9" fill="#000" stroke="#000" textLength="20.6" lengthAdjust="spacingAndGlyphs">[0 - 50]</text>
<text x="113.7" y="212.1" font-size="5.9" fill="#000" stroke="#000" textLength="20.6" lengthAdjust="spacingAndGlyphs">[0 - 50]</text>
<text x="113.7" y="241.5" font-size="5.9" fill="#000" stroke="#000" textLength="20.6" lengthAdjust="spacingAndGlyphs">[0 - 50]</text>
<text x="113.7" y="271.0" font-size="5.9" fill="#000" stroke="#000" textLength="20.6" lengthAdjust="spacingAndGlyphs">[0 - 50]</text>
<text x="113.7" y="300.5" font-size="5.9" fill="#000" stroke="#000" textLength="20.6" lengthAdjust="spacingAndGlyphs">[0 - 50]</text>
<text x="113.7" y="330.0" font-size="5.9" fill="#000" stroke="#000" textLength="25.0" lengthAdjust="spacingAndGlyphs">[0 - 140]</text>
<path d="M111.5 87.0v-1.7h.6v.1h.6v-.3h.6v-.7h.6v.4h.6h.6v.4h.6v-.4h.6v.3h.6v-1.3h.6v1.2h.6v.1h.6v.4h.6v-1.1h.6v.9h.6v.2h.6v-.7h.6v.7h.6v-1.5h.6v.6h.6v.6h.6v.3h.6h.6v-.5h.6v.3h.6v-.2h.6v-.1h.6v-.2h.6v.4h.6v-.9h.6v1h.6v.2h.6v-.2h.6v.1h.6v-.2h.6v.3h.6v-.4h.6v-1.1h.6v-.3h.6v1h.6v.5h.6v.3h.6v-.6h.6v.5h.6v-3.3h.6v2.1h.6v.6h.6v-.1h.6v.7h.6v-.3h.6v.2h.6h.6v-.4h.6v.6h.6v-.5h.6v-1.3h.6v1.6h.6v-1h.6v.4h.6v.2h.6h.6v-.2h.6v-.2h.6v-.6h.6v-2h.6v-3.4h.6v2h.6v-10.4h.6v-9.2h.6h.6h.6v16.6h.6v-1h.6v3.2h.6v-2.1h.6v-.1h.6v1.8h.6v-.4h.6v-3.5h.6v1.3h.6v.2h.6v-11.5h.6v-1.5h.6v8.6h.6v7.9h.6h.6v1.3h.6v1.1h.6v1.6h.6v-.3h.6v1.2h.6h.6v-.2h.6v-.6h.6h.6v.3h.6v.4h.6v-.4h.6v.1h.6v.4h.6v-2.3h.6v-1.7h.6v2.3h.6v1.5h.6v-2h.6v2.3h.6v-.9h.6v-1.1h.6v-1.8h.6v.9h.6v2.6h.6v-.6h.6v-.6h.6v-5.3h.6v-.2h.6v5.4h.6v-2.1h.6v-.3h.6v1.7h.6v1.6h.6v-1.3h.6v-.1h.6v-1.5h.6v-1.1h.6v2.5h.6v1.6h.6v-.8h.6v-1.6h.6v-.4h.6v1.2h.6v1.9h.6v-.3h.6v-.7h.6v.9h.6v-.8h.6v1.1h.6v-.2h.6h.6v-.3h.6v-.7h.6v.5h.6v-5h.6v.5h.6v-6.1h.6v.9h.6v5.9h.6v2.3h.6v1.3h.6v.5h.6v-.4h.6v.2h.6v.6h.6h.6h.6h.6v.2h.6h.6v-.3h.6v-.3h.6v-.7h.6v.6h.6v.3h.6v.2h.6v-.9h.6v-.8h.6v1.5h.6v-2.7h.6v.8h.6v1.3h.6v.7h.6v-.5h.6v.7h.6v.1h.6v-.1h.6v-2.1h.6v2.1h.6v-3.4h.6v3.4h.6v.1h.6h.6v-1.2h.6v.9h.6v-.2h.6v-.1h.6v.6h.6v-.3h.6h.6v.3h.6v-.1h.6v-.5h.6v-.3h.6v-2.2h.6v1h.6v1.8h.6v-.1h.6v.1h.6v.2h.6v-.6h.6v-.3h.6v.9h.6h.6v-.1h.6v-.2h.6v-1.5h.6v1.5h.6v.4h.6v-.4h.6v-.3h.6v.4h.6v.2h.6v-1.5h.6v1.3h.6v-.2h.6v-.4h.6v.8h.6v-.2h.6v-.1h.6v-.3h.6v.3h.6v-.5h.6v.4h.6v.5h.6v-1.5h.6v1.1h.6v-1h.6v-.5h.6v-2.9h.6v-.6h.6v3.5h.6h.6v-1.2h.6v-17.1h.6v-4.4h.6v11.1h.6v11h.6v.9h.6v-.3h.6v-1.4h.6v3h.6v-.5h.6v.1h.6v-4h.6v3.4h.6v-9.3h.6v-3h.6v7.6h.6v4.9h.6v.1h.6v.5h.6v-1.7h.6v2.2h.6v-7.1h.6v6.9h.6v-.3h.6v-.4h.6v-.8h.6v1.2h.6v.3h.6v.1h.6v-.5h.6v-.1h.6v.1h.6v-1.7h.6v2.3h.6v-.1h.6v.1h.6v-.2h.6v.2h.6v-.4h.6v-.1h.6v.2h.6v-.6h.6v-.6h.6v.7h.6v.4h.6v.3h.6v-.4h.6v.1h.6v.4h.6h.6v-.1h.6v-1h.6v.5h.6v.5h.6v-.1h.6v-.6h.6v.4h.6v-.2h.6v-.6h.6v-.4h.6v.2h.6v-2.2h.6v-12.1h.6v-3.1h.6v15.6h.6v2h.6v.3h.6v.1h.6v-.3h.6v.8h.6h.6v-.2h.6v.4h.6h.6v-.2h.6v-2.3h.6v2.4h.6v-.5h.6v-.9h.6v-.1h.6v1.2h.6h.6v.3h.6v-.6h.6v.2h.6v-3.6h.6v-2.1h.6v4.1h.6v1.4h.6v.4h.6v-.8h.6h.6v.8h.6v-.7h.6v1h.6h.6v-.5h.6v.6h.6v-.3h.6v-1h.6v.5h.6v-.2h.6v.5h.6v.2h.6v-.4h.6v.7h.6v-.3h.6v-.5h.6v.3h.6v-.8h.6v.2h.6v.2h.6v-.4h.6v1h.6v-1h.6v1.2h.6v-.8h.6v-.2h.6v.1h.6v-.9h.6v.3h.6v-1.5h.6v-11.5h.6v-2h.6v13.5h.6v1.9h.6v-.3h.6v.9h.6v.3h.6v.3h.6v-.6h.6v.5h.6v-.6h.6v-.6h.6v1.3h.6v-.1h.6v-.3h.6v.4h.6v-.5h.6v.2h.6v-.9h.6v1h.6h.6v.1h.6v.1h.6v-.3h.6v-.5h.6v.8h.6v-.5h.6v.3h.6v-1.1h.6v1h.6v-.5h.6v-3.3h.6v4h.6v-.7h.6v.5h.6v-.1h.6v.4h.6v-1.1h.6v.4h.6v.5h.6v.1h.6v-.6h.6v.6h.6v-.8h.6v.6h.6v-.2h.6v.2h.6v-1.4h.6v1.7h.6v-.5h.6v.1h.6v-1.1h.6v.4h.6v.4h.6v-.6h.6v-.6h.6v-1.4h.6v-8.4h.6v-1.8h.6v8h.6v4.3h.6v.3h.6v.1h.6v-1.2h.6v.9h.6v.5h.6v-.9h.6v1.4h.6v.1h.6v-.5h.6v.3h.6v-1.6h.6v.5h.6v.6h.6v.6h.6v-.2h.6v-.6h.6v.8h.6h.6v-.6h.6v.3h.6v.1h.6v-.1h.6v-.3h.6v.7h.6v-2.2h.6v2h.6v-.5h.6v.5h.6v-1.1h.6v.6h.6v.7h.6v-.1h.6v-.3h.6v-.9h.6v-2.7h.6v4h.6h.6v-1.4h.6v.3h.6v.2h.6v.7h.6v-.5h.6v.3h.6v-.4h.6v-1.3h.6v.6h.6v1.3h.6v-.4h.6v-1.7h.6v1.5h.6v-1.4h.6v1.1h.6v.4h.6v.3h.6v.3h.6h.6v-.1h.6v.1h.6v-.2h.6v-.3h.6v.5h.6v-.5h.6v.1h.6v.5h.6v-.1h.6v.1h.6v-.7h.6v.4h.6v-.8h.6v-.8h.6v.9h.6v-1.6h.6v-9.8h.6v-.7h.6v9.9h.6v2.3h.6v-.2h.6v.5h.6v-.4h.6v.9h.6v-.2h.6v-.6h.6v-1.1h.6v1.9h.6h.6v-.5h.6v.1h.6v.2h.6v.2h.6v-1.7h.6v.7h.6v.9h.6v-.2h.6v-.7h.6h.6v.5h.6v.3h.6v-1.6h.6v1.7h.6v-.2h.6v.2h.6v-.6h.6v.6h.6v-.7h.6v-.3h.6v-.7h.6v1.9h.6v-.2h.6v.1h.6v-1.3h.6v1.4h.6v-.1h.6v-.3h.6v-.7h.6h.6v.9h.6h.6v-1.2h.6v-.2h.6v1.3h.6v.1h.6v.1h.6v-1.7h.6v1.1h.6v.5h.6v-.7h.6v.8h.6v-.7h.6v-.8h.6v1h.6v.5h.6v-.3h.6h.6v-.7h.6v-.9h.6v.1h.6v-2.7h.6v-8.4h.6v1.6h.6v9.7h.6v-1h.6v.4h.6v-.7h.6v2.1h.6h.6v.8h.6v-.1h.6v.2h.6v-.2h.6v-.2h.6v.1h.6v.3h.6v-.7h.6v.6h.6v-.8h.6v.4h.6h.6v-.4h.6v-1h.6v.1h.6v-12.7h.6v-2.4h.6v10.5h.6v4.8h.6v-6.4h.6v-.4h.6v3.4h.6v3.8h.6v-4.7h.6v-1.2h.6v2.4h.6v4.1h.6v-2.2h.6v-2.6h.6v-1.5h.6v1h.6v3.5h.6v.4h.6v-.1h.6v-1.4h.6v-1.6h.6v-1.6h.6v4h.6v1.7h.6v-1h.6v-1.3h.6v-1.5h.6v.6h.6v3.2h.6v.2h.6v.2h.6v-.1h.6v-2.5h.6v-5.9h.6v1.3h.6v7h.6h.6v-.2h.6v-.4h.6v1h.6v.3h.6v-.8h.6v-.5h.6v.5h.6v.2h.6v.4h.6v-.2h.6v-.1h.6v.4h.6v-.1h.6v.2h.6v-1.7h.6v1.5h.6v.3h.6v-.9h.6v.7h.6h.6v-.3h.6v.3h.6v-2.5h.6v2.6h.6v-.1h.6v-1h.6v-2.1h.6v-1.3h.6v1.8h.6v2.1h.6v-.4h.6v.4h.6v.1h.6v.6h.6v-.4h.6v.3h.6v-.3h.6v.4h.6v-1.2h.6v.7h.6v.2h.6v.2h.6v-.4h.6v-1h.6v1.4h.6v-1.7h.6v1.3h.6v-.1h.6v.5h.6v-.9h.6v.3h.6v-.2h.6v-.8h.6v.3h.6v.8h.6v.6h.6v-.5h.6v.3h.6h.6v.2h.6v-.2h.6v.2h.6v-.2h.6h.6v-.5h.6v.2h.6v-.2h.6v-.8h.6v.6h.6v-.2h.6v.5h.6v.5h.6h.6v-.4h.6v-.2h.6v-.2h.6v.1h.6v-.9h.6v-3.1h.6v.5h.6v3.2h.6v-.8h.6v-5h.6v.1h.6v3.8h.6v.5h.6v2.2h.6v-1.1h.6v-1.4h.6v-2.5h.6v1.9h.6v2.2h.6v.4h.6v-3h.6v-.8h.6v1h.6v1.3h.6v1h.6v-1.4h.6v-3.8h.6v.2h.6v5.8h.6v-.7h.6v-.2h.6v-3.4h.6v-.3h.6h.6v3h.6v.6h.6v.9h.6v-3.2h.6v-.8h.6v.4h.6v3.5h.6v-.7h.6v1.2h.6v-.8h.6v.1h.6v-1.3h.6v-1h.6v.5h.6v1.6h.6v.8h.6h.6v.1h.6v-.1h.6v.2h.6h.6v-.4h.6v.2h.6v.2h.6v.1h.6v-.3h.6h.6v-.4h.6v-.2h.6v-.3h.6v.3h.6v-1.7h.6v-1.2h.6v2.8h.6v.6h.6h.6v-1.4h.6v1.7h.6v-1.4h.6v1.4h.6h.6v-1.1h.6v.9h.6v-1.1h.6v-2.9h.6v3h.6v-.6h.6v-.8h.6v-10.2h.6v-11.3h.6v-.3h.6v7.3h.6v13.1h.6v1.3h.6v1.3h.6v.3h.6v.3h.6v.2h.6v-.1h.6v.2h.6v-.7h.6v.5h.6v.8h.6v-1.9h.6v.9h.6v-1.2h.6v1h.6v1h.6v.1h.6v-.5h.6v-1.9h.6v1.9h.6v.3h.6h.6v-.6h.6v.5h.6v-2.1h.6v2.2h.6v.1h.6v-.1h.6v-.9h.6v-.6h.6v.9h.6v-2.3h.6v-7h.6v-1.2h.6v5.2h.6v-.5h.6v-.5h.6v.8h.6v5.1h.6v-.1h.6v-1.6h.6v-12.2h.6v-1.9h.6v9.7h.6v-.3h.6v-12.1h.6v-.1h.6v12.2h.6v5.7h.6v-2.1h.6v-3h.6v1.3h.6v3.9h.6v.9h.6v.3h.6v.2h.6v-1.4h.6v1.8h.6v-.1h.6v-.1h.6v-.3h.6v-2.8h.6v.2h.6v1.1h.6v1.2h.6v.3h.6v.1h.6v-3.4h.6v3.6h.6v-.1h.6v.3h.6v-.5h.6v.6h.6v-.1h.6v-.3h.6v-.3h.6v-.5h.6v-.6h.6v1h.6v-1.4h.6v1.6h.6v-.2h.6v-.4h.6v-8.4h.6v-1.6h.6v10.1h.6v.1h.6v.3h.6v.6h.6v-.4h.6h.6v.2h.6v-.3h.6v.3h.6v.3h.6v-.1h.6v-.7h.6v.3h.6v.1h.6v.1h.6v-.3h.6v-.5h.6v.7h.6v-.5h.6v-2.2h.6v-.6h.6v2.7h.6v.8h.6v-.3h.6v.1h.6v-.5h.6v-.2h.6v-15.2h.6v4.4h.6v4.6h.6v6.3h.6v.2h.6v-.5h.6v-.3h.6v1.4h.6h.6h.6v-1.2h.6v-1.4h.6v2.7h.6v-1.3h.6v-.3h.6v-.2h.6v1.5h.6v.1h.6v-1.3h.6v1h.6v-.2h.6v-1.2h.6v-2.7h.6v-.5h.6v-.9h.6v2.7h.6v2.6h.6v-2.5h.6v-.9h.6v.4h.6v1.6h.6v1.8h.6v-.5h.6v.5h.6v-1h.6v.4h.6v.7h.6v-.8h.6v.9h.6v-.3h.6v.1h.6v-.1h.6V87.0z" fill="#fb8c7a"/>
<path d="M111.5 116.4v-1.5h.6v-.1h.6v-.2h.6v-.2h.6v.4h.6h.6h.6v-.6h.6v.2h.6h.6v.4h.6v-.8h.6v.5h.6v-.4h.6v.8h.6v-.2h.6h.6h.6v.2h.6v-2.5h.6v2.3h.6v-.4h.6v.6h.6v-.3h.6v.1h.6v-.9h.6v1.1h.6h.6h.6v-.6h.6v.3h.6v-.4h.6v.5h.6v-.1h.6v-1.1h.6v1.2h.6v-.5h.6h.6v.7h.6v-.1h.6v-.6h.6v.2h.6v.2h.6v.1h.6v-.4h.6v.3h.6v-.4h.6v.3h.6v-.2h.6v-.1h.6v.5h.6v-.5h.6v.3h.6v-.3h.6v-.2h.6v.9h.6v-2.9h.6v.7h.6v1.8h.6v-.5h.6v.3h.6v-.1h.6v-1.7h.6v-.6h.6v.3h.6v-2.5h.6v1.2h.6v-11.6h.6v-8.1h.6v-.9h.6v5h.6v12.3h.6v-.8h.6v2.5h.6v-1.6h.6v.2h.6v1.4h.6v-1.7h.6v-2.2h.6v1.8h.6v-.4h.6v-9.6h.6v.1h.6v6.1h.6v8.1h.6v-1.2h.6v1.4h.6v2.4h.6v-2.1h.6v2.6h.6h.6v.2h.6v-1.2h.6v1.1h.6v-.2h.6v-.2h.6v-.9h.6v1h.6v.3h.6v-.6h.6v-2.6h.6v.3h.6v-.1h.6v2h.6v.4h.6v.3h.6v-.8h.6v-.1h.6v-1.6h.6v-.2h.6v2.7h.6v-.6h.6v.1h.6v-6.5h.6v-.1h.6v5.9h.6v-3.2h.6v.9h.6v1h.6v1.3h.6v1.2h.6v-1.1h.6v-1.3h.6h.6v1h.6v.7h.6v-.7h.6v-1.9h.6v-.1h.6v2.5h.6v.4h.6v.3h.6v-1h.6v1.6h.6v-.5h.6h.6h.6v.2h.6v-.2h.6h.6v-.4h.6v-3.4h.6v-1.6h.6v-8.1h.6v-.5h.6v7.5h.6v5h.6v1.2h.6v.2h.6v.2h.6h.6v-.7h.6v1h.6v-.3h.6v-.3h.6v-.8h.6v1.4h.6v.1h.6v-.1h.6v-1.9h.6v1.9h.6v-1.2h.6v.1h.6v1h.6v-.6h.6v-.8h.6v1.6h.6v-.1h.6h.6v-.6h.6v.4h.6h.6v-2.2h.6v2.1h.6v.2h.6v-.3h.6v-.2h.6v.8h.6v-2.1h.6v1.7h.6h.6v-.5h.6v-.3h.6v.5h.6v-.3h.6v.7h.6v.1h.6v-.8h.6v.2h.6v-.4h.6v1.1h.6v-.5h.6v-1.2h.6v1.5h.6v-.3h.6v.4h.6h.6v-.2h.6v-.6h.6v1h.6v-.1h.6v-2.8h.6v2.6h.6v-.7h.6v.5h.6v.5h.6h.6v-.6h.6v-.3h.6v.7h.6v-.1h.6v-1.1h.6v1.1h.6v-.1h.6v-.4h.6v.5h.6v.1h.6v-1.1h.6v1.2h.6v.1h.6v-.2h.6v-1.3h.6v1h.6v-.3h.6v.1h.6v-.8h.6v-3.7h.6v-1.2h.6v2.7h.6v1h.6v-4.1h.6v-9.4h.6v-5.1h.6v9.4h.6v9.4h.6v-.1h.6v1.6h.6v-.7h.6v.7h.6v.5h.6v-1.3h.6v.3h.6v-.2h.6v-9h.6v-4.4h.6v8.3h.6v4.3h.6v1.2h.6v.6h.6v.5h.6h.6v.2h.6v-.1h.6v-.1h.6h.6v-.1h.6v-1h.6v1.3h.6v-.7h.6v.5h.6v-1h.6v-.1h.6v1.2h.6v-1.7h.6v1.4h.6v-.5h.6v.6h.6v-2.7h.6v2.2h.6v.3h.6v-1.1h.6v1.2h.6v-1.9h.6v2.1h.6h.6v-.7h.6v.1h.6v.7h.6h.6v-1.8h.6v.5h.6v.6h.6v.2h.6v-2.1h.6v2.3h.6v.3h.6v-.1h.6v-.4h.6v.1h.6v-1h.6v.6h.6v-1.7h.6v-8.4h.6v.4h.6v8.3h.6v1.3h.6v.2h.6v-.1h.6v-.1h.6v-1.2h.6v.7h.6v1.4h.6v-.6h.6v-.6h.6v1h.6v-.2h.6v.4h.6h.6v-2.9h.6v2.9h.6h.6v-.2h.6v-.1h.6v-.4h.6v-.1h.6v-4h.6v-.9h.6v3.2h.6v1.9h.6v-1.5h.6v1.7h.6v.4h.6v-1h.6v.6h.6v-.6h.6v.8h.6v-.2h.6v.2h.6v.1h.6h.6h.6v-.4h.6v-1.5h.6v1.3h.6v.3h.6v.3h.6v.1h.6v-.2h.6h.6v-.1h.6v-1.8h.6v-.4h.6v1h.6v.4h.6v.1h.6v1.1h.6v-.8h.6h.6v-.7h.6v.6h.6v-.5h.6v-2.8h.6v-10.4h.6v-.4h.6v12.2h.6v1.5h.6v-2.9h.6v3.6h.6v.1h.6v.2h.6v.2h.6v-.3h.6v.3h.6v-.9h.6v.6h.6v-.7h.6v.4h.6v.6h.6v-.7h.6v-.3h.6v.8h.6v-.1h.6v-.2h.6v-2.2h.6v2.1h.6v.4h.6v-.9h.6v-.2h.6v1.2h.6v-.7h.6v.8h.6v-2.3h.6v2.2h.6v-.2h.6v.4h.6v-.4h.6v-.7h.6v.5h.6v.6h.6v-.2h.6v-1.2h.6v1h.6v-.5h.6v.9h.6v-.2h.6v.1h.6v-.4h.6h.6v.2h.6v-.1h.6v-.3h.6v.1h.6v-.8h.6v1.1h.6v-.1h.6v-.2h.6v-.1h.6v-.5h.6v-1.3h.6v-11h.6v-.8h.6v8.2h.6v4.7h.6v.3h.6v.2h.6v.3h.6v.3h.6v-.2h.6v-3.6h.6v2.7h.6v1.1h.6v.1h.6v-1h.6v.9h.6v-.5h.6v.7h.6v-.5h.6v-.2h.6v-.2h.6v-1h.6v1.9h.6v.1h.6v-.9h.6v.5h.6h.6h.6v.3h.6v-.5h.6v.3h.6v-3.4h.6v3.1h.6v-.4h.6v.7h.6v.2h.6v-.3h.6v.3h.6v-1.1h.6v.6h.6v.6h.6v-.9h.6v.8h.6v-.4h.6v.3h.6v-.1h.6v-1.3h.6v1.3h.6v.3h.6h.6v-.3h.6v-.4h.6v.7h.6v-1.3h.6v.5h.6v-.2h.6v.7h.6v-3.1h.6v2.2h.6v.1h.6v.2h.6v.9h.6h.6v-.4h.6v-.4h.6v.1h.6v.5h.6v-.1h.6v-.1h.6v-1.4h.6v1.2h.6v.4h.6v-.2h.6v-.2h.6v-.9h.6v-.7h.6v-2.3h.6v-15.3h.6v.1h.6v15.3h.6v2.5h.6v.2h.6v1.1h.6v-.5h.6v-.1h.6v-.8h.6v1.3h.6v.6h.6v-.2h.6v-1.2h.6v.9h.6v-.3h.6v.8h.6v-.6h.6h.6v.3h.6v-.3h.6v.6h.6v-1.4h.6v.5h.6v-1.4h.6v1.9h.6v-1.4h.6v1.6h.6v-2.6h.6v2.7h.6v-.2h.6v-.7h.6v.5h.6v-.1h.6v.7h.6v-1.5h.6v1.2h.6h.6v-.5h.6v.8h.6h.6h.6v-.5h.6v.5h.6v-.1h.6v-1.1h.6v-1.6h.6v2.7h.6v-1.6h.6v1.2h.6h.6v-.3h.6v-.1h.6v.4h.6v-.2h.6v.1h.6v-1.6h.6v1.8h.6v.1h.6v-.3h.6v-.5h.6v-1.2h.6v.8h.6v.5h.6v-1.3h.6v-1.9h.6v-8.3h.6v1.7h.6v9.5h.6v-.1h.6v.1h.6v.9h.6v.3h.6v-1h.6v.9h.6h.6v.1h.6v-.4h.6v.5h.6v-.8h.6v.4h.6v.3h.6v-.8h.6v.5h.6v-.7h.6v.1h.6h.6v-.4h.6v-2.9h.6v-12.4h.6v-2.8h.6v13.5h.6v3.1h.6v-6.7h.6v-1.9h.6v2.9h.6v6.8h.6v-4.6h.6v-.7h.6v2.6h.6v2.1h.6v1.1h.6v-3.3h.6v.4h.6v1h.6v2.6h.6v-1.3h.6v-.4h.6v-.5h.6v-1.8h.6v1.6h.6v1.5h.6v1.2h.6v-.4h.6v-1.3h.6v-1.2h.6v.2h.6v1.9h.6v.6h.6v.1h.6v-.7h.6v-2.3h.6v-2.8h.6v-6.8h.6v12.1h.6v.5h.6v-.6h.6v.6h.6v.2h.6v-.5h.6v.5h.6v.2h.6v-3.8h.6v3.4h.6v.2h.6v-.9h.6v.7h.6v-.3h.6v.4h.6v.1h.6v.1h.6v-.6h.6v-.8h.6v.4h.6v.7h.6v-.3h.6v.3h.6h.6v-.1h.6v.3h.6h.6v-.7h.6v-.2h.6v-1.4h.6v.1h.6v1.9h.6v.1h.6v-3.6h.6v3.8h.6v-1.7h.6v1.2h.6v.2h.6v.2h.6v.1h.6v.2h.6v-.6h.6h.6v.5h.6v-.2h.6v-.1h.6v.4h.6v-.7h.6v.6h.6v-.5h.6v-.1h.6v-.8h.6v.9h.6v-.6h.6v1.1h.6v-.3h.6v-1.5h.6v1.5h.6v-.3h.6v.7h.6v-.4h.6v.1h.6v.2h.6v-.6h.6v.7h.6v-.7h.6v.2h.6v.4h.6v-.3h.6v.2h.6h.6v-.1h.6v-.5h.6v.2h.6v-2h.6v1.2h.6v1.3h.6v-1.3h.6v.2h.6v.1h.6v-2h.6v-.1h.6v2.4h.6v-1.4h.6v-2.1h.6v-.6h.6v2.2h.6v2.3h.6v.2h.6v-.6h.6v-1.7h.6v-.8h.6v.7h.6v2.1h.6v-.7h.6v-2.1h.6v-2.6h.6v.5h.6v3.8h.6h.6v-1.9h.6v-6.2h.6v3.8h.6v4.4h.6v-1h.6v1.2h.6v-4.1h.6v.4h.6v.7h.6v2.6h.6v1h.6v.1h.6v-2.1h.6v-.3h.6v.8h.6v1.9h.6v-.4h.6v-.1h.6v-.5h.6v.8h.6v-2.1h.6v-1h.6v.8h.6v1.8h.6v-.2h.6v.9h.6v-.4h.6v-.1h.6v.3h.6v.3h.6v-.9h.6h.6v1.1h.6v-.9h.6v.4h.6v.3h.6v.1h.6v-.4h.6v-.3h.6v.3h.6v-3.2h.6v.6h.6v1.5h.6v.9h.6v.4h.6h.6v-1.6h.6v1.6h.6v.2h.6v-.3h.6v-1.1h.6v.9h.6v-1.1h.6v.7h.6v-.5h.6v-.8h.6v-.8h.6v-9.3h.6v-12.1h.6v-.1h.6v7.1h.6v13.4h.6v1.9h.6v.4h.6v.4h.6v.2h.6v-.4h.6v1.1h.6v.3h.6v-1h.6v-.4h.6v1.3h.6v-.3h.6v-.3h.6v.7h.6v-.2h.6v.3h.6v-1h.6v.8h.6v-1h.6v-6h.6v6.7h.6v-.5h.6v-.1h.6v.7h.6v.1h.6v-.9h.6v1.1h.6v-1.5h.6v1.4h.6v-.8h.6v.2h.6v-1.6h.6v-5h.6v-.9h.6v3.9h.6v.7h.6v-3.6h.6v1.1h.6v3.9h.6v.4h.6v-1.4h.6v-11.3h.6v-1.2h.6v8.3h.6v-.2h.6v-13.1h.6v1.5h.6v10.9h.6v6.1h.6v-.7h.6v-2.3h.6v-.9h.6v5.1h.6v.3h.6v.6h.6v-1.4h.6v1.5h.6v-.2h.6h.6h.6v-.2h.6v-2.3h.6v-.5h.6v.9h.6v1.6h.6v-1h.6v1.1h.6v-1.3h.6v2h.6v-3.9h.6v4h.6v-1.2h.6v.3h.6h.6v.4h.6v.4h.6v-.4h.6v.2h.6v.2h.6v-2.9h.6v2.3h.6h.6v-1h.6v-7h.6v.2h.6v6.4h.6v-4.9h.6v5.7h.6v1h.6v-1.2h.6v1.1h.6v-.2h.6v-.2h.6h.6v.4h.6v.2h.6v-2.3h.6v2.5h.6h.6v-1.1h.6v.9h.6v-.6h.6v-.2h.6v.3h.6v-3.3h.6v.7h.6v1.8h.6v1h.6v-.6h.6v.3h.6v-1.3h.6v.1h.6v-4.2h.6v-3.5h.6v3.7h.6v4.3h.6h.6v1.2h.6h.6v-3.2h.6v2.6h.6v1.1h.6v-.5h.6v.2h.6v-2.3h.6v.9h.6v1.1h.6v-.9h.6v.5h.6h.6v-.2h.6v-.1h.6v.8h.6v-2h.6v-2.2h.6v-2.1h.6v1.2h.6v2.1h.6v3.1h.6v-2.3h.6v-1.7h.6v1.1h.6v1.7h.6v1h.6v.4h.6v-1.9h.6v1.3h.6v.2h.6v.3h.6v-1.4h.6v.3h.6v1.1h.6v-.2h.6v-.1h.6V116.4z" fill="#fb8c7a"/>
<path d="M111.5 146.0v-3h.6v.6h.6v.7h.6h.6v.2h.6v-.4h.6v-.2h.6v.5h.6v.3h.6v-.2h.6v.2h.6h.6v-.8h.6v-1.1h.6h.6v1.1h.6h.6v.1h.6v-.3h.6v.5h.6v.2h.6h.6v-.1h.6v-1.2h.6v1.5h.6v-1.1h.6v.3h.6v-.1h.6v-.2h.6v.7h.6v.6h.6h.6v-1.1h.6v-.2h.6v-.3h.6v.8h.6v.8h.6v-1.3h.6v-1.7h.6v1.7h.6v1.2h.6v-.2h.6v-.6h.6v-.1h.6h.6v-1.7h.6v1.8h.6v.5h.6v.4h.6v-.2h.6h.6v-.2h.6v-1.1h.6v.7h.6v-.2h.6v.4h.6v-.4h.6v-.1h.6v-.2h.6v.2h.6v-2h.6v1h.6v.5h.6v-.2h.6v.5h.6v.6h.6v-1h.6v-.2h.6v-1h.6v-.5h.6v.1h.6v.7h.6h.6v.6h.6v-2.3h.6v1.5h.6v1.3h.6v-.6h.6h.6v-.3h.6v.1h.6v-.6h.6v1.2h.6v1.1h.6v-1.3h.6v.8h.6v.7h.6v-.6h.6v.2h.6v-1.5h.6v-1h.6v1.8h.6v.1h.6v.5h.6v-.2h.6v.5h.6h.6v-.1h.6v-.2h.6v.5h.6v-.2h.6v.1h.6v-.2h.6h.6v-.1h.6v.1h.6v-1.6h.6v-1.1h.6v-.3h.6v.6h.6v2h.6v.8h.6h.6v-2.1h.6v.4h.6v1.1h.6v-.4h.6v-.2h.6v.9h.6v-.4h.6v-1.8h.6v.4h.6v1.3h.6v-.2h.6v.6h.6v.4h.6v-.1h.6v-1.1h.6v.2h.6v-.6h.6v-.3h.6v1h.6v.6h.6v.3h.6v-.4h.6v-.2h.6v.4h.6v-1.3h.6v.8h.6v.6h.6v-1.3h.6v-1h.6v1.5h.6h.6v.3h.6v-.5h.6v.1h.6v-.2h.6v.2h.6v.7h.6v.5h.6v-.2h.6v-.7h.6v-.1h.6v.4h.6v-.3h.6v-.8h.6v.4h.6v1h.6v.3h.6h.6v-.4h.6v-.2h.6v.5h.6v-.7h.6v-.3h.6v-.4h.6v.7h.6v.8h.6v.1h.6v-.5h.6v-1.2h.6v.4h.6v1h.6v-.4h.6v-.2h.6v-.2h.6v.4h.6v.5h.6v-.1h.6v-.1h.6v-1.1h.6v.8h.6v-2.8h.6v1.5h.6v1.2h.6v.5h.6v.1h.6v-1.1h.6h.6v-1.9h.6v2.4h.6v-.3h.6v-.4h.6v1h.6v-1.7h.6v.6h.6v1.1h.6v-1h.6v.8h.6v.1h.6v-.5h.6v.2h.6h.6v.4h.6v.4h.6v-1h.6v.3h.6v-.9h.6v.3h.6v.8h.6v-1.7h.6v-2.2h.6v2.1h.6v1.6h.6v-.2h.6v-.5h.6v.2h.6v.4h.6v.5h.6v-.4h.6h.6v-.1h.6v.3h.6v-.6h.6v-.1h.6v.8h.6v.1h.6v-.5h.6h.6v-1.1h.6v-1.5h.6v1.5h.6v.6h.6v.5h.6v-2.1h.6v2.8h.6v.2h.6v-.3h.6v-.1h.6v.1h.6v-.3h.6v-1.1h.6h.6v-2h.6v.9h.6v1.3h.6v1h.6v.3h.6v-1.1h.6v-.4h.6v.8h.6v-.1h.6v-.1h.6v.5h.6v.2h.6v-.3h.6v.3h.6h.6v-.3h.6v-.7h.6v.5h.6v.6h.6v.1h.6v-.5h.6v-.2h.6v.6h.6h.6h.6v.3h.6v-.8h.6v.7h.6v-1.2h.6v.3h.6v.7h.6v.1h.6v-.4h.6v.3h.6v-.5h.6v-.3h.6v.8h.6h.6v-.1h.6h.6v.2h.6v-1.6h.6v.8h.6v.8h.6v-.2h.6v-.5h.6v.5h.6v-.3h.6v-1.3h.6v.9h.6v.6h.6v.2h.6v-.1h.6v-2.4h.6v1.2h.6v1.4h.6v.1h.6v-.6h.6v.4h.6v.3h.6v-.5h.6v-1h.6v-.3h.6v.6h.6v-.5h.6v-.1h.6v.7h.6v-.2h.6v-.1h.6v.6h.6v-3.2h.6v3.1h.6h.6h.6v-1.2h.6v.4h.6v.1h.6v1h.6v-.1h.6v.3h.6v-.4h.6v.1h.6v.3h.6v.1h.6h.6v.2h.6v-.7h.6h.6v-.2h.6h.6h.6v.3h.6v-1h.6v.7h.6v.9h.6v-.9h.6v-.2h.6v.3h.6h.6v.4h.6h.6v-.8h.6h.6v.7h.6v.1h.6v-.2h.6v-1h.6v.9h.6v.2h.6h.6v-.1h.6v.5h.6v.1h.6v-1.6h.6v1.1h.6v-2.8h.6v3.1h.6v-.6h.6v-.8h.6v1h.6v-1h.6v.8h.6v.6h.6h.6v-.5h.6v-.1h.6v-.1h.6v.3h.6v-.4h.6v-.3h.6v.7h.6v.2h.6v-.1h.6v-.5h.6v.3h.6v.4h.6v.2h.6v-1.4h.6v.4h.6v-.1h.6v.8h.6v.1h.6v-.4h.6v-.4h.6v.6h.6v.5h.6h.6v-.3h.6v.1h.6v.2h.6v-.2h.6h.6h.6v-.7h.6v-.5h.6v.6h.6v.2h.6v.4h.6v-.6h.6v.2h.6v-.4h.6v-.5h.6v.5h.6v.3h.6v-.5h.6v.7h.6v-1h.6v.7h.6v.5h.6v-1.8h.6v1.7h.6v-.1h.6v.1h.6v.4h.6h.6v-.3h.6v-.3h.6v.2h.6v-.1h.6v.2h.6v.1h.6v-.7h.6v.4h.6v.4h.6v-.1h.6v.1h.6v-.6h.6v-.7h.6v.3h.6h.6v.1h.6v.3h.6v.4h.6h.6v-.4h.6v.5h.6v-.9h.6v.6h.6v-.1h.6v-.9h.6v.6h.6v.5h.6v-.3h.6v-.3h.6v.2h.6v-1.2h.6v.7h.6v.5h.6h.6v.4h.6v-1.5h.6v.7h.6h.6v.8h.6v.2h.6v-.2h.6v-.5h.6v.4h.6v.3h.6v.2h.6v-.6h.6v-1h.6v1.4h.6v.1h.6v-1.5h.6v.6h.6v1h.6v-.4h.6v.2h.6v.2h.6v.1h.6v-.1h.6v-.4h.6v-.9h.6v.8h.6v-1.4h.6v.5h.6v.5h.6v.3h.6v.4h.6v.1h.6h.6h.6v-2.4h.6v.9h.6v1.6h.6v-.3h.6v.1h.6v.1h.6v-.2h.6v-.3h.6v-.9h.6v.1h.6v.5h.6v-.2h.6v1.1h.6v-.3h.6v-.1h.6v-.4h.6v-.4h.6v-.3h.6v-.2h.6v.4h.6v.4h.6v-.5h.6v.7h.6v-.7h.6v.2h.6v-1.2h.6v-.8h.6v2.6h.6v.2h.6v-.2h.6v-3.1h.6v3h.6v-1h.6h.6v.9h.6v-.5h.6v.3h.6v.2h.6v-.3h.6v.5h.6h.6v-.3h.6v.6h.6v-.4h.6v.1h.6v.1h.6v.2h.6v-1.1h.6v.7h.6v.4h.6v-1.3h.6v.1h.6v.6h.6v.7h.6v.3h.6v-.2h.6v-.2h.6v-1.2h.6v.8h.6v.1h.6v-1.5h.6v-.1h.6v1.7h.6v.3h.6v-1h.6v.7h.6v-1.2h.6v-1.3h.6v2.7h.6h.6v.1h.6v-1.1h.6v-.1h.6v.7h.6v.2h.6v-.4h.6v-1.5h.6v1h.6v.2h.6v.6h.6v-1.1h.6v-1h.6v.9h.6v1.1h.6v.1h.6v.1h.6v-1.5h.6v-.2h.6v.2h.6v.9h.6v.8h.6v-1.9h.6v-.7h.6v1.9h.6v.6h.6v-.3h.6v-.4h.6v-.5h.6v.7h.6v.4h.6v.3h.6v-.7h.6h.6v-.7h.6v.5h.6v-.2h.6v.7h.6v.3h.6v-.8h.6v-.2h.6v-1.3h.6v1.2h.6v1.3h.6v-.3h.6v-.3h.6v.2h.6v.5h.6h.6v-1.4h.6v.8h.6v.5h.6v-.5h.6v-3h.6v3.4h.6v-.5h.6v.2h.6v-.1h.6v.1h.6v-.2h.6v.2h.6v.3h.6v-1.2h.6v-.6h.6v.9h.6v-1h.6v1.1h.6v.6h.6v-.8h.6v-4h.6v4.7h.6v-.8h.6v.1h.6v1h.6h.6v-1.4h.6v.9h.6v.8h.6v-.2h.6v-.2h.6v-.2h.6v.1h.6v.3h.6v-.7h.6v.2h.6v.3h.6v-1.7h.6v.8h.6v-1.3h.6v1.4h.6v.7h.6v-.8h.6v-.2h.6v.6h.6v.3h.6v-.6h.6v1.1h.6v-.2h.6v-.9h.6v.2h.6v.7h.6v-.8h.6v.5h.6v-.3h.6v-2.2h.6v1.1h.6v1.5h.6v-.5h.6v.3h.6v.3h.6v-.8h.6v.6h.6v.3h.6v-.8h.6v.3h.6v.1h.6v.2h.6h.6h.6v.3h.6v-.6h.6v.3h.6v-1.5h.6v.9h.6v.6h.6v-.2h.6v-.2h.6v-.6h.6v.8h.6v-1.2h.6v.5h.6v1h.6v.2h.6h.6v-.5h.6v-.9h.6v-1.6h.6v.2h.6v1.6h.6v1.1h.6v.1h.6v-.7h.6v-.6h.6v.5h.6v-.9h.6v-.1h.6v-.1h.6v.7h.6v.5h.6v.5h.6v.1h.6h.6v.3h.6v-.3h.6v.1h.6v.1h.6v-.4h.6v-2h.6v2.1h.6v-1.1h.6v1.2h.6v-1h.6v-.1h.6v.6h.6v-1.8h.6v1.2h.6v.4h.6v.4h.6v-.4h.6v-1.3h.6v1.2h.6v.1h.6v.4h.6v-.3h.6h.6v-.3h.6v.3h.6v.7h.6v-.6h.6v.2h.6v.1h.6v-.5h.6v.4h.6v.2h.6v.1h.6v.3h.6v-.9h.6v-.6h.6h.6v.9h.6v-.3h.6v.3h.6v-.8h.6v-1.2h.6v.3h.6v1.7h.6v-.5h.6v-.9h.6v-.3h.6v1.1h.6v.8h.6v-.9h.6v-.6h.6v.5h.6v.8h.6v-.1h.6h.6v-1.7h.6v.2h.6v1.1h.6h.6v-.2h.6v-1.2h.6v.1h.6v.7h.6v.6h.6v-.5h.6v.1h.6v.8h.6v-1.6h.6v.4h.6v1.3h.6v.1h.6v-.3h.6v.1h.6v.3h.6v-1.4h.6v.1h.6v1.3h.6v.4h.6v-.3h.6h.6v.3h.6v-1.5h.6v.5h.6v.8h.6v-.2h.6v-.8h.6v-.3h.6v.6h.6v.3h.6v-.4h.6v-.2h.6v.2h.6v.2h.6v-1.1h.6v.6h.6v.8h.6v.4h.6v-1.5h.6v-.1h.6v.5h.6v-1.3h.6v.8h.6v-.7h.6v.1h.6v-3h.6v.4h.6v1.3h.6v.3h.6v.6h.6v.5h.6v1h.6v.5h.6h.6h.6v-.7h.6v-.2h.6v.1h.6v-.9h.6v1.4h.6v.9h.6v-.1h.6v-1.9h.6v1h.6v-.1h.6v-.1h.6v.5h.6v.4h.6v.1h.6v-.2h.6v-.4h.6v-.2h.6v.7h.6v.1h.6v-.5h.6v.1h.6v-.2h.6v-.2h.6v.4h.6v-.3h.6h.6v.6h.6v-1.2h.6v.4h.6v.9h.6v-.5h.6v-.3h.6v.1h.6v-.3h.6v.2h.6v.7h.6v-.2h.6v.2h.6v.3h.6v-.1h.6h.6v-.4h.6v.1h.6v.3h.6v-.1h.6v-1.2h.6v.4h.6v.2h.6h.6v-.5h.6v.3h.6v-.7h.6v.8h.6v.1h.6v.4h.6v-.3h.6v.2h.6v-1.4h.6v.3h.6v1h.6v.1h.6v.1h.6v-2.5h.6v.5h.6v1.5h.6v.4h.6v.2h.6v.1h.6v-.3h.6v-.3h.6v.3h.6v-.1h.6v-.4h.6v.3h.6v-.1h.6v-2.7h.6v2.1h.6v.5h.6v.4h.6v-.4h.6v-3.2h.6v2.6h.6v-.1h.6v-.2h.6v.4h.6v1h.6v.5h.6v-1.4h.6v-.1h.6v-.5h.6v-.9h.6v1.7h.6v1.1h.6v-.5h.6v-.7h.6v-.2h.6v-.4h.6v1.2h.6v.2h.6v.4h.6v.1h.6V146.0z" fill="#1212aa"/>
<path d="M111.5 175.4v-1.2h.6v-.3h.6v.2h.6v.1h.6v-3.5h.6v3.4h.6v-.1h.6v-.9h.6v1h.6v-.6h.6v.5h.6v-.3h.6v.4h.6v-.8h.6v.1h.6v-.1h.6v.8h.6v-.1h.6v-.3h.6v-1.4h.6v1.8h.6v.1h.6v-.2h.6v-1.8h.6v1.2h.6v.4h.6v-.7h.6v.7h.6v-1.4h.6v.5h.6v.9h.6v-.7h.6v1h.6v-2.1h.6v1.1h.6v.8h.6v-.1h.6v-.6h.6v.6h.6v-.6h.6v-1.5h.6v2.4h.6v-.5h.6v.3h.6v-.3h.6v.1h.6v-.5h.6v.9h.6v-.3h.6v.1h.6v-.4h.6v.2h.6v.1h.6v-.4h.6v-2.6h.6v1.1h.6v.5h.6v.7h.6v-.2h.6v.1h.6v-2.6h.6v-.3h.6v-1.1h.6v-3.3h.6v-2.4h.6v6.8h.6v.6h.6v-5.7h.6v-.7h.6v2.8h.6v2.5h.6v-1.7h.6v-.9h.6v-5.7h.6v3.2h.6v-5.6h.6v3.2h.6v2.3h.6v-.3h.6v4.1h.6v-3.2h.6v-1h.6v-10h.6v4.9h.6v9.7h.6v2.4h.6v-2h.6v2.2h.6v-.4h.6v.8h.6v.8h.6h.6v-.5h.6v.1h.6v.5h.6v-.4h.6v.1h.6v-.6h.6v.8h.6v-1.7h.6h.6v1.8h.6v-.3h.6v-1.2h.6v-.4h.6v-.7h.6v-2.5h.6v-.7h.6v1h.6v-.2h.6v1.8h.6v2.7h.6v-3.2h.6v-5h.6v1.2h.6v5.7h.6v-1.4h.6v-1.8h.6v-3.3h.6v1.1h.6v4.7h.6v.7h.6v-6.8h.6v3.4h.6v-.7h.6v.4h.6v2.5h.6v1.5h.6v-.2h.6v-2.9h.6v2.6h.6v-1.3h.6v.5h.6v-.6h.6v1.4h.6v1h.6h.6v-6.4h.6v4.3h.6v-.8h.6v-1.3h.6v-2.1h.6v1.3h.6v-1.5h.6v-.9h.6v3.3h.6v-.6h.6v3.1h.6v-.6h.6v-.9h.6v-.7h.6v2.9h.6v2h.6v-.3h.6v-1.3h.6v-1.4h.6v1h.6v.4h.6v-.6h.6v.1h.6v.9h.6v-2.1h.6v-.6h.6v.2h.6v.4h.6v.4h.6v-.7h.6v1.3h.6v2.4h.6v-3.1h.6v-.4h.6v-2.2h.6v3.7h.6v.4h.6v-1.8h.6v1.7h.6v.7h.6v.4h.6v.9h.6h.6v-.1h.6v-1.6h.6v1.7h.6h.6v.5h.6v-.5h.6v-1h.6h.6v.4h.6v.6h.6v.8h.6v-.6h.6v.2h.6v-.3h.6h.6v.2h.6v-1.1h.6v1.1h.6v-.6h.6v1h.6v.1h.6v-.1h.6v-1.6h.6v1.2h.6v-.2h.6v-.1h.6v1.1h.6v-.2h.6v-1.6h.6v-1.3h.6v1.4h.6v.6h.6v.3h.6v-.3h.6v.2h.6v-1h.6v.6h.6h.6v.8h.6v.1h.6v-1.1h.6v-1.1h.6v-3.4h.6v2.6h.6v1.4h.6v-.9h.6v1.4h.6v-1.7h.6v-4.1h.6v3.9h.6v-1.5h.6v.1h.6v1.7h.6v-.1h.6v-2.7h.6v1.2h.6v1h.6v.3h.6v1.8h.6v-.7h.6v-2.3h.6v-3.4h.6v3.8h.6v-.3h.6v-1.5h.6v1.9h.6v1.6h.6v-.4h.6v.8h.6v.9h.6h.6v-.8h.6v.2h.6v1.4h.6v-.2h.6v-1.1h.6v-1.6h.6v1.6h.6v.9h.6v-1.4h.6v1.6h.6v.2h.6v.3h.6v.2h.6v-.2h.6h.6v-.8h.6v-1.6h.6v1.9h.6v.2h.6v-.2h.6v.2h.6v-1h.6v1.4h.6v-.5h.6v-.2h.6v.7h.6v-.1h.6v.1h.6v-.4h.6v-.3h.6v-2.1h.6v2.5h.6v-.9h.6v-.8h.6v1.1h.6v-.3h.6v-.3h.6v-7.4h.6v1.3h.6v4.6h.6v-.9h.6v-3.6h.6v.1h.6v3.1h.6v1h.6v-.3h.6v1.4h.6v.8h.6v-1.5h.6v.2h.6v.5h.6v.9h.6v.5h.6v-.9h.6v.1h.6v-2.1h.6v1.8h.6v-.6h.6v.8h.6v.1h.6v.4h.6v-.3h.6v.3h.6v-.9h.6v-.1h.6v-4.1h.6v3.2h.6v.8h.6v-2.3h.6v2.4h.6v-1h.6v.5h.6v.9h.6v-.1h.6v.3h.6v-1.1h.6v.8h.6v.5h.6v.6h.6h.6v-.7h.6v.1h.6v.7h.6v.1h.6v-.8h.6v-.8h.6v-.4h.6v.6h.6v-1.2h.6v-.3h.6v.1h.6v2.1h.6v-3.1h.6v1.4h.6v-.1h.6v.5h.6v-1.5h.6v.1h.6v-.7h.6v-6.4h.6v.9h.6v3.8h.6v.9h.6v-.3h.6v1.8h.6v-1.1h.6v.9h.6v.5h.6v-4.2h.6v1.8h.6v1.4h.6v-1.2h.6v2h.6v1.4h.6v-.9h.6v.7h.6v1h.6v-2.9h.6v2.5h.6v-.9h.6v1.6h.6v-.2h.6v-4.4h.6v1.3h.6v1.6h.6v-.6h.6v-.6h.6v.1h.6v1.5h.6v.5h.6v1.3h.6v-2h.6v-.1h.6v-.6h.6v1.3h.6v.7h.6v-1.7h.6v1.5h.6v-.8h.6h.6v.9h.6v.4h.6v-1.8h.6v-1.2h.6v2.9h.6v-1.2h.6v.4h.6v.8h.6v-4.6h.6v3h.6v-.2h.6v-.1h.6v2.1h.6v-.9h.6v-1.3h.6v-2.6h.6v2.1h.6h.6v-.3h.6v.3h.6v.8h.6v1h.6v.5h.6v-1.1h.6v1.6h.6v-.9h.6v.4h.6v.4h.6v-1.5h.6v.5h.6v-.1h.6v-.5h.6v-.3h.6h.6v1.1h.6v1.2h.6v-.1h.6v-2.6h.6v-1.5h.6v1.6h.6v1.9h.6v-.3h.6v-.3h.6v.6h.6v.4h.6v-1.6h.6v1.7h.6v-3.3h.6v3.1h.6v-1.4h.6v1.6h.6v-.4h.6v-.5h.6v.3h.6v.9h.6v-.6h.6v-.6h.6v.2h.6v.3h.6v-1.1h.6v1h.6v.1h.6v-.1h.6v-3h.6v3.7h.6h.6v-.8h.6v1h.6v-.3h.6v.5h.6v.1h.6v-.8h.6v-.4h.6v.4h.6v.7h.6v-1.1h.6v.5h.6v1h.6v-.6h.6h.6v.7h.6v-.4h.6h.6v-.5h.6v.7h.6v-.5h.6v-.1h.6v-.5h.6v.2h.6v-.2h.6v.4h.6v.1h.6v-1.1h.6v-.2h.6v.5h.6v.8h.6v-2.4h.6v-1h.6v2.3h.6v.1h.6v-1.5h.6v1.2h.6v1h.6v-2h.6v.8h.6v1.2h.6v-.6h.6v.6h.6v.8h.6v-.4h.6h.6v-.1h.6v-.3h.6h.6v-.2h.6v-.5h.6v-.4h.6v-.6h.6v-.4h.6v-1h.6v.4h.6v.5h.6v1.8h.6v-.8h.6v.4h.6v.9h.6v-1.6h.6v-2.6h.6v1h.6v2.3h.6v-1.8h.6v-.9h.6v-.1h.6v1.7h.6v1h.6h.6v-1h.6v.5h.6v.6h.6v-.7h.6v.5h.6v.6h.6v-.3h.6v.2h.6v-2.6h.6v.4h.6v1.1h.6v1.5h.6v-.5h.6h.6v-.9h.6v-2.9h.6v-.9h.6v3.4h.6v1.2h.6v-.4h.6v-1.3h.6v-2.2h.6v2.3h.6v-2.4h.6v.8h.6v.8h.6v2.2h.6v-1h.6v-2.3h.6v2.1h.6v1.5h.6v-.4h.6v-.1h.6v1.5h.6v-.6h.6v.8h.6v.2h.6v-.3h.6v-1.4h.6v-1.9h.6v3h.6v-.5h.6v-2.2h.6v1.6h.6v-1.2h.6h.6v.1h.6v-1.1h.6v-2h.6v.7h.6v.1h.6v-.6h.6v-1.6h.6h.6v2.7h.6v.9h.6v2.1h.6v-.2h.6v-3.4h.6v-.9h.6v2.6h.6v-1.9h.6v1.1h.6v-3.3h.6v.6h.6v3.5h.6v-1.1h.6v-.1h.6v1.7h.6v-.3h.6v.2h.6v-.7h.6v-1.7h.6v.3h.6v-4h.6v4.1h.6v2.4h.6v-.8h.6v-6.9h.6v1.5h.6v2.9h.6v-1.4h.6v-.3h.6v1.2h.6v1.1h.6v4.1h.6v.2h.6v-.2h.6v-1.4h.6v-6.5h.6v7.7h.6v.5h.6v1h.6v-2.6h.6v2.7h.6h.6v-.8h.6v.3h.6v-.7h.6v.7h.6v-.1h.6v-.5h.6v-1.1h.6v1.1h.6v.3h.6v.3h.6v-.4h.6v-2.9h.6v2.5h.6v-1.5h.6v-.3h.6v-1.2h.6v1.5h.6v1h.6h.6v.1h.6v.7h.6v.2h.6v.4h.6v-.4h.6v.4h.6v-.2h.6v.4h.6h.6v.2h.6h.6v-.9h.6v1h.6h.6v-1.4h.6v.7h.6v.7h.6v-1.1h.6v1.2h.6v-.7h.6v.1h.6v.4h.6v-1.6h.6v-1.4h.6v2.4h.6v-.4h.6v.9h.6v-1.9h.6v1.8h.6v.1h.6h.6v-.9h.6v.2h.6v.8h.6v-.4h.6v-1.5h.6v1.6h.6v-.1h.6v.2h.6v-1.3h.6v.2h.6v.1h.6v-.7h.6v.6h.6h.6v-1.2h.6v.2h.6v-.4h.6v-6.1h.6v5.2h.6v-1.2h.6v-.5h.6v.1h.6v1.1h.6v2.1h.6v-2h.6v.4h.6v.7h.6v-.2h.6v-.2h.6v-1h.6v.7h.6v-5.8h.6v6.4h.6v-.3h.6v-.1h.6v1.4h.6v-3.6h.6v-.7h.6v2.2h.6v1.6h.6v-3h.6v.1h.6v1.5h.6v.4h.6v1.5h.6v-1.8h.6v1.3h.6v-1.8h.6v.1h.6v1.6h.6v-2.9h.6v-4.2h.6v2.1h.6v3.7h.6v.5h.6v-.6h.6v.5h.6v.6h.6v-1.2h.6v.3h.6v-.8h.6v1.7h.6v-.7h.6v-3.1h.6v1.3h.6v-.1h.6v.3h.6v2.6h.6v-1.2h.6v.1h.6v1.5h.6v.2h.6v-.9h.6v-.2h.6v.9h.6v-.5h.6v-.3h.6v.5h.6v-.5h.6v.6h.6v.2h.6v-2.1h.6v3h.6v.3h.6v-1.8h.6v-.3h.6v1.1h.6v.1h.6v-.8h.6v1h.6v-2.5h.6v-1.3h.6v-3.7h.6v-2.5h.6v1.4h.6v2.7h.6v3.3h.6v2.5h.6v-1.5h.6v.5h.6v.4h.6v1.3h.6v.6h.6v-2.7h.6v.1h.6v-2.4h.6v1h.6v2.2h.6v-.4h.6v.3h.6v1.2h.6v-1.3h.6v-1.8h.6h.6v.3h.6v2.3h.6v-2.3h.6v-4.1h.6v-.3h.6v2.9h.6v-1.6h.6v-.1h.6v1.6h.6v-.9h.6v-1.8h.6v3.8h.6v2h.6v-.4h.6v-.3h.6v-1.5h.6v2.2h.6h.6v-3.2h.6v-.5h.6v2.3h.6v-3.3h.6v-2h.6v-8.2h.6v-5.1h.6v9h.6v5.5h.6v-9.6h.6h.6v9.6h.6v4.7h.6v1.1h.6v-.2h.6v-.1h.6v-.2h.6h.6v-.6h.6v-3h.6v2.7h.6v1.8h.6v-1.7h.6v-10.9h.6v5.4h.6v5.3h.6v.1h.6v-.1h.6v.7h.6v-.1h.6v.4h.6v.7h.6v-3.8h.6v1.7h.6v1h.6v-.5h.6v.6h.6v.5h.6v-1.4h.6v.7h.6v1.5h.6v.8h.6v-2.8h.6v-.4h.6v-1.1h.6v3h.6v-1.4h.6v-.9h.6v2h.6v-.5h.6v.6h.6v-.5h.6v.1h.6v2.2h.6v-.7h.6v-.2h.6v.6h.6v-1.3h.6v-.2h.6v1h.6v.1h.6v.1h.6v-.2h.6v-.1h.6v.1h.6v-.7h.6v-.1h.6h.6v1.1h.6v-1h.6v-.7h.6v-1.9h.6v1.5h.6v1.5h.6v-2.2h.6v-.4h.6v-3.2h.6v-3.7h.6v3.7h.6v5.5h.6v-.8h.6h.6v-.4h.6v-.6h.6v1h.6v.5h.6v.2h.6v-.4h.6v-.2h.6v.8h.6v-3.5h.6v-1.7h.6v2.3h.6v1h.6v-.8h.6v1h.6v-.4h.6v-1h.6v1.4h.6v1.7h.6v.6h.6v-.3h.6v-1.4h.6h.6v1.5h.6v-1.9h.6v-.4h.6v2h.6v1h.6v-.4h.6v.2h.6v-.8h.6v-.2h.6v.4h.6v1.1h.6v.4h.6v-.6h.6v-.1h.6V175.4z" fill="#14a0e8"/>
<path d="M111.5 205.0v-1.9h.6v-.6h.6v-.2h.6v.9h.6v-.1h.6v.5h.6v-1.2h.6v.8h.6v.6h.6h.6v-.2h.6h.6h.6v-.1h.6v.1h.6v-1.2h.6v.7h.6v.1h.6v.3h.6h.6h.6v-1.1h.6v1.3h.6h.6v-.4h.6v.5h.6h.6v-1.1h.6v1h.6v-1.3h.6v1.2h.6v-.7h.6v.7h.6v-.1h.6v.1h.6h.6h.6v-.1h.6v.3h.6v-.6h.6v-.8h.6v1.2h.6v-.1h.6v-1.3h.6v1h.6v.4h.6v-.6h.6v.2h.6v-4.8h.6v4.4h.6v-.8h.6v.2h.6v.6h.6v-1h.6v.3h.6v-.4h.6v-1.2h.6v1.2h.6v1h.6v-.4h.6v-2.8h.6v-.4h.6v1.2h.6v-1.1h.6v1.1h.6v.4h.6v-.6h.6v-8.7h.6v2.3h.6v2.4h.6v1.6h.6v.5h.6v-1.5h.6v.1h.6v-2h.6v-5.3h.6v6.9h.6v-.4h.6h.6v3.3h.6v-3.3h.6v-3.3h.6v-1.5h.6v5.8h.6v3.9h.6v-.7h.6v.5h.6v.1h.6v-.7h.6v.4h.6v2.3h.6v-.9h.6v-.1h.6v-.7h.6v-.3h.6v.2h.6v-1.3h.6v.8h.6v.3h.6v-1.4h.6v.9h.6v-8.9h.6v6.9h.6v2.4h.6v.3h.6v.6h.6v-.8h.6v.4h.6v-2.1h.6v-1.4h.6v.8h.6v2.4h.6v-2.6h.6v-5.2h.6v1.3h.6v5.8h.6v.7h.6v-2.4h.6v-7.5h.6v8.3h.6v-1.1h.6v-.3h.6v3h.6v-1.4h.6v1h.6v-1.5h.6v.9h.6v-6.9h.6v1.1h.6v2.8h.6v3.8h.6v-1.1h.6v-.6h.6v-5.7h.6v-.6h.6v6.8h.6v-.6h.6v1.5h.6v-1.2h.6v1.3h.6v-1h.6v-1.7h.6v.4h.6v-5.3h.6v-1.5h.6v6h.6v1.4h.6v-.5h.6v-5.9h.6v-5.9h.6v8.8h.6v3.2h.6h.6v1.2h.6v-.3h.6v.6h.6v-3.1h.6v2.9h.6v-1.2h.6v2.7h.6v.6h.6v-.4h.6v-.4h.6v-1.4h.6v1.1h.6v-.3h.6v.2h.6v-2.2h.6v.2h.6v1.4h.6v.9h.6v.1h.6v-.1h.6v-.2h.6v-1.1h.6v.6h.6v.4h.6v.7h.6v.1h.6v-.6h.6v-.2h.6v-1.5h.6v1.7h.6v.8h.6v.3h.6v.2h.6v.6h.6v-.8h.6v-.7h.6v1.1h.6v-.3h.6v.9h.6v-.4h.6v-1h.6v1.3h.6v-.3h.6v.4h.6v-2.4h.6v1.3h.6v.7h.6v.4h.6v-.5h.6v.5h.6v.3h.6v-1.5h.6v1.3h.6v.4h.6v-.9h.6v.6h.6v-.4h.6v.6h.6v-.5h.6v.5h.6v-.2h.6v-.7h.6v-1.5h.6v2.1h.6v-.1h.6v-1.2h.6v-.3h.6v-1h.6v.3h.6v1.9h.6v-1h.6v-.7h.6v-3.9h.6v-5.1h.6v2.7h.6v5.3h.6v-1.8h.6v-1.6h.6v1.6h.6v-.1h.6v2.4h.6v-1.5h.6v.4h.6v-.8h.6v2.2h.6v.3h.6v-1.3h.6v-.4h.6v2.1h.6v-3.5h.6v.3h.6v-.3h.6v2.5h.6v-.2h.6v1.2h.6v.8h.6v.3h.6v.2h.6h.6h.6v.4h.6v.3h.6v.1h.6h.6v-.1h.6v-1.8h.6v1.4h.6h.6v.6h.6v-1.2h.6v1.3h.6v-1h.6v-.5h.6v1.4h.6v-.2h.6v.3h.6v-.2h.6h.6v-1.1h.6v.2h.6v1.1h.6v-.1h.6v-.2h.6v-.9h.6v-1.7h.6v2.2h.6v.3h.6v-2.9h.6v2.4h.6h.6v-.4h.6v.5h.6v-.6h.6v-.9h.6v.5h.6v-.8h.6v-1.6h.6v-.3h.6v.8h.6v-10.6h.6v3.1h.6v7.5h.6v.7h.6v-1.2h.6v1.6h.6v-1.7h.6v1.2h.6v1h.6v.6h.6v-.1h.6v-.1h.6v-.9h.6v-1.4h.6v.9h.6v-.2h.6v1.1h.6v-3.5h.6v3.6h.6v.7h.6v-.2h.6v-2.4h.6v.1h.6v.3h.6v-.4h.6v1.4h.6v-1.7h.6v.5h.6v.9h.6v-.9h.6v.8h.6v.1h.6v.1h.6v1.6h.6v-.4h.6v.2h.6v.5h.6v-.6h.6v-1.3h.6v1.4h.6v-1h.6v-.6h.6v-1.4h.6v2.9h.6v-.9h.6v-.4h.6v-1h.6v.4h.6v-.6h.6v-1.8h.6v-.9h.6v2.9h.6h.6v-1h.6v1.8h.6v-.3h.6v-.8h.6v.6h.6v-1h.6h.6v-3.7h.6h.6v2.6h.6v-1h.6v3.5h.6v.9h.6v-2.3h.6v1.5h.6v.5h.6v.2h.6v-.2h.6v-1.7h.6v-.8h.6v1.7h.6v.7h.6v-.3h.6v-1.2h.6v-3.4h.6v4.1h.6v2.1h.6v-.5h.6v-.6h.6v.6h.6v.1h.6v-.8h.6v-1.7h.6v1.8h.6v-.1h.6v.8h.6v-1.1h.6v1.3h.6v.4h.6v-1.2h.6v.3h.6v.7h.6v-.3h.6v-3h.6v1.9h.6v1.3h.6v.6h.6v.1h.6v-.5h.6v-.6h.6v-.8h.6h.6v.5h.6v-.6h.6v1.5h.6v-1.4h.6v-.8h.6v1.4h.6v.2h.6v-.7h.6v-.3h.6v1.1h.6v-3.2h.6v-.3h.6v-2h.6v.9h.6v3.3h.6v1.3h.6v-1.2h.6v-.1h.6v.2h.6v1h.6v.6h.6v-.5h.6v-.5h.6v-1.1h.6v1.4h.6v.5h.6v.2h.6v-1.5h.6v.5h.6v.2h.6v-1.8h.6v2.6h.6v-3h.6v2h.6v.6h.6v.1h.6v-2.7h.6v2h.6v.5h.6v-1.5h.6v-.8h.6v.9h.6v-.5h.6v2.7h.6v-1.4h.6v.5h.6v-.5h.6v.5h.6v-1.5h.6v.3h.6v.9h.6v.5h.6v-3h.6v2.6h.6v-2.6h.6v1.6h.6v2.1h.6v.3h.6v-.2h.6v-.6h.6v.1h.6v.9h.6v-.2h.6v-.1h.6v-.3h.6v-.5h.6v-.3h.6v1.7h.6h.6v-.9h.6v-.6h.6v1.2h.6v.1h.6v.2h.6v-.3h.6v-.1h.6v.3h.6h.6v-.8h.6v.6h.6v-.2h.6v-.1h.6v.4h.6v-2.4h.6v1.9h.6v.4h.6v-.5h.6v-1.8h.6v-3.6h.6h.6v3.6h.6v.2h.6v.6h.6v-1.1h.6v.1h.6v1.3h.6v-.4h.6v-1.4h.6v1.7h.6v.2h.6v.4h.6v-.5h.6v.2h.6v.7h.6v-.3h.6v-.4h.6v.7h.6h.6h.6v-.2h.6v-.6h.6v.3h.6v-.6h.6v-3.9h.6v-1.8h.6v3.1h.6v2.5h.6v.1h.6v.1h.6v-1.8h.6v-.7h.6v1.3h.6v.6h.6v-.8h.6v-2.1h.6v3.2h.6v-3.9h.6v-1.6h.6v4.9h.6v.3h.6v-1.5h.6v-.7h.6v1.4h.6h.6v-1.9h.6v-1.4h.6v1h.6v-3.8h.6v2.1h.6v2.6h.6v.2h.6v2.1h.6v-1.1h.6v1.1h.6v-.8h.6v-1.7h.6v-.1h.6v2.7h.6v-2h.6v-2.2h.6v-.5h.6v3.3h.6v-1.4h.6v-1.6h.6v.8h.6v1.8h.6v1.3h.6v.4h.6v-.6h.6v1h.6v-3.6h.6v4.8h.6h.6v-.6h.6v.5h.6h.6v.1h.6v-.5h.6v.4h.6v-.7h.6v-2.2h.6v2.1h.6v-4.5h.6v1.1h.6v2.7h.6v-.5h.6v.1h.6v.9h.6v-.2h.6v-2.9h.6v-1.6h.6v.8h.6v-2.6h.6v1.7h.6v2.3h.6v.3h.6v.9h.6v.5h.6v.4h.6v-.6h.6v-3.6h.6v-4.2h.6v1h.6v5h.6v1.9h.6v-2.8h.6v-2h.6v1.8h.6v2.6h.6v.9h.6v-2h.6v-2h.6v.8h.6v-.2h.6v1.5h.6v-3.1h.6v2h.6v2.7h.6v-.4h.6v-3.1h.6v1.6h.6v.3h.6v1.7h.6v-.7h.6v-3.4h.6v4.6h.6v.3h.6v-1.3h.6v2h.6v-.5h.6v-1.4h.6v2.5h.6v-.6h.6v-.3h.6v.5h.6v.2h.6v-1.1h.6v.6h.6v-.8h.6v1.6h.6v-.5h.6v.2h.6v-.8h.6v.6h.6v-.3h.6v-1.2h.6v.2h.6h.6v-1.4h.6v.9h.6v-.4h.6v-1.7h.6v-.2h.6v2.5h.6v-1.8h.6v1.8h.6v1.2h.6v-.2h.6v.3h.6v-2.7h.6v3.2h.6v-1.3h.6v1.1h.6v-1.7h.6v2h.6v-.8h.6v1h.6v-.5h.6v-.8h.6v1.1h.6v.2h.6v-.1h.6v-2.4h.6v2.6h.6v-.4h.6v-.2h.6v-.3h.6v.9h.6v-.4h.6v-.5h.6v-.8h.6v1.6h.6v-.2h.6v-.2h.6v-.5h.6v1h.6v-1.4h.6v.9h.6v-.3h.6v.3h.6v-.1h.6v.1h.6v-.4h.6v.5h.6v-.2h.6v-.7h.6v.1h.6v-.2h.6v.1h.6v-.9h.6v-1.1h.6v.6h.6v.2h.6v-.5h.6v-6.8h.6v6.9h.6v.6h.6v-2.4h.6v-.1h.6v3.1h.6v-1.2h.6v-1.9h.6v.8h.6v-1.7h.6v-.9h.6v3.7h.6h.6v-2.9h.6v2.4h.6v-2.5h.6v.8h.6v1.4h.6v.2h.6v.5h.6v-1.4h.6v1.2h.6v-2.4h.6v1.9h.6v-1.4h.6v-1h.6v3.4h.6v1.1h.6v-.6h.6v-5h.6v4.1h.6v.9h.6v-5.8h.6v3.7h.6v.8h.6v-2.3h.6v1.4h.6v1.4h.6v.2h.6v-1.5h.6v-1.4h.6v.5h.6v1.5h.6v2.1h.6v-.5h.6v-1.1h.6v-.1h.6v1.2h.6v-3.4h.6v.3h.6v-.2h.6v1.7h.6h.6v-3.6h.6v2h.6v2.2h.6v1h.6v-2.4h.6v-.5h.6v-5.7h.6v2h.6v6.5h.6v.5h.6v-.9h.6v1.2h.6v.1h.6v-.5h.6v.7h.6v-.5h.6v-4h.6v1.9h.6v2.2h.6v-.2h.6v-1.3h.6v-4.1h.6v-6.6h.6v1.7h.6v-.4h.6v4h.6v3.4h.6v1.2h.6v1h.6v-3.2h.6v4.6h.6v.1h.6v-1.1h.6v.3h.6v.8h.6v-1.3h.6v-.9h.6v1.4h.6v-.6h.6v-.8h.6v1.2h.6v-.3h.6h.6v-.8h.6v-3.3h.6v.1h.6v1h.6v1.2h.6v-1.2h.6v-5.2h.6v2.6h.6v4.3h.6v-3.7h.6v4.2h.6v-1.5h.6v-1.6h.6v3.7h.6v-.5h.6v.7h.6v-.3h.6v-2.7h.6v1.3h.6v2.1h.6v-.7h.6h.6v-1.9h.6v-9.1h.6v-4h.6v7.2h.6v-1h.6v-9.4h.6h.6v11.3h.6v3.9h.6v3.6h.6v-2.8h.6v-1.2h.6v.3h.6v1.8h.6v2.7h.6v-.8h.6v-1.9h.6v-1.7h.6v1.2h.6v2.2h.6v.3h.6v-1.1h.6v-3.2h.6v1.8h.6v1.6h.6v-1.1h.6v-5.1h.6v2.7h.6v2.5h.6v1.3h.6v.3h.6v-2.7h.6v-.7h.6v-.1h.6v.1h.6v2.6h.6h.6v.5h.6v-.9h.6v.9h.6h.6v-1.6h.6v-.8h.6v1.4h.6v1.6h.6v-.2h.6v-.8h.6v.2h.6v-2.5h.6v1.4h.6v2.6h.6v-3h.6v1.8h.6v.4h.6v-1.6h.6v1.4h.6v.1h.6v1h.6v-.3h.6v-.6h.6v1h.6h.6v.1h.6v-.3h.6v-3.6h.6h.6v1.3h.6v1.7h.6v-3.5h.6v.6h.6v2.5h.6v-3.5h.6v-2.6h.6v5h.6v-3.6h.6v3.2h.6v2h.6v-1.2h.6v-1.2h.6v.3h.6v.4h.6v1.3h.6v-.2h.6v.1h.6v-1.7h.6v1.4h.6v-.6h.6v-.6h.6v-2h.6v.2h.6v3h.6v.9h.6v-1.8h.6v.3h.6v-.4h.6v.9h.6v1.4h.6v-10.3h.6v-.3h.6v7h.6v2.2h.6v1.6h.6v-2.8h.6v.8h.6v2.1h.6v-.5h.6v.2h.6h.6v-.1h.6v.2h.6v1.1h.6v.1h.6v-1.5h.6v.4h.6V205.0z" fill="#14a0e8"/>
<path d="M111.5 234.5v-1.4h.6v-.5h.6v.2h.6v.2h.6v.1h.6v.1h.6v-.1h.6v-.3h.6v-.2h.6v-1.2h.6v1.9h.6v-1h.6v-.4h.6v1.3h.6v-1.2h.6v1.3h.6v-.5h.6v.4h.6v.1h.6v-.7h.6v.5h.6v.2h.6v-.6h.6v.4h.6v-5h.6v4h.6v.9h.6v-2.5h.6v2.7h.6v-.1h.6v-.8h.6v-3.3h.6v4.3h.6h.6v-2.3h.6v1.5h.6v-1.4h.6v1.6h.6v-.4h.6v-.8h.6v-1h.6v1.2h.6v-.5h.6v1.4h.6v-.5h.6v.9h.6v-.5h.6v.5h.6v-.2h.6v-1h.6v.2h.6v.9h.6v-.7h.6v-.2h.6v.1h.6v-1.2h.6v-.1h.6v.6h.6v.2h.6v-.4h.6v.6h.6v-.6h.6v-2h.6h.6v-6.9h.6v2.8h.6v3h.6v-4.5h.6v-1h.6v1.3h.6v-.1h.6v-.9h.6v2.3h.6v-1.4h.6v1.2h.6v-.3h.6v-.5h.6v1.9h.6v-1.9h.6v-2h.6v2.4h.6v-1.1h.6v-1.3h.6v5.3h.6v2.1h.6v-.6h.6v-.3h.6v.5h.6v1.6h.6v-.1h.6v.6h.6v-.3h.6v1.4h.6v-1.2h.6v.8h.6v-1.8h.6v.1h.6v-.3h.6v-4.4h.6v-.1h.6v3.7h.6v2.1h.6v-3h.6v-.5h.6v2.7h.6v-2.8h.6v-.9h.6v-1.1h.6v2.3h.6v2.7h.6v.4h.6v-.2h.6v-2.8h.6v-2.4h.6v1h.6v-.1h.6v-2.2h.6v2.9h.6v1.3h.6v-3.4h.6v1.9h.6v2.8h.6v-1.4h.6v-.9h.6v1.7h.6v-1h.6v-2.1h.6v-1.3h.6v3.1h.6v3.4h.6v-.6h.6v.9h.6v-1h.6v-.7h.6v-.6h.6v-.2h.6v.2h.6v-3h.6v-1.8h.6v3.1h.6h.6v-1.7h.6v.6h.6v-5.2h.6v-1.6h.6v6.2h.6v-5.4h.6v2.4h.6v2.1h.6v1.9h.6v1.5h.6v-.2h.6v.1h.6v3.6h.6v-2.7h.6v.4h.6v.9h.6v.6h.6v-.8h.6v-.6h.6v1.4h.6v-.1h.6v1.2h.6v-1.9h.6v-2.2h.6v1.7h.6v1.4h.6v-.2h.6v-.2h.6v.3h.6v-1.8h.6v1h.6h.6v1.2h.6v1h.6v-1.7h.6v.1h.6h.6v1.3h.6v-2.5h.6v.9h.6v.3h.6v1.3h.6v.2h.6v-.1h.6v-1.5h.6v.5h.6v.2h.6v.6h.6v-4.1h.6v3.2h.6h.6v-4h.6v5.6h.6v-.6h.6v-.2h.6v-.8h.6v-5.7h.6v6.7h.6v.4h.6v-.8h.6v.6h.6h.6v-.1h.6v.3h.6v-1.3h.6v1.7h.6v-4.3h.6v4.4h.6v-.3h.6h.6v-.5h.6v-1.1h.6v1.3h.6h.6v-.1h.6v.4h.6v-.7h.6v.2h.6v.3h.6v-1.7h.6v1.1h.6v-2.2h.6v1.5h.6v.6h.6v-.8h.6v-1.6h.6v1.7h.6v.6h.6v-2h.6v.4h.6v-2.3h.6v-1.7h.6v3h.6v-.1h.6v.4h.6v1h.6v-1h.6v-2.4h.6v2.2h.6v2h.6v-1.6h.6v.8h.6v-2.4h.6v-1.6h.6v2.9h.6v2.2h.6v.6h.6v-3.5h.6v1.7h.6v1.2h.6v-.3h.6v1.1h.6v-.4h.6v-.3h.6v1.4h.6v-1.2h.6v.9h.6v.1h.6h.6v.3h.6v-1.9h.6v1.4h.6v.4h.6v-.4h.6h.6v-.5h.6v.9h.6v-.7h.6v.5h.6v-.7h.6v-.3h.6v1h.6v-.9h.6v1.2h.6h.6v-.2h.6v.2h.6h.6v-1.7h.6v-.3h.6v1.6h.6v.1h.6v-.8h.6v.4h.6v-2h.6v1.4h.6v-.6h.6v.6h.6v.3h.6v-1.5h.6v-3.5h.6v-4.3h.6h.6v5.7h.6v2h.6v.5h.6v1.3h.6v-.6h.6v.2h.6v-1.5h.6v.9h.6v-10h.6v10.3h.6v-.7h.6v-.6h.6v1h.6v.3h.6v-1.1h.6v-3.3h.6v.4h.6v2.7h.6v-.4h.6v-.6h.6v.1h.6v-1.7h.6v-1.7h.6v3h.6v.7h.6v-.1h.6v-1h.6v3.1h.6v-2.1h.6v.8h.6v.6h.6v.3h.6v.5h.6v.3h.6h.6v-.2h.6v-.4h.6v.1h.6v-.3h.6v.9h.6v-1.3h.6v.4h.6v.3h.6v-.3h.6v-1.2h.6v.4h.6v1.4h.6v-.7h.6v.3h.6v-.5h.6v-.4h.6v.7h.6v-4.1h.6v1h.6v-.1h.6v1.7h.6v.5h.6v-2h.6v2h.6v-1.5h.6v1.7h.6v1.2h.6v-.8h.6v-2.2h.6h.6v1.3h.6v-2.7h.6v-1.9h.6v3.6h.6v-1.4h.6v-.1h.6v2.4h.6v2h.6v-.7h.6v-2.1h.6v-.4h.6v2.7h.6v.5h.6v-.5h.6h.6v-.6h.6v.5h.6v-.5h.6v.8h.6v-2.2h.6v2.7h.6v-.9h.6v-.6h.6v-1h.6v2.2h.6v-.5h.6v.1h.6v-1.1h.6v1.6h.6v.2h.6v-1.1h.6v.2h.6v-.2h.6v.3h.6v.7h.6v-.2h.6v-.3h.6v-.9h.6v.9h.6v1h.6v-.5h.6v.6h.6v-2.3h.6v1.3h.6v-.4h.6v-2.4h.6v2.7h.6v.1h.6v.7h.6v-.3h.6v-2.4h.6v-.5h.6v.9h.6v1h.6v-.3h.6v.5h.6v-.2h.6v-.6h.6v1.8h.6v-.2h.6v-.2h.6v-1.3h.6v.5h.6v-.6h.6v1h.6v1h.6h.6v-.4h.6v.1h.6v.2h.6v-.4h.6v.3h.6v-.5h.6v.6h.6v-1.1h.6v-.1h.6v.9h.6v.3h.6v-.4h.6v.6h.6v-.3h.6v-.6h.6v.2h.6v-.1h.6v1h.6v-1.6h.6v1.3h.6v-.6h.6v.5h.6v-.3h.6v.2h.6v.2h.6v-1.3h.6v-1h.6v1.9h.6v-.7h.6v.4h.6v-1h.6v2h.6v-.1h.6v-.4h.6v.3h.6v.2h.6v-1.6h.6v1.5h.6v.4h.6v-1h.6v.8h.6v-.2h.6v-.8h.6h.6v.6h.6v-.8h.6v1.2h.6v-1h.6v1.1h.6v-.6h.6v-1.2h.6v1.1h.6v-.6h.6v.6h.6v.2h.6v.2h.6v-1.9h.6v1.6h.6v.3h.6v-.4h.6v-2.4h.6v2.6h.6v-.2h.6h.6v-.3h.6v-.4h.6v-.1h.6v-.8h.6v1.4h.6v-.7h.6v-.4h.6h.6v1.5h.6v-1h.6v1.4h.6v-1.2h.6v.6h.6v.6h.6v-.6h.6h.6v-1.5h.6v.7h.6v.9h.6v-.1h.6v-1.5h.6v-.6h.6v-1h.6v.8h.6v.5h.6v.2h.6v-.8h.6v1.4h.6v-.9h.6v.8h.6h.6v-1.5h.6v2h.6v-1.7h.6v.4h.6v-.7h.6v-.2h.6v-3.9h.6v2.4h.6v1h.6v1.5h.6v.1h.6v.7h.6v-.8h.6v-2.1h.6v1.2h.6v.8h.6v.9h.6v-1.5h.6v-.8h.6v.9h.6v.5h.6v-.1h.6v.5h.6v.9h.6v-.4h.6v.4h.6v-2.7h.6v.3h.6v.6h.6v-3.2h.6v.8h.6v3.6h.6v.5h.6v-1.8h.6v1.9h.6v-4.3h.6v4.6h.6v.4h.6v.2h.6v-.4h.6h.6v.7h.6v-.6h.6v-.8h.6v-2.5h.6v3.3h.6v-.7h.6v-.9h.6v1.5h.6v-2.3h.6v-1.8h.6v.6h.6v.8h.6v.8h.6v-2.7h.6h.6v.5h.6v1.9h.6v-2.3h.6v1.8h.6v.7h.6v-.7h.6v1.4h.6v.1h.6v-3h.6v1.7h.6v-2.2h.6v1.3h.6v2.1h.6v-1.6h.6v1.3h.6v-2.1h.6v-2.4h.6v-.6h.6v3.1h.6v1.8h.6v-1.4h.6v-.5h.6v-4h.6v2.7h.6v1.8h.6v-1.8h.6v1.4h.6v2.1h.6v-1.3h.6v-3.2h.6v.9h.6v3.9h.6v-2.2h.6v-1.2h.6v2.7h.6v1.1h.6v-2.3h.6v2.5h.6v.6h.6v-.8h.6v.7h.6v-.2h.6v-.8h.6v1.7h.6v.2h.6v-.4h.6v-1.4h.6v.7h.6v.7h.6v.2h.6v-.1h.6v-.1h.6v-.4h.6v-.2h.6v-.1h.6h.6v-2.5h.6v2.6h.6v-1.7h.6v-2h.6v3.3h.6v.7h.6v-1.2h.6v-1h.6v.5h.6v.1h.6v.5h.6v.2h.6v.7h.6v.3h.6v.3h.6v-1.5h.6v1.8h.6v-2.5h.6v2.5h.6v-4.7h.6v4.4h.6v.5h.6v-.2h.6v-.3h.6v.3h.6v-.5h.6v.2h.6v.4h.6v-1.5h.6v-2.5h.6v4h.6v-.7h.6v.7h.6v-.5h.6v.2h.6v.4h.6h.6v-.3h.6v-.4h.6v.2h.6v-1.1h.6v-.5h.6v.3h.6v.1h.6h.6v.3h.6v.3h.6v.6h.6v-.7h.6v-.1h.6v.5h.6v-.8h.6v-1.3h.6v-1.6h.6v2.8h.6v-4.7h.6v.5h.6v1.8h.6h.6v.5h.6v-3h.6v2.2h.6v-.6h.6v-.2h.6v-.3h.6v.5h.6v1h.6v.2h.6v1h.6v-.1h.6v-1.7h.6v.8h.6v-2.1h.6v-2.2h.6v3h.6v.3h.6v1.2h.6v1.7h.6v-.4h.6h.6v-1.1h.6v-2.9h.6v-1.8h.6v2.4h.6v1.1h.6v1h.6v-1h.6v-1h.6v1.5h.6v.2h.6v.9h.6v-1.3h.6v1.4h.6v1.7h.6v-4.1h.6v1.3h.6v-.1h.6v.9h.6v.5h.6v-.5h.6v-1h.6v-.4h.6v1h.6v.7h.6v.1h.6v.6h.6v.3h.6v-.5h.6v.3h.6v-3.6h.6v2.8h.6v.6h.6v.4h.6v-1h.6v1.2h.6v-.8h.6v1.3h.6v-2.4h.6v.2h.6v1.7h.6v.1h.6v.4h.6v-.3h.6v-.8h.6v1.2h.6v.3h.6v-.6h.6v-.2h.6v-1h.6v-3.1h.6v3.2h.6v.4h.6v-3.2h.6v-5h.6v1.3h.6v4.4h.6v.4h.6v2.2h.6v-1h.6v.5h.6v-.8h.6v.2h.6v1.6h.6v-1.9h.6v-2.5h.6v.5h.6v.1h.6v.6h.6v2.5h.6v-1.2h.6v-1.1h.6v-.3h.6v1.6h.6h.6v.7h.6v-2.1h.6h.6v2.3h.6v.2h.6v-.1h.6v-.3h.6v1.3h.6v-.1h.6v-1h.6v-2.8h.6v-.2h.6v.9h.6v2.3h.6v-2.3h.6v-2.4h.6v2.6h.6v.6h.6v-1.1h.6v.2h.6v-5.5h.6h.6v4.8h.6v-11.6h.6v-2.9h.6v5.8h.6v-.4h.6v.7h.6h.6v7.4h.6h.6v3h.6v-1.3h.6v1.1h.6v.8h.6v1h.6v-.4h.6v.3h.6v-1.8h.6v-2.7h.6v-.7h.6v1h.6v2.6h.6v.1h.6v-.9h.6v-1.4h.6v1.4h.6v1.3h.6v-1.5h.6v2.1h.6v-3.3h.6v1.3h.6v2.6h.6v-2.4h.6v1.3h.6v.7h.6v.7h.6v-.8h.6v.1h.6v-1.2h.6v1.3h.6v-1.9h.6h.6v.7h.6v-1.2h.6v1.8h.6v-.4h.6v-.2h.6v.5h.6v-.1h.6v1.6h.6v-.7h.6v.9h.6v.4h.6v-1.5h.6v1h.6v-2.2h.6v1.7h.6v-2h.6v2.6h.6v.5h.6v-1h.6v.4h.6v-1.7h.6v1.4h.6v.5h.6v-.4h.6v-.8h.6v.5h.6v-.6h.6v-2.1h.6v1.9h.6v.6h.6v-1h.6v-4.9h.6v-3.7h.6v3.7h.6v5.2h.6v.4h.6v-1.9h.6v1.3h.6v-.9h.6v-.5h.6v1.1h.6v-1.3h.6v.7h.6v.4h.6v-2.3h.6v1.8h.6v-.1h.6v.9h.6v1h.6v.5h.6v-1h.6v.5h.6v-.9h.6v-.2h.6v-4.2h.6v4.5h.6v-1.5h.6v1.1h.6h.6v1.8h.6v.1h.6v-.8h.6v.4h.6v-2h.6v2.1h.6v-3.3h.6v2.5h.6v1h.6v-.5h.6v.1h.6v1.1h.6v-.2h.6v-1h.6V234.5z" fill="#b066f8"/>
<path d="M111.5 263.9v-1.4h.6v-.1h.6v.2h.6v-2.6h.6v2.7h.6v-1.3h.6v-.1h.6v1.4h.6v-.6h.6v.5h.6v-.6h.6v-.6h.6v1.3h.6v-.2h.6v-.1h.6v-.2h.6v-.1h.6v.4h.6v-.3h.6h.6v.4h.6v-.3h.6v.2h.6v.2h.6v-.4h.6h.6v-1h.6h.6v1.2h.6h.6v.2h.6v-.1h.6v.1h.6v-.6h.6v.6h.6v-2.1h.6v1h.6v.7h.6v.4h.6v-.2h.6v-.7h.6v.5h.6v.3h.6v-.6h.6v.5h.6v-.6h.6h.6v.6h.6v-.4h.6v.4h.6v-.3h.6v-.5h.6v-.6h.6v.2h.6v-.2h.6v.3h.6v-2.6h.6v-1.2h.6v2h.6v-1.9h.6v1.1h.6v1.8h.6v-.9h.6v-.2h.6v.9h.6v-.6h.6v-1.4h.6v-.1h.6v-4h.6v1.1h.6v3.3h.6v-3.5h.6v1.4h.6v-3.1h.6v1.1h.6v2.7h.6v-2.3h.6v2.2h.6v1.3h.6v-9.8h.6v-.6h.6v4.4h.6v-1.4h.6v5.6h.6v.5h.6v-.7h.6v3.3h.6v-1.1h.6v-1.1h.6v3.7h.6v-.2h.6v-.9h.6v-.2h.6v-.6h.6v1.4h.6v.5h.6v-.6h.6v-.2h.6v-2.5h.6v1.9h.6v.8h.6v-1.5h.6v-.7h.6v-4.7h.6v2.9h.6v1.6h.6v.9h.6v-.3h.6v-.3h.6v-1.3h.6v1.9h.6v2.2h.6v-3.2h.6v-4.3h.6v1h.6v2.4h.6v2.6h.6v-1.3h.6v-1.5h.6v-3h.6v.7h.6v3.7h.6v-.4h.6v-1h.6v.8h.6v2.1h.6v-.1h.6v-.8h.6v-.6h.6v.7h.6v-.3h.6v-2.5h.6v-1.1h.6v2.3h.6v-1h.6v-1.2h.6v2.1h.6v-1.2h.6v1h.6v2.4h.6v-.7h.6v-.6h.6v.5h.6v-5.9h.6v-1.3h.6v1.4h.6v-4.6h.6v2.6h.6v3h.6v1.6h.6v-2h.6v1.8h.6v2.1h.6v1.2h.6v.6h.6v-.4h.6v-.2h.6v.8h.6v-1.4h.6v-1h.6v1.7h.6v.4h.6v-2.8h.6v.2h.6v-.8h.6v3.8h.6v.2h.6v-1.4h.6h.6v2h.6v.3h.6v-1.3h.6v-.4h.6v2.5h.6v-3.8h.6v1.9h.6v-.2h.6v-.7h.6v2.1h.6v-1.1h.6v.3h.6v.8h.6h.6v.1h.6v-5.7h.6v5.1h.6v.4h.6v-1.3h.6v.8h.6v.4h.6v.2h.6v-.2h.6v.6h.6v.7h.6v-.1h.6v.2h.6v-.4h.6v-.1h.6v.7h.6v-2h.6v.1h.6v2h.6v-1h.6v1h.6v-1.5h.6v-.1h.6v.7h.6v1h.6h.6v-.3h.6v.4h.6v-.7h.6v-.3h.6v.8h.6v-.5h.6v-.2h.6v-.9h.6v-.6h.6v.1h.6v-.2h.6v1.3h.6v-.1h.6v-.6h.6v.4h.6v.1h.6v-.7h.6v-2.8h.6v1.5h.6v-.5h.6v-.7h.6v2.1h.6v-2h.6v-1.4h.6v2.6h.6v.5h.6v-.9h.6v1h.6v-2.1h.6v1.8h.6v-.9h.6v.7h.6v1.8h.6v-2.2h.6v-.1h.6v-1.2h.6v-.5h.6v2.8h.6v-.4h.6v1.1h.6v1h.6v.3h.6h.6v-.2h.6v-.2h.6v-1.7h.6v2.2h.6v.1h.6v.3h.6v.2h.6v-.3h.6h.6h.6v-2.7h.6v2.2h.6v.5h.6v-.4h.6v.6h.6v-1.8h.6v.1h.6v1.6h.6v.2h.6v-3h.6v1.6h.6v1h.6v-6.8h.6v6.9h.6v-.1h.6v.1h.6v.1h.6v-.4h.6v.3h.6h.6v.2h.6v-.3h.6v-.4h.6h.6v.1h.6v-1.2h.6v-1.8h.6v-2.5h.6v.3h.6v1.1h.6v-.1h.6v.3h.6v2h.6v-.8h.6v-1.1h.6v-.5h.6v3.5h.6v-.2h.6v-.8h.6v-2h.6v2.6h.6v-.6h.6v-.6h.6v.5h.6v.8h.6v-.3h.6v-2.7h.6v.1h.6v1.3h.6v.6h.6v-3h.6v.8h.6v.6h.6v-1.7h.6v.8h.6v2.3h.6v.1h.6v-.4h.6v1.1h.6v-1.1h.6v.8h.6v-.3h.6v.4h.6v.9h.6v-.1h.6h.6v-1.4h.6v1h.6v.5h.6v-1.6h.6v1.7h.6v-2.3h.6v1.7h.6v-.3h.6v.3h.6v.4h.6v-2.5h.6v1.5h.6v.9h.6v-4.7h.6v3.9h.6v.8h.6v-.4h.6v-3.6h.6v2.4h.6v1.3h.6v-5.1h.6v-.4h.6v3.4h.6v-1.3h.6v-.9h.6h.6v-3.9h.6v5.4h.6v.6h.6v-.3h.6v1.2h.6v.9h.6v-1h.6v-1h.6v-2.4h.6v1.5h.6v.6h.6v1.5h.6v1.4h.6v-1.2h.6v-.6h.6v-2.3h.6v.9h.6v2.4h.6v.8h.6v-1.7h.6v-.5h.6v1.3h.6v-.3h.6v-3.4h.6v4.8h.6v-.2h.6v-5.5h.6v6h.6v-1.9h.6v.9h.6v.2h.6v.4h.6v-.5h.6h.6v.7h.6v-.3h.6v-4.2h.6v1.2h.6v2.4h.6v1.5h.6v.1h.6v-.3h.6v-.5h.6v-1.6h.6v1.6h.6v-.3h.6v-.5h.6v-1.9h.6v1.8h.6v-.3h.6v.2h.6v-.4h.6v-.5h.6v.6h.6v-.2h.6v-2.2h.6v-2.5h.6v3.6h.6v-.1h.6v1.5h.6v1.7h.6v-2.7h.6v2.1h.6v-.1h.6v-.1h.6v1.1h.6v-.5h.6v.3h.6v.1h.6v-.4h.6v-2h.6v1.3h.6v.5h.6v-.3h.6v1.1h.6v-.1h.6v-.5h.6v-1.6h.6v.7h.6v1.6h.6v.2h.6v-2.3h.6v1h.6v.7h.6v.1h.6v-.2h.6v-2.9h.6v2.5h.6v-.2h.6v-.2h.6v1h.6v.1h.6v.3h.6v-.1h.6v.1h.6v-5.3h.6v4.2h.6v1.3h.6v-1h.6v.8h.6v-.3h.6v.1h.6v-.2h.6v.7h.6v-1.2h.6h.6v1.2h.6v-1h.6v.3h.6v-.5h.6v.8h.6v.6h.6v-.7h.6v-.3h.6v-1h.6v-3.2h.6v5.1h.6v-.7h.6v.2h.6v-.1h.6v.5h.6v.2h.6v-.7h.6v-2h.6v1.2h.6v1.1h.6v-.3h.6v.4h.6v-1.3h.6v.7h.6v-.2h.6v-.1h.6v-.1h.6v-1.1h.6v.6h.6v-.8h.6v.2h.6v.8h.6v-.4h.6v.5h.6v.5h.6v.2h.6v-1.5h.6v.5h.6v1.5h.6v-.6h.6v-.3h.6v.9h.6v-.5h.6v-.1h.6v-.1h.6v-.9h.6v-.9h.6v1.7h.6v-1.3h.6v.8h.6v.5h.6v-1.1h.6v-.8h.6v-1.1h.6v1.2h.6v-.4h.6v-.3h.6v-3.7h.6v3.7h.6v1.6h.6v.2h.6v-1.3h.6v-.2h.6v1h.6v-.3h.6v.5h.6v-1.1h.6v.9h.6v-.3h.6h.6v-.4h.6v-1.8h.6v.3h.6v-1.1h.6v-3.9h.6v2.2h.6v3h.6v.3h.6v-.7h.6v.7h.6v1.2h.6v-.8h.6v1.5h.6v.7h.6v.4h.6v-2.1h.6v-1h.6v2.6h.6v-1.1h.6v.1h.6v-2.5h.6v.6h.6v2.4h.6v-1.4h.6v1.2h.6v.4h.6v.3h.6v-.4h.6v.2h.6v.5h.6v.9h.6v-1.3h.6v.8h.6v-.4h.6v-2.5h.6v2.2h.6v-2.6h.6v2.2h.6v-1.5h.6v-.1h.6v-1.8h.6v1.5h.6v1.7h.6v-.3h.6v.2h.6v-.6h.6h.6v-4.8h.6v2.8h.6v.9h.6v.9h.6v-1.4h.6v-.1h.6v1.6h.6v-1.1h.6v1h.6v.3h.6v-2.3h.6v1.9h.6v-4.1h.6v-2h.6v4.5h.6v2h.6v-.3h.6v-1.7h.6v2.1h.6v-3.7h.6v1.1h.6v1.3h.6v-.7h.6v-2.7h.6v1.8h.6v2.3h.6v.3h.6v1h.6v-1.6h.6v-3.4h.6v.9h.6v3.2h.6v-2.1h.6v-1.9h.6v3.7h.6v2.1h.6v-2.2h.6v.9h.6v.3h.6v.8h.6v1h.6h.6v-.8h.6v.7h.6v-.7h.6v.7h.6v-1.3h.6v1.5h.6v-.8h.6v.6h.6v-1.2h.6v-2.2h.6v3.2h.6v-.7h.6v.2h.6v-.9h.6v-.8h.6v.9h.6v-.4h.6v-.2h.6v.2h.6v.2h.6v-1h.6v-.5h.6v1.4h.6v.1h.6v.2h.6v.8h.6v-1h.6v-.1h.6v.6h.6v-.9h.6v.5h.6v.7h.6v.6h.6v-.4h.6v-.9h.6v1.7h.6v-.5h.6v-1.6h.6v2.3h.6v-1h.6v.7h.6v.3h.6v-2.7h.6v1.8h.6v.5h.6v-.3h.6v-.3h.6v-1.1h.6v1.3h.6v-1.3h.6v1.5h.6v.2h.6v.3h.6v-.2h.6v.2h.6v-1.1h.6v.4h.6v.7h.6v-1h.6v.7h.6v-1.3h.6v.4h.6v-.4h.6v.3h.6v-.1h.6h.6v.1h.6v-1.6h.6v-.7h.6v.6h.6v.3h.6v.7h.6h.6v-1h.6v-.6h.6v-1.8h.6v1.8h.6v1h.6v-2.3h.6h.6v-.4h.6v-2.4h.6v1.3h.6v2.8h.6v.8h.6v.5h.6v-.8h.6v-.4h.6v-.1h.6v-1h.6v.5h.6v1h.6v.8h.6v-1.1h.6v-.3h.6v.7h.6v-1.5h.6v-.6h.6v.5h.6v.8h.6v-1.1h.6v.6h.6v1.6h.6v1h.6v-.6h.6v.3h.6v.4h.6v-3h.6v.1h.6v.4h.6v-4.4h.6v1.4h.6v3.2h.6v-2.4h.6v2.7h.6v-2.8h.6v-1.9h.6v5.3h.6v1.8h.6v-.2h.6v-1.1h.6v.8h.6v-.4h.6v1.2h.6v-.7h.6v-.7h.6v-.1h.6v-2.4h.6v-.3h.6v1.7h.6v1.8h.6v-.2h.6v-5.9h.6v5h.6v.8h.6v-1.4h.6v1.4h.6v.8h.6v-.5h.6v-2.3h.6v2.2h.6v.5h.6v-.5h.6h.6v-.6h.6v-2.8h.6v-6.7h.6v3.9h.6v-.6h.6v1.5h.6v1.1h.6v2.7h.6v1.4h.6v-.1h.6v.8h.6v-.6h.6v.7h.6v-.8h.6v-2.4h.6v1.2h.6v-.2h.6v.5h.6v.4h.6v-1.3h.6v1.1h.6v1.1h.6v-.6h.6v.4h.6v.2h.6v-.2h.6v-4.6h.6v.7h.6v1.5h.6v-2.4h.6v2.7h.6v.1h.6v-.7h.6v.1h.6v-.6h.6v.8h.6v-1.8h.6v2.9h.6v1.2h.6v-1.7h.6v-2.2h.6v.3h.6v2.7h.6v-.3h.6v-.5h.6v-1.4h.6v-2.6h.6v-8.7h.6v-4.7h.6v8.3h.6v-7.9h.6v3.6h.6v2h.6v8.1h.6v.4h.6v1.9h.6v-.2h.6v2.5h.6v-1.4h.6v1.2h.6v-.4h.6v-1.9h.6v1.3h.6v1.6h.6v.4h.6v-2h.6v1.1h.6v.2h.6v-.3h.6v-1.7h.6v-3.8h.6v1.4h.6v5.1h.6v-1.6h.6v-.3h.6v.1h.6v-.6h.6v2.2h.6v-2.3h.6v1.8h.6v-.8h.6v.6h.6v.2h.6v-.3h.6v-.4h.6v-.5h.6v-1.7h.6h.6v2.5h.6v.8h.6v-.3h.6v-.5h.6v.2h.6v1h.6v-.2h.6v.1h.6v.1h.6v-1.7h.6h.6v2.1h.6v-1.5h.6v1.7h.6v-2.2h.6v2.4h.6v-1.1h.6v-1h.6v-2.7h.6v4.7h.6v-1.1h.6v-.3h.6v-.2h.6v-1.4h.6v-.3h.6v.9h.6v-.9h.6v1.7h.6v-.3h.6v-.4h.6v-2.4h.6v-2.6h.6v2.6h.6v2.6h.6v-.4h.6v1h.6v-1.5h.6v-.1h.6v2.2h.6v-2.5h.6h.6v.3h.6v1.5h.6v-1.3h.6v-.1h.6v.9h.6v-2h.6v1.1h.6v.5h.6v-.9h.6v.2h.6v-1.3h.6v2.4h.6v-2.1h.6v-1.8h.6v-4.3h.6v7.4h.6v2h.6v-.8h.6v.2h.6v.8h.6v-.8h.6v1h.6v-.3h.6v.5h.6v.3h.6v-.1h.6v-.5h.6v.2h.6v.2h.6v.2h.6v-2h.6V263.9z" fill="#b066f8"/>
<path d="M111.5 293.4v-2.3h.6v-1.6h.6v.7h.6v-2.1h.6v1.9h.6v.7h.6v-1.3h.6v2.4h.6v-.2h.6v-2.8h.6v2.7h.6v-.3h.6v-.5h.6v.7h.6v-1.8h.6v2.2h.6v-2.5h.6v.4h.6v.7h.6v.2h.6v-3.3h.6v3.3h.6v-.3h.6v1.4h.6v-2h.6v1h.6v-.1h.6h.6v.8h.6v-.1h.6v-.1h.6v.1h.6v-.6h.6v.9h.6v-2.9h.6v2.1h.6v-2.9h.6v2.3h.6v-1.4h.6v1.3h.6v.8h.6v.7h.6v-.7h.6v.6h.6v-.4h.6v-4.4h.6v1.4h.6v3h.6v-5.2h.6v4.8h.6v-1.6h.6v1.1h.6v-.7h.6v1.4h.6v-2.5h.6v1.7h.6v.1h.6v-.3h.6v-.6h.6v1h.6v-.7h.6v.2h.6v-.1h.6v-1.3h.6v.8h.6v-1.8h.6v-7.2h.6v-1.7h.6v5.9h.6v-5.3h.6v3h.6v6.4h.6v-.8h.6v-2.1h.6v-4.6h.6v1.4h.6v-2.4h.6v6.2h.6v-5.6h.6v1.4h.6v5.2h.6v-7.6h.6v-1.7h.6v6.8h.6v-1.5h.6v2.1h.6v2.7h.6v.6h.6v2.1h.6v.7h.6v-2.6h.6v1.1h.6v-2.8h.6v3h.6v-.1h.6v1h.6v-4.8h.6v4.3h.6v-1.6h.6v2.1h.6v-1h.6v-6.4h.6v4.3h.6v1.5h.6v-2.1h.6v-1.3h.6v-1.9h.6v3.4h.6v2.1h.6v-3.6h.6v3.5h.6v.9h.6v-3.3h.6v-4.8h.6v1.2h.6v4.2h.6v.7h.6h.6v2.1h.6v-.7h.6v-.7h.6v-1.8h.6v1.6h.6v.2h.6v1.6h.6v-1.9h.6v.6h.6v.8h.6v-.3h.6v-.3h.6v-.5h.6v-.2h.6v-.6h.6v-2.9h.6v3.2h.6v-4.6h.6v2.6h.6v-.1h.6v1.7h.6v-.1h.6v.8h.6v.7h.6v-.5h.6v-5h.6v-1.2h.6v2.8h.6v.2h.6v2.2h.6v.7h.6v-.9h.6v1.7h.6v.7h.6v-1.2h.6v1.1h.6v-5.4h.6v5.4h.6v.4h.6v-1.7h.6v.9h.6v-1.2h.6v-2.5h.6v.8h.6v-1h.6v1.8h.6v.1h.6v1.1h.6v-5h.6v2.5h.6v3.3h.6v-3.7h.6v2.8h.6v.3h.6v-1.1h.6v2.9h.6v-.9h.6v-.4h.6v-1h.6v-.3h.6v1.7h.6v.2h.6v-3.4h.6v1.4h.6v1.2h.6v.8h.6v-3.1h.6v3.7h.6v-1.3h.6v-2.6h.6v2.7h.6v-.2h.6v1.2h.6v-.9h.6v.5h.6v-3.7h.6v4.3h.6v.2h.6v-.1h.6v-4.4h.6v4.3h.6v.4h.6v-.1h.6v-.5h.6v.8h.6v.1h.6v-4.2h.6v-.7h.6v3.8h.6v1.4h.6v-2.5h.6v-1h.6v3.1h.6v-1.3h.6v1.3h.6v-2.7h.6v-1.8h.6v3.9h.6v.5h.6v-.9h.6v.3h.6v-.1h.6v-3.2h.6v2.5h.6v-.4h.6v.3h.6v1h.6v-.8h.6v.5h.6v-1.1h.6v.7h.6v.5h.6v-.4h.6v-4.3h.6v-2h.6v3.5h.6v1.9h.6v-.1h.6v-2.2h.6v2.4h.6v-1.5h.6v3.2h.6v-2.1h.6v-.4h.6v1.4h.6v-3.5h.6v-1.8h.6v2.9h.6v2.9h.6v-1.5h.6v-.2h.6v.9h.6v.2h.6v-.9h.6v2.3h.6v-.5h.6v-1.5h.6h.6v1h.6v-.1h.6v-.2h.6v-1.2h.6v2.6h.6v-.3h.6v-1.8h.6v2.2h.6v-.8h.6v1h.6v-1.2h.6v.9h.6v.2h.6v-.5h.6v.1h.6v-4.4h.6v4.4h.6v.5h.6v-.6h.6v-2.6h.6v3.3h.6v-.2h.6v-.5h.6v-2.4h.6v2.3h.6v-3.9h.6v2.8h.6v1.7h.6v-.3h.6v-1.2h.6v-.5h.6v-1.4h.6v1.5h.6v-.4h.6v-.6h.6v.9h.6v.5h.6v.2h.6v-2.9h.6v3.4h.6v-1h.6v.2h.6v-.9h.6v2.3h.6v-1.1h.6v-2.8h.6v3.5h.6v-.7h.6v.7h.6v-2h.6v1.9h.6v-1.3h.6v1h.6v.3h.6v-1.7h.6v-.1h.6v1.9h.6v-3.4h.6v1.1h.6v.9h.6v-2.2h.6v2.2h.6v-3.8h.6v-.5h.6v5.4h.6v-3.4h.6v3.4h.6v-.4h.6v.1h.6v-.2h.6v.4h.6v-.2h.6v.3h.6h.6v-.9h.6v1.3h.6v-1.4h.6v1.6h.6v-1.7h.6v.7h.6v1.1h.6v-.4h.6v-.6h.6v.3h.6v-.5h.6v-.4h.6v-.1h.6v1.2h.6v-.3h.6v-2.5h.6v.3h.6v1.7h.6v.5h.6v-1h.6v.6h.6v-2.5h.6v-4.2h.6h.6v4.7h.6v-3.1h.6v3.4h.6v-2.1h.6v2h.6v-.1h.6v-.3h.6v2.6h.6v-1.8h.6v1.2h.6v-.7h.6v-2.7h.6v1.5h.6v2.5h.6v-1.9h.6v-5.6h.6v6.3h.6v-2.8h.6v3.7h.6v-1.2h.6v-1.1h.6v2.5h.6v.2h.6h.6v-.1h.6v.4h.6v-1.5h.6v.1h.6v.5h.6v-4.1h.6v2.9h.6v1.8h.6v-.5h.6v-1.2h.6v-.1h.6v2.4h.6v-1h.6v-1.7h.6v1.9h.6v.7h.6v-.5h.6v.7h.6v-.5h.6v-1.4h.6v.5h.6v-.9h.6v-1.6h.6v2.1h.6v1.5h.6v-1.5h.6v.2h.6v.7h.6v-.2h.6v.2h.6v-.6h.6v-.9h.6v-.9h.6v2h.6v-.4h.6v-.2h.6v.4h.6v.3h.6v-.1h.6v-2.6h.6v-.4h.6v1.9h.6h.6v1.6h.6v.1h.6v-1.7h.6v1.1h.6v-.1h.6v1.3h.6h.6v-.3h.6v-1.3h.6v-.4h.6v-.3h.6v1.6h.6v-1.3h.6v.6h.6v.1h.6v.9h.6v-.3h.6v-.2h.6v.2h.6v.6h.6v-1.5h.6v.6h.6v.8h.6v-.4h.6v.8h.6v-2.2h.6v.2h.6v.2h.6v1.4h.6v.3h.6v-.5h.6v.5h.6v-1.3h.6v.4h.6v.6h.6v.3h.6v.2h.6v-1.7h.6v1.5h.6v.4h.6v-.5h.6v-2.2h.6v2.4h.6v-.8h.6v-.6h.6v.9h.6v-.5h.6v-.3h.6v.4h.6v.5h.6v-.9h.6v1.5h.6v-.7h.6v.4h.6v.3h.6v-.2h.6v-4.7h.6v3.8h.6v.5h.6v-3.7h.6v4.1h.6v-.6h.6v-2.8h.6v1.9h.6v-1.4h.6v-4.8h.6v6.8h.6v-.3h.6v.5h.6v-1h.6v1.2h.6v-3.1h.6v3h.6v-1.4h.6v.6h.6v1.4h.6v-.9h.6v-1.4h.6v-1.8h.6v2.2h.6v1.7h.6v-.2h.6v-.7h.6v.7h.6v-.9h.6v-1.3h.6v1.8h.6v-1.8h.6v2.3h.6v-2.9h.6v.4h.6v1.6h.6v.3h.6v.2h.6v-4h.6v3.2h.6v1.3h.6v-.9h.6v-1h.6v.8h.6v.5h.6v-1.6h.6v.8h.6v-2h.6v2.5h.6v.2h.6v-1h.6v-5.7h.6v1.5h.6v4.7h.6h.6v-.9h.6v1h.6v.1h.6v-1.3h.6v1.2h.6v-.8h.6v.5h.6v.1h.6v-3h.6v3.3h.6v-1.3h.6v.4h.6v-4h.6v4.4h.6v.1h.6v-1.5h.6v1.3h.6v.6h.6h.6v-.6h.6v-3.6h.6v3.8h.6v-2.2h.6v3.3h.6v-1.7h.6v1.3h.6v-2.7h.6v2.3h.6v.8h.6v-1.9h.6v1.5h.6v-1.9h.6v2.2h.6v-1.7h.6v1.5h.6v-.1h.6v-2.5h.6v1.7h.6v1h.6v-1.4h.6v-.2h.6v.7h.6v-1.9h.6v2.4h.6v-2.2h.6v.2h.6v.2h.6v-1.1h.6v2.2h.6v-.5h.6v-1h.6v-2.2h.6v-3.2h.6v3.9h.6v3.7h.6v-1.3h.6v1.2h.6v-2.4h.6v.7h.6v.8h.6v.7h.6v-1.9h.6v.3h.6v.6h.6v.2h.6v-.8h.6v2.5h.6v-.5h.6v-1.9h.6v1.9h.6v.2h.6v-.3h.6v-.8h.6v-.3h.6v1.2h.6v-1h.6v.5h.6v.3h.6v-2.4h.6v2h.6v-1.1h.6v2.5h.6v-1.9h.6v-2.8h.6v4.7h.6v-.9h.6v.9h.6v-1.1h.6v1.2h.6v-1.6h.6v1.1h.6v-.1h.6v.5h.6v-2.6h.6v.3h.6v2.3h.6v-.3h.6v.2h.6v-.4h.6v-.9h.6v.1h.6v1.2h.6v-3h.6v1.6h.6v.8h.6v.4h.6v-.8h.6v-4.7h.6v4.7h.6v-1.3h.6v1.5h.6v-1.4h.6v1.4h.6v.8h.6v-1.4h.6v.9h.6v.1h.6v-1h.6v-4.9h.6v5.1h.6v1.6h.6v-.5h.6v.7h.6v-.2h.6v-.1h.6v-1.9h.6v.7h.6v.6h.6v.2h.6v.7h.6v-1.4h.6v-2.6h.6v4h.6v-1.6h.6v1.2h.6v-1.1h.6v.7h.6v.3h.6v.3h.6h.6v-.7h.6v-.3h.6v1.1h.6h.6v-.9h.6v-1.4h.6v2h.6v-1.6h.6v.1h.6v1.3h.6v-3.2h.6v2.3h.6v.8h.6v-.1h.6v-1.2h.6v-1.7h.6v2.5h.6v-.8h.6h.6v-.1h.6h.6h.6v.1h.6v.6h.6v-.5h.6h.6v-.9h.6v-1.1h.6v2.3h.6v-2.2h.6v.7h.6v.6h.6v.7h.6v.6h.6h.6v.2h.6v-.5h.6v-.2h.6v-7.2h.6v4.9h.6v.7h.6v-.7h.6v1.4h.6v.8h.6v-.4h.6v.5h.6v-1.5h.6v-3.2h.6h.6v.8h.6v2.7h.6v.4h.6v-.2h.6v.1h.6v-.3h.6v1.5h.6v-2h.6v2h.6v-3.2h.6v1.4h.6v-2h.6v2.3h.6v1.6h.6v.5h.6v-.6h.6v-4.5h.6v2.6h.6v-.7h.6v1.4h.6v.2h.6v.5h.6v-.3h.6v1h.6v-1.7h.6v1.5h.6v.3h.6v-.1h.6h.6v.1h.6v.6h.6v-1h.6v-.3h.6v.6h.6v.3h.6v-.2h.6v-.4h.6v.7h.6v.1h.6v-.3h.6v-2h.6v2.1h.6v-.8h.6v-1.4h.6v-3.5h.6v-6.4h.6v1.6h.6v-2.4h.6v5.7h.6v3.7h.6v2.8h.6v.1h.6v.7h.6v-.4h.6v-3.8h.6v2.9h.6v.3h.6v-.8h.6v1.2h.6v.3h.6v-2.6h.6v2.2h.6v-.9h.6v-.8h.6v1.2h.6v-.7h.6v-1.3h.6v1h.6v1.5h.6v-1.3h.6v.7h.6v-1.5h.6v2.1h.6v-.6h.6v-.4h.6v-5.6h.6v3.5h.6v1.9h.6v.1h.6v-.9h.6v1.5h.6v-.3h.6v-.3h.6v-2.3h.6v1.9h.6v-.8h.6v.3h.6v-.6h.6v1.2h.6v-6.6h.6v-2.9h.6v5.2h.6v2.4h.6v-7.2h.6v-5.8h.6v1.9h.6v2h.6v8.6h.6v3h.6v.8h.6v-1.1h.6v-.2h.6v-.2h.6v-1.9h.6v-.6h.6v.8h.6v1.9h.6v-3.1h.6v4.6h.6v-.9h.6v-.7h.6v.5h.6v-.4h.6v.3h.6v-.2h.6v.6h.6v-.3h.6v-.9h.6v-3.2h.6v3.2h.6v-2.3h.6v4h.6v-1.1h.6v.3h.6v.9h.6v-.9h.6v.9h.6v-3.2h.6v1.1h.6v1.2h.6v-.2h.6v-2.4h.6v2.6h.6v-2.2h.6v1.2h.6v.8h.6v1.1h.6v.5h.6v-.1h.6v-1.7h.6v2h.6v-4.8h.6v3.9h.6v.5h.6v.3h.6v-.2h.6v.2h.6v-.2h.6v.5h.6h.6v.4h.6v-.7h.6v-1.2h.6v.4h.6v.7h.6v-.1h.6v-.3h.6v.2h.6v.3h.6v-1h.6v-.2h.6v-.6h.6v-.3h.6v.9h.6v-.2h.6v-.4h.6v-.8h.6v1.1h.6v1.3h.6v-.3h.6v-.8h.6v.9h.6v-1.9h.6v.6h.6v-1h.6v2.3h.6v-.4h.6v-.2h.6v.3h.6v-1.1h.6v1.9h.6v-2.4h.6v-.3h.6v1.1h.6v-5h.6v3.6h.6v1.4h.6v-6.3h.6v7.3h.6v-1.1h.6v1.8h.6v-.5h.6v-.6h.6v.4h.6v-.7h.6v.2h.6v-.5h.6v1.3h.6v.5h.6v.4h.6v-2.8h.6v2.8h.6V293.4z" fill="#e214ee"/>
<path d="M111.5 322.9v-3.7h.6v2.1h.6h.6h.6v.2h.6v-2.1h.6v1.1h.6v.6h.6v-1.3h.6v-.4h.6v1.7h.6v-.4h.6v-.8h.6v.2h.6v1.2h.6v.5h.6v-.5h.6v-.4h.6v.3h.6v.3h.6v-.3h.6v.2h.6v-.1h.6h.6v.4h.6v-.1h.6v-.4h.6v-.4h.6v.4h.6v.2h.6v.1h.6v.3h.6v-.3h.6v.2h.6v-2.6h.6v1.8h.6v.1h.6v.5h.6v-.2h.6v-2.1h.6v.9h.6v1.2h.6v.3h.6v-.2h.6v-.1h.6v.3h.6h.6v-.7h.6v.1h.6v-.1h.6h.6v.2h.6v-1.1h.6h.6v1h.6v-.4h.6v.4h.6v-1.2h.6h.6v-1.8h.6v1.8h.6v1.3h.6v-.9h.6v.6h.6v.6h.6v-.5h.6v-1.7h.6v-3.6h.6v1.2h.6v4h.6v.3h.6v.1h.6v-.5h.6v.2h.6h.6v.5h.6h.6v-.2h.6v.2h.6v-1.6h.6v-.6h.6v-6.9h.6v-3.8h.6v11h.6v1.4h.6v.1h.6v.4h.6v-.7h.6h.6v.3h.6v.4h.6v-.6h.6v.5h.6v-.4h.6v.1h.6v.6h.6v.1h.6v-.8h.6h.6v-.4h.6v.6h.6v.4h.6v-.8h.6h.6v-.2h.6v-.4h.6v.7h.6v-.1h.6v.6h.6v.2h.6v-.2h.6v.2h.6h.6v.1h.6v.1h.6v-.7h.6v.1h.6v.1h.6v.2h.6v-.4h.6v.2h.6v-.5h.6v.5h.6v-.3h.6v.3h.6v.3h.6v.2h.6v-.2h.6v-.5h.6v.3h.6v-.2h.6v-.7h.6v-1.3h.6v1.3h.6v.6h.6v.4h.6v.1h.6v-.8h.6v.3h.6v-.3h.6v.4h.6v.2h.6v.1h.6v.2h.6h.6v-.3h.6v.1h.6v-.5h.6v.3h.6v-.9h.6v-.7h.6v1.1h.6v.4h.6v.2h.6v-.5h.6v.5h.6v-.1h.6v-.1h.6v.4h.6v-.5h.6v.2h.6v-.2h.6v-.4h.6v.7h.6v-1h.6v-1.6h.6v2.1h.6v-.3h.6v.4h.6v.1h.6v.1h.6v.3h.6v-.4h.6h.6v.4h.6v-3h.6v1.7h.6v.8h.6v.1h.6v.3h.6v-1.5h.6v1.9h.6v-.8h.6v-.1h.6v.3h.6v.4h.6v-.3h.6v.1h.6v-1.5h.6v-.8h.6v.6h.6v1.7h.6v-1h.6v.2h.6v.1h.6v-1.2h.6v1.2h.6v.6h.6v.1h.6v.1h.6v-.2h.6v-.2h.6v-.6h.6v.8h.6v.6h.6v-.1h.6v-.1h.6v-.4h.6h.6v.4h.6v-.7h.6v.4h.6v.2h.6v-.1h.6v.1h.6v-1.2h.6v.3h.6v.3h.6v.4h.6v.1h.6v-.3h.6v-.6h.6v1h.6v-1.6h.6v.7h.6v.3h.6v-1.7h.6v-1h.6v2.2h.6v.7h.6h.6v.4h.6v.2h.6v-.2h.6v-.8h.6v.3h.6v.4h.6v.1h.6h.6v.1h.6v-.2h.6v-.9h.6v.5h.6v-.4h.6h.6v.8h.6v.3h.6v.1h.6v-.6h.6v-.3h.6v.5h.6v-.1h.6v.2h.6v.2h.6v-.1h.6v-.1h.6v-.2h.6v.1h.6v-1.6h.6v.6h.6v1.2h.6v-.2h.6v-.5h.6v.1h.6v.2h.6v.2h.6v-.1h.6v-.2h.6v.4h.6v-.1h.6v.2h.6h.6v-.2h.6v-.1h.6v.3h.6v.1h.6v-.6h.6v-.2h.6h.6v.5h.6v-.4h.6v.3h.6v-.1h.6v-.6h.6v.4h.6v.2h.6v-.3h.6v-1.2h.6v1.1h.6v.8h.6v-.2h.6v.1h.6v-.4h.6h.6v.2h.6v-.4h.6v-2.2h.6v-.1h.6v2.1h.6v.8h.6v-.5h.6v-.2h.6v-.2h.6v.4h.6v-1.9h.6v2.4h.6v-.1h.6v.2h.6h.6v.1h.6v-.3h.6v-.2h.6v.2h.6v.2h.6v.2h.6v-2.3h.6v-2.4h.6v4.3h.6v-.8h.6v-.2h.6v.3h.6v.6h.6v-1h.6v.2h.6v1.1h.6v-.4h.6v.1h.6v-.5h.6v.5h.6h.6v-.3h.6v-.4h.6v-.4h.6v.7h.6v.6h.6v.2h.6v-1.2h.6v.3h.6v.6h.6v-.3h.6v-.3h.6v.3h.6v.2h.6v.2h.6v-.2h.6v.4h.6v-3.7h.6v3.8h.6h.6v-.3h.6v-1.7h.6v.9h.6v1h.6v-.4h.6v.2h.6v-.1h.6v-.3h.6v.4h.6v-.2h.6v-.1h.6v.2h.6v-3h.6v2.9h.6v.1h.6v-.4h.6v.4h.6h.6v.1h.6h.6v-.5h.6h.6v-.2h.6v-.2h.6v-.5h.6v.5h.6h.6v-.6h.6v1.1h.6v.5h.6v-.3h.6v.2h.6v.1h.6v-.4h.6v.3h.6h.6v-.4h.6v.2h.6v-.2h.6v.1h.6v-.4h.6v-.2h.6v.5h.6h.6v.3h.6v-.2h.6h.6v-.5h.6h.6v.2h.6v.2h.6v-.2h.6v.2h.6v.3h.6v-.4h.6v.3h.6v-1.3h.6v.7h.6v1h.6v-.2h.6v-1.3h.6v.9h.6v.6h.6v-.1h.6v-.3h.6v-.4h.6v.2h.6v.5h.6v-.6h.6v-.8h.6v1h.6v.6h.6v-.1h.6v-.7h.6v-.1h.6v.4h.6v.2h.6v-.7h.6v-.6h.6v.8h.6v.4h.6v-.1h.6v-.7h.6v-.1h.6v.8h.6v-.1h.6v.2h.6v-1.6h.6v.9h.6v1.1h.6v-1.1h.6v-.5h.6v.9h.6v.1h.6v.3h.6v.3h.6v-4.6h.6v3h.6v.9h.6v.5h.6v-.3h.6v-1.6h.6v1.5h.6v-.1h.6v-.4h.6v.5h.6v-.1h.6v.1h.6v.3h.6v-.3h.6v-.3h.6v.3h.6v.5h.6v-.1h.6h.6v.2h.6v-.2h.6v-.9h.6v.4h.6v-.2h.6v.4h.6h.6v-.6h.6v.1h.6v.5h.6h.6v.3h.6v.1h.6v-1h.6v-2.9h.6v2.2h.6v1.7h.6h.6v-.2h.6v-.1h.6v.1h.6v-.2h.6v-.6h.6v.1h.6h.6v.5h.6v.4h.6v-.1h.6v.1h.6v-.1h.6h.6v.1h.6h.6v-2.8h.6v2.8h.6v-.6h.6v-.8h.6v.8h.6v.7h.6v-.8h.6v-.9h.6v.8h.6v-.5h.6v.4h.6v.3h.6v.4h.6v.2h.6v.1h.6v-.1h.6v-.2h.6v.1h.6v-.3h.6v.1h.6v-.3h.6v-.1h.6v.1h.6v-.2h.6v.2h.6v.4h.6h.6v.1h.6v.2h.6v-.1h.6v-.5h.6v-.2h.6v-.5h.6v.6h.6v-2.7h.6v2.2h.6v-.5h.6v.8h.6v.3h.6v-.3h.6v-.2h.6v.2h.6v.5h.6v-.1h.6v-.4h.6v-.2h.6v.7h.6v-1.1h.6v.8h.6v.3h.6h.6v-.5h.6v.1h.6v.4h.6v-.8h.6v.6h.6v-.8h.6v.8h.6v.3h.6v.2h.6v-1.1h.6v-.4h.6v.8h.6v.3h.6v-.4h.6v.3h.6v.4h.6v-1.2h.6v1.3h.6v-.6h.6v-.2h.6h.6v.6h.6v.1h.6v-.5h.6v.1h.6v.2h.6v.2h.6v-.4h.6v.1h.6v.2h.6v-.2h.6v.3h.6v.2h.6v-.4h.6v-.3h.6v-1.4h.6v-.2h.6v.8h.6v.9h.6v.5h.6v-.2h.6v-.8h.6v.1h.6v.2h.6v.5h.6h.6v-.6h.6v.5h.6v.1h.6v.1h.6h.6v-.8h.6v.3h.6v.6h.6v-.3h.6v-.3h.6h.6v-1.7h.6v-.6h.6v-.5h.6v2.5h.6v.7h.6v-.1h.6v-.7h.6v.1h.6v.7h.6v.3h.6v-.4h.6v-.4h.6h.6v.5h.6v.2h.6h.6h.6v-.7h.6v-.5h.6v.6h.6v.3h.6v-.5h.6v.2h.6v.2h.6v.3h.6h.6v-.4h.6v-.1h.6v.3h.6v-.2h.6v-.3h.6v.6h.6h.6h.6v-.4h.6v.3h.6v-1.4h.6v.8h.6v.4h.6v.1h.6h.6v.3h.6v-.2h.6h.6v.3h.6h.6v-.1h.6v-.5h.6v-.1h.6v.4h.6v.2h.6v-.2h.6v.1h.6v-.1h.6v-.1h.6v-.6h.6v.3h.6v.5h.6h.6v-.2h.6v.2h.6v-.8h.6v.6h.6v.5h.6v-1.3h.6v.2h.6v.7h.6v.3h.6v.1h.6h.6v-.3h.6v-.2h.6v-.3h.6v.4h.6h.6v.1h.6v.2h.6h.6v-1h.6v.1h.6v.7h.6v-.6h.6v.4h.6v.1h.6h.6v-4.3h.6v1.3h.6h.6h.6v2.4h.6v.9h.6v-.2h.6v-.2h.6v-1.4h.6v1h.6v.9h.6h.6v-.1h.6v-.5h.6v-.1h.6v.4h.6v.1h.6v-.5h.6v-.2h.6v.5h.6h.6h.6v.3h.6v-.1h.6h.6v.1h.6v-.5h.6v.2h.6v-2.5h.6v2.1h.6v.2h.6v-.2h.6v.1h.6v.3h.6v-.5h.6v-.1h.6v.1h.6v-.1h.6v-.2h.6v.4h.6v.6h.6v.1h.6v.1h.6v-1h.6v-.2h.6v.8h.6v-.1h.6v.2h.6v.2h.6v-.5h.6v-.3h.6h.6v.6h.6v.3h.6v-.1h.6v-.7h.6v-.1h.6v-.4h.6v.7h.6v.6h.6h.6v-.2h.6v-1.5h.6v.9h.6v-1.5h.6v1.5h.6v.6h.6v-.4h.6v.3h.6v.3h.6v-.6h.6v.1h.6v.4h.6v-.4h.6v-.8h.6v.8h.6v.5h.6v-1.1h.6v.8h.6v.3h.6v-.2h.6v.1h.6v-.2h.6v-.1h.6v-.3h.6v-.8h.6v-.3h.6v-.7h.6v.3h.6v1.3h.6v.8h.6v-1.5h.6v.7h.6v.5h.6v-.4h.6v.5h.6v.3h.6v-.2h.6v-.2h.6v.1h.6v-2.5h.6v.8h.6v1.5h.6v.1h.6h.6v.3h.6v-.3h.6v.2h.6v.1h.6v-1h.6v.2h.6v-.2h.6v-1.3h.6v2.3h.6h.6v-.4h.6h.6v.2h.6h.6v-.5h.6v.2h.6v.1h.6v.2h.6v-1.7h.6v1.2h.6v-1.5h.6v1.3h.6v.3h.6v-.2h.6v-.5h.6v.9h.6v.5h.6v-.3h.6v-.1h.6v-.1h.6v.2h.6v-.4h.6v.1h.6v.3h.6v-2h.6v2h.6v.2h.6v.1h.6v-.9h.6v.3h.6v-1h.6v.1h.6v.9h.6h.6v-4.2h.6v4.2h.6v.3h.6v-4.9h.6v3.4h.6v.4h.6v.9h.6h.6v-.2h.6v.5h.6v.1h.6v-.3h.6v.2h.6v-.4h.6v-.1h.6v-.8h.6v.4h.6v.4h.6v.3h.6h.6v.1h.6v-1.4h.6v.7h.6v-.6h.6v.8h.6v.1h.6v-.1h.6h.6v-.4h.6v-.7h.6v1h.6v-.2h.6v.6h.6v-.2h.6v-.3h.6v.4h.6v-1.5h.6v.8h.6v.6h.6v.2h.6v-.3h.6v.2h.6v.5h.6v-.2h.6h.6v.1h.6v-.3h.6v.3h.6v.2h.6v-1.2h.6v-.1h.6v.6h.6v.6h.6v.1h.6v-.8h.6v-.1h.6v-.3h.6v.5h.6v-.3h.6v.2h.6v.7h.6v-.6h.6v-.1h.6v.1h.6v.2h.6h.6v-1.6h.6v1h.6v1.1h.6v-.6h.6v-.8h.6v.6h.6v.4h.6v.3h.6h.6v-.1h.6h.6v-.8h.6v.3h.6v-.2h.6v-.4h.6v.8h.6v-.1h.6h.6V322.9z" fill="#1212aa"/>
<path d="M111.5 352.4v-1.6h.6v-.3h.6v.1h.6v-.2h.6v.3h.6v.2h.6v-4.3h.6v4.1h.6v.1h.6v-.1h.6v.3h.6v-.3h.6v-.2h.6v.4h.6v.1h.6v-.1h.6v-.7h.6v.6h.6v-1.1h.6v1.2h.6h.6h.6v-.1h.6h.6v.1h.6v-.5h.6v-.8h.6v1.4h.6v-.3h.6v.2h.6v-.8h.6v.8h.6v-2.1h.6v1.7h.6v.5h.6v-1h.6v.6h.6v-.2h.6v.5h.6v-.3h.6v.4h.6v-.3h.6v.1h.6v.2h.6v-.6h.6v.4h.6v-.3h.6v-.1h.6v.3h.6v-.1h.6v.1h.6v-.1h.6v.3h.6v-.1h.6h.6v-1.3h.6v-.7h.6v2.1h.6h.6v-.1h.6v-.3h.6v-.4h.6v-.4h.6v-.7h.6v-12.4h.6v-9.9h.6v1.8h.6v7.5h.6v-7h.6v2.5h.6v10.1h.6v3.1h.6v5.1h.6v-1.9h.6v-4.2h.6v2.6h.6v3.4h.6v-1.3h.6v-4.9h.6v1.5h.6v-2.8h.6v-14.2h.6v-1.1h.6v9.8h.6v12.5h.6v.4h.6h.6v.8h.6v-1.4h.6v1.5h.6v-.7h.6v1.1h.6v-.2h.6v-.1h.6v-.4h.6v.4h.6v-.1h.6v-1.2h.6v-5.9h.6v-.1h.6v6.2h.6v.9h.6v-.1h.6v.4h.6h.6v.1h.6v-.1h.6v-.1h.6v-.2h.6v-.4h.6v-1.3h.6v-6.7h.6v-14.4h.6v-.5h.6v9.6h.6v12.5h.6v.2h.6v.9h.6h.6v.4h.6v-3.7h.6v3.2h.6v.7h.6v.1h.6v-.4h.6h.6v.1h.6v-.2h.6v.4h.6v-3.3h.6v2.4h.6v-1.2h.6v1.6h.6v.3h.6v.2h.6v-1.2h.6v1.1h.6v-1.1h.6v1h.6v-.9h.6v-.5h.6v-3.4h.6v2h.6v-10.5h.6v-1.5h.6v7.4h.6v2.7h.6v-.2h.6v3.7h.6v1.1h.6v-1.1h.6v1.3h.6h.6v-.3h.6v.4h.6v-.6h.6v.3h.6v-.2h.6v.6h.6v-.5h.6v.5h.6v-.5h.6v.5h.6v-1.2h.6v.9h.6h.6v-.1h.6v-.2h.6h.6v.6h.6v-.9h.6v.6h.6v-.7h.6v.9h.6v-.3h.6v-.1h.6v.4h.6v-.3h.6v-.2h.6v.5h.6h.6v-.5h.6v.3h.6v-1h.6v.8h.6v-2.2h.6v2.2h.6v-.4h.6v.4h.6v.3h.6v.1h.6v-1h.6v.5h.6v.5h.6v-.2h.6v-.4h.6v.2h.6v-.3h.6v.6h.6v.1h.6v-.1h.6v.2h.6v-1.3h.6v1.2h.6v-1.9h.6v1.6h.6v-.8h.6v.7h.6v.4h.6h.6v-.9h.6v.9h.6h.6h.6v-.3h.6v-.4h.6h.6v-.3h.6v-2.5h.6v3.3h.6v-.3h.6v.4h.6v-.2h.6v-.5h.6v.5h.6v.2h.6v-.5h.6v.2h.6v-.6h.6v-.7h.6v-6.3h.6v-14.3h.6v-2.3h.6v6.7h.6v15h.6v1.6h.6v.2h.6v.8h.6v.1h.6v-.5h.6v-.4h.6v-.6h.6v-5.5h.6v-15.2h.6v-2.2h.6v6.4h.6v14.4h.6v2.6h.6v.5h.6v-1.5h.6v1.9h.6v.2h.6v.2h.6v-.1h.6v.1h.6v-.2h.6v-.2h.6v-.1h.6v.3h.6v-1.3h.6v.4h.6v.9h.6v.1h.6v-.1h.6v-1.9h.6v2h.6v-.2h.6v-1.3h.6v.9h.6v.7h.6v-.3h.6v-.5h.6v.7h.6v-.5h.6v-.8h.6v.8h.6h.6v.1h.6v-2.6h.6v2.3h.6v-2.8h.6v3.4h.6v-.3h.6v.2h.6v-.1h.6v-.2h.6v.4h.6v-.1h.6v-.3h.6v-.5h.6v-1.2h.6v-10.6h.6v-11.5h.6v-.3h.6v12.2h.6v10.5h.6v-.1h.6v1.3h.6v-.3h.6v.6h.6v-.1h.6v.5h.6v-.1h.6v-.3h.6v.5h.6v-.3h.6v-.5h.6v.6h.6v-.6h.6v.4h.6v.2h.6v-.2h.6v-.1h.6v.2h.6v-.6h.6v-.6h.6v-2.5h.6v-7.1h.6v1.2h.6v8.1h.6v.9h.6v.3h.6h.6v-.3h.6v.7h.6v-.3h.6v.4h.6v-.2h.6v-.1h.6v-.6h.6v.2h.6v.5h.6v.2h.6h.6v-.9h.6v.4h.6v.3h.6v-.1h.6v.1h.6v-.3h.6v.5h.6v-.3h.6v.1h.6v.2h.6h.6v-.5h.6v-.2h.6v.3h.6v-.3h.6v-.3h.6v-.6h.6v-11.2h.6v-11.8h.6h.6v10.8h.6v12.1h.6v-.6h.6v1h.6v.8h.6v.3h.6h.6v.1h.6v.1h.6v-1h.6v.8h.6v-.4h.6v-.7h.6v1.1h.6v.2h.6v-.1h.6v.1h.6v-.8h.6v.4h.6v.3h.6v-.2h.6v-.6h.6h.6v.7h.6v-2.9h.6v3.1h.6v-.4h.6v-1.3h.6v.6h.6v.7h.6v.5h.6v-.8h.6v.2h.6v-1.1h.6v1.6h.6v-.6h.6v.3h.6v.3h.6h.6v-.7h.6v.3h.6v.2h.6v.2h.6v-.8h.6v.4h.6v.4h.6v-.1h.6v-.2h.6v.4h.6v-.2h.6v-.1h.6v-.3h.6v-.4h.6h.6v-.7h.6v-6.6h.6v-8.5h.6v.6h.6v12.1h.6v2.5h.6v-9h.6v-.9h.6v6.7h.6v-.8h.6v4.8h.6v.2h.6v.1h.6v.1h.6v.1h.6v-.5h.6v.1h.6v-.5h.6v-1.3h.6v-12.4h.6v-4.4h.6v4.8h.6v12.4h.6v1h.6v.3h.6v-.1h.6v.5h.6v.2h.6v-.6h.6v-.3h.6v.3h.6v-3.4h.6v-5.8h.6v-3.1h.6v6.6h.6v5.5h.6v-.5h.6v1h.6v-.8h.6v1.2h.6v-.6h.6v.4h.6v-.4h.6v.1h.6v-4h.6v-1.8h.6v2.3h.6v3.1h.6v.5h.6v.1h.6v-.1h.6h.6h.6v-.6h.6v1.1h.6v-.4h.6v.1h.6v-.2h.6v-.3h.6h.6v-.6h.6v-1h.6v-8.6h.6v-6h.6v2.5h.6v11.8h.6v.7h.6v1.3h.6h.6v.1h.6h.6v-.6h.6v.6h.6v-1h.6v.5h.6v-.9h.6v-10.3h.6v-12.3h.6v.2h.6v11.4h.6v11.3h.6v-1.2h.6v1.6h.6v.6h.6v-.8h.6v-1.4h.6v2.4h.6v.2h.6h.6v-.3h.6v-.1h.6v-3.4h.6v3.9h.6v.2h.6v-.9h.6v-1h.6v.5h.6v1h.6h.6v-1.1h.6v1h.6v-.6h.6v1h.6h.6v-.1h.6v-.1h.6v-1.3h.6v1.5h.6v-2.9h.6v2.9h.6v-1.3h.6v1.2h.6v.1h.6v-1.5h.6v1.5h.6v-1h.6v1h.6h.6v-.1h.6v.2h.6v-.5h.6v.3h.6v-.4h.6v.5h.6v-.2h.6v-.4h.6v.6h.6v-.1h.6v.2h.6h.6v-.3h.6v.2h.6v-.2h.6v.1h.6v.1h.6v-.3h.6v.2h.6v-.6h.6v-.4h.6v-.6h.6v-.8h.6v-13.2h.6v-8.9h.6v1.1h.6v12.9h.6v7.6h.6v1.6h.6v-.9h.6v.7h.6v-.3h.6v1.8h.6v-.6h.6v-.1h.6v.4h.6v.1h.6v.3h.6v-1h.6v.9h.6h.6v-.6h.6h.6v.1h.6v-.4h.6v-.5h.6v-7.9h.6v-14h.6v-1.2h.6v2h.6v3.5h.6v13.4h.6v-.4h.6v-8.3h.6v1.9h.6v8.8h.6v-5.3h.6v.4h.6v6.9h.6v.9h.6v-1.6h.6v-11.4h.6v-2.3h.6v6.2h.6v8.3h.6v.4h.6v-4.3h.6v4.9h.6v-.1h.6v.5h.6v-.2h.6v.5h.6v-.2h.6v-3.3h.6v3h.6v-.1h.6v-2.7h.6v1.8h.6v-2.5h.6v-13.9h.6v-6.8h.6v2.1h.6v15.1h.6v5.6h.6v.6h.6v.5h.6v-.1h.6v.1h.6v.1h.6v.4h.6h.6v.1h.6h.6v-.6h.6v-.5h.6v1.1h.6v-.7h.6v.4h.6v.2h.6v.3h.6v-.6h.6v.5h.6v-.2h.6v-.4h.6h.6v.4h.6v-1.2h.6v.5h.6v.3h.6v-5.3h.6v-2.1h.6v3.4h.6v3.7h.6h.6v.2h.6v.6h.6h.6v.1h.6v-.5h.6v.6h.6v-.1h.6v-.3h.6v-.1h.6v.1h.6v.1h.6v-.9h.6v.9h.6v.2h.6v-.3h.6v.1h.6v-.1h.6v-1.2h.6v1.3h.6v.3h.6v-1h.6v.2h.6v.6h.6v.2h.6v-.5h.6v.3h.6v-.9h.6v1.1h.6v-.7h.6v.6h.6v-1.1h.6v.1h.6v1h.6v.1h.6v-.5h.6v-.3h.6v.5h.6h.6v.1h.6v-.6h.6v.6h.6v.1h.6v-.1h.6v-.2h.6v.1h.6v.2h.6h.6v-.9h.6v-.1h.6v.7h.6v-1.6h.6v-1.7h.6v-4.4h.6v1.1h.6v5.6h.6v.6h.6v.4h.6v-.2h.6v.4h.6v-.1h.6h.6v-.2h.6v.4h.6v-.1h.6v-.2h.6v-.4h.6v-.3h.6v-7.3h.6v-7h.6v-.1h.6v9.3h.6v4.7h.6v-10.9h.6v-8.7h.6v1.5h.6v12.8h.6v-.5h.6v-1.4h.6v6.2h.6v1.8h.6v.1h.6v-1.4h.6v1.2h.6v.5h.6v.1h.6h.6v-.3h.6v.1h.6v-1h.6v.1h.6v1.3h.6v-.8h.6v.2h.6v.5h.6h.6v-.4h.6v.5h.6h.6v-.1h.6v-.1h.6v-1.5h.6v1.6h.6h.6v-.9h.6v.2h.6v-.1h.6v.1h.6v-5.9h.6v.1h.6v-.5h.6v5h.6v1.3h.6h.6v.3h.6v.2h.6v.1h.6v.1h.6h.6v-1.5h.6v1.4h.6v-.1h.6v-.2h.6v-.9h.6v-.2h.6v-5.4h.6v-15.9h.6v-1.8h.6v1.8h.6v-1.8h.6v6.6h.6v15.1h.6v1.6h.6v.1h.6v.7h.6v.3h.6h.6v.3h.6v-.2h.6v-.1h.6v-.7h.6v.9h.6v-.2h.6v-.1h.6v.2h.6v.2h.6v-.7h.6v.1h.6v.4h.6h.6v.2h.6v-3h.6v2.9h.6v-.2h.6v-.3h.6v.1h.6h.6v.1h.6v-1h.6v.9h.6v-.5h.6v.2h.6v-6.5h.6v-1h.6v4.9h.6v-1h.6v-4.3h.6v4.4h.6v3.2h.6v-.2h.6v-4.8h.6v-14.6h.6v-3h.6v7.7h.6v3.4h.6v-6.8h.6v2.9h.6v12.4h.6v2.9h.6v.3h.6v.2h.6v.2h.6h.6v.2h.6v-.2h.6h.6v.4h.6v-1.8h.6v1.6h.6v.2h.6v-.1h.6v.2h.6v-.1h.6v-.5h.6v.3h.6v.1h.6v.1h.6v-.6h.6v.2h.6v.3h.6v-.2h.6v-.5h.6v.5h.6v-.1h.6v.4h.6v-.3h.6v.4h.6v-.9h.6v.6h.6v-1.1h.6v.6h.6v-.2h.6v-2.1h.6v-10.4h.6v-1.2h.6v10.6h.6v2.9h.6v-2.1h.6v2.6h.6v-1h.6v1.6h.6v-.8h.6v.6h.6v-7.1h.6v6.9h.6v.2h.6v-.7h.6v.9h.6h.6v-.2h.6v-4.5h.6v4.2h.6v-.2h.6v-2.5h.6v-7.3h.6v-.3h.6v7.8h.6v1.5h.6v.8h.6v-.1h.6v-1.4h.6v-2.5h.6v-15.6h.6v-4.3h.6v3.6h.6v16.3h.6v3.2h.6v.2h.6v.8h.6v-1.5h.6v1.7h.6v.1h.6v.1h.6v-4.1h.6v3.2h.6h.6v-.3h.6v-.5h.6v.2h.6v1.3h.6v-2h.6v1.7h.6v-.6h.6v.9h.6v-2.1h.6v-3.5h.6v1.2h.6v4.1h.6v.2h.6v-.2h.6v.4h.6v.1h.6v.1h.6v-.3h.6v-.1h.6v.2h.6v-.3h.6v.5h.6v-.2h.6v-1.4h.6v1.4h.6v.2h.6v-.1h.6h.6V352.4z" fill="#1c9e9e"/>
<path d="M111.7 366.7H149.6M153.4 366.7H181.8M183.2 366.7H197.8M200.7 366.7H248.9M265.0 366.7H286.9M289.8 366.7H303.1M306.0 366.7H323.6M328.0 366.7H357.2M363.0 366.7H373.5M403.3 366.7H413.2M459.3 366.7H475.4M488.5 366.7H531.0M531.0 366.7H599.7M602.6 366.7H621.6M641.5 366.7H665.4" stroke="#1212b4" stroke-width="0.9" fill="none"/>
<rect x="121.2" y="363.20" width="2.0" height="7.0" fill="#1212b4"/>
<rect x="124.0" y="363.20" width="1.7" height="7.0" fill="#1212b4"/>
<rect x="128.4" y="363.20" width="1.8" height="7.0" fill="#1212b4"/>
<rect x="131.3" y="363.20" width="1.7" height="7.0" fill="#1212b4"/>
<rect x="135.6" y="363.20" width="2.0" height="7.0" fill="#1212b4"/>
<rect x="138.3" y="363.20" width="2.1" height="7.0" fill="#1212b4"/>
<rect x="142.1" y="363.20" width="2.4" height="7.0" fill="#1212b4"/>
<rect x="144.7" y="363.20" width="2.6" height="7.0" fill="#1212b4"/>
<rect x="147.3" y="363.20" width="2.5" height="7.0" fill="#1212b4"/>
<rect x="153.2" y="363.20" width="1.7" height="7.0" fill="#1212b4"/>
<rect x="155.3" y="363.20" width="3.1" height="7.0" fill="#1212b4"/>
<rect x="158.8" y="363.20" width="1.8" height="7.0" fill="#1212b4"/>
<rect x="161.1" y="363.20" width="2.0" height="7.0" fill="#1212b4"/>
<rect x="171.2" y="363.20" width="5.2" height="7.0" fill="#1212b4"/>
<rect x="180.3" y="363.20" width="1.7" height="7.0" fill="#1212b4"/>
<rect x="182.9" y="363.20" width="1.5" height="7.0" fill="#1212b4"/>
<rect x="185.1" y="363.20" width="3.4" height="7.0" fill="#1212b4"/>
<rect x="188.7" y="363.20" width="3.6" height="7.0" fill="#1212b4"/>
<rect x="192.6" y="363.20" width="1.9" height="7.0" fill="#1212b4"/>
<rect x="194.8" y="363.20" width="3.3" height="7.0" fill="#1212b4"/>
<rect x="200.4" y="363.20" width="1.4" height="7.0" fill="#1212b4"/>
<rect x="203.2" y="363.20" width="1.3" height="7.0" fill="#1212b4"/>
<rect x="209.2" y="363.20" width="2.5" height="7.0" fill="#1212b4"/>
<rect x="212.1" y="363.20" width="2.5" height="7.0" fill="#1212b4"/>
<rect x="214.8" y="363.20" width="2.5" height="7.0" fill="#1212b4"/>
<rect x="221.6" y="363.20" width="1.7" height="7.0" fill="#1212b4"/>
<rect x="224.2" y="363.20" width="1.7" height="7.0" fill="#1212b4"/>
<rect x="228.2" y="363.20" width="3.0" height="7.0" fill="#1212b4"/>
<rect x="231.3" y="363.20" width="4.7" height="7.0" fill="#1212b4"/>
<rect x="238.4" y="363.20" width="2.3" height="7.0" fill="#1212b4"/>
<rect x="240.9" y="363.20" width="3.8" height="7.0" fill="#1212b4"/>
<rect x="247.9" y="363.20" width="1.2" height="7.0" fill="#1212b4"/>
<rect x="264.8" y="363.20" width="3.3" height="7.0" fill="#1212b4"/>
<rect x="274.9" y="365.10" width="1.7" height="3.2" fill="#1212b4"/>
<rect x="289.6" y="363.20" width="2.2" height="7.0" fill="#1212b4"/>
<rect x="292.2" y="363.20" width="2.0" height="7.0" fill="#1212b4"/>
<rect x="294.9" y="363.20" width="3.1" height="7.0" fill="#1212b4"/>
<rect x="298.8" y="363.20" width="1.7" height="7.0" fill="#1212b4"/>
<rect x="301.1" y="363.20" width="2.3" height="7.0" fill="#1212b4"/>
<rect x="305.8" y="363.20" width="6.3" height="7.0" fill="#1212b4"/>
<rect x="315.6" y="365.10" width="1.5" height="3.2" fill="#1212b4"/>
<rect x="322.8" y="363.20" width="1.3" height="7.0" fill="#1212b4"/>
<rect x="327.8" y="363.20" width="3.3" height="7.0" fill="#1212b4"/>
<rect x="331.4" y="363.20" width="2.7" height="7.0" fill="#1212b4"/>
<rect x="334.2" y="363.20" width="2.7" height="7.0" fill="#1212b4"/>
<rect x="340.8" y="363.20" width="5.0" height="7.0" fill="#1212b4"/>
<rect x="352.2" y="364.60" width="2.8" height="4.2" fill="#1212b4"/>
<rect x="355.6" y="364.60" width="1.9" height="4.2" fill="#1212b4"/>
<rect x="364.1" y="363.20" width="2.2" height="7.0" fill="#1212b4"/>
<rect x="366.4" y="363.20" width="3.7" height="7.0" fill="#1212b4"/>
<rect x="370.2" y="364.60" width="1.8" height="4.2" fill="#1212b4"/>
<rect x="403.1" y="363.20" width="2.4" height="7.0" fill="#1212b4"/>
<rect x="405.9" y="363.20" width="1.3" height="7.0" fill="#1212b4"/>
<rect x="407.9" y="363.20" width="5.5" height="7.0" fill="#1212b4"/>
<rect x="434.2" y="363.20" width="2.0" height="7.0" fill="#1212b4"/>
<rect x="436.2" y="363.20" width="5.8" height="7.0" fill="#1212b4"/>
<rect x="459.1" y="363.20" width="2.0" height="7.0" fill="#1212b4"/>
<rect x="462.8" y="363.20" width="1.8" height="7.0" fill="#1212b4"/>
<rect x="466.9" y="363.20" width="1.9" height="7.0" fill="#1212b4"/>
<rect x="469.4" y="363.20" width="2.2" height="7.0" fill="#1212b4"/>
<rect x="471.9" y="363.20" width="1.5" height="7.0" fill="#1212b4"/>
<rect x="473.8" y="363.20" width="1.9" height="7.0" fill="#1212b4"/>
<rect x="494.8" y="365.10" width="1.5" height="3.2" fill="#1212b4"/>
<rect x="502.8" y="363.20" width="1.7" height="7.0" fill="#1212b4"/>
<rect x="509.1" y="364.90" width="1.9" height="3.6" fill="#1212b4"/>
<rect x="522.0" y="363.20" width="2.2" height="7.0" fill="#1212b4"/>
<rect x="524.4" y="363.20" width="1.9" height="7.0" fill="#1212b4"/>
<rect x="526.4" y="363.20" width="4.5" height="7.0" fill="#1212b4"/>
<rect x="533.8" y="363.20" width="1.7" height="7.0" fill="#1212b4"/>
<rect x="535.8" y="363.20" width="2.5" height="7.0" fill="#1212b4"/>
<rect x="539.0" y="363.20" width="1.9" height="7.0" fill="#1212b4"/>
<rect x="541.4" y="363.20" width="1.9" height="7.0" fill="#1212b4"/>
<rect x="544.0" y="363.20" width="1.5" height="7.0" fill="#1212b4"/>
<rect x="546.2" y="363.20" width="1.8" height="7.0" fill="#1212b4"/>
<rect x="548.4" y="363.20" width="1.9" height="7.0" fill="#1212b4"/>
<rect x="552.1" y="363.20" width="1.7" height="7.0" fill="#1212b4"/>
<rect x="554.4" y="363.20" width="2.1" height="7.0" fill="#1212b4"/>
<rect x="557.1" y="363.20" width="1.9" height="7.0" fill="#1212b4"/>
<rect x="559.4" y="363.20" width="2.1" height="7.0" fill="#1212b4"/>
<rect x="562.1" y="363.20" width="2.1" height="7.0" fill="#1212b4"/>
<rect x="564.8" y="363.20" width="3.1" height="7.0" fill="#1212b4"/>
<rect x="567.4" y="363.20" width="6.3" height="7.0" fill="#1212b4"/>
<rect x="575.5" y="363.20" width="2.7" height="7.0" fill="#1212b4"/>
<rect x="578.4" y="363.20" width="3.9" height="7.0" fill="#1212b4"/>
<rect x="582.4" y="363.20" width="5.9" height="7.0" fill="#1212b4"/>
<rect x="588.4" y="363.20" width="3.9" height="7.0" fill="#1212b4"/>
<rect x="592.4" y="363.20" width="3.3" height="7.0" fill="#1212b4"/>
<rect x="595.8" y="363.20" width="4.2" height="7.0" fill="#1212b4"/>
<rect x="613.2" y="364.60" width="1.8" height="4.2" fill="#1212b4"/>
<rect x="619.5" y="365.10" width="2.3" height="3.2" fill="#1212b4"/>
<rect x="641.2" y="363.20" width="3.5" height="7.0" fill="#1212b4"/>
<rect x="645.4" y="363.20" width="1.5" height="7.0" fill="#1212b4"/>
<rect x="648.4" y="363.20" width="1.9" height="7.0" fill="#1212b4"/>
<rect x="651.4" y="363.20" width="2.1" height="7.0" fill="#1212b4"/>
<rect x="654.1" y="363.20" width="2.1" height="7.0" fill="#1212b4"/>
<rect x="657.1" y="363.20" width="1.7" height="7.0" fill="#1212b4"/>
<rect x="659.4" y="363.20" width="2.5" height="7.0" fill="#1212b4"/>
<rect x="663.4" y="363.20" width="2.3" height="7.0" fill="#1212b4"/>
<text x="132.4" y="379.0" font-size="6.1" fill="#000" stroke="#000" text-anchor="middle">NCAPD2</text>
<text x="157.8" y="379.0" font-size="6.1" fill="#000" stroke="#000" text-anchor="middle">GAPDH</text>
<text x="191.2" y="379.0" font-size="6.1" fill="#000" stroke="#000" text-anchor="middle">NOP2</text>
<text x="225.5" y="379.0" font-size="6.1" fill="#000" stroke="#000" text-anchor="middle">CHD4</text>
<text x="274.0" y="379.0" font-size="6.1" fill="#000" stroke="#000" text-anchor="middle">LPAR5</text>
<text x="297.4" y="379.0" font-size="6.1" fill="#000" stroke="#000" text-anchor="middle">ACRBP</text>
<text x="343.5" y="379.0" font-size="6.1" fill="#000" stroke="#000" text-anchor="middle">ZNF384</text>
<text x="368.5" y="379.0" font-size="6.1" fill="#000" stroke="#000" text-anchor="middle">PIANP</text>
<text x="410.0" y="379.0" font-size="6.1" fill="#000" stroke="#000" text-anchor="middle">COPS7A</text>
<text x="438.6" y="379.0" font-size="6.1" fill="#000" stroke="#000" text-anchor="middle">MLF2</text>
<text x="463.0" y="379.0" font-size="6.1" fill="#000" stroke="#000" text-anchor="middle">PTMS</text>
<text x="510.6" y="379.0" font-size="6.1" fill="#000" stroke="#000" text-anchor="middle">CD4</text>
<text x="536.9" y="379.0" font-size="6.1" fill="#000" stroke="#000" text-anchor="middle">GPR162</text>
<text x="563.0" y="379.0" font-size="6.1" fill="#000" stroke="#000" text-anchor="middle">GNB3</text>
<text x="582.4" y="379.0" font-size="6.1" fill="#000" stroke="#000" text-anchor="middle">USP5</text>
<text x="614.1" y="379.0" font-size="6.1" fill="#000" stroke="#000" text-anchor="middle">NR_135083.1</text>
<text x="649.0" y="379.0" font-size="6.1" fill="#000" stroke="#000" text-anchor="middle">LRRC23</text>
</g>
<g id="panel-b">
<text x="2.4" y="415.3" font-size="18.3" fill="#231815" font-weight="bold">b</text>
<text x="166.6" y="413.8" font-size="10.0" fill="#0a0a0a" stroke="#0a0a0a" text-anchor="middle">RNA Pol II</text>
<text x="73.8" y="427.0" font-size="7.2" fill="#0a0a0a" stroke="#0a0a0a" text-anchor="middle">CUT&amp;Tag</text>
<path d="M31.9 430.2H109.5" stroke="#3a3535" stroke-width="1.1"/>
<text x="172.7" y="427.0" font-size="7.2" fill="#0a0a0a" stroke="#0a0a0a" text-anchor="middle">Nano-CUT&amp;Tag</text>
<path d="M131.2 430.2H208.8" stroke="#969292" stroke-width="1.5"/>
<text x="265.4" y="427.0" font-size="7.2" fill="#0a0a0a" stroke="#0a0a0a" text-anchor="middle">Af-CUT&amp;Tag</text>
<path d="M223.5 430.2H301.1" stroke="#969292" stroke-width="1.5"/>
<text x="47.1" y="437.6" font-size="7.2" fill="#2ea7e8" stroke="#2ea7e8" text-anchor="middle">Rep1</text>
<text x="97.3" y="437.6" font-size="7.2" fill="#2ea7e8" stroke="#2ea7e8" text-anchor="middle">Rep2</text>
<text x="145.2" y="437.6" font-size="7.2" fill="#a565c5" stroke="#a565c5" text-anchor="middle">Rep1</text>
<text x="191.1" y="437.6" font-size="7.2" fill="#a565c5" stroke="#a565c5" text-anchor="middle">Rep2</text>
<text x="243.6" y="437.6" font-size="7.2" fill="#f0804e" stroke="#f0804e" text-anchor="middle">Rep1</text>
<text x="290.5" y="437.6" font-size="7.2" fill="#f0804e" stroke="#f0804e" text-anchor="middle">Rep2</text>
<g transform="translate(24.5 439.5)">
<use href="#hr" y="0" fill="url(#p2)"/>
<use href="#hr" y="1" fill="url(#p3)"/>
<use href="#hr" y="2" fill="url(#p4)"/>
<use href="#hr" y="3" fill="url(#p5)"/>
<use href="#hr" y="4" fill="url(#p6)"/>
<use href="#hr" y="5" fill="url(#p6)"/>
<use href="#hr" y="6" fill="url(#p12)"/>
<use href="#hr" y="7" fill="url(#p6)"/>
<use href="#hr" y="8" fill="url(#p8)"/>
<use href="#hr" y="9" fill="url(#p8)"/>
<use href="#hr" y="10" fill="url(#p10)"/>
<use href="#hr" y="11" fill="url(#p9)"/>
<use href="#hr" y="12" fill="url(#p10)"/>
<use href="#hr" y="13" fill="url(#p10)"/>
<use href="#hr" y="14" fill="url(#p10)"/>
<use href="#hr" y="15" fill="url(#p11)"/>
<use href="#hr" y="16" fill="url(#p10)"/>
<use href="#hr" y="17" fill="url(#p11)"/>
<use href="#hr" y="18" fill="url(#p10)"/>
<use href="#hr" y="19" fill="url(#p12)"/>
<use href="#hr" y="20" fill="url(#p11)"/>
<use href="#hr" y="21" fill="url(#p12)"/>
<use href="#hr" y="22" fill="url(#p12)"/>
<use href="#hr" y="23" fill="url(#p13)"/>
<use href="#hr" y="24" fill="url(#p12)"/>
<use href="#hr" y="25" fill="url(#p15)"/>
<use href="#hr" y="26" fill="url(#p13)"/>
<use href="#hr" y="27" fill="url(#p13)"/>
<use href="#hr" y="28" fill="url(#p16)"/>
<use href="#hr" y="29" fill="url(#p13)"/>
<use href="#hr" y="30" fill="url(#p15)"/>
<use href="#hr" y="31" fill="url(#p16)"/>
<use href="#hr" y="32" fill="url(#p15)"/>
<use href="#hr" y="33" fill="url(#p18)"/>
<use href="#hr" y="34" fill="url(#p15)"/>
<use href="#hr" y="35" fill="url(#p16)"/>
<use href="#hr" y="36" fill="url(#p16)"/>
<use href="#hr" y="37" fill="url(#p15)"/>
<use href="#hr" y="38" fill="url(#p17)"/>
<use href="#hr" y="39" fill="url(#p18)"/>
<use href="#hr" y="40" fill="url(#p17)"/>
<use href="#hr" y="41" fill="url(#p18)"/>
<use href="#hr" y="42" fill="url(#p18)"/>
<use href="#hr" y="43" fill="url(#p18)"/>
<use href="#hr" y="44" fill="url(#p19)"/>
<use href="#hr" y="45" fill="url(#p19)"/>
<use href="#hr" y="46" fill="url(#p17)"/>
<use href="#hr" y="47" fill="url(#p19)"/>
<use href="#hr" y="48" fill="url(#p19)"/>
<use href="#hr" y="49" fill="url(#p18)"/>
<use href="#hr" y="50" fill="url(#p19)"/>
<use href="#hr" y="51" fill="url(#p19)"/>
<use href="#hr" y="52" fill="url(#p21)"/>
<use href="#hr" y="53" fill="url(#p20)"/>
<use href="#hr" y="54" fill="url(#p21)"/>
<use href="#hr" y="55" fill="url(#p21)"/>
<use href="#hr" y="56" fill="url(#p21)"/>
<use href="#hr" y="57" fill="url(#p21)"/>
<use href="#hr" y="58" fill="url(#p21)"/>
<use href="#hr" y="59" fill="url(#p21)"/>
<use href="#hr" y="60" fill="url(#p21)"/>
<use href="#hr" y="61" fill="url(#p22)"/>
<use href="#hr" y="62" fill="url(#p20)"/>
<use href="#hr" y="63" fill="url(#p22)"/>
<use href="#hr" y="64" fill="url(#p21)"/>
<use href="#hr" y="65" fill="url(#p22)"/>
<use href="#hr" y="66" fill="url(#p23)"/>
<use href="#hr" y="67" fill="url(#p22)"/>
<use href="#hr" y="68" fill="url(#p22)"/>
<use href="#hr" y="69" fill="url(#p21)"/>
<use href="#hr" y="70" fill="url(#p22)"/>
<use href="#hr" y="71" fill="url(#p21)"/>
<use href="#hr" y="72" fill="url(#p23)"/>
<use href="#hr" y="73" fill="url(#p23)"/>
<use href="#hr" y="74" fill="url(#p23)"/>
<use href="#hr" y="75" fill="url(#p22)"/>
<use href="#hr" y="76" fill="url(#p23)"/>
<use href="#hr" y="77" fill="url(#p25)"/>
<use href="#hr" y="78" fill="url(#p24)"/>
<use href="#hr" y="79" fill="url(#p23)"/>
<use href="#hr" y="80" fill="url(#p25)"/>
<use href="#hr" y="81" fill="url(#p24)"/>
<use href="#hr" y="82" fill="url(#p23)"/>
<use href="#hr" y="83" fill="url(#p26)"/>
<use href="#hr" y="84" fill="url(#p25)"/>
<use href="#hr" y="85" fill="url(#p24)"/>
<use href="#hr" y="86" fill="url(#p25)"/>
<use href="#hr" y="87" fill="url(#p25)"/>
<use href="#hr" y="88" fill="url(#p23)"/>
<use href="#hr" y="89" fill="url(#p27)"/>
<use href="#hr" y="90" fill="url(#p24)"/>
<use href="#hr" y="91" fill="url(#p25)"/>
<use href="#hr" y="92" fill="url(#p26)"/>
<use href="#hr" y="93" fill="url(#p26)"/>
<use href="#hr" y="94" fill="url(#p26)"/>
<use href="#hr" y="95" fill="url(#p27)"/>
<use href="#hr" y="96" fill="url(#p26)"/>
<use href="#hr" y="97" fill="url(#p26)"/>
<use href="#hr" y="98" fill="url(#p28)"/>
<use href="#hr" y="99" fill="url(#p28)"/>
<use href="#hr" y="100" fill="url(#p26)"/>
<use href="#hr" y="101" fill="url(#p27)"/>
<use href="#hr" y="102" fill="url(#p28)"/>
<use href="#hr" y="103" fill="url(#p27)"/>
<use href="#hr" y="104" fill="url(#p27)"/>
<use href="#hr" y="105" fill="url(#p27)"/>
<use href="#hr" y="106" fill="url(#p30)"/>
<use href="#hr" y="107" fill="url(#p27)"/>
<use href="#hr" y="108" fill="url(#p28)"/>
<use href="#hr" y="109" fill="url(#p29)"/>
<use href="#hr" y="110" fill="url(#p29)"/>
<use href="#hr" y="111" fill="url(#p28)"/>
<use href="#hr" y="112" fill="url(#p28)"/>
<use href="#hr" y="113" fill="url(#p30)"/>
<use href="#hr" y="114" fill="url(#p29)"/>
<use href="#hr" y="115" fill="url(#p29)"/>
<use href="#hr" y="116" fill="url(#p29)"/>
<use href="#hr" y="117" fill="url(#p29)"/>
<use href="#hr" y="118" fill="url(#p29)"/>
<use href="#hr" y="119" fill="url(#p31)"/>
<use href="#hr" y="120" fill="url(#p27)"/>
<use href="#hr" y="121" fill="url(#p30)"/>
<use href="#hr" y="122" fill="url(#p31)"/>
<use href="#hr" y="123" fill="url(#p30)"/>
<use href="#hr" y="124" fill="url(#p32)"/>
<use href="#hr" y="125" fill="url(#p30)"/>
<use href="#hr" y="126" fill="url(#p30)"/>
<use href="#hr" y="127" fill="url(#p29)"/>
<use href="#hr" y="128" fill="url(#p30)"/>
<use href="#hr" y="129" fill="url(#p33)"/>
<use href="#hr" y="130" fill="url(#p32)"/>
<use href="#hr" y="131" fill="url(#p32)"/>
<use href="#hr" y="132" fill="url(#p32)"/>
<use href="#hr" y="133" fill="url(#p31)"/>
<use href="#hr" y="134" fill="url(#p31)"/>
<use href="#hr" y="135" fill="url(#p32)"/>
<use href="#hr" y="136" fill="url(#p31)"/>
<use href="#hr" y="137" fill="url(#p31)"/>
<use href="#hr" y="138" fill="url(#p32)"/>
<use href="#hr" y="139" fill="url(#p33)"/>
<use href="#hr" y="140" fill="url(#p32)"/>
<use href="#hr" y="141" fill="url(#p33)"/>
<use href="#hr" y="142" fill="url(#p32)"/>
<use href="#hr" y="143" fill="url(#p31)"/>
<use href="#hr" y="144" fill="url(#p33)"/>
<use href="#hr" y="145" fill="url(#p32)"/>
<use href="#hr" y="146" fill="url(#p34)"/>
<use href="#hr" y="147" fill="url(#p33)"/>
<use href="#hr" y="148" fill="url(#p34)"/>
<use href="#hr" y="149" fill="url(#p31)"/>
<use href="#hr" y="150" fill="url(#p33)"/>
<use href="#hr" y="151" fill="url(#p33)"/>
<use href="#hr" y="152" fill="url(#p34)"/>
<use href="#hr" y="153" fill="url(#p33)"/>
<use href="#hr" y="154" fill="url(#p33)"/>
<use href="#hr" y="155" fill="url(#p34)"/>
<use href="#hr" y="156" fill="url(#p34)"/>
<use href="#hr" y="157" fill="url(#p35)"/>
<use href="#hr" y="158" fill="url(#p35)"/>
<use href="#hr" y="159" fill="url(#p33)"/>
<use href="#hr" y="160" fill="url(#p33)"/>
<use href="#hr" y="161" fill="url(#p33)"/>
<use href="#hr" y="162" fill="url(#p35)"/>
<use href="#hr" y="163" fill="url(#p33)"/>
<use href="#hr" y="164" fill="url(#p34)"/>
<use href="#hr" y="165" fill="url(#p34)"/>
<use href="#hr" y="166" fill="url(#p34)"/>
<use href="#hr" y="167" fill="url(#p34)"/>
<use href="#hr" y="168" fill="url(#p34)"/>
<use href="#hr" y="169" fill="url(#p36)"/>
<use href="#hr" y="170" fill="url(#p34)"/>
<use href="#hr" y="171" fill="url(#p35)"/>
<use href="#hr" y="172" fill="url(#p36)"/>
<use href="#hr" y="173" fill="url(#p34)"/>
<use href="#hr" y="174" fill="url(#p37)"/>
<use href="#hr" y="175" fill="url(#p36)"/>
<use href="#hr" y="176" fill="url(#p35)"/>
<use href="#hr" y="177" fill="url(#p34)"/>
<use href="#hr" y="178" fill="url(#p36)"/>
<use href="#hr" y="179" fill="url(#p37)"/>
<use href="#hr" y="180" fill="url(#p36)"/>
<use href="#hr" y="181" fill="url(#p38)"/>
<use href="#hr" y="182" fill="url(#p36)"/>
<use href="#hr" y="183" fill="url(#p36)"/>
<use href="#hr" y="184" fill="url(#p37)"/>
<use href="#hr" y="185" fill="url(#p35)"/>
<use href="#hr" y="186" fill="url(#p37)"/>
<use href="#hr" y="187" fill="url(#p38)"/>
<use href="#hr" y="188" fill="url(#p38)"/>
<use href="#hr" y="189" fill="url(#p36)"/>
<use href="#hr" y="190" fill="url(#p37)"/>
<use href="#hr" y="191" fill="url(#p37)"/>
<use href="#hr" y="192" fill="url(#p37)"/>
<use href="#hr" y="193" fill="url(#p38)"/>
<use href="#hr" y="194" fill="url(#p38)"/>
<use href="#hr" y="195" fill="url(#p38)"/>
<use href="#hr" y="196" fill="url(#p37)"/>
<use href="#hr" y="197" fill="url(#p38)"/>
<use href="#hr" y="198" fill="url(#p37)"/>
<use href="#hr" y="199" fill="url(#p38)"/>
<use href="#hr" y="200" fill="url(#p39)"/>
<use href="#hr" y="201" fill="url(#p38)"/>
<use href="#hr" y="202" fill="url(#p39)"/>
<use href="#hr" y="203" fill="url(#p38)"/>
<use href="#hr" y="204" fill="url(#p40)"/>
<use href="#hr" y="205" fill="url(#p37)"/>
<use href="#hr" y="206" fill="url(#p39)"/>
<use href="#hr" y="207" fill="url(#p40)"/>
<use href="#hr" y="208" fill="url(#p38)"/>
<use href="#hr" y="209" fill="url(#p39)"/>
<use href="#hr" y="210" fill="url(#p38)"/>
<use href="#hr" y="211" fill="url(#p38)"/>
<use href="#hr" y="212" fill="url(#p39)"/>
<use href="#hr" y="213" fill="url(#p39)"/>
<use href="#hr" y="214" fill="url(#p37)"/>
<use href="#hr" y="215" fill="url(#p39)"/>
<use href="#hr" y="216" fill="url(#p41)"/>
<use href="#hr" y="217" fill="url(#p40)"/>
<use href="#hr" y="218" fill="url(#p40)"/>
<use href="#hr" y="219" fill="url(#p39)"/>
<use href="#hr" y="220" fill="url(#p41)"/>
<use href="#hr" y="221" fill="url(#p39)"/>
<use href="#hr" y="222" fill="url(#p42)"/>
<use href="#hr" y="223" fill="url(#p40)"/>
<use href="#hr" y="224" fill="url(#p40)"/>
<use href="#hr" y="225" fill="url(#p40)"/>
<use href="#hr" y="226" fill="url(#p41)"/>
<use href="#hr" y="227" fill="url(#p42)"/>
<use href="#hr" y="228" fill="url(#p40)"/>
<use href="#hr" y="229" fill="url(#p41)"/>
<use href="#hr" y="230" fill="url(#p39)"/>
<use href="#hr" y="231" fill="url(#p41)"/>
<use href="#hr" y="232" fill="url(#p40)"/>
<use href="#hr" y="233" fill="url(#p42)"/>
<use href="#hr" y="234" fill="url(#p42)"/>
<use href="#hr" y="235" fill="url(#p42)"/>
<use href="#hr" y="236" fill="url(#p41)"/>
<use href="#hr" y="237" fill="url(#p42)"/>
<use href="#hr" y="238" fill="url(#p40)"/>
<use href="#hr" y="239" fill="url(#p41)"/>
<use href="#hr" y="240" fill="url(#p43)"/>
<use href="#hr" y="241" fill="url(#p42)"/>
<use href="#hr" y="242" fill="url(#p43)"/>
<use href="#hr" y="243" fill="url(#p43)"/>
<use href="#hr" y="244" fill="url(#p42)"/>
<use href="#hr" y="245" fill="url(#p43)"/>
<use href="#hr" y="246" fill="url(#p42)"/>
<use href="#hr" y="247" fill="url(#p42)"/>
<use href="#hr" y="248" fill="url(#p43)"/>
<use href="#hr" y="249" fill="url(#p43)"/>
<use href="#hr" y="250" fill="url(#p42)"/>
<use href="#hr" y="251" fill="url(#p42)"/>
<use href="#hr" y="252" fill="url(#p42)"/>
<use href="#hr" y="253" fill="url(#p42)"/>
<use href="#hr" y="254" fill="url(#p42)"/>
<use href="#hr" y="255" fill="url(#p43)"/>
<use href="#hr" y="256" fill="url(#p44)"/>
<use href="#hr" y="257" fill="url(#p44)"/>
<use href="#hr" y="258" fill="url(#p43)"/>
<use href="#hr" y="259" fill="url(#p43)"/>
<use href="#hr" y="260" fill="url(#p44)"/>
<use href="#hr" y="261" fill="url(#p44)"/>
<use href="#hr" y="262" fill="url(#p43)"/>
<use href="#hr" y="263" fill="url(#p44)"/>
<use href="#hr" y="264" fill="url(#p44)"/>
<use href="#hr" y="265" fill="url(#p44)"/>
<use href="#hr" y="266" fill="url(#p45)"/>
<use href="#hr" y="267" fill="url(#p45)"/>
<use href="#hr" y="268" fill="url(#p45)"/>
<use href="#hr" y="269" fill="url(#p43)"/>
<use href="#hr" y="270" fill="url(#p43)"/>
<use href="#hr" y="271" fill="url(#p45)"/>
<use href="#hr" y="272" fill="url(#p45)"/>
<use href="#hr" y="273" fill="url(#p43)"/>
<use href="#hr" y="274" fill="url(#p46)"/>
<use href="#hr" y="275" fill="url(#p44)"/>
<use href="#hr" y="276" fill="url(#p45)"/>
<use href="#hr" y="277" fill="url(#p46)"/>
<use href="#hr" y="278" fill="url(#p45)"/>
<use href="#hr" y="279" fill="url(#p44)"/>
<use href="#hr" y="280" fill="url(#p44)"/>
<use href="#hr" y="281" fill="url(#p46)"/>
<use href="#hr" y="282" fill="url(#p46)"/>
<use href="#hr" y="283" fill="url(#p44)"/>
<use href="#hr" y="284" fill="url(#p46)"/>
<use href="#hr" y="285" fill="url(#p45)"/>
<use href="#hr" y="286" fill="url(#p44)"/>
<use href="#hr" y="287" fill="url(#p45)"/>
<use href="#hr" y="288" fill="url(#p46)"/>
<use href="#hr" y="289" fill="url(#p47)"/>
<use href="#hr" y="290" fill="url(#p46)"/>
<use href="#hr" y="291" fill="url(#p46)"/>
<use href="#hr" y="292" fill="url(#p47)"/>
<use href="#hr" y="293" fill="url(#p46)"/>
<use href="#hr" y="294" fill="url(#p47)"/>
<use href="#hr" y="295" fill="url(#p47)"/>
<use href="#hr" y="296" fill="url(#p46)"/>
<use href="#hr" y="297" fill="url(#p46)"/>
<use href="#hr" y="298" fill="url(#p47)"/>
<use href="#hr" y="299" fill="url(#p47)"/>
<use href="#hr" y="300" fill="url(#p46)"/>
<use href="#hr" y="301" fill="url(#p45)"/>
<use href="#hr" y="302" fill="url(#p45)"/>
<use href="#hr" y="303" fill="url(#p47)"/>
<use href="#hr" y="304" fill="url(#p46)"/>
</g>
<g mask="url(#mkw)"><rect x="24.5" y="439.5" width="44.45" height="305.0" filter="url(#nzw)"/></g>
<g mask="url(#mkd2)"><rect x="24.5" y="439.5" width="44.45" height="305.0" filter="url(#nzd)"/></g>
<g mask="url(#mks)"><rect x="24.5" y="439.5" width="44.45" height="305.0" filter="url(#nzs)"/></g>
<rect x="24.5" y="439.5" width="44.45" height="2.1" fill="url(#tb)" opacity=".8"/>
<rect x="24.5" y="441.6" width="44.45" height="1.6" fill="url(#tb)" opacity=".35"/>
<path d="M24.5 731.4h3.6M24.5 738.5h3.6" stroke="#9a9a9a" stroke-width="0.6"/>
<rect x="24.5" y="439.5" width="44.45" height="305.0" fill="none" stroke="#1c1c1c" stroke-width="0.95"/>
<path d="M24.5 744.5v1.6M46.7 744.5v1.2M69.0 744.5v1.6" stroke="#1c1c1c" stroke-width="0.8"/>
<text x="24.7" y="752.5" font-size="4.8" fill="#222" stroke="#222">-3.0</text>
<text x="45.0" y="752.5" font-size="4.8" fill="#222" stroke="#222" text-anchor="middle">TSS</text>
<text x="68.1" y="752.5" font-size="4.8" fill="#222" stroke="#222" text-anchor="end">3.0 Kb</text>
<g transform="translate(72.6 439.5)">
<use href="#hr" y="0" fill="url(#q2)"/>
<use href="#hr" y="1" fill="url(#q3)"/>
<use href="#hr" y="2" fill="url(#q4)"/>
<use href="#hr" y="3" fill="url(#q5)"/>
<use href="#hr" y="4" fill="url(#q6)"/>
<use href="#hr" y="5" fill="url(#q6)"/>
<use href="#hr" y="6" fill="url(#q8)"/>
<use href="#hr" y="7" fill="url(#q6)"/>
<use href="#hr" y="8" fill="url(#q8)"/>
<use href="#hr" y="9" fill="url(#q10)"/>
<use href="#hr" y="10" fill="url(#q9)"/>
<use href="#hr" y="11" fill="url(#q10)"/>
<use href="#hr" y="12" fill="url(#q10)"/>
<use href="#hr" y="13" fill="url(#q11)"/>
<use href="#hr" y="14" fill="url(#q10)"/>
<use href="#hr" y="15" fill="url(#q11)"/>
<use href="#hr" y="16" fill="url(#q10)"/>
<use href="#hr" y="17" fill="url(#q12)"/>
<use href="#hr" y="18" fill="url(#q12)"/>
<use href="#hr" y="19" fill="url(#q11)"/>
<use href="#hr" y="20" fill="url(#q11)"/>
<use href="#hr" y="21" fill="url(#q13)"/>
<use href="#hr" y="22" fill="url(#q14)"/>
<use href="#hr" y="23" fill="url(#q14)"/>
<use href="#hr" y="24" fill="url(#q14)"/>
<use href="#hr" y="25" fill="url(#q15)"/>
<use href="#hr" y="26" fill="url(#q13)"/>
<use href="#hr" y="27" fill="url(#q14)"/>
<use href="#hr" y="28" fill="url(#q15)"/>
<use href="#hr" y="29" fill="url(#q13)"/>
<use href="#hr" y="30" fill="url(#q16)"/>
<use href="#hr" y="31" fill="url(#q16)"/>
<use href="#hr" y="32" fill="url(#q17)"/>
<use href="#hr" y="33" fill="url(#q16)"/>
<use href="#hr" y="34" fill="url(#q17)"/>
<use href="#hr" y="35" fill="url(#q17)"/>
<use href="#hr" y="36" fill="url(#q19)"/>
<use href="#hr" y="37" fill="url(#q17)"/>
<use href="#hr" y="38" fill="url(#q17)"/>
<use href="#hr" y="39" fill="url(#q16)"/>
<use href="#hr" y="40" fill="url(#q18)"/>
<use href="#hr" y="41" fill="url(#q16)"/>
<use href="#hr" y="42" fill="url(#q18)"/>
<use href="#hr" y="43" fill="url(#q17)"/>
<use href="#hr" y="44" fill="url(#q18)"/>
<use href="#hr" y="45" fill="url(#q18)"/>
<use href="#hr" y="46" fill="url(#q18)"/>
<use href="#hr" y="47" fill="url(#q19)"/>
<use href="#hr" y="48" fill="url(#q18)"/>
<use href="#hr" y="49" fill="url(#q19)"/>
<use href="#hr" y="50" fill="url(#q20)"/>
<use href="#hr" y="51" fill="url(#q20)"/>
<use href="#hr" y="52" fill="url(#q20)"/>
<use href="#hr" y="53" fill="url(#q21)"/>
<use href="#hr" y="54" fill="url(#q21)"/>
<use href="#hr" y="55" fill="url(#q19)"/>
<use href="#hr" y="56" fill="url(#q21)"/>
<use href="#hr" y="57" fill="url(#q20)"/>
<use href="#hr" y="58" fill="url(#q21)"/>
<use href="#hr" y="59" fill="url(#q20)"/>
<use href="#hr" y="60" fill="url(#q23)"/>
<use href="#hr" y="61" fill="url(#q22)"/>
<use href="#hr" y="62" fill="url(#q21)"/>
<use href="#hr" y="63" fill="url(#q23)"/>
<use href="#hr" y="64" fill="url(#q21)"/>
<use href="#hr" y="65" fill="url(#q22)"/>
<use href="#hr" y="66" fill="url(#q24)"/>
<use href="#hr" y="67" fill="url(#q22)"/>
<use href="#hr" y="68" fill="url(#q23)"/>
<use href="#hr" y="69" fill="url(#q22)"/>
<use href="#hr" y="70" fill="url(#q22)"/>
<use href="#hr" y="71" fill="url(#q23)"/>
<use href="#hr" y="72" fill="url(#q23)"/>
<use href="#hr" y="73" fill="url(#q23)"/>
<use href="#hr" y="74" fill="url(#q22)"/>
<use href="#hr" y="75" fill="url(#q23)"/>
<use href="#hr" y="76" fill="url(#q22)"/>
<use href="#hr" y="77" fill="url(#q23)"/>
<use href="#hr" y="78" fill="url(#q23)"/>
<use href="#hr" y="79" fill="url(#q24)"/>
<use href="#hr" y="80" fill="url(#q23)"/>
<use href="#hr" y="81" fill="url(#q23)"/>
<use href="#hr" y="82" fill="url(#q24)"/>
<use href="#hr" y="83" fill="url(#q25)"/>
<use href="#hr" y="84" fill="url(#q25)"/>
<use href="#hr" y="85" fill="url(#q25)"/>
<use href="#hr" y="86" fill="url(#q26)"/>
<use href="#hr" y="87" fill="url(#q25)"/>
<use href="#hr" y="88" fill="url(#q25)"/>
<use href="#hr" y="89" fill="url(#q26)"/>
<use href="#hr" y="90" fill="url(#q26)"/>
<use href="#hr" y="91" fill="url(#q26)"/>
<use href="#hr" y="92" fill="url(#q27)"/>
<use href="#hr" y="93" fill="url(#q26)"/>
<use href="#hr" y="94" fill="url(#q26)"/>
<use href="#hr" y="95" fill="url(#q26)"/>
<use href="#hr" y="96" fill="url(#q26)"/>
<use href="#hr" y="97" fill="url(#q26)"/>
<use href="#hr" y="98" fill="url(#q26)"/>
<use href="#hr" y="99" fill="url(#q27)"/>
<use href="#hr" y="100" fill="url(#q27)"/>
<use href="#hr" y="101" fill="url(#q27)"/>
<use href="#hr" y="102" fill="url(#q27)"/>
<use href="#hr" y="103" fill="url(#q28)"/>
<use href="#hr" y="104" fill="url(#q26)"/>
<use href="#hr" y="105" fill="url(#q27)"/>
<use href="#hr" y="106" fill="url(#q27)"/>
<use href="#hr" y="107" fill="url(#q29)"/>
<use href="#hr" y="108" fill="url(#q29)"/>
<use href="#hr" y="109" fill="url(#q27)"/>
<use href="#hr" y="110" fill="url(#q27)"/>
<use href="#hr" y="111" fill="url(#q28)"/>
<use href="#hr" y="112" fill="url(#q29)"/>
<use href="#hr" y="113" fill="url(#q28)"/>
<use href="#hr" y="114" fill="url(#q29)"/>
<use href="#hr" y="115" fill="url(#q28)"/>
<use href="#hr" y="116" fill="url(#q29)"/>
<use href="#hr" y="117" fill="url(#q29)"/>
<use href="#hr" y="118" fill="url(#q30)"/>
<use href="#hr" y="119" fill="url(#q30)"/>
<use href="#hr" y="120" fill="url(#q30)"/>
<use href="#hr" y="121" fill="url(#q30)"/>
<use href="#hr" y="122" fill="url(#q30)"/>
<use href="#hr" y="123" fill="url(#q30)"/>
<use href="#hr" y="124" fill="url(#q32)"/>
<use href="#hr" y="125" fill="url(#q30)"/>
<use href="#hr" y="126" fill="url(#q30)"/>
<use href="#hr" y="127" fill="url(#q30)"/>
<use href="#hr" y="128" fill="url(#q31)"/>
<use href="#hr" y="129" fill="url(#q30)"/>
<use href="#hr" y="130" fill="url(#q31)"/>
<use href="#hr" y="131" fill="url(#q31)"/>
<use href="#hr" y="132" fill="url(#q31)"/>
<use href="#hr" y="133" fill="url(#q31)"/>
<use href="#hr" y="134" fill="url(#q31)"/>
<use href="#hr" y="135" fill="url(#q31)"/>
<use href="#hr" y="136" fill="url(#q30)"/>
<use href="#hr" y="137" fill="url(#q32)"/>
<use href="#hr" y="138" fill="url(#q32)"/>
<use href="#hr" y="139" fill="url(#q31)"/>
<use href="#hr" y="140" fill="url(#q30)"/>
<use href="#hr" y="141" fill="url(#q32)"/>
<use href="#hr" y="142" fill="url(#q33)"/>
<use href="#hr" y="143" fill="url(#q32)"/>
<use href="#hr" y="144" fill="url(#q32)"/>
<use href="#hr" y="145" fill="url(#q33)"/>
<use href="#hr" y="146" fill="url(#q33)"/>
<use href="#hr" y="147" fill="url(#q33)"/>
<use href="#hr" y="148" fill="url(#q33)"/>
<use href="#hr" y="149" fill="url(#q33)"/>
<use href="#hr" y="150" fill="url(#q34)"/>
<use href="#hr" y="151" fill="url(#q33)"/>
<use href="#hr" y="152" fill="url(#q34)"/>
<use href="#hr" y="153" fill="url(#q33)"/>
<use href="#hr" y="154" fill="url(#q33)"/>
<use href="#hr" y="155" fill="url(#q33)"/>
<use href="#hr" y="156" fill="url(#q35)"/>
<use href="#hr" y="157" fill="url(#q34)"/>
<use href="#hr" y="158" fill="url(#q34)"/>
<use href="#hr" y="159" fill="url(#q34)"/>
<use href="#hr" y="160" fill="url(#q33)"/>
<use href="#hr" y="161" fill="url(#q34)"/>
<use href="#hr" y="162" fill="url(#q36)"/>
<use href="#hr" y="163" fill="url(#q34)"/>
<use href="#hr" y="164" fill="url(#q36)"/>
<use href="#hr" y="165" fill="url(#q34)"/>
<use href="#hr" y="166" fill="url(#q34)"/>
<use href="#hr" y="167" fill="url(#q35)"/>
<use href="#hr" y="168" fill="url(#q36)"/>
<use href="#hr" y="169" fill="url(#q34)"/>
<use href="#hr" y="170" fill="url(#q33)"/>
<use href="#hr" y="171" fill="url(#q36)"/>
<use href="#hr" y="172" fill="url(#q35)"/>
<use href="#hr" y="173" fill="url(#q35)"/>
<use href="#hr" y="174" fill="url(#q35)"/>
<use href="#hr" y="175" fill="url(#q36)"/>
<use href="#hr" y="176" fill="url(#q36)"/>
<use href="#hr" y="177" fill="url(#q36)"/>
<use href="#hr" y="178" fill="url(#q37)"/>
<use href="#hr" y="179" fill="url(#q36)"/>
<use href="#hr" y="180" fill="url(#q36)"/>
<use href="#hr" y="181" fill="url(#q37)"/>
<use href="#hr" y="182" fill="url(#q36)"/>
<use href="#hr" y="183" fill="url(#q36)"/>
<use href="#hr" y="184" fill="url(#q37)"/>
<use href="#hr" y="185" fill="url(#q38)"/>
<use href="#hr" y="186" fill="url(#q36)"/>
<use href="#hr" y="187" fill="url(#q37)"/>
<use href="#hr" y="188" fill="url(#q38)"/>
<use href="#hr" y="189" fill="url(#q38)"/>
<use href="#hr" y="190" fill="url(#q38)"/>
<use href="#hr" y="191" fill="url(#q37)"/>
<use href="#hr" y="192" fill="url(#q37)"/>
<use href="#hr" y="193" fill="url(#q38)"/>
<use href="#hr" y="194" fill="url(#q38)"/>
<use href="#hr" y="195" fill="url(#q36)"/>
<use href="#hr" y="196" fill="url(#q38)"/>
<use href="#hr" y="197" fill="url(#q39)"/>
<use href="#hr" y="198" fill="url(#q39)"/>
<use href="#hr" y="199" fill="url(#q38)"/>
<use href="#hr" y="200" fill="url(#q39)"/>
<use href="#hr" y="201" fill="url(#q38)"/>
<use href="#hr" y="202" fill="url(#q38)"/>
<use href="#hr" y="203" fill="url(#q37)"/>
<use href="#hr" y="204" fill="url(#q39)"/>
<use href="#hr" y="205" fill="url(#q39)"/>
<use href="#hr" y="206" fill="url(#q40)"/>
<use href="#hr" y="207" fill="url(#q37)"/>
<use href="#hr" y="208" fill="url(#q40)"/>
<use href="#hr" y="209" fill="url(#q38)"/>
<use href="#hr" y="210" fill="url(#q40)"/>
<use href="#hr" y="211" fill="url(#q40)"/>
<use href="#hr" y="212" fill="url(#q39)"/>
<use href="#hr" y="213" fill="url(#q39)"/>
<use href="#hr" y="214" fill="url(#q40)"/>
<use href="#hr" y="215" fill="url(#q40)"/>
<use href="#hr" y="216" fill="url(#q39)"/>
<use href="#hr" y="217" fill="url(#q39)"/>
<use href="#hr" y="218" fill="url(#q40)"/>
<use href="#hr" y="219" fill="url(#q41)"/>
<use href="#hr" y="220" fill="url(#q41)"/>
<use href="#hr" y="221" fill="url(#q40)"/>
<use href="#hr" y="222" fill="url(#q41)"/>
<use href="#hr" y="223" fill="url(#q41)"/>
<use href="#hr" y="224" fill="url(#q40)"/>
<use href="#hr" y="225" fill="url(#q40)"/>
<use href="#hr" y="226" fill="url(#q39)"/>
<use href="#hr" y="227" fill="url(#q39)"/>
<use href="#hr" y="228" fill="url(#q41)"/>
<use href="#hr" y="229" fill="url(#q41)"/>
<use href="#hr" y="230" fill="url(#q41)"/>
<use href="#hr" y="231" fill="url(#q40)"/>
<use href="#hr" y="232" fill="url(#q41)"/>
<use href="#hr" y="233" fill="url(#q41)"/>
<use href="#hr" y="234" fill="url(#q41)"/>
<use href="#hr" y="235" fill="url(#q40)"/>
<use href="#hr" y="236" fill="url(#q43)"/>
<use href="#hr" y="237" fill="url(#q42)"/>
<use href="#hr" y="238" fill="url(#q40)"/>
<use href="#hr" y="239" fill="url(#q42)"/>
<use href="#hr" y="240" fill="url(#q42)"/>
<use href="#hr" y="241" fill="url(#q41)"/>
<use href="#hr" y="242" fill="url(#q42)"/>
<use href="#hr" y="243" fill="url(#q42)"/>
<use href="#hr" y="244" fill="url(#q42)"/>
<use href="#hr" y="245" fill="url(#q42)"/>
<use href="#hr" y="246" fill="url(#q43)"/>
<use href="#hr" y="247" fill="url(#q41)"/>
<use href="#hr" y="248" fill="url(#q41)"/>
<use href="#hr" y="249" fill="url(#q44)"/>
<use href="#hr" y="250" fill="url(#q43)"/>
<use href="#hr" y="251" fill="url(#q43)"/>
<use href="#hr" y="252" fill="url(#q42)"/>
<use href="#hr" y="253" fill="url(#q42)"/>
<use href="#hr" y="254" fill="url(#q43)"/>
<use href="#hr" y="255" fill="url(#q43)"/>
<use href="#hr" y="256" fill="url(#q43)"/>
<use href="#hr" y="257" fill="url(#q42)"/>
<use href="#hr" y="258" fill="url(#q44)"/>
<use href="#hr" y="259" fill="url(#q43)"/>
<use href="#hr" y="260" fill="url(#q43)"/>
<use href="#hr" y="261" fill="url(#q44)"/>
<use href="#hr" y="262" fill="url(#q44)"/>
<use href="#hr" y="263" fill="url(#q44)"/>
<use href="#hr" y="264" fill="url(#q44)"/>
<use href="#hr" y="265" fill="url(#q44)"/>
<use href="#hr" y="266" fill="url(#q43)"/>
<use href="#hr" y="267" fill="url(#q44)"/>
<use href="#hr" y="268" fill="url(#q44)"/>
<use href="#hr" y="269" fill="url(#q43)"/>
<use href="#hr" y="270" fill="url(#q46)"/>
<use href="#hr" y="271" fill="url(#q42)"/>
<use href="#hr" y="272" fill="url(#q44)"/>
<use href="#hr" y="273" fill="url(#q44)"/>
<use href="#hr" y="274" fill="url(#q45)"/>
<use href="#hr" y="275" fill="url(#q44)"/>
<use href="#hr" y="276" fill="url(#q44)"/>
<use href="#hr" y="277" fill="url(#q45)"/>
<use href="#hr" y="278" fill="url(#q44)"/>
<use href="#hr" y="279" fill="url(#q45)"/>
<use href="#hr" y="280" fill="url(#q46)"/>
<use href="#hr" y="281" fill="url(#q45)"/>
<use href="#hr" y="282" fill="url(#q46)"/>
<use href="#hr" y="283" fill="url(#q43)"/>
<use href="#hr" y="284" fill="url(#q45)"/>
<use href="#hr" y="285" fill="url(#q46)"/>
<use href="#hr" y="286" fill="url(#q45)"/>
<use href="#hr" y="287" fill="url(#q46)"/>
<use href="#hr" y="288" fill="url(#q46)"/>
<use href="#hr" y="289" fill="url(#q46)"/>
<use href="#hr" y="290" fill="url(#q47)"/>
<use href="#hr" y="291" fill="url(#q46)"/>
<use href="#hr" y="292" fill="url(#q46)"/>
<use href="#hr" y="293" fill="url(#q46)"/>
<use href="#hr" y="294" fill="url(#q46)"/>
<use href="#hr" y="295" fill="url(#q45)"/>
<use href="#hr" y="296" fill="url(#q46)"/>
<use href="#hr" y="297" fill="url(#q45)"/>
<use href="#hr" y="298" fill="url(#q47)"/>
<use href="#hr" y="299" fill="url(#q46)"/>
<use href="#hr" y="300" fill="url(#q45)"/>
<use href="#hr" y="301" fill="url(#q46)"/>
<use href="#hr" y="302" fill="url(#q46)"/>
<use href="#hr" y="303" fill="url(#q47)"/>
<use href="#hr" y="304" fill="url(#q47)"/>
</g>
<g mask="url(#mkw)"><rect x="72.6" y="439.5" width="44.45" height="305.0" filter="url(#nzw)"/></g>
<g mask="url(#mkd2)"><rect x="72.6" y="439.5" width="44.45" height="305.0" filter="url(#nzd)"/></g>
<g mask="url(#mks)"><rect x="72.6" y="439.5" width="44.45" height="305.0" filter="url(#nzs)"/></g>
<rect x="72.6" y="439.5" width="44.45" height="2.1" fill="url(#tb)" opacity=".8"/>
<rect x="72.6" y="441.6" width="44.45" height="1.6" fill="url(#tb)" opacity=".35"/>
<path d="M72.6 731.4h3.6M72.6 738.5h3.6" stroke="#9a9a9a" stroke-width="0.6"/>
<rect x="72.6" y="439.5" width="44.45" height="305.0" fill="none" stroke="#1c1c1c" stroke-width="0.95"/>
<path d="M72.6 744.5v1.6M94.8 744.5v1.2M117.0 744.5v1.6" stroke="#1c1c1c" stroke-width="0.8"/>
<text x="72.8" y="752.5" font-size="4.8" fill="#222" stroke="#222">-3.0</text>
<text x="93.1" y="752.5" font-size="4.8" fill="#222" stroke="#222" text-anchor="middle">TSS</text>
<text x="116.2" y="752.5" font-size="4.8" fill="#222" stroke="#222" text-anchor="end">3.0 Kb</text>
<g transform="translate(121.35 439.5)">
<use href="#hr" y="0" fill="url(#r2)"/>
<use href="#hr" y="1" fill="url(#r3)"/>
<use href="#hr" y="2" fill="url(#r4)"/>
<use href="#hr" y="3" fill="url(#r5)"/>
<use href="#hr" y="4" fill="url(#r6)"/>
<use href="#hr" y="5" fill="url(#r6)"/>
<use href="#hr" y="6" fill="url(#r8)"/>
<use href="#hr" y="7" fill="url(#r8)"/>
<use href="#hr" y="8" fill="url(#r8)"/>
<use href="#hr" y="9" fill="url(#r8)"/>
<use href="#hr" y="10" fill="url(#r9)"/>
<use href="#hr" y="11" fill="url(#r9)"/>
<use href="#hr" y="12" fill="url(#r9)"/>
<use href="#hr" y="13" fill="url(#r10)"/>
<use href="#hr" y="14" fill="url(#r10)"/>
<use href="#hr" y="15" fill="url(#r11)"/>
<use href="#hr" y="16" fill="url(#r11)"/>
<use href="#hr" y="17" fill="url(#r11)"/>
<use href="#hr" y="18" fill="url(#r11)"/>
<use href="#hr" y="19" fill="url(#r11)"/>
<use href="#hr" y="20" fill="url(#r11)"/>
<use href="#hr" y="21" fill="url(#r12)"/>
<use href="#hr" y="22" fill="url(#r12)"/>
<use href="#hr" y="23" fill="url(#r13)"/>
<use href="#hr" y="24" fill="url(#r13)"/>
<use href="#hr" y="25" fill="url(#r13)"/>
<use href="#hr" y="26" fill="url(#r14)"/>
<use href="#hr" y="27" fill="url(#r15)"/>
<use href="#hr" y="28" fill="url(#r13)"/>
<use href="#hr" y="29" fill="url(#r16)"/>
<use href="#hr" y="30" fill="url(#r15)"/>
<use href="#hr" y="31" fill="url(#r14)"/>
<use href="#hr" y="32" fill="url(#r16)"/>
<use href="#hr" y="33" fill="url(#r16)"/>
<use href="#hr" y="34" fill="url(#r15)"/>
<use href="#hr" y="35" fill="url(#r17)"/>
<use href="#hr" y="36" fill="url(#r12)"/>
<use href="#hr" y="37" fill="url(#r14)"/>
<use href="#hr" y="38" fill="url(#r17)"/>
<use href="#hr" y="39" fill="url(#r17)"/>
<use href="#hr" y="40" fill="url(#r17)"/>
<use href="#hr" y="41" fill="url(#r16)"/>
<use href="#hr" y="42" fill="url(#r19)"/>
<use href="#hr" y="43" fill="url(#r17)"/>
<use href="#hr" y="44" fill="url(#r18)"/>
<use href="#hr" y="45" fill="url(#r17)"/>
<use href="#hr" y="46" fill="url(#r18)"/>
<use href="#hr" y="47" fill="url(#r18)"/>
<use href="#hr" y="48" fill="url(#r18)"/>
<use href="#hr" y="49" fill="url(#r18)"/>
<use href="#hr" y="50" fill="url(#r19)"/>
<use href="#hr" y="51" fill="url(#r19)"/>
<use href="#hr" y="52" fill="url(#r20)"/>
<use href="#hr" y="53" fill="url(#r21)"/>
<use href="#hr" y="54" fill="url(#r20)"/>
<use href="#hr" y="55" fill="url(#r21)"/>
<use href="#hr" y="56" fill="url(#r21)"/>
<use href="#hr" y="57" fill="url(#r22)"/>
<use href="#hr" y="58" fill="url(#r23)"/>
<use href="#hr" y="59" fill="url(#r21)"/>
<use href="#hr" y="60" fill="url(#r21)"/>
<use href="#hr" y="61" fill="url(#r20)"/>
<use href="#hr" y="62" fill="url(#r21)"/>
<use href="#hr" y="63" fill="url(#r26)"/>
<use href="#hr" y="64" fill="url(#r22)"/>
<use href="#hr" y="65" fill="url(#r21)"/>
<use href="#hr" y="66" fill="url(#r21)"/>
<use href="#hr" y="67" fill="url(#r23)"/>
<use href="#hr" y="68" fill="url(#r23)"/>
<use href="#hr" y="69" fill="url(#r22)"/>
<use href="#hr" y="70" fill="url(#r22)"/>
<use href="#hr" y="71" fill="url(#r22)"/>
<use href="#hr" y="72" fill="url(#r23)"/>
<use href="#hr" y="73" fill="url(#r24)"/>
<use href="#hr" y="74" fill="url(#r22)"/>
<use href="#hr" y="75" fill="url(#r24)"/>
<use href="#hr" y="76" fill="url(#r22)"/>
<use href="#hr" y="77" fill="url(#r23)"/>
<use href="#hr" y="78" fill="url(#r25)"/>
<use href="#hr" y="79" fill="url(#r25)"/>
<use href="#hr" y="80" fill="url(#r23)"/>
<use href="#hr" y="81" fill="url(#r24)"/>
<use href="#hr" y="82" fill="url(#r24)"/>
<use href="#hr" y="83" fill="url(#r28)"/>
<use href="#hr" y="84" fill="url(#r26)"/>
<use href="#hr" y="85" fill="url(#r24)"/>
<use href="#hr" y="86" fill="url(#r25)"/>
<use href="#hr" y="87" fill="url(#r26)"/>
<use href="#hr" y="88" fill="url(#r24)"/>
<use href="#hr" y="89" fill="url(#r25)"/>
<use href="#hr" y="90" fill="url(#r25)"/>
<use href="#hr" y="91" fill="url(#r26)"/>
<use href="#hr" y="92" fill="url(#r26)"/>
<use href="#hr" y="93" fill="url(#r25)"/>
<use href="#hr" y="94" fill="url(#r25)"/>
<use href="#hr" y="95" fill="url(#r26)"/>
<use href="#hr" y="96" fill="url(#r25)"/>
<use href="#hr" y="97" fill="url(#r25)"/>
<use href="#hr" y="98" fill="url(#r26)"/>
<use href="#hr" y="99" fill="url(#r26)"/>
<use href="#hr" y="100" fill="url(#r29)"/>
<use href="#hr" y="101" fill="url(#r26)"/>
<use href="#hr" y="102" fill="url(#r27)"/>
<use href="#hr" y="103" fill="url(#r27)"/>
<use href="#hr" y="104" fill="url(#r26)"/>
<use href="#hr" y="105" fill="url(#r27)"/>
<use href="#hr" y="106" fill="url(#r28)"/>
<use href="#hr" y="107" fill="url(#r30)"/>
<use href="#hr" y="108" fill="url(#r28)"/>
<use href="#hr" y="109" fill="url(#r29)"/>
<use href="#hr" y="110" fill="url(#r28)"/>
<use href="#hr" y="111" fill="url(#r28)"/>
<use href="#hr" y="112" fill="url(#r29)"/>
<use href="#hr" y="113" fill="url(#r28)"/>
<use href="#hr" y="114" fill="url(#r29)"/>
<use href="#hr" y="115" fill="url(#r29)"/>
<use href="#hr" y="116" fill="url(#r28)"/>
<use href="#hr" y="117" fill="url(#r29)"/>
<use href="#hr" y="118" fill="url(#r29)"/>
<use href="#hr" y="119" fill="url(#r29)"/>
<use href="#hr" y="120" fill="url(#r30)"/>
<use href="#hr" y="121" fill="url(#r29)"/>
<use href="#hr" y="122" fill="url(#r30)"/>
<use href="#hr" y="123" fill="url(#r30)"/>
<use href="#hr" y="124" fill="url(#r31)"/>
<use href="#hr" y="125" fill="url(#r30)"/>
<use href="#hr" y="126" fill="url(#r29)"/>
<use href="#hr" y="127" fill="url(#r31)"/>
<use href="#hr" y="128" fill="url(#r30)"/>
<use href="#hr" y="129" fill="url(#r32)"/>
<use href="#hr" y="130" fill="url(#r32)"/>
<use href="#hr" y="131" fill="url(#r31)"/>
<use href="#hr" y="132" fill="url(#r32)"/>
<use href="#hr" y="133" fill="url(#r31)"/>
<use href="#hr" y="134" fill="url(#r32)"/>
<use href="#hr" y="135" fill="url(#r30)"/>
<use href="#hr" y="136" fill="url(#r32)"/>
<use href="#hr" y="137" fill="url(#r31)"/>
<use href="#hr" y="138" fill="url(#r33)"/>
<use href="#hr" y="139" fill="url(#r32)"/>
<use href="#hr" y="140" fill="url(#r32)"/>
<use href="#hr" y="141" fill="url(#r32)"/>
<use href="#hr" y="142" fill="url(#r32)"/>
<use href="#hr" y="143" fill="url(#r33)"/>
<use href="#hr" y="144" fill="url(#r32)"/>
<use href="#hr" y="145" fill="url(#r33)"/>
<use href="#hr" y="146" fill="url(#r32)"/>
<use href="#hr" y="147" fill="url(#r31)"/>
<use href="#hr" y="148" fill="url(#r32)"/>
<use href="#hr" y="149" fill="url(#r33)"/>
<use href="#hr" y="150" fill="url(#r33)"/>
<use href="#hr" y="151" fill="url(#r32)"/>
<use href="#hr" y="152" fill="url(#r34)"/>
<use href="#hr" y="153" fill="url(#r33)"/>
<use href="#hr" y="154" fill="url(#r34)"/>
<use href="#hr" y="155" fill="url(#r33)"/>
<use href="#hr" y="156" fill="url(#r34)"/>
<use href="#hr" y="157" fill="url(#r35)"/>
<use href="#hr" y="158" fill="url(#r34)"/>
<use href="#hr" y="159" fill="url(#r35)"/>
<use href="#hr" y="160" fill="url(#r34)"/>
<use href="#hr" y="161" fill="url(#r34)"/>
<use href="#hr" y="162" fill="url(#r34)"/>
<use href="#hr" y="163" fill="url(#r35)"/>
<use href="#hr" y="164" fill="url(#r35)"/>
<use href="#hr" y="165" fill="url(#r35)"/>
<use href="#hr" y="166" fill="url(#r34)"/>
<use href="#hr" y="167" fill="url(#r35)"/>
<use href="#hr" y="168" fill="url(#r34)"/>
<use href="#hr" y="169" fill="url(#r35)"/>
<use href="#hr" y="170" fill="url(#r35)"/>
<use href="#hr" y="171" fill="url(#r35)"/>
<use href="#hr" y="172" fill="url(#r33)"/>
<use href="#hr" y="173" fill="url(#r35)"/>
<use href="#hr" y="174" fill="url(#r35)"/>
<use href="#hr" y="175" fill="url(#r36)"/>
<use href="#hr" y="176" fill="url(#r34)"/>
<use href="#hr" y="177" fill="url(#r37)"/>
<use href="#hr" y="178" fill="url(#r37)"/>
<use href="#hr" y="179" fill="url(#r36)"/>
<use href="#hr" y="180" fill="url(#r36)"/>
<use href="#hr" y="181" fill="url(#r35)"/>
<use href="#hr" y="182" fill="url(#r37)"/>
<use href="#hr" y="183" fill="url(#r36)"/>
<use href="#hr" y="184" fill="url(#r37)"/>
<use href="#hr" y="185" fill="url(#r37)"/>
<use href="#hr" y="186" fill="url(#r37)"/>
<use href="#hr" y="187" fill="url(#r37)"/>
<use href="#hr" y="188" fill="url(#r37)"/>
<use href="#hr" y="189" fill="url(#r36)"/>
<use href="#hr" y="190" fill="url(#r39)"/>
<use href="#hr" y="191" fill="url(#r37)"/>
<use href="#hr" y="192" fill="url(#r37)"/>
<use href="#hr" y="193" fill="url(#r36)"/>
<use href="#hr" y="194" fill="url(#r38)"/>
<use href="#hr" y="195" fill="url(#r38)"/>
<use href="#hr" y="196" fill="url(#r38)"/>
<use href="#hr" y="197" fill="url(#r39)"/>
<use href="#hr" y="198" fill="url(#r38)"/>
<use href="#hr" y="199" fill="url(#r39)"/>
<use href="#hr" y="200" fill="url(#r38)"/>
<use href="#hr" y="201" fill="url(#r39)"/>
<use href="#hr" y="202" fill="url(#r39)"/>
<use href="#hr" y="203" fill="url(#r38)"/>
<use href="#hr" y="204" fill="url(#r39)"/>
<use href="#hr" y="205" fill="url(#r39)"/>
<use href="#hr" y="206" fill="url(#r38)"/>
<use href="#hr" y="207" fill="url(#r40)"/>
<use href="#hr" y="208" fill="url(#r37)"/>
<use href="#hr" y="209" fill="url(#r38)"/>
<use href="#hr" y="210" fill="url(#r39)"/>
<use href="#hr" y="211" fill="url(#r40)"/>
<use href="#hr" y="212" fill="url(#r40)"/>
<use href="#hr" y="213" fill="url(#r39)"/>
<use href="#hr" y="214" fill="url(#r38)"/>
<use href="#hr" y="215" fill="url(#r39)"/>
<use href="#hr" y="216" fill="url(#r40)"/>
<use href="#hr" y="217" fill="url(#r39)"/>
<use href="#hr" y="218" fill="url(#r38)"/>
<use href="#hr" y="219" fill="url(#r41)"/>
<use href="#hr" y="220" fill="url(#r39)"/>
<use href="#hr" y="221" fill="url(#r41)"/>
<use href="#hr" y="222" fill="url(#r41)"/>
<use href="#hr" y="223" fill="url(#r40)"/>
<use href="#hr" y="224" fill="url(#r41)"/>
<use href="#hr" y="225" fill="url(#r39)"/>
<use href="#hr" y="226" fill="url(#r41)"/>
<use href="#hr" y="227" fill="url(#r40)"/>
<use href="#hr" y="228" fill="url(#r40)"/>
<use href="#hr" y="229" fill="url(#r41)"/>
<use href="#hr" y="230" fill="url(#r40)"/>
<use href="#hr" y="231" fill="url(#r42)"/>
<use href="#hr" y="232" fill="url(#r42)"/>
<use href="#hr" y="233" fill="url(#r41)"/>
<use href="#hr" y="234" fill="url(#r39)"/>
<use href="#hr" y="235" fill="url(#r41)"/>
<use href="#hr" y="236" fill="url(#r41)"/>
<use href="#hr" y="237" fill="url(#r40)"/>
<use href="#hr" y="238" fill="url(#r42)"/>
<use href="#hr" y="239" fill="url(#r41)"/>
<use href="#hr" y="240" fill="url(#r42)"/>
<use href="#hr" y="241" fill="url(#r42)"/>
<use href="#hr" y="242" fill="url(#r42)"/>
<use href="#hr" y="243" fill="url(#r41)"/>
<use href="#hr" y="244" fill="url(#r42)"/>
<use href="#hr" y="245" fill="url(#r41)"/>
<use href="#hr" y="246" fill="url(#r42)"/>
<use href="#hr" y="247" fill="url(#r42)"/>
<use href="#hr" y="248" fill="url(#r42)"/>
<use href="#hr" y="249" fill="url(#r42)"/>
<use href="#hr" y="250" fill="url(#r43)"/>
<use href="#hr" y="251" fill="url(#r43)"/>
<use href="#hr" y="252" fill="url(#r44)"/>
<use href="#hr" y="253" fill="url(#r44)"/>
<use href="#hr" y="254" fill="url(#r44)"/>
<use href="#hr" y="255" fill="url(#r43)"/>
<use href="#hr" y="256" fill="url(#r43)"/>
<use href="#hr" y="257" fill="url(#r42)"/>
<use href="#hr" y="258" fill="url(#r43)"/>
<use href="#hr" y="259" fill="url(#r44)"/>
<use href="#hr" y="260" fill="url(#r43)"/>
<use href="#hr" y="261" fill="url(#r43)"/>
<use href="#hr" y="262" fill="url(#r43)"/>
<use href="#hr" y="263" fill="url(#r45)"/>
<use href="#hr" y="264" fill="url(#r44)"/>
<use href="#hr" y="265" fill="url(#r45)"/>
<use href="#hr" y="266" fill="url(#r44)"/>
<use href="#hr" y="267" fill="url(#r45)"/>
<use href="#hr" y="268" fill="url(#r45)"/>
<use href="#hr" y="269" fill="url(#r43)"/>
<use href="#hr" y="270" fill="url(#r45)"/>
<use href="#hr" y="271" fill="url(#r44)"/>
<use href="#hr" y="272" fill="url(#r44)"/>
<use href="#hr" y="273" fill="url(#r46)"/>
<use href="#hr" y="274" fill="url(#r45)"/>
<use href="#hr" y="275" fill="url(#r45)"/>
<use href="#hr" y="276" fill="url(#r46)"/>
<use href="#hr" y="277" fill="url(#r45)"/>
<use href="#hr" y="278" fill="url(#r46)"/>
<use href="#hr" y="279" fill="url(#r47)"/>
<use href="#hr" y="280" fill="url(#r46)"/>
<use href="#hr" y="281" fill="url(#r44)"/>
<use href="#hr" y="282" fill="url(#r45)"/>
<use href="#hr" y="283" fill="url(#r46)"/>
<use href="#hr" y="284" fill="url(#r46)"/>
<use href="#hr" y="285" fill="url(#r43)"/>
<use href="#hr" y="286" fill="url(#r46)"/>
<use href="#hr" y="287" fill="url(#r46)"/>
<use href="#hr" y="288" fill="url(#r45)"/>
<use href="#hr" y="289" fill="url(#r46)"/>
<use href="#hr" y="290" fill="url(#r46)"/>
<use href="#hr" y="291" fill="url(#r47)"/>
<use href="#hr" y="292" fill="url(#r45)"/>
<use href="#hr" y="293" fill="url(#r47)"/>
<use href="#hr" y="294" fill="url(#r46)"/>
<use href="#hr" y="295" fill="url(#r46)"/>
<use href="#hr" y="296" fill="url(#r46)"/>
<use href="#hr" y="297" fill="url(#r47)"/>
<use href="#hr" y="298" fill="url(#r47)"/>
<use href="#hr" y="299" fill="url(#r47)"/>
<use href="#hr" y="300" fill="url(#r47)"/>
<use href="#hr" y="301" fill="url(#r46)"/>
<use href="#hr" y="302" fill="url(#r47)"/>
<use href="#hr" y="303" fill="url(#r47)"/>
<use href="#hr" y="304" fill="url(#r46)"/>
</g>
<g mask="url(#mkw)"><rect x="121.35" y="439.5" width="44.45" height="305.0" filter="url(#nzw)"/></g>
<g mask="url(#mkd2)"><rect x="121.35" y="439.5" width="44.45" height="305.0" filter="url(#nzd)"/></g>
<g mask="url(#mks)"><rect x="121.35" y="439.5" width="44.45" height="305.0" filter="url(#nzs)"/></g>
<rect x="121.35" y="439.5" width="44.45" height="2.1" fill="url(#tb)" opacity=".8"/>
<rect x="121.35" y="441.6" width="44.45" height="1.6" fill="url(#tb)" opacity=".35"/>
<path d="M121.35 731.4h3.6M121.35 738.5h3.6" stroke="#9a9a9a" stroke-width="0.6"/>
<rect x="121.35" y="439.5" width="44.45" height="305.0" fill="none" stroke="#1c1c1c" stroke-width="0.95"/>
<path d="M121.35 744.5v1.6M143.6 744.5v1.2M165.8 744.5v1.6" stroke="#1c1c1c" stroke-width="0.8"/>
<text x="121.5" y="752.5" font-size="4.8" fill="#222" stroke="#222">-3.0</text>
<text x="141.8" y="752.5" font-size="4.8" fill="#222" stroke="#222" text-anchor="middle">TSS</text>
<text x="164.9" y="752.5" font-size="4.8" fill="#222" stroke="#222" text-anchor="end">3.0 Kb</text>
<g transform="translate(169.55 439.5)">
<use href="#hr" y="0" fill="url(#s2)"/>
<use href="#hr" y="1" fill="url(#s3)"/>
<use href="#hr" y="2" fill="url(#s4)"/>
<use href="#hr" y="3" fill="url(#s5)"/>
<use href="#hr" y="4" fill="url(#s6)"/>
<use href="#hr" y="5" fill="url(#s6)"/>
<use href="#hr" y="6" fill="url(#s5)"/>
<use href="#hr" y="7" fill="url(#s6)"/>
<use href="#hr" y="8" fill="url(#s7)"/>
<use href="#hr" y="9" fill="url(#s9)"/>
<use href="#hr" y="10" fill="url(#s9)"/>
<use href="#hr" y="11" fill="url(#s10)"/>
<use href="#hr" y="12" fill="url(#s9)"/>
<use href="#hr" y="13" fill="url(#s9)"/>
<use href="#hr" y="14" fill="url(#s9)"/>
<use href="#hr" y="15" fill="url(#s10)"/>
<use href="#hr" y="16" fill="url(#s11)"/>
<use href="#hr" y="17" fill="url(#s12)"/>
<use href="#hr" y="18" fill="url(#s11)"/>
<use href="#hr" y="19" fill="url(#s13)"/>
<use href="#hr" y="20" fill="url(#s12)"/>
<use href="#hr" y="21" fill="url(#s16)"/>
<use href="#hr" y="22" fill="url(#s13)"/>
<use href="#hr" y="23" fill="url(#s13)"/>
<use href="#hr" y="24" fill="url(#s13)"/>
<use href="#hr" y="25" fill="url(#s13)"/>
<use href="#hr" y="26" fill="url(#s14)"/>
<use href="#hr" y="27" fill="url(#s13)"/>
<use href="#hr" y="28" fill="url(#s13)"/>
<use href="#hr" y="29" fill="url(#s14)"/>
<use href="#hr" y="30" fill="url(#s15)"/>
<use href="#hr" y="31" fill="url(#s15)"/>
<use href="#hr" y="32" fill="url(#s15)"/>
<use href="#hr" y="33" fill="url(#s16)"/>
<use href="#hr" y="34" fill="url(#s17)"/>
<use href="#hr" y="35" fill="url(#s15)"/>
<use href="#hr" y="36" fill="url(#s16)"/>
<use href="#hr" y="37" fill="url(#s16)"/>
<use href="#hr" y="38" fill="url(#s17)"/>
<use href="#hr" y="39" fill="url(#s17)"/>
<use href="#hr" y="40" fill="url(#s16)"/>
<use href="#hr" y="41" fill="url(#s17)"/>
<use href="#hr" y="42" fill="url(#s18)"/>
<use href="#hr" y="43" fill="url(#s18)"/>
<use href="#hr" y="44" fill="url(#s19)"/>
<use href="#hr" y="45" fill="url(#s19)"/>
<use href="#hr" y="46" fill="url(#s17)"/>
<use href="#hr" y="47" fill="url(#s18)"/>
<use href="#hr" y="48" fill="url(#s19)"/>
<use href="#hr" y="49" fill="url(#s20)"/>
<use href="#hr" y="50" fill="url(#s19)"/>
<use href="#hr" y="51" fill="url(#s19)"/>
<use href="#hr" y="52" fill="url(#s18)"/>
<use href="#hr" y="53" fill="url(#s20)"/>
<use href="#hr" y="54" fill="url(#s19)"/>
<use href="#hr" y="55" fill="url(#s19)"/>
<use href="#hr" y="56" fill="url(#s21)"/>
<use href="#hr" y="57" fill="url(#s21)"/>
<use href="#hr" y="58" fill="url(#s20)"/>
<use href="#hr" y="59" fill="url(#s20)"/>
<use href="#hr" y="60" fill="url(#s22)"/>
<use href="#hr" y="61" fill="url(#s21)"/>
<use href="#hr" y="62" fill="url(#s21)"/>
<use href="#hr" y="63" fill="url(#s21)"/>
<use href="#hr" y="64" fill="url(#s21)"/>
<use href="#hr" y="65" fill="url(#s20)"/>
<use href="#hr" y="66" fill="url(#s22)"/>
<use href="#hr" y="67" fill="url(#s22)"/>
<use href="#hr" y="68" fill="url(#s23)"/>
<use href="#hr" y="69" fill="url(#s23)"/>
<use href="#hr" y="70" fill="url(#s22)"/>
<use href="#hr" y="71" fill="url(#s22)"/>
<use href="#hr" y="72" fill="url(#s24)"/>
<use href="#hr" y="73" fill="url(#s22)"/>
<use href="#hr" y="74" fill="url(#s25)"/>
<use href="#hr" y="75" fill="url(#s23)"/>
<use href="#hr" y="76" fill="url(#s23)"/>
<use href="#hr" y="77" fill="url(#s23)"/>
<use href="#hr" y="78" fill="url(#s24)"/>
<use href="#hr" y="79" fill="url(#s24)"/>
<use href="#hr" y="80" fill="url(#s24)"/>
<use href="#hr" y="81" fill="url(#s24)"/>
<use href="#hr" y="82" fill="url(#s25)"/>
<use href="#hr" y="83" fill="url(#s23)"/>
<use href="#hr" y="84" fill="url(#s24)"/>
<use href="#hr" y="85" fill="url(#s24)"/>
<use href="#hr" y="86" fill="url(#s24)"/>
<use href="#hr" y="87" fill="url(#s25)"/>
<use href="#hr" y="88" fill="url(#s25)"/>
<use href="#hr" y="89" fill="url(#s26)"/>
<use href="#hr" y="90" fill="url(#s27)"/>
<use href="#hr" y="91" fill="url(#s26)"/>
<use href="#hr" y="92" fill="url(#s26)"/>
<use href="#hr" y="93" fill="url(#s26)"/>
<use href="#hr" y="94" fill="url(#s26)"/>
<use href="#hr" y="95" fill="url(#s26)"/>
<use href="#hr" y="96" fill="url(#s26)"/>
<use href="#hr" y="97" fill="url(#s26)"/>
<use href="#hr" y="98" fill="url(#s28)"/>
<use href="#hr" y="99" fill="url(#s28)"/>
<use href="#hr" y="100" fill="url(#s27)"/>
<use href="#hr" y="101" fill="url(#s28)"/>
<use href="#hr" y="102" fill="url(#s26)"/>
<use href="#hr" y="103" fill="url(#s27)"/>
<use href="#hr" y="104" fill="url(#s28)"/>
<use href="#hr" y="105" fill="url(#s28)"/>
<use href="#hr" y="106" fill="url(#s28)"/>
<use href="#hr" y="107" fill="url(#s28)"/>
<use href="#hr" y="108" fill="url(#s28)"/>
<use href="#hr" y="109" fill="url(#s28)"/>
<use href="#hr" y="110" fill="url(#s29)"/>
<use href="#hr" y="111" fill="url(#s28)"/>
<use href="#hr" y="112" fill="url(#s29)"/>
<use href="#hr" y="113" fill="url(#s30)"/>
<use href="#hr" y="114" fill="url(#s29)"/>
<use href="#hr" y="115" fill="url(#s29)"/>
<use href="#hr" y="116" fill="url(#s28)"/>
<use href="#hr" y="117" fill="url(#s28)"/>
<use href="#hr" y="118" fill="url(#s30)"/>
<use href="#hr" y="119" fill="url(#s30)"/>
<use href="#hr" y="120" fill="url(#s29)"/>
<use href="#hr" y="121" fill="url(#s30)"/>
<use href="#hr" y="122" fill="url(#s29)"/>
<use href="#hr" y="123" fill="url(#s29)"/>
<use href="#hr" y="124" fill="url(#s30)"/>
<use href="#hr" y="125" fill="url(#s30)"/>
<use href="#hr" y="126" fill="url(#s31)"/>
<use href="#hr" y="127" fill="url(#s31)"/>
<use href="#hr" y="128" fill="url(#s31)"/>
<use href="#hr" y="129" fill="url(#s31)"/>
<use href="#hr" y="130" fill="url(#s31)"/>
<use href="#hr" y="131" fill="url(#s31)"/>
<use href="#hr" y="132" fill="url(#s31)"/>
<use href="#hr" y="133" fill="url(#s30)"/>
<use href="#hr" y="134" fill="url(#s32)"/>
<use href="#hr" y="135" fill="url(#s31)"/>
<use href="#hr" y="136" fill="url(#s30)"/>
<use href="#hr" y="137" fill="url(#s32)"/>
<use href="#hr" y="138" fill="url(#s31)"/>
<use href="#hr" y="139" fill="url(#s32)"/>
<use href="#hr" y="140" fill="url(#s32)"/>
<use href="#hr" y="141" fill="url(#s32)"/>
<use href="#hr" y="142" fill="url(#s32)"/>
<use href="#hr" y="143" fill="url(#s33)"/>
<use href="#hr" y="144" fill="url(#s34)"/>
<use href="#hr" y="145" fill="url(#s32)"/>
<use href="#hr" y="146" fill="url(#s32)"/>
<use href="#hr" y="147" fill="url(#s33)"/>
<use href="#hr" y="148" fill="url(#s32)"/>
<use href="#hr" y="149" fill="url(#s33)"/>
<use href="#hr" y="150" fill="url(#s33)"/>
<use href="#hr" y="151" fill="url(#s35)"/>
<use href="#hr" y="152" fill="url(#s32)"/>
<use href="#hr" y="153" fill="url(#s33)"/>
<use href="#hr" y="154" fill="url(#s34)"/>
<use href="#hr" y="155" fill="url(#s34)"/>
<use href="#hr" y="156" fill="url(#s35)"/>
<use href="#hr" y="157" fill="url(#s35)"/>
<use href="#hr" y="158" fill="url(#s34)"/>
<use href="#hr" y="159" fill="url(#s34)"/>
<use href="#hr" y="160" fill="url(#s33)"/>
<use href="#hr" y="161" fill="url(#s34)"/>
<use href="#hr" y="162" fill="url(#s34)"/>
<use href="#hr" y="163" fill="url(#s34)"/>
<use href="#hr" y="164" fill="url(#s33)"/>
<use href="#hr" y="165" fill="url(#s34)"/>
<use href="#hr" y="166" fill="url(#s35)"/>
<use href="#hr" y="167" fill="url(#s33)"/>
<use href="#hr" y="168" fill="url(#s35)"/>
<use href="#hr" y="169" fill="url(#s34)"/>
<use href="#hr" y="170" fill="url(#s35)"/>
<use href="#hr" y="171" fill="url(#s34)"/>
<use href="#hr" y="172" fill="url(#s34)"/>
<use href="#hr" y="173" fill="url(#s36)"/>
<use href="#hr" y="174" fill="url(#s36)"/>
<use href="#hr" y="175" fill="url(#s34)"/>
<use href="#hr" y="176" fill="url(#s37)"/>
<use href="#hr" y="177" fill="url(#s35)"/>
<use href="#hr" y="178" fill="url(#s36)"/>
<use href="#hr" y="179" fill="url(#s35)"/>
<use href="#hr" y="180" fill="url(#s35)"/>
<use href="#hr" y="181" fill="url(#s37)"/>
<use href="#hr" y="182" fill="url(#s36)"/>
<use href="#hr" y="183" fill="url(#s37)"/>
<use href="#hr" y="184" fill="url(#s36)"/>
<use href="#hr" y="185" fill="url(#s37)"/>
<use href="#hr" y="186" fill="url(#s36)"/>
<use href="#hr" y="187" fill="url(#s37)"/>
<use href="#hr" y="188" fill="url(#s36)"/>
<use href="#hr" y="189" fill="url(#s36)"/>
<use href="#hr" y="190" fill="url(#s37)"/>
<use href="#hr" y="191" fill="url(#s37)"/>
<use href="#hr" y="192" fill="url(#s38)"/>
<use href="#hr" y="193" fill="url(#s38)"/>
<use href="#hr" y="194" fill="url(#s39)"/>
<use href="#hr" y="195" fill="url(#s37)"/>
<use href="#hr" y="196" fill="url(#s40)"/>
<use href="#hr" y="197" fill="url(#s39)"/>
<use href="#hr" y="198" fill="url(#s38)"/>
<use href="#hr" y="199" fill="url(#s37)"/>
<use href="#hr" y="200" fill="url(#s37)"/>
<use href="#hr" y="201" fill="url(#s38)"/>
<use href="#hr" y="202" fill="url(#s40)"/>
<use href="#hr" y="203" fill="url(#s37)"/>
<use href="#hr" y="204" fill="url(#s38)"/>
<use href="#hr" y="205" fill="url(#s39)"/>
<use href="#hr" y="206" fill="url(#s39)"/>
<use href="#hr" y="207" fill="url(#s38)"/>
<use href="#hr" y="208" fill="url(#s39)"/>
<use href="#hr" y="209" fill="url(#s38)"/>
<use href="#hr" y="210" fill="url(#s39)"/>
<use href="#hr" y="211" fill="url(#s38)"/>
<use href="#hr" y="212" fill="url(#s39)"/>
<use href="#hr" y="213" fill="url(#s38)"/>
<use href="#hr" y="214" fill="url(#s38)"/>
<use href="#hr" y="215" fill="url(#s40)"/>
<use href="#hr" y="216" fill="url(#s40)"/>
<use href="#hr" y="217" fill="url(#s40)"/>
<use href="#hr" y="218" fill="url(#s39)"/>
<use href="#hr" y="219" fill="url(#s40)"/>
<use href="#hr" y="220" fill="url(#s40)"/>
<use href="#hr" y="221" fill="url(#s39)"/>
<use href="#hr" y="222" fill="url(#s40)"/>
<use href="#hr" y="223" fill="url(#s41)"/>
<use href="#hr" y="224" fill="url(#s41)"/>
<use href="#hr" y="225" fill="url(#s40)"/>
<use href="#hr" y="226" fill="url(#s41)"/>
<use href="#hr" y="227" fill="url(#s42)"/>
<use href="#hr" y="228" fill="url(#s42)"/>
<use href="#hr" y="229" fill="url(#s40)"/>
<use href="#hr" y="230" fill="url(#s41)"/>
<use href="#hr" y="231" fill="url(#s41)"/>
<use href="#hr" y="232" fill="url(#s41)"/>
<use href="#hr" y="233" fill="url(#s42)"/>
<use href="#hr" y="234" fill="url(#s42)"/>
<use href="#hr" y="235" fill="url(#s43)"/>
<use href="#hr" y="236" fill="url(#s41)"/>
<use href="#hr" y="237" fill="url(#s40)"/>
<use href="#hr" y="238" fill="url(#s43)"/>
<use href="#hr" y="239" fill="url(#s41)"/>
<use href="#hr" y="240" fill="url(#s42)"/>
<use href="#hr" y="241" fill="url(#s43)"/>
<use href="#hr" y="242" fill="url(#s42)"/>
<use href="#hr" y="243" fill="url(#s41)"/>
<use href="#hr" y="244" fill="url(#s43)"/>
<use href="#hr" y="245" fill="url(#s42)"/>
<use href="#hr" y="246" fill="url(#s41)"/>
<use href="#hr" y="247" fill="url(#s43)"/>
<use href="#hr" y="248" fill="url(#s41)"/>
<use href="#hr" y="249" fill="url(#s42)"/>
<use href="#hr" y="250" fill="url(#s42)"/>
<use href="#hr" y="251" fill="url(#s43)"/>
<use href="#hr" y="252" fill="url(#s44)"/>
<use href="#hr" y="253" fill="url(#s43)"/>
<use href="#hr" y="254" fill="url(#s43)"/>
<use href="#hr" y="255" fill="url(#s42)"/>
<use href="#hr" y="256" fill="url(#s43)"/>
<use href="#hr" y="257" fill="url(#s43)"/>
<use href="#hr" y="258" fill="url(#s43)"/>
<use href="#hr" y="259" fill="url(#s42)"/>
<use href="#hr" y="260" fill="url(#s43)"/>
<use href="#hr" y="261" fill="url(#s43)"/>
<use href="#hr" y="262" fill="url(#s43)"/>
<use href="#hr" y="263" fill="url(#s44)"/>
<use href="#hr" y="264" fill="url(#s44)"/>
<use href="#hr" y="265" fill="url(#s44)"/>
<use href="#hr" y="266" fill="url(#s44)"/>
<use href="#hr" y="267" fill="url(#s44)"/>
<use href="#hr" y="268" fill="url(#s45)"/>
<use href="#hr" y="269" fill="url(#s45)"/>
<use href="#hr" y="270" fill="url(#s45)"/>
<use href="#hr" y="271" fill="url(#s44)"/>
<use href="#hr" y="272" fill="url(#s44)"/>
<use href="#hr" y="273" fill="url(#s43)"/>
<use href="#hr" y="274" fill="url(#s45)"/>
<use href="#hr" y="275" fill="url(#s45)"/>
<use href="#hr" y="276" fill="url(#s45)"/>
<use href="#hr" y="277" fill="url(#s46)"/>
<use href="#hr" y="278" fill="url(#s45)"/>
<use href="#hr" y="279" fill="url(#s45)"/>
<use href="#hr" y="280" fill="url(#s45)"/>
<use href="#hr" y="281" fill="url(#s45)"/>
<use href="#hr" y="282" fill="url(#s47)"/>
<use href="#hr" y="283" fill="url(#s44)"/>
<use href="#hr" y="284" fill="url(#s46)"/>
<use href="#hr" y="285" fill="url(#s46)"/>
<use href="#hr" y="286" fill="url(#s46)"/>
<use href="#hr" y="287" fill="url(#s46)"/>
<use href="#hr" y="288" fill="url(#s46)"/>
<use href="#hr" y="289" fill="url(#s46)"/>
<use href="#hr" y="290" fill="url(#s46)"/>
<use href="#hr" y="291" fill="url(#s45)"/>
<use href="#hr" y="292" fill="url(#s47)"/>
<use href="#hr" y="293" fill="url(#s46)"/>
<use href="#hr" y="294" fill="url(#s46)"/>
<use href="#hr" y="295" fill="url(#s47)"/>
<use href="#hr" y="296" fill="url(#s47)"/>
<use href="#hr" y="297" fill="url(#s46)"/>
<use href="#hr" y="298" fill="url(#s47)"/>
<use href="#hr" y="299" fill="url(#s47)"/>
<use href="#hr" y="300" fill="url(#s47)"/>
<use href="#hr" y="301" fill="url(#s47)"/>
<use href="#hr" y="302" fill="url(#s47)"/>
<use href="#hr" y="303" fill="url(#s46)"/>
<use href="#hr" y="304" fill="url(#s45)"/>
</g>
<g mask="url(#mkw)"><rect x="169.55" y="439.5" width="44.45" height="305.0" filter="url(#nzw)"/></g>
<g mask="url(#mkd2)"><rect x="169.55" y="439.5" width="44.45" height="305.0" filter="url(#nzd)"/></g>
<g mask="url(#mks)"><rect x="169.55" y="439.5" width="44.45" height="305.0" filter="url(#nzs)"/></g>
<rect x="169.55" y="439.5" width="44.45" height="2.1" fill="url(#tb)" opacity=".8"/>
<rect x="169.55" y="441.6" width="44.45" height="1.6" fill="url(#tb)" opacity=".35"/>
<path d="M169.55 731.4h3.6M169.55 738.5h3.6" stroke="#9a9a9a" stroke-width="0.6"/>
<rect x="169.55" y="439.5" width="44.45" height="305.0" fill="none" stroke="#1c1c1c" stroke-width="0.95"/>
<path d="M169.55 744.5v1.6M191.8 744.5v1.2M214.0 744.5v1.6" stroke="#1c1c1c" stroke-width="0.8"/>
<text x="169.8" y="752.5" font-size="4.8" fill="#222" stroke="#222">-3.0</text>
<text x="190.1" y="752.5" font-size="4.8" fill="#222" stroke="#222" text-anchor="middle">TSS</text>
<text x="213.2" y="752.5" font-size="4.8" fill="#222" stroke="#222" text-anchor="end">3.0 Kb</text>
<g transform="translate(218.0 439.5)">
<use href="#hr" y="0" fill="url(#t2)"/>
<use href="#hr" y="1" fill="url(#t3)"/>
<use href="#hr" y="2" fill="url(#t4)"/>
<use href="#hr" y="3" fill="url(#t5)"/>
<use href="#hr" y="4" fill="url(#t6)"/>
<use href="#hr" y="5" fill="url(#t6)"/>
<use href="#hr" y="6" fill="url(#t6)"/>
<use href="#hr" y="7" fill="url(#t9)"/>
<use href="#hr" y="8" fill="url(#t8)"/>
<use href="#hr" y="9" fill="url(#t7)"/>
<use href="#hr" y="10" fill="url(#t8)"/>
<use href="#hr" y="11" fill="url(#t10)"/>
<use href="#hr" y="12" fill="url(#t11)"/>
<use href="#hr" y="13" fill="url(#t9)"/>
<use href="#hr" y="14" fill="url(#t11)"/>
<use href="#hr" y="15" fill="url(#t11)"/>
<use href="#hr" y="16" fill="url(#t11)"/>
<use href="#hr" y="17" fill="url(#t11)"/>
<use href="#hr" y="18" fill="url(#t12)"/>
<use href="#hr" y="19" fill="url(#t11)"/>
<use href="#hr" y="20" fill="url(#t11)"/>
<use href="#hr" y="21" fill="url(#t13)"/>
<use href="#hr" y="22" fill="url(#t13)"/>
<use href="#hr" y="23" fill="url(#t13)"/>
<use href="#hr" y="24" fill="url(#t13)"/>
<use href="#hr" y="25" fill="url(#t13)"/>
<use href="#hr" y="26" fill="url(#t15)"/>
<use href="#hr" y="27" fill="url(#t15)"/>
<use href="#hr" y="28" fill="url(#t15)"/>
<use href="#hr" y="29" fill="url(#t16)"/>
<use href="#hr" y="30" fill="url(#t15)"/>
<use href="#hr" y="31" fill="url(#t15)"/>
<use href="#hr" y="32" fill="url(#t15)"/>
<use href="#hr" y="33" fill="url(#t14)"/>
<use href="#hr" y="34" fill="url(#t15)"/>
<use href="#hr" y="35" fill="url(#t16)"/>
<use href="#hr" y="36" fill="url(#t16)"/>
<use href="#hr" y="37" fill="url(#t16)"/>
<use href="#hr" y="38" fill="url(#t16)"/>
<use href="#hr" y="39" fill="url(#t18)"/>
<use href="#hr" y="40" fill="url(#t19)"/>
<use href="#hr" y="41" fill="url(#t17)"/>
<use href="#hr" y="42" fill="url(#t18)"/>
<use href="#hr" y="43" fill="url(#t17)"/>
<use href="#hr" y="44" fill="url(#t17)"/>
<use href="#hr" y="45" fill="url(#t18)"/>
<use href="#hr" y="46" fill="url(#t19)"/>
<use href="#hr" y="47" fill="url(#t19)"/>
<use href="#hr" y="48" fill="url(#t20)"/>
<use href="#hr" y="49" fill="url(#t18)"/>
<use href="#hr" y="50" fill="url(#t22)"/>
<use href="#hr" y="51" fill="url(#t20)"/>
<use href="#hr" y="52" fill="url(#t19)"/>
<use href="#hr" y="53" fill="url(#t20)"/>
<use href="#hr" y="54" fill="url(#t20)"/>
<use href="#hr" y="55" fill="url(#t21)"/>
<use href="#hr" y="56" fill="url(#t20)"/>
<use href="#hr" y="57" fill="url(#t21)"/>
<use href="#hr" y="58" fill="url(#t20)"/>
<use href="#hr" y="59" fill="url(#t21)"/>
<use href="#hr" y="60" fill="url(#t22)"/>
<use href="#hr" y="61" fill="url(#t21)"/>
<use href="#hr" y="62" fill="url(#t23)"/>
<use href="#hr" y="63" fill="url(#t23)"/>
<use href="#hr" y="64" fill="url(#t21)"/>
<use href="#hr" y="65" fill="url(#t22)"/>
<use href="#hr" y="66" fill="url(#t21)"/>
<use href="#hr" y="67" fill="url(#t24)"/>
<use href="#hr" y="68" fill="url(#t22)"/>
<use href="#hr" y="69" fill="url(#t22)"/>
<use href="#hr" y="70" fill="url(#t23)"/>
<use href="#hr" y="71" fill="url(#t23)"/>
<use href="#hr" y="72" fill="url(#t23)"/>
<use href="#hr" y="73" fill="url(#t23)"/>
<use href="#hr" y="74" fill="url(#t22)"/>
<use href="#hr" y="75" fill="url(#t23)"/>
<use href="#hr" y="76" fill="url(#t24)"/>
<use href="#hr" y="77" fill="url(#t23)"/>
<use href="#hr" y="78" fill="url(#t22)"/>
<use href="#hr" y="79" fill="url(#t24)"/>
<use href="#hr" y="80" fill="url(#t22)"/>
<use href="#hr" y="81" fill="url(#t23)"/>
<use href="#hr" y="82" fill="url(#t24)"/>
<use href="#hr" y="83" fill="url(#t24)"/>
<use href="#hr" y="84" fill="url(#t26)"/>
<use href="#hr" y="85" fill="url(#t25)"/>
<use href="#hr" y="86" fill="url(#t27)"/>
<use href="#hr" y="87" fill="url(#t26)"/>
<use href="#hr" y="88" fill="url(#t26)"/>
<use href="#hr" y="89" fill="url(#t26)"/>
<use href="#hr" y="90" fill="url(#t25)"/>
<use href="#hr" y="91" fill="url(#t27)"/>
<use href="#hr" y="92" fill="url(#t27)"/>
<use href="#hr" y="93" fill="url(#t26)"/>
<use href="#hr" y="94" fill="url(#t26)"/>
<use href="#hr" y="95" fill="url(#t25)"/>
<use href="#hr" y="96" fill="url(#t27)"/>
<use href="#hr" y="97" fill="url(#t27)"/>
<use href="#hr" y="98" fill="url(#t27)"/>
<use href="#hr" y="99" fill="url(#t28)"/>
<use href="#hr" y="100" fill="url(#t27)"/>
<use href="#hr" y="101" fill="url(#t28)"/>
<use href="#hr" y="102" fill="url(#t28)"/>
<use href="#hr" y="103" fill="url(#t27)"/>
<use href="#hr" y="104" fill="url(#t28)"/>
<use href="#hr" y="105" fill="url(#t29)"/>
<use href="#hr" y="106" fill="url(#t27)"/>
<use href="#hr" y="107" fill="url(#t27)"/>
<use href="#hr" y="108" fill="url(#t27)"/>
<use href="#hr" y="109" fill="url(#t27)"/>
<use href="#hr" y="110" fill="url(#t28)"/>
<use href="#hr" y="111" fill="url(#t29)"/>
<use href="#hr" y="112" fill="url(#t29)"/>
<use href="#hr" y="113" fill="url(#t28)"/>
<use href="#hr" y="114" fill="url(#t28)"/>
<use href="#hr" y="115" fill="url(#t29)"/>
<use href="#hr" y="116" fill="url(#t28)"/>
<use href="#hr" y="117" fill="url(#t30)"/>
<use href="#hr" y="118" fill="url(#t28)"/>
<use href="#hr" y="119" fill="url(#t30)"/>
<use href="#hr" y="120" fill="url(#t29)"/>
<use href="#hr" y="121" fill="url(#t30)"/>
<use href="#hr" y="122" fill="url(#t30)"/>
<use href="#hr" y="123" fill="url(#t31)"/>
<use href="#hr" y="124" fill="url(#t31)"/>
<use href="#hr" y="125" fill="url(#t30)"/>
<use href="#hr" y="126" fill="url(#t31)"/>
<use href="#hr" y="127" fill="url(#t31)"/>
<use href="#hr" y="128" fill="url(#t29)"/>
<use href="#hr" y="129" fill="url(#t31)"/>
<use href="#hr" y="130" fill="url(#t32)"/>
<use href="#hr" y="131" fill="url(#t31)"/>
<use href="#hr" y="132" fill="url(#t32)"/>
<use href="#hr" y="133" fill="url(#t31)"/>
<use href="#hr" y="134" fill="url(#t32)"/>
<use href="#hr" y="135" fill="url(#t30)"/>
<use href="#hr" y="136" fill="url(#t32)"/>
<use href="#hr" y="137" fill="url(#t30)"/>
<use href="#hr" y="138" fill="url(#t32)"/>
<use href="#hr" y="139" fill="url(#t32)"/>
<use href="#hr" y="140" fill="url(#t32)"/>
<use href="#hr" y="141" fill="url(#t33)"/>
<use href="#hr" y="142" fill="url(#t32)"/>
<use href="#hr" y="143" fill="url(#t32)"/>
<use href="#hr" y="144" fill="url(#t32)"/>
<use href="#hr" y="145" fill="url(#t32)"/>
<use href="#hr" y="146" fill="url(#t33)"/>
<use href="#hr" y="147" fill="url(#t31)"/>
<use href="#hr" y="148" fill="url(#t33)"/>
<use href="#hr" y="149" fill="url(#t33)"/>
<use href="#hr" y="150" fill="url(#t34)"/>
<use href="#hr" y="151" fill="url(#t34)"/>
<use href="#hr" y="152" fill="url(#t34)"/>
<use href="#hr" y="153" fill="url(#t33)"/>
<use href="#hr" y="154" fill="url(#t33)"/>
<use href="#hr" y="155" fill="url(#t35)"/>
<use href="#hr" y="156" fill="url(#t33)"/>
<use href="#hr" y="157" fill="url(#t33)"/>
<use href="#hr" y="158" fill="url(#t34)"/>
<use href="#hr" y="159" fill="url(#t34)"/>
<use href="#hr" y="160" fill="url(#t34)"/>
<use href="#hr" y="161" fill="url(#t35)"/>
<use href="#hr" y="162" fill="url(#t35)"/>
<use href="#hr" y="163" fill="url(#t34)"/>
<use href="#hr" y="164" fill="url(#t34)"/>
<use href="#hr" y="165" fill="url(#t35)"/>
<use href="#hr" y="166" fill="url(#t35)"/>
<use href="#hr" y="167" fill="url(#t35)"/>
<use href="#hr" y="168" fill="url(#t36)"/>
<use href="#hr" y="169" fill="url(#t35)"/>
<use href="#hr" y="170" fill="url(#t35)"/>
<use href="#hr" y="171" fill="url(#t34)"/>
<use href="#hr" y="172" fill="url(#t34)"/>
<use href="#hr" y="173" fill="url(#t35)"/>
<use href="#hr" y="174" fill="url(#t37)"/>
<use href="#hr" y="175" fill="url(#t36)"/>
<use href="#hr" y="176" fill="url(#t36)"/>
<use href="#hr" y="177" fill="url(#t37)"/>
<use href="#hr" y="178" fill="url(#t37)"/>
<use href="#hr" y="179" fill="url(#t35)"/>
<use href="#hr" y="180" fill="url(#t36)"/>
<use href="#hr" y="181" fill="url(#t35)"/>
<use href="#hr" y="182" fill="url(#t37)"/>
<use href="#hr" y="183" fill="url(#t36)"/>
<use href="#hr" y="184" fill="url(#t37)"/>
<use href="#hr" y="185" fill="url(#t37)"/>
<use href="#hr" y="186" fill="url(#t35)"/>
<use href="#hr" y="187" fill="url(#t36)"/>
<use href="#hr" y="188" fill="url(#t37)"/>
<use href="#hr" y="189" fill="url(#t38)"/>
<use href="#hr" y="190" fill="url(#t37)"/>
<use href="#hr" y="191" fill="url(#t38)"/>
<use href="#hr" y="192" fill="url(#t37)"/>
<use href="#hr" y="193" fill="url(#t39)"/>
<use href="#hr" y="194" fill="url(#t38)"/>
<use href="#hr" y="195" fill="url(#t37)"/>
<use href="#hr" y="196" fill="url(#t38)"/>
<use href="#hr" y="197" fill="url(#t38)"/>
<use href="#hr" y="198" fill="url(#t38)"/>
<use href="#hr" y="199" fill="url(#t39)"/>
<use href="#hr" y="200" fill="url(#t38)"/>
<use href="#hr" y="201" fill="url(#t38)"/>
<use href="#hr" y="202" fill="url(#t39)"/>
<use href="#hr" y="203" fill="url(#t38)"/>
<use href="#hr" y="204" fill="url(#t39)"/>
<use href="#hr" y="205" fill="url(#t40)"/>
<use href="#hr" y="206" fill="url(#t39)"/>
<use href="#hr" y="207" fill="url(#t39)"/>
<use href="#hr" y="208" fill="url(#t38)"/>
<use href="#hr" y="209" fill="url(#t38)"/>
<use href="#hr" y="210" fill="url(#t41)"/>
<use href="#hr" y="211" fill="url(#t39)"/>
<use href="#hr" y="212" fill="url(#t39)"/>
<use href="#hr" y="213" fill="url(#t40)"/>
<use href="#hr" y="214" fill="url(#t40)"/>
<use href="#hr" y="215" fill="url(#t39)"/>
<use href="#hr" y="216" fill="url(#t39)"/>
<use href="#hr" y="217" fill="url(#t40)"/>
<use href="#hr" y="218" fill="url(#t40)"/>
<use href="#hr" y="219" fill="url(#t39)"/>
<use href="#hr" y="220" fill="url(#t39)"/>
<use href="#hr" y="221" fill="url(#t39)"/>
<use href="#hr" y="222" fill="url(#t40)"/>
<use href="#hr" y="223" fill="url(#t40)"/>
<use href="#hr" y="224" fill="url(#t39)"/>
<use href="#hr" y="225" fill="url(#t40)"/>
<use href="#hr" y="226" fill="url(#t40)"/>
<use href="#hr" y="227" fill="url(#t41)"/>
<use href="#hr" y="228" fill="url(#t41)"/>
<use href="#hr" y="229" fill="url(#t40)"/>
<use href="#hr" y="230" fill="url(#t41)"/>
<use href="#hr" y="231" fill="url(#t39)"/>
<use href="#hr" y="232" fill="url(#t41)"/>
<use href="#hr" y="233" fill="url(#t41)"/>
<use href="#hr" y="234" fill="url(#t41)"/>
<use href="#hr" y="235" fill="url(#t41)"/>
<use href="#hr" y="236" fill="url(#t42)"/>
<use href="#hr" y="237" fill="url(#t41)"/>
<use href="#hr" y="238" fill="url(#t42)"/>
<use href="#hr" y="239" fill="url(#t42)"/>
<use href="#hr" y="240" fill="url(#t42)"/>
<use href="#hr" y="241" fill="url(#t42)"/>
<use href="#hr" y="242" fill="url(#t42)"/>
<use href="#hr" y="243" fill="url(#t43)"/>
<use href="#hr" y="244" fill="url(#t41)"/>
<use href="#hr" y="245" fill="url(#t42)"/>
<use href="#hr" y="246" fill="url(#t42)"/>
<use href="#hr" y="247" fill="url(#t41)"/>
<use href="#hr" y="248" fill="url(#t44)"/>
<use href="#hr" y="249" fill="url(#t43)"/>
<use href="#hr" y="250" fill="url(#t43)"/>
<use href="#hr" y="251" fill="url(#t43)"/>
<use href="#hr" y="252" fill="url(#t43)"/>
<use href="#hr" y="253" fill="url(#t42)"/>
<use href="#hr" y="254" fill="url(#t43)"/>
<use href="#hr" y="255" fill="url(#t43)"/>
<use href="#hr" y="256" fill="url(#t43)"/>
<use href="#hr" y="257" fill="url(#t43)"/>
<use href="#hr" y="258" fill="url(#t43)"/>
<use href="#hr" y="259" fill="url(#t43)"/>
<use href="#hr" y="260" fill="url(#t44)"/>
<use href="#hr" y="261" fill="url(#t44)"/>
<use href="#hr" y="262" fill="url(#t44)"/>
<use href="#hr" y="263" fill="url(#t43)"/>
<use href="#hr" y="264" fill="url(#t43)"/>
<use href="#hr" y="265" fill="url(#t45)"/>
<use href="#hr" y="266" fill="url(#t43)"/>
<use href="#hr" y="267" fill="url(#t44)"/>
<use href="#hr" y="268" fill="url(#t44)"/>
<use href="#hr" y="269" fill="url(#t44)"/>
<use href="#hr" y="270" fill="url(#t44)"/>
<use href="#hr" y="271" fill="url(#t43)"/>
<use href="#hr" y="272" fill="url(#t45)"/>
<use href="#hr" y="273" fill="url(#t43)"/>
<use href="#hr" y="274" fill="url(#t44)"/>
<use href="#hr" y="275" fill="url(#t45)"/>
<use href="#hr" y="276" fill="url(#t46)"/>
<use href="#hr" y="277" fill="url(#t46)"/>
<use href="#hr" y="278" fill="url(#t44)"/>
<use href="#hr" y="279" fill="url(#t44)"/>
<use href="#hr" y="280" fill="url(#t44)"/>
<use href="#hr" y="281" fill="url(#t45)"/>
<use href="#hr" y="282" fill="url(#t43)"/>
<use href="#hr" y="283" fill="url(#t46)"/>
<use href="#hr" y="284" fill="url(#t46)"/>
<use href="#hr" y="285" fill="url(#t46)"/>
<use href="#hr" y="286" fill="url(#t46)"/>
<use href="#hr" y="287" fill="url(#t46)"/>
<use href="#hr" y="288" fill="url(#t45)"/>
<use href="#hr" y="289" fill="url(#t46)"/>
<use href="#hr" y="290" fill="url(#t45)"/>
<use href="#hr" y="291" fill="url(#t46)"/>
<use href="#hr" y="292" fill="url(#t46)"/>
<use href="#hr" y="293" fill="url(#t45)"/>
<use href="#hr" y="294" fill="url(#t47)"/>
<use href="#hr" y="295" fill="url(#t46)"/>
<use href="#hr" y="296" fill="url(#t45)"/>
<use href="#hr" y="297" fill="url(#t47)"/>
<use href="#hr" y="298" fill="url(#t47)"/>
<use href="#hr" y="299" fill="url(#t47)"/>
<use href="#hr" y="300" fill="url(#t47)"/>
<use href="#hr" y="301" fill="url(#t47)"/>
<use href="#hr" y="302" fill="url(#t47)"/>
<use href="#hr" y="303" fill="url(#t46)"/>
<use href="#hr" y="304" fill="url(#t46)"/>
</g>
<g mask="url(#mkw)"><rect x="218.0" y="439.5" width="44.45" height="305.0" filter="url(#nzw)"/></g>
<g mask="url(#mkd)"><rect x="218.0" y="439.5" width="44.45" height="305.0" filter="url(#nzd)"/></g>
<g mask="url(#mks)"><rect x="218.0" y="439.5" width="44.45" height="305.0" filter="url(#nzs)"/></g>
<path d="M218.0 731.4h3.6M218.0 738.5h3.6" stroke="#9a9a9a" stroke-width="0.6"/>
<rect x="218.0" y="439.5" width="44.45" height="305.0" fill="none" stroke="#1c1c1c" stroke-width="0.95"/>
<path d="M218.0 744.5v1.6M240.2 744.5v1.2M262.4 744.5v1.6" stroke="#1c1c1c" stroke-width="0.8"/>
<text x="218.2" y="752.5" font-size="4.8" fill="#222" stroke="#222">-3.0</text>
<text x="238.5" y="752.5" font-size="4.8" fill="#222" stroke="#222" text-anchor="middle">TSS</text>
<text x="261.6" y="752.5" font-size="4.8" fill="#222" stroke="#222" text-anchor="end">3.0 Kb</text>
<g transform="translate(266.35 439.5)">
<use href="#hr" y="0" fill="url(#u2)"/>
<use href="#hr" y="1" fill="url(#u3)"/>
<use href="#hr" y="2" fill="url(#u4)"/>
<use href="#hr" y="3" fill="url(#u5)"/>
<use href="#hr" y="4" fill="url(#u6)"/>
<use href="#hr" y="5" fill="url(#u6)"/>
<use href="#hr" y="6" fill="url(#u6)"/>
<use href="#hr" y="7" fill="url(#u8)"/>
<use href="#hr" y="8" fill="url(#u8)"/>
<use href="#hr" y="9" fill="url(#u8)"/>
<use href="#hr" y="10" fill="url(#u10)"/>
<use href="#hr" y="11" fill="url(#u9)"/>
<use href="#hr" y="12" fill="url(#u9)"/>
<use href="#hr" y="13" fill="url(#u9)"/>
<use href="#hr" y="14" fill="url(#u11)"/>
<use href="#hr" y="15" fill="url(#u10)"/>
<use href="#hr" y="16" fill="url(#u11)"/>
<use href="#hr" y="17" fill="url(#u12)"/>
<use href="#hr" y="18" fill="url(#u13)"/>
<use href="#hr" y="19" fill="url(#u11)"/>
<use href="#hr" y="20" fill="url(#u13)"/>
<use href="#hr" y="21" fill="url(#u12)"/>
<use href="#hr" y="22" fill="url(#u14)"/>
<use href="#hr" y="23" fill="url(#u12)"/>
<use href="#hr" y="24" fill="url(#u13)"/>
<use href="#hr" y="25" fill="url(#u14)"/>
<use href="#hr" y="26" fill="url(#u13)"/>
<use href="#hr" y="27" fill="url(#u13)"/>
<use href="#hr" y="28" fill="url(#u14)"/>
<use href="#hr" y="29" fill="url(#u15)"/>
<use href="#hr" y="30" fill="url(#u15)"/>
<use href="#hr" y="31" fill="url(#u16)"/>
<use href="#hr" y="32" fill="url(#u15)"/>
<use href="#hr" y="33" fill="url(#u16)"/>
<use href="#hr" y="34" fill="url(#u15)"/>
<use href="#hr" y="35" fill="url(#u16)"/>
<use href="#hr" y="36" fill="url(#u16)"/>
<use href="#hr" y="37" fill="url(#u16)"/>
<use href="#hr" y="38" fill="url(#u17)"/>
<use href="#hr" y="39" fill="url(#u17)"/>
<use href="#hr" y="40" fill="url(#u17)"/>
<use href="#hr" y="41" fill="url(#u20)"/>
<use href="#hr" y="42" fill="url(#u18)"/>
<use href="#hr" y="43" fill="url(#u17)"/>
<use href="#hr" y="44" fill="url(#u17)"/>
<use href="#hr" y="45" fill="url(#u20)"/>
<use href="#hr" y="46" fill="url(#u18)"/>
<use href="#hr" y="47" fill="url(#u20)"/>
<use href="#hr" y="48" fill="url(#u19)"/>
<use href="#hr" y="49" fill="url(#u18)"/>
<use href="#hr" y="50" fill="url(#u18)"/>
<use href="#hr" y="51" fill="url(#u20)"/>
<use href="#hr" y="52" fill="url(#u20)"/>
<use href="#hr" y="53" fill="url(#u20)"/>
<use href="#hr" y="54" fill="url(#u20)"/>
<use href="#hr" y="55" fill="url(#u20)"/>
<use href="#hr" y="56" fill="url(#u19)"/>
<use href="#hr" y="57" fill="url(#u21)"/>
<use href="#hr" y="58" fill="url(#u20)"/>
<use href="#hr" y="59" fill="url(#u21)"/>
<use href="#hr" y="60" fill="url(#u21)"/>
<use href="#hr" y="61" fill="url(#u21)"/>
<use href="#hr" y="62" fill="url(#u22)"/>
<use href="#hr" y="63" fill="url(#u21)"/>
<use href="#hr" y="64" fill="url(#u22)"/>
<use href="#hr" y="65" fill="url(#u23)"/>
<use href="#hr" y="66" fill="url(#u22)"/>
<use href="#hr" y="67" fill="url(#u21)"/>
<use href="#hr" y="68" fill="url(#u21)"/>
<use href="#hr" y="69" fill="url(#u22)"/>
<use href="#hr" y="70" fill="url(#u22)"/>
<use href="#hr" y="71" fill="url(#u24)"/>
<use href="#hr" y="72" fill="url(#u24)"/>
<use href="#hr" y="73" fill="url(#u23)"/>
<use href="#hr" y="74" fill="url(#u25)"/>
<use href="#hr" y="75" fill="url(#u25)"/>
<use href="#hr" y="76" fill="url(#u25)"/>
<use href="#hr" y="77" fill="url(#u23)"/>
<use href="#hr" y="78" fill="url(#u23)"/>
<use href="#hr" y="79" fill="url(#u25)"/>
<use href="#hr" y="80" fill="url(#u24)"/>
<use href="#hr" y="81" fill="url(#u25)"/>
<use href="#hr" y="82" fill="url(#u24)"/>
<use href="#hr" y="83" fill="url(#u24)"/>
<use href="#hr" y="84" fill="url(#u25)"/>
<use href="#hr" y="85" fill="url(#u25)"/>
<use href="#hr" y="86" fill="url(#u23)"/>
<use href="#hr" y="87" fill="url(#u26)"/>
<use href="#hr" y="88" fill="url(#u26)"/>
<use href="#hr" y="89" fill="url(#u26)"/>
<use href="#hr" y="90" fill="url(#u25)"/>
<use href="#hr" y="91" fill="url(#u26)"/>
<use href="#hr" y="92" fill="url(#u27)"/>
<use href="#hr" y="93" fill="url(#u25)"/>
<use href="#hr" y="94" fill="url(#u27)"/>
<use href="#hr" y="95" fill="url(#u27)"/>
<use href="#hr" y="96" fill="url(#u26)"/>
<use href="#hr" y="97" fill="url(#u26)"/>
<use href="#hr" y="98" fill="url(#u28)"/>
<use href="#hr" y="99" fill="url(#u27)"/>
<use href="#hr" y="100" fill="url(#u27)"/>
<use href="#hr" y="101" fill="url(#u27)"/>
<use href="#hr" y="102" fill="url(#u27)"/>
<use href="#hr" y="103" fill="url(#u27)"/>
<use href="#hr" y="104" fill="url(#u27)"/>
<use href="#hr" y="105" fill="url(#u27)"/>
<use href="#hr" y="106" fill="url(#u28)"/>
<use href="#hr" y="107" fill="url(#u29)"/>
<use href="#hr" y="108" fill="url(#u28)"/>
<use href="#hr" y="109" fill="url(#u29)"/>
<use href="#hr" y="110" fill="url(#u29)"/>
<use href="#hr" y="111" fill="url(#u29)"/>
<use href="#hr" y="112" fill="url(#u28)"/>
<use href="#hr" y="113" fill="url(#u29)"/>
<use href="#hr" y="114" fill="url(#u30)"/>
<use href="#hr" y="115" fill="url(#u30)"/>
<use href="#hr" y="116" fill="url(#u27)"/>
<use href="#hr" y="117" fill="url(#u29)"/>
<use href="#hr" y="118" fill="url(#u29)"/>
<use href="#hr" y="119" fill="url(#u29)"/>
<use href="#hr" y="120" fill="url(#u29)"/>
<use href="#hr" y="121" fill="url(#u30)"/>
<use href="#hr" y="122" fill="url(#u31)"/>
<use href="#hr" y="123" fill="url(#u30)"/>
<use href="#hr" y="124" fill="url(#u30)"/>
<use href="#hr" y="125" fill="url(#u32)"/>
<use href="#hr" y="126" fill="url(#u30)"/>
<use href="#hr" y="127" fill="url(#u29)"/>
<use href="#hr" y="128" fill="url(#u30)"/>
<use href="#hr" y="129" fill="url(#u29)"/>
<use href="#hr" y="130" fill="url(#u31)"/>
<use href="#hr" y="131" fill="url(#u32)"/>
<use href="#hr" y="132" fill="url(#u31)"/>
<use href="#hr" y="133" fill="url(#u31)"/>
<use href="#hr" y="134" fill="url(#u31)"/>
<use href="#hr" y="135" fill="url(#u32)"/>
<use href="#hr" y="136" fill="url(#u31)"/>
<use href="#hr" y="137" fill="url(#u32)"/>
<use href="#hr" y="138" fill="url(#u32)"/>
<use href="#hr" y="139" fill="url(#u32)"/>
<use href="#hr" y="140" fill="url(#u33)"/>
<use href="#hr" y="141" fill="url(#u32)"/>
<use href="#hr" y="142" fill="url(#u33)"/>
<use href="#hr" y="143" fill="url(#u31)"/>
<use href="#hr" y="144" fill="url(#u32)"/>
<use href="#hr" y="145" fill="url(#u32)"/>
<use href="#hr" y="146" fill="url(#u31)"/>
<use href="#hr" y="147" fill="url(#u33)"/>
<use href="#hr" y="148" fill="url(#u33)"/>
<use href="#hr" y="149" fill="url(#u33)"/>
<use href="#hr" y="150" fill="url(#u34)"/>
<use href="#hr" y="151" fill="url(#u33)"/>
<use href="#hr" y="152" fill="url(#u34)"/>
<use href="#hr" y="153" fill="url(#u33)"/>
<use href="#hr" y="154" fill="url(#u34)"/>
<use href="#hr" y="155" fill="url(#u34)"/>
<use href="#hr" y="156" fill="url(#u34)"/>
<use href="#hr" y="157" fill="url(#u33)"/>
<use href="#hr" y="158" fill="url(#u34)"/>
<use href="#hr" y="159" fill="url(#u34)"/>
<use href="#hr" y="160" fill="url(#u34)"/>
<use href="#hr" y="161" fill="url(#u35)"/>
<use href="#hr" y="162" fill="url(#u34)"/>
<use href="#hr" y="163" fill="url(#u35)"/>
<use href="#hr" y="164" fill="url(#u35)"/>
<use href="#hr" y="165" fill="url(#u34)"/>
<use href="#hr" y="166" fill="url(#u34)"/>
<use href="#hr" y="167" fill="url(#u33)"/>
<use href="#hr" y="168" fill="url(#u36)"/>
<use href="#hr" y="169" fill="url(#u35)"/>
<use href="#hr" y="170" fill="url(#u34)"/>
<use href="#hr" y="171" fill="url(#u35)"/>
<use href="#hr" y="172" fill="url(#u35)"/>
<use href="#hr" y="173" fill="url(#u35)"/>
<use href="#hr" y="174" fill="url(#u35)"/>
<use href="#hr" y="175" fill="url(#u35)"/>
<use href="#hr" y="176" fill="url(#u36)"/>
<use href="#hr" y="177" fill="url(#u36)"/>
<use href="#hr" y="178" fill="url(#u35)"/>
<use href="#hr" y="179" fill="url(#u35)"/>
<use href="#hr" y="180" fill="url(#u36)"/>
<use href="#hr" y="181" fill="url(#u37)"/>
<use href="#hr" y="182" fill="url(#u37)"/>
<use href="#hr" y="183" fill="url(#u37)"/>
<use href="#hr" y="184" fill="url(#u37)"/>
<use href="#hr" y="185" fill="url(#u37)"/>
<use href="#hr" y="186" fill="url(#u36)"/>
<use href="#hr" y="187" fill="url(#u37)"/>
<use href="#hr" y="188" fill="url(#u36)"/>
<use href="#hr" y="189" fill="url(#u37)"/>
<use href="#hr" y="190" fill="url(#u36)"/>
<use href="#hr" y="191" fill="url(#u37)"/>
<use href="#hr" y="192" fill="url(#u37)"/>
<use href="#hr" y="193" fill="url(#u38)"/>
<use href="#hr" y="194" fill="url(#u37)"/>
<use href="#hr" y="195" fill="url(#u39)"/>
<use href="#hr" y="196" fill="url(#u37)"/>
<use href="#hr" y="197" fill="url(#u39)"/>
<use href="#hr" y="198" fill="url(#u37)"/>
<use href="#hr" y="199" fill="url(#u37)"/>
<use href="#hr" y="200" fill="url(#u37)"/>
<use href="#hr" y="201" fill="url(#u38)"/>
<use href="#hr" y="202" fill="url(#u39)"/>
<use href="#hr" y="203" fill="url(#u39)"/>
<use href="#hr" y="204" fill="url(#u38)"/>
<use href="#hr" y="205" fill="url(#u39)"/>
<use href="#hr" y="206" fill="url(#u38)"/>
<use href="#hr" y="207" fill="url(#u39)"/>
<use href="#hr" y="208" fill="url(#u40)"/>
<use href="#hr" y="209" fill="url(#u40)"/>
<use href="#hr" y="210" fill="url(#u38)"/>
<use href="#hr" y="211" fill="url(#u39)"/>
<use href="#hr" y="212" fill="url(#u39)"/>
<use href="#hr" y="213" fill="url(#u38)"/>
<use href="#hr" y="214" fill="url(#u40)"/>
<use href="#hr" y="215" fill="url(#u39)"/>
<use href="#hr" y="216" fill="url(#u40)"/>
<use href="#hr" y="217" fill="url(#u40)"/>
<use href="#hr" y="218" fill="url(#u40)"/>
<use href="#hr" y="219" fill="url(#u39)"/>
<use href="#hr" y="220" fill="url(#u39)"/>
<use href="#hr" y="221" fill="url(#u40)"/>
<use href="#hr" y="222" fill="url(#u40)"/>
<use href="#hr" y="223" fill="url(#u40)"/>
<use href="#hr" y="224" fill="url(#u41)"/>
<use href="#hr" y="225" fill="url(#u41)"/>
<use href="#hr" y="226" fill="url(#u40)"/>
<use href="#hr" y="227" fill="url(#u40)"/>
<use href="#hr" y="228" fill="url(#u42)"/>
<use href="#hr" y="229" fill="url(#u42)"/>
<use href="#hr" y="230" fill="url(#u42)"/>
<use href="#hr" y="231" fill="url(#u39)"/>
<use href="#hr" y="232" fill="url(#u39)"/>
<use href="#hr" y="233" fill="url(#u41)"/>
<use href="#hr" y="234" fill="url(#u41)"/>
<use href="#hr" y="235" fill="url(#u42)"/>
<use href="#hr" y="236" fill="url(#u42)"/>
<use href="#hr" y="237" fill="url(#u42)"/>
<use href="#hr" y="238" fill="url(#u41)"/>
<use href="#hr" y="239" fill="url(#u42)"/>
<use href="#hr" y="240" fill="url(#u42)"/>
<use href="#hr" y="241" fill="url(#u41)"/>
<use href="#hr" y="242" fill="url(#u41)"/>
<use href="#hr" y="243" fill="url(#u42)"/>
<use href="#hr" y="244" fill="url(#u42)"/>
<use href="#hr" y="245" fill="url(#u42)"/>
<use href="#hr" y="246" fill="url(#u41)"/>
<use href="#hr" y="247" fill="url(#u43)"/>
<use href="#hr" y="248" fill="url(#u42)"/>
<use href="#hr" y="249" fill="url(#u43)"/>
<use href="#hr" y="250" fill="url(#u42)"/>
<use href="#hr" y="251" fill="url(#u42)"/>
<use href="#hr" y="252" fill="url(#u42)"/>
<use href="#hr" y="253" fill="url(#u42)"/>
<use href="#hr" y="254" fill="url(#u43)"/>
<use href="#hr" y="255" fill="url(#u44)"/>
<use href="#hr" y="256" fill="url(#u43)"/>
<use href="#hr" y="257" fill="url(#u44)"/>
<use href="#hr" y="258" fill="url(#u42)"/>
<use href="#hr" y="259" fill="url(#u44)"/>
<use href="#hr" y="260" fill="url(#u43)"/>
<use href="#hr" y="261" fill="url(#u44)"/>
<use href="#hr" y="262" fill="url(#u42)"/>
<use href="#hr" y="263" fill="url(#u45)"/>
<use href="#hr" y="264" fill="url(#u43)"/>
<use href="#hr" y="265" fill="url(#u45)"/>
<use href="#hr" y="266" fill="url(#u43)"/>
<use href="#hr" y="267" fill="url(#u44)"/>
<use href="#hr" y="268" fill="url(#u44)"/>
<use href="#hr" y="269" fill="url(#u45)"/>
<use href="#hr" y="270" fill="url(#u43)"/>
<use href="#hr" y="271" fill="url(#u44)"/>
<use href="#hr" y="272" fill="url(#u44)"/>
<use href="#hr" y="273" fill="url(#u44)"/>
<use href="#hr" y="274" fill="url(#u44)"/>
<use href="#hr" y="275" fill="url(#u45)"/>
<use href="#hr" y="276" fill="url(#u44)"/>
<use href="#hr" y="277" fill="url(#u46)"/>
<use href="#hr" y="278" fill="url(#u46)"/>
<use href="#hr" y="279" fill="url(#u46)"/>
<use href="#hr" y="280" fill="url(#u43)"/>
<use href="#hr" y="281" fill="url(#u46)"/>
<use href="#hr" y="282" fill="url(#u45)"/>
<use href="#hr" y="283" fill="url(#u45)"/>
<use href="#hr" y="284" fill="url(#u47)"/>
<use href="#hr" y="285" fill="url(#u46)"/>
<use href="#hr" y="286" fill="url(#u45)"/>
<use href="#hr" y="287" fill="url(#u46)"/>
<use href="#hr" y="288" fill="url(#u46)"/>
<use href="#hr" y="289" fill="url(#u44)"/>
<use href="#hr" y="290" fill="url(#u46)"/>
<use href="#hr" y="291" fill="url(#u47)"/>
<use href="#hr" y="292" fill="url(#u45)"/>
<use href="#hr" y="293" fill="url(#u47)"/>
<use href="#hr" y="294" fill="url(#u46)"/>
<use href="#hr" y="295" fill="url(#u46)"/>
<use href="#hr" y="296" fill="url(#u46)"/>
<use href="#hr" y="297" fill="url(#u46)"/>
<use href="#hr" y="298" fill="url(#u46)"/>
<use href="#hr" y="299" fill="url(#u47)"/>
<use href="#hr" y="300" fill="url(#u47)"/>
<use href="#hr" y="301" fill="url(#u47)"/>
<use href="#hr" y="302" fill="url(#u47)"/>
<use href="#hr" y="303" fill="url(#u47)"/>
<use href="#hr" y="304" fill="url(#u47)"/>
</g>
<g mask="url(#mkw)"><rect x="266.35" y="439.5" width="44.45" height="305.0" filter="url(#nzw)"/></g>
<g mask="url(#mkd)"><rect x="266.35" y="439.5" width="44.45" height="305.0" filter="url(#nzd)"/></g>
<g mask="url(#mks)"><rect x="266.35" y="439.5" width="44.45" height="305.0" filter="url(#nzs)"/></g>
<path d="M266.35 731.4h3.6M266.35 738.5h3.6" stroke="#9a9a9a" stroke-width="0.6"/>
<rect x="266.35" y="439.5" width="44.45" height="305.0" fill="none" stroke="#1c1c1c" stroke-width="0.95"/>
<path d="M266.35 744.5v1.6M288.6 744.5v1.2M310.8 744.5v1.6" stroke="#1c1c1c" stroke-width="0.8"/>
<text x="266.6" y="752.5" font-size="4.8" fill="#222" stroke="#222">-3.0</text>
<text x="286.9" y="752.5" font-size="4.8" fill="#222" stroke="#222" text-anchor="middle">TSS</text>
<text x="310.0" y="752.5" font-size="4.8" fill="#222" stroke="#222" text-anchor="end">3.0 Kb</text>
<text x="172.4" y="762.3" font-size="8.9" fill="#0a0a0a" stroke="#0a0a0a" text-anchor="middle">gene distance (bp)</text>
<text x="19.6" y="586.6" font-size="9.4" fill="#0a0a0a" stroke="#0a0a0a" text-anchor="middle" transform="rotate(-90 19.6 586.6)">genes</text>
<rect x="314.3" y="439.5" width="5.8" height="305.0" fill="url(#cb)" stroke="#222" stroke-width="0.8"/>
<path d="M320 744.5h1.6" stroke="#111" stroke-width="0.6"/>
<text x="322.7" y="745.3" font-size="9.0" fill="#0a0a0a" stroke="#0a0a0a">0</text>
<path d="M320 686.2h1.6" stroke="#111" stroke-width="0.6"/>
<text x="322.7" y="689.4" font-size="9.0" fill="#0a0a0a" stroke="#0a0a0a">5</text>
<path d="M320 627.9h1.6" stroke="#111" stroke-width="0.6"/>
<text x="322.7" y="631.1" font-size="9.0" fill="#0a0a0a" stroke="#0a0a0a">10</text>
<path d="M320 569.6h1.6" stroke="#111" stroke-width="0.6"/>
<text x="322.7" y="572.8" font-size="9.0" fill="#0a0a0a" stroke="#0a0a0a">15</text>
<path d="M320 511.3h1.6" stroke="#111" stroke-width="0.6"/>
<text x="322.7" y="514.5" font-size="9.0" fill="#0a0a0a" stroke="#0a0a0a">20</text>
<path d="M320 453.0h1.6" stroke="#111" stroke-width="0.6"/>
<text x="322.7" y="456.2" font-size="9.0" fill="#0a0a0a" stroke="#0a0a0a">25</text>
</g>
<g id="panel-c">
<text x="381.2" y="415.4" font-size="18.3" fill="#231815" font-weight="bold">c</text>
<text x="528.1" y="418.4" font-size="10.0" fill="#0a0a0a" stroke="#0a0a0a" text-anchor="middle">RNA Pol II</text>
<clipPath id="cc"><rect x="397.6" y="425.5" width="269.7" height="136.7"/></clipPath>
<g clip-path="url(#cc)"><path d="M397.5 549.6L398.0 549.6L398.5 549.6L399.0 549.6L399.5 549.6L400.0 549.6L400.5 549.6L401.0 549.6L401.5 549.6L402.0 549.6L402.5 549.6L403.0 549.6L403.5 549.6L404.0 549.6L404.5 549.6L405.0 549.6L405.5 549.6L406.0 549.6L406.5 549.6L407.0 549.5L407.5 549.5L408.0 549.5L408.5 549.5L409.0 549.5L409.5 549.5L410.0 549.5L410.5 549.5L411.0 549.5L411.5 549.5L412.0 549.5L412.5 549.4L413.0 549.4L413.5 549.4L414.0 549.4L414.5 549.4L415.0 549.4L415.5 549.4L416.0 549.4L416.5 549.4L417.0 549.3L417.5 549.3L418.0 549.3L418.5 549.3L419.0 549.3L419.5 549.3L420.0 549.3L420.5 549.3L421.0 549.2L421.5 549.2L422.0 549.2L422.5 549.2L423.0 549.2L423.5 549.2L424.0 549.1L424.6 549.1L425.1 549.1L425.6 549.1L426.1 549.1L426.6 549.1L427.1 549.0L427.6 549.0L428.1 549.0L428.6 549.0L429.1 548.9L429.6 548.9L430.1 548.9L430.6 548.9L431.1 548.9L431.6 548.8L432.1 548.8L432.6 548.8L433.1 548.8L433.6 548.7L434.1 548.7L434.6 548.7L435.1 548.7L435.6 548.6L436.1 548.6L436.6 548.6L437.1 548.5L437.6 548.5L438.1 548.5L438.6 548.5L439.1 548.4L439.6 548.4L440.1 548.4L440.6 548.4L441.1 548.3L441.6 548.3L442.1 548.3L442.6 548.2L443.1 548.2L443.6 548.2L444.1 548.1L444.6 548.1L445.1 548.1L445.6 548.0L446.1 548.0L446.6 548.0L447.1 547.9L447.6 547.9L448.1 547.9L448.6 547.8L449.1 547.8L449.6 547.7L450.1 547.7L450.6 547.7L451.1 547.6L451.6 547.6L452.1 547.5L452.6 547.5L453.1 547.5L453.6 547.4L454.1 547.4L454.6 547.3L455.1 547.3L455.6 547.2L456.1 547.2L456.6 547.1L457.1 547.1L457.6 547.0L458.1 547.0L458.6 546.9L459.1 546.9L459.6 546.8L460.1 546.8L460.6 546.7L461.1 546.7L461.6 546.6L462.1 546.6L462.6 546.5L463.1 546.4L463.6 546.4L464.1 546.3L464.6 546.3L465.1 546.2L465.6 546.1L466.1 546.0L466.6 546.0L467.1 545.9L467.6 545.8L468.1 545.7L468.6 545.6L469.1 545.6L469.6 545.5L470.1 545.4L470.6 545.3L471.1 545.2L471.6 545.1L472.1 545.0L472.6 544.9L473.1 544.8L473.6 544.7L474.1 544.6L474.6 544.5L475.1 544.4L475.6 544.3L476.1 544.2L476.6 544.1L477.1 544.0L477.6 543.9L478.1 543.8L478.7 543.7L479.2 543.6L479.7 543.5L480.2 543.3L480.7 543.2L481.2 543.1L481.7 543.0L482.2 542.8L482.7 542.7L483.2 542.6L483.7 542.4L484.2 542.3L484.7 542.1L485.2 542.0L485.7 541.8L486.2 541.7L486.7 541.5L487.2 541.3L487.7 541.1L488.2 540.9L488.7 540.7L489.2 540.5L489.7 540.2L490.2 540.0L490.7 539.6L491.2 539.3L491.7 538.9L492.2 538.4L492.7 538.0L493.2 537.4L493.7 536.9L494.2 536.4L494.7 535.8L495.2 535.2L495.7 534.6L496.2 534.0L496.7 533.4L497.2 532.8L497.7 532.1L498.2 531.5L498.7 530.8L499.2 530.1L499.7 529.4L500.2 528.7L500.7 527.9L501.2 527.2L501.7 526.5L502.2 525.8L502.7 525.1L503.2 524.4L503.7 523.7L504.2 523.0L504.7 522.4L505.2 521.8L505.7 521.1L506.2 520.5L506.7 519.9L507.2 519.3L507.7 518.7L508.2 518.1L508.7 517.6L509.2 517.0L509.7 516.4L510.2 515.9L510.7 515.4L511.2 514.8L511.7 514.4L512.2 513.9L512.7 513.4L513.2 512.9L513.7 512.3L514.2 511.8L514.7 511.2L515.2 510.5L515.7 509.9L516.2 509.1L516.7 508.2L517.2 507.3L517.7 506.2L518.2 505.1L518.7 503.9L519.2 502.8L519.7 501.6L520.2 500.6L520.7 499.6L521.2 498.8L521.7 498.2L522.2 497.7L522.7 497.2L523.2 497.0L523.7 496.9L524.2 496.9L524.7 497.0L525.2 497.2L525.7 497.5L526.2 497.9L526.7 498.3L527.2 498.7L527.7 499.1L528.2 499.5L528.7 499.8L529.2 500.1L529.7 500.3L530.2 500.4L530.7 500.4L531.2 500.4L531.7 500.3L532.2 500.1L532.8 499.8L533.3 499.5L533.8 499.2L534.3 498.9L534.8 498.5L535.3 498.2L535.8 498.0L536.3 498.0L536.8 498.1L537.3 498.5L537.8 499.1L538.3 500.0L538.8 501.1L539.3 502.3L539.8 503.6L540.3 504.9L540.8 506.2L541.3 507.3L541.8 508.3L542.3 509.1L542.8 509.8L543.3 510.4L543.8 510.8L544.3 511.1L544.8 511.3L545.3 511.4L545.8 511.5L546.3 511.6L546.8 511.8L547.3 512.0L547.8 512.4L548.3 512.8L548.8 513.3L549.3 513.8L549.8 514.4L550.3 515.0L550.8 515.6L551.3 516.2L551.8 516.8L552.3 517.4L552.8 517.9L553.3 518.4L553.8 518.9L554.3 519.4L554.8 519.9L555.3 520.4L555.8 521.0L556.3 521.5L556.8 522.1L557.3 522.8L557.8 523.4L558.3 524.0L558.8 524.7L559.3 525.3L559.8 525.9L560.3 526.6L560.8 527.2L561.3 527.7L561.8 528.3L562.3 528.8L562.8 529.4L563.3 529.9L563.8 530.4L564.3 530.9L564.8 531.3L565.3 531.8L565.8 532.3L566.3 532.7L566.8 533.2L567.3 533.6L567.8 534.1L568.3 534.5L568.8 534.9L569.3 535.4L569.8 535.8L570.3 536.2L570.8 536.6L571.3 537.0L571.8 537.4L572.3 537.8L572.8 538.2L573.3 538.5L573.8 538.8L574.3 539.1L574.8 539.4L575.3 539.7L575.8 539.9L576.3 540.2L576.8 540.4L577.3 540.6L577.8 540.8L578.3 541.0L578.8 541.3L579.3 541.4L579.8 541.6L580.3 541.8L580.8 542.0L581.3 542.2L581.8 542.3L582.3 542.5L582.8 542.7L583.3 542.8L583.8 542.9L584.3 543.1L584.8 543.2L585.3 543.4L585.8 543.5L586.3 543.6L586.9 543.7L587.4 543.9L587.9 544.0L588.4 544.1L588.9 544.2L589.4 544.4L589.9 544.5L590.4 544.6L590.9 544.7L591.4 544.8L591.9 544.9L592.4 545.0L592.9 545.2L593.4 545.3L593.9 545.4L594.4 545.5L594.9 545.6L595.4 545.7L595.9 545.8L596.4 545.9L596.9 546.0L597.4 546.1L597.9 546.2L598.4 546.2L598.9 546.3L599.4 546.4L599.9 546.5L600.4 546.6L600.9 546.7L601.4 546.7L601.9 546.8L602.4 546.9L602.9 546.9L603.4 547.0L603.9 547.1L604.4 547.1L604.9 547.2L605.4 547.2L605.9 547.3L606.4 547.3L606.9 547.4L607.4 547.4L607.9 547.5L608.4 547.5L608.9 547.6L609.4 547.6L609.9 547.6L610.4 547.7L610.9 547.7L611.4 547.8L611.9 547.8L612.4 547.8L612.9 547.9L613.4 547.9L613.9 547.9L614.4 548.0L614.9 548.0L615.4 548.0L615.9 548.1L616.4 548.1L616.9 548.1L617.4 548.2L617.9 548.2L618.4 548.2L618.9 548.3L619.4 548.3L619.9 548.3L620.4 548.3L620.9 548.4L621.4 548.4L621.9 548.4L622.4 548.4L622.9 548.5L623.4 548.5L623.9 548.5L624.4 548.5L624.9 548.5L625.4 548.6L625.9 548.6L626.4 548.6L626.9 548.6L627.4 548.7L627.9 548.7L628.4 548.7L628.9 548.7L629.4 548.7L629.9 548.7L630.4 548.8L630.9 548.8L631.4 548.8L631.9 548.8L632.4 548.8L632.9 548.9L633.4 548.9L633.9 548.9L634.4 548.9L634.9 548.9L635.4 548.9L635.9 549.0L636.4 549.0L636.9 549.0L637.4 549.0L637.9 549.0L638.4 549.0L638.9 549.1L639.4 549.1L639.9 549.1L640.4 549.1L641.0 549.1L641.5 549.1L642.0 549.1L642.5 549.2L643.0 549.2L643.5 549.2L644.0 549.2L644.5 549.2L645.0 549.2L645.5 549.3L646.0 549.3L646.5 549.3L647.0 549.3L647.5 549.3L648.0 549.3L648.5 549.3L649.0 549.4L649.5 549.4L650.0 549.4L650.5 549.4L651.0 549.4L651.5 549.4L652.0 549.4L652.5 549.4L653.0 549.4L653.5 549.5L654.0 549.5L654.5 549.5L655.0 549.5L655.5 549.5L656.0 549.5L656.5 549.5L657.0 549.5L657.5 549.5L658.0 549.5L658.5 549.6L659.0 549.6L659.5 549.6L660.0 549.6L660.5 549.6L661.0 549.6L661.5 549.6L662.0 549.6L662.5 549.6L663.0 549.6L663.5 549.6L664.0 549.6L664.5 549.6L665.0 549.6L665.5 549.6L666.0 549.6L666.5 549.6L667.0 549.6L667.5 549.6" stroke="#1fa4ec" stroke-width="1.5" fill="none" stroke-linejoin="round"/><path d="M397.5 550.3L398.0 550.3L398.5 550.3L399.0 550.3L399.5 550.3L400.0 550.3L400.5 550.3L401.0 550.3L401.5 550.2L402.0 550.2L402.5 550.2L403.0 550.2L403.5 550.2L404.0 550.2L404.5 550.2L405.0 550.2L405.5 550.2L406.0 550.1L406.5 550.1L407.0 550.1L407.5 550.1L408.0 550.1L408.5 550.1L409.0 550.1L409.5 550.1L410.0 550.0L410.5 550.0L411.0 550.0L411.5 550.0L412.0 550.0L412.5 550.0L413.0 550.0L413.5 549.9L414.0 549.9L414.5 549.9L415.0 549.9L415.5 549.9L416.0 549.9L416.5 549.9L417.0 549.8L417.5 549.8L418.0 549.8L418.5 549.8L419.0 549.8L419.5 549.8L420.0 549.7L420.5 549.7L421.0 549.7L421.5 549.7L422.0 549.7L422.5 549.7L423.0 549.6L423.5 549.6L424.0 549.6L424.6 549.6L425.1 549.6L425.6 549.5L426.1 549.5L426.6 549.5L427.1 549.5L427.6 549.5L428.1 549.4L428.6 549.4L429.1 549.4L429.6 549.4L430.1 549.4L430.6 549.3L431.1 549.3L431.6 549.3L432.1 549.3L432.6 549.2L433.1 549.2L433.6 549.2L434.1 549.2L434.6 549.2L435.1 549.1L435.6 549.1L436.1 549.1L436.6 549.1L437.1 549.0L437.6 549.0L438.1 549.0L438.6 549.0L439.1 548.9L439.6 548.9L440.1 548.9L440.6 548.8L441.1 548.8L441.6 548.8L442.1 548.8L442.6 548.7L443.1 548.7L443.6 548.7L444.1 548.7L444.6 548.6L445.1 548.6L445.6 548.6L446.1 548.5L446.6 548.5L447.1 548.5L447.6 548.5L448.1 548.4L448.6 548.4L449.1 548.4L449.6 548.3L450.1 548.3L450.6 548.3L451.1 548.2L451.6 548.2L452.1 548.2L452.6 548.1L453.1 548.1L453.6 548.1L454.1 548.0L454.6 548.0L455.1 547.9L455.6 547.9L456.1 547.9L456.6 547.8L457.1 547.8L457.6 547.7L458.1 547.7L458.6 547.7L459.1 547.6L459.6 547.6L460.1 547.5L460.6 547.5L461.1 547.4L461.6 547.4L462.1 547.3L462.6 547.3L463.1 547.2L463.6 547.2L464.1 547.1L464.6 547.0L465.1 547.0L465.6 546.9L466.1 546.9L466.6 546.8L467.1 546.7L467.6 546.6L468.1 546.5L468.6 546.5L469.1 546.4L469.6 546.3L470.1 546.2L470.6 546.1L471.1 546.0L471.6 545.9L472.1 545.8L472.6 545.7L473.1 545.6L473.6 545.5L474.1 545.4L474.6 545.3L475.1 545.2L475.6 545.1L476.1 545.0L476.6 544.9L477.1 544.7L477.6 544.6L478.1 544.5L478.7 544.4L479.2 544.2L479.7 544.1L480.2 544.0L480.7 543.8L481.2 543.7L481.7 543.5L482.2 543.4L482.7 543.2L483.2 543.1L483.7 542.9L484.2 542.8L484.7 542.6L485.2 542.5L485.7 542.3L486.2 542.1L486.7 542.0L487.2 541.8L487.7 541.6L488.2 541.4L488.7 541.2L489.2 541.0L489.7 540.8L490.2 540.6L490.7 540.4L491.2 540.1L491.7 539.9L492.2 539.6L492.7 539.3L493.2 539.0L493.7 538.7L494.2 538.4L494.7 538.1L495.2 537.8L495.7 537.4L496.2 537.1L496.7 536.7L497.2 536.4L497.7 536.0L498.2 535.6L498.7 535.1L499.2 534.7L499.7 534.3L500.2 533.8L500.7 533.3L501.2 532.9L501.7 532.4L502.2 531.9L502.7 531.5L503.2 531.0L503.7 530.5L504.2 530.1L504.7 529.6L505.2 529.2L505.7 528.7L506.2 528.3L506.7 527.8L507.2 527.4L507.7 526.9L508.2 526.5L508.7 526.0L509.2 525.6L509.7 525.1L510.2 524.7L510.7 524.3L511.2 523.8L511.7 523.4L512.2 523.0L512.7 522.6L513.2 522.2L513.7 521.7L514.2 521.3L514.7 520.8L515.2 520.3L515.7 519.8L516.2 519.2L516.7 518.6L517.2 517.9L517.7 517.3L518.2 516.6L518.7 515.9L519.2 515.1L519.7 514.5L520.2 513.8L520.7 513.2L521.2 512.7L521.7 512.3L522.2 511.9L522.7 511.7L523.2 511.5L523.7 511.5L524.2 511.6L524.7 511.7L525.2 512.0L525.7 512.3L526.2 512.6L526.7 513.0L527.2 513.4L527.7 513.8L528.2 514.1L528.7 514.5L529.2 514.7L529.7 515.0L530.2 515.1L530.7 515.1L531.2 515.1L531.7 514.9L532.2 514.7L532.8 514.3L533.3 514.0L533.8 513.6L534.3 513.2L534.8 512.9L535.3 512.6L535.8 512.4L536.3 512.4L536.8 512.5L537.3 512.7L537.8 513.1L538.3 513.7L538.8 514.5L539.3 515.3L539.8 516.2L540.3 517.1L540.8 518.0L541.3 518.8L541.8 519.4L542.3 519.9L542.8 520.3L543.3 520.6L543.8 520.8L544.3 521.0L544.8 521.1L545.3 521.2L545.8 521.4L546.3 521.5L546.8 521.7L547.3 522.0L547.8 522.3L548.3 522.6L548.8 523.0L549.3 523.4L549.8 523.8L550.3 524.3L550.8 524.8L551.3 525.3L551.8 525.7L552.3 526.2L552.8 526.6L553.3 527.0L553.8 527.5L554.3 527.9L554.8 528.3L555.3 528.7L555.8 529.0L556.3 529.4L556.8 529.8L557.3 530.2L557.8 530.6L558.3 531.0L558.8 531.4L559.3 531.7L559.8 532.1L560.3 532.5L560.8 532.8L561.3 533.2L561.8 533.5L562.3 533.8L562.8 534.2L563.3 534.5L563.8 534.8L564.3 535.1L564.8 535.5L565.3 535.8L565.8 536.0L566.3 536.3L566.8 536.6L567.3 536.8L567.8 537.1L568.3 537.3L568.8 537.5L569.3 537.8L569.8 538.0L570.3 538.2L570.8 538.4L571.3 538.6L571.8 538.8L572.3 539.0L572.8 539.2L573.3 539.4L573.8 539.6L574.3 539.8L574.8 540.1L575.3 540.3L575.8 540.5L576.3 540.8L576.8 541.0L577.3 541.3L577.8 541.5L578.3 541.8L578.8 542.0L579.3 542.3L579.8 542.5L580.3 542.8L580.8 543.0L581.3 543.3L581.8 543.5L582.3 543.7L582.8 543.9L583.3 544.1L583.8 544.3L584.3 544.5L584.8 544.7L585.3 544.8L585.8 544.9L586.3 545.1L586.9 545.2L587.4 545.3L587.9 545.4L588.4 545.5L588.9 545.6L589.4 545.7L589.9 545.8L590.4 545.9L590.9 546.0L591.4 546.1L591.9 546.2L592.4 546.3L592.9 546.4L593.4 546.5L593.9 546.5L594.4 546.6L594.9 546.7L595.4 546.8L595.9 546.8L596.4 546.9L596.9 547.0L597.4 547.1L597.9 547.1L598.4 547.2L598.9 547.3L599.4 547.3L599.9 547.4L600.4 547.4L600.9 547.5L601.4 547.6L601.9 547.6L602.4 547.7L602.9 547.7L603.4 547.8L603.9 547.8L604.4 547.9L604.9 547.9L605.4 547.9L605.9 548.0L606.4 548.0L606.9 548.1L607.4 548.1L607.9 548.2L608.4 548.2L608.9 548.2L609.4 548.3L609.9 548.3L610.4 548.3L610.9 548.4L611.4 548.4L611.9 548.4L612.4 548.5L612.9 548.5L613.4 548.5L613.9 548.6L614.4 548.6L614.9 548.6L615.4 548.7L615.9 548.7L616.4 548.7L616.9 548.8L617.4 548.8L617.9 548.8L618.4 548.8L618.9 548.9L619.4 548.9L619.9 548.9L620.4 548.9L620.9 549.0L621.4 549.0L621.9 549.0L622.4 549.0L622.9 549.1L623.4 549.1L623.9 549.1L624.4 549.1L624.9 549.2L625.4 549.2L625.9 549.2L626.4 549.2L626.9 549.2L627.4 549.2L627.9 549.3L628.4 549.3L628.9 549.3L629.4 549.3L629.9 549.3L630.4 549.4L630.9 549.4L631.4 549.4L631.9 549.4L632.4 549.4L632.9 549.4L633.4 549.4L633.9 549.5L634.4 549.5L634.9 549.5L635.4 549.5L635.9 549.5L636.4 549.5L636.9 549.6L637.4 549.6L637.9 549.6L638.4 549.6L638.9 549.6L639.4 549.6L639.9 549.6L640.4 549.7L641.0 549.7L641.5 549.7L642.0 549.7L642.5 549.7L643.0 549.7L643.5 549.7L644.0 549.8L644.5 549.8L645.0 549.8L645.5 549.8L646.0 549.8L646.5 549.8L647.0 549.8L647.5 549.8L648.0 549.9L648.5 549.9L649.0 549.9L649.5 549.9L650.0 549.9L650.5 549.9L651.0 549.9L651.5 549.9L652.0 549.9L652.5 550.0L653.0 550.0L653.5 550.0L654.0 550.0L654.5 550.0L655.0 550.0L655.5 550.0L656.0 550.0L656.5 550.0L657.0 550.0L657.5 550.0L658.0 550.1L658.5 550.1L659.0 550.1L659.5 550.1L660.0 550.1L660.5 550.1L661.0 550.1L661.5 550.1L662.0 550.1L662.5 550.1L663.0 550.1L663.5 550.1L664.0 550.1L664.5 550.1L665.0 550.1L665.5 550.1L666.0 550.1L666.5 550.1L667.0 550.1L667.5 550.1" stroke="#1fa4ec" stroke-width="1.5" fill="none" stroke-linejoin="round"/><path d="M397.5 550.8L398.0 550.8L398.5 550.8L399.0 550.8L399.5 550.8L400.0 550.8L400.5 550.8L401.0 550.7L401.5 550.7L402.0 550.7L402.5 550.7L403.0 550.7L403.5 550.7L404.0 550.7L404.5 550.7L405.0 550.7L405.5 550.6L406.0 550.6L406.5 550.6L407.0 550.6L407.5 550.6L408.0 550.6L408.5 550.6L409.0 550.6L409.5 550.5L410.0 550.5L410.5 550.5L411.0 550.5L411.5 550.5L412.0 550.5L412.5 550.5L413.0 550.5L413.5 550.4L414.0 550.4L414.5 550.4L415.0 550.4L415.5 550.4L416.0 550.4L416.5 550.3L417.0 550.3L417.5 550.3L418.0 550.3L418.5 550.3L419.0 550.3L419.5 550.3L420.0 550.2L420.5 550.2L421.0 550.2L421.5 550.2L422.0 550.2L422.5 550.2L423.0 550.1L423.5 550.1L424.0 550.1L424.6 550.1L425.1 550.1L425.6 550.0L426.1 550.0L426.6 550.0L427.1 550.0L427.6 550.0L428.1 549.9L428.6 549.9L429.1 549.9L429.6 549.9L430.1 549.9L430.6 549.8L431.1 549.8L431.6 549.8L432.1 549.8L432.6 549.8L433.1 549.7L433.6 549.7L434.1 549.7L434.6 549.7L435.1 549.6L435.6 549.6L436.1 549.6L436.6 549.6L437.1 549.5L437.6 549.5L438.1 549.5L438.6 549.4L439.1 549.4L439.6 549.4L440.1 549.4L440.6 549.3L441.1 549.3L441.6 549.3L442.1 549.2L442.6 549.2L443.1 549.2L443.6 549.1L444.1 549.1L444.6 549.1L445.1 549.0L445.6 549.0L446.1 549.0L446.6 548.9L447.1 548.9L447.6 548.9L448.1 548.8L448.6 548.8L449.1 548.7L449.6 548.7L450.1 548.6L450.6 548.6L451.1 548.6L451.6 548.5L452.1 548.5L452.6 548.4L453.1 548.4L453.6 548.3L454.1 548.3L454.6 548.2L455.1 548.2L455.6 548.1L456.1 548.1L456.6 548.0L457.1 548.0L457.6 547.9L458.1 547.8L458.6 547.8L459.1 547.7L459.6 547.7L460.1 547.6L460.6 547.5L461.1 547.5L461.6 547.4L462.1 547.4L462.6 547.3L463.1 547.2L463.6 547.2L464.1 547.1L464.6 547.0L465.1 546.9L465.6 546.9L466.1 546.8L466.6 546.7L467.1 546.6L467.6 546.5L468.1 546.4L468.6 546.3L469.1 546.2L469.6 546.1L470.1 546.0L470.6 545.9L471.1 545.8L471.6 545.7L472.1 545.6L472.6 545.5L473.1 545.4L473.6 545.3L474.1 545.1L474.6 545.0L475.1 544.9L475.6 544.8L476.1 544.7L476.6 544.6L477.1 544.4L477.6 544.3L478.1 544.2L478.7 544.1L479.2 543.9L479.7 543.8L480.2 543.7L480.7 543.5L481.2 543.4L481.7 543.2L482.2 543.1L482.7 542.9L483.2 542.8L483.7 542.6L484.2 542.5L484.7 542.3L485.2 542.1L485.7 541.9L486.2 541.8L486.7 541.6L487.2 541.4L487.7 541.2L488.2 541.0L488.7 540.8L489.2 540.5L489.7 540.3L490.2 540.0L490.7 539.7L491.2 539.4L491.7 539.0L492.2 538.7L492.7 538.3L493.2 537.9L493.7 537.5L494.2 537.1L494.7 536.6L495.2 536.2L495.7 535.7L496.2 535.3L496.7 534.8L497.2 534.4L497.7 533.9L498.2 533.4L498.7 532.9L499.2 532.4L499.7 531.9L500.2 531.4L500.7 530.9L501.2 530.4L501.7 529.9L502.2 529.3L502.7 528.8L503.2 528.3L503.7 527.8L504.2 527.3L504.7 526.8L505.2 526.3L505.7 525.8L506.2 525.4L506.7 524.9L507.2 524.4L507.7 523.9L508.2 523.4L508.7 522.9L509.2 522.4L509.7 521.9L510.2 521.3L510.7 520.8L511.2 520.2L511.7 519.6L512.2 519.0L512.7 518.4L513.2 517.8L513.7 517.2L514.2 516.5L514.7 515.9L515.2 515.2L515.7 514.5L516.2 513.8L516.7 513.0L517.2 512.2L517.7 511.4L518.2 510.6L518.7 509.8L519.2 509.0L519.7 508.2L520.2 507.4L520.7 506.7L521.2 506.2L521.7 505.7L522.2 505.3L522.7 505.1L523.2 505.0L523.7 505.1L524.2 505.2L524.7 505.5L525.2 505.9L525.7 506.4L526.2 506.9L526.7 507.5L527.2 508.1L527.7 508.8L528.2 509.4L528.7 510.0L529.2 510.5L529.7 510.8L530.2 510.9L530.7 510.9L531.2 510.6L531.7 510.1L532.2 509.4L532.8 508.6L533.3 507.7L533.8 506.8L534.3 505.8L534.8 504.9L535.3 504.0L535.8 503.2L536.3 502.5L536.8 502.0L537.3 501.8L537.8 501.9L538.3 502.3L538.8 503.0L539.3 503.9L539.8 505.0L540.3 506.2L540.8 507.4L541.3 508.6L541.8 509.8L542.3 510.7L542.8 511.4L543.3 512.0L543.8 512.4L544.3 512.6L544.8 512.7L545.3 512.7L545.8 512.8L546.3 512.9L546.8 513.1L547.3 513.4L547.8 513.7L548.3 514.1L548.8 514.6L549.3 515.1L549.8 515.7L550.3 516.2L550.8 516.8L551.3 517.4L551.8 518.0L552.3 518.6L552.8 519.1L553.3 519.7L553.8 520.2L554.3 520.7L554.8 521.2L555.3 521.7L555.8 522.2L556.3 522.7L556.8 523.3L557.3 523.9L557.8 524.5L558.3 525.1L558.8 525.8L559.3 526.5L559.8 527.1L560.3 527.8L560.8 528.4L561.3 529.0L561.8 529.5L562.3 530.0L562.8 530.5L563.3 531.0L563.8 531.4L564.3 531.8L564.8 532.3L565.3 532.7L565.8 533.1L566.3 533.5L566.8 533.9L567.3 534.3L567.8 534.6L568.3 535.0L568.8 535.4L569.3 535.8L569.8 536.1L570.3 536.5L570.8 536.9L571.3 537.2L571.8 537.6L572.3 537.9L572.8 538.2L573.3 538.5L573.8 538.8L574.3 539.1L574.8 539.4L575.3 539.7L575.8 540.0L576.3 540.3L576.8 540.5L577.3 540.8L577.8 541.0L578.3 541.3L578.8 541.5L579.3 541.8L579.8 542.0L580.3 542.3L580.8 542.5L581.3 542.7L581.8 542.9L582.3 543.1L582.8 543.3L583.3 543.5L583.8 543.7L584.3 543.8L584.8 544.0L585.3 544.1L585.8 544.3L586.3 544.4L586.9 544.5L587.4 544.7L587.9 544.8L588.4 544.9L588.9 545.0L589.4 545.1L589.9 545.2L590.4 545.4L590.9 545.5L591.4 545.6L591.9 545.7L592.4 545.8L592.9 545.9L593.4 546.0L593.9 546.1L594.4 546.2L594.9 546.2L595.4 546.3L595.9 546.4L596.4 546.5L596.9 546.6L597.4 546.7L597.9 546.8L598.4 546.8L598.9 546.9L599.4 547.0L599.9 547.1L600.4 547.1L600.9 547.2L601.4 547.3L601.9 547.3L602.4 547.4L602.9 547.4L603.4 547.5L603.9 547.6L604.4 547.6L604.9 547.7L605.4 547.7L605.9 547.8L606.4 547.8L606.9 547.9L607.4 547.9L607.9 548.0L608.4 548.0L608.9 548.1L609.4 548.1L609.9 548.1L610.4 548.2L610.9 548.2L611.4 548.3L611.9 548.3L612.4 548.3L612.9 548.4L613.4 548.4L613.9 548.5L614.4 548.5L614.9 548.5L615.4 548.6L615.9 548.6L616.4 548.6L616.9 548.7L617.4 548.7L617.9 548.7L618.4 548.8L618.9 548.8L619.4 548.8L619.9 548.9L620.4 548.9L620.9 548.9L621.4 548.9L621.9 549.0L622.4 549.0L622.9 549.0L623.4 549.0L623.9 549.1L624.4 549.1L624.9 549.1L625.4 549.1L625.9 549.2L626.4 549.2L626.9 549.2L627.4 549.2L627.9 549.3L628.4 549.3L628.9 549.3L629.4 549.3L629.9 549.3L630.4 549.4L630.9 549.4L631.4 549.4L631.9 549.4L632.4 549.4L632.9 549.4L633.4 549.5L633.9 549.5L634.4 549.5L634.9 549.5L635.4 549.5L635.9 549.6L636.4 549.6L636.9 549.6L637.4 549.6L637.9 549.6L638.4 549.7L638.9 549.7L639.4 549.7L639.9 549.7L640.4 549.7L641.0 549.7L641.5 549.8L642.0 549.8L642.5 549.8L643.0 549.8L643.5 549.8L644.0 549.8L644.5 549.9L645.0 549.9L645.5 549.9L646.0 549.9L646.5 549.9L647.0 549.9L647.5 550.0L648.0 550.0L648.5 550.0L649.0 550.0L649.5 550.0L650.0 550.0L650.5 550.0L651.0 550.1L651.5 550.1L652.0 550.1L652.5 550.1L653.0 550.1L653.5 550.1L654.0 550.1L654.5 550.1L655.0 550.2L655.5 550.2L656.0 550.2L656.5 550.2L657.0 550.2L657.5 550.2L658.0 550.2L658.5 550.2L659.0 550.2L659.5 550.2L660.0 550.2L660.5 550.3L661.0 550.3L661.5 550.3L662.0 550.3L662.5 550.3L663.0 550.3L663.5 550.3L664.0 550.3L664.5 550.3L665.0 550.3L665.5 550.3L666.0 550.3L666.5 550.3L667.0 550.3L667.5 550.3" stroke="#b36bf6" stroke-width="1.5" fill="none" stroke-linejoin="round"/><path d="M397.5 551.3L398.0 551.3L398.5 551.3L399.0 551.3L399.5 551.3L400.0 551.3L400.5 551.2L401.0 551.2L401.5 551.2L402.0 551.2L402.5 551.2L403.0 551.2L403.5 551.2L404.0 551.2L404.5 551.2L405.0 551.2L405.5 551.1L406.0 551.1L406.5 551.1L407.0 551.1L407.5 551.1L408.0 551.1L408.5 551.1L409.0 551.1L409.5 551.0L410.0 551.0L410.5 551.0L411.0 551.0L411.5 551.0L412.0 551.0L412.5 551.0L413.0 550.9L413.5 550.9L414.0 550.9L414.5 550.9L415.0 550.9L415.5 550.9L416.0 550.9L416.5 550.8L417.0 550.8L417.5 550.8L418.0 550.8L418.5 550.8L419.0 550.8L419.5 550.7L420.0 550.7L420.5 550.7L421.0 550.7L421.5 550.7L422.0 550.7L422.5 550.6L423.0 550.6L423.5 550.6L424.0 550.6L424.6 550.6L425.1 550.6L425.6 550.5L426.1 550.5L426.6 550.5L427.1 550.5L427.6 550.5L428.1 550.4L428.6 550.4L429.1 550.4L429.6 550.4L430.1 550.4L430.6 550.3L431.1 550.3L431.6 550.3L432.1 550.3L432.6 550.2L433.1 550.2L433.6 550.2L434.1 550.2L434.6 550.1L435.1 550.1L435.6 550.1L436.1 550.1L436.6 550.0L437.1 550.0L437.6 550.0L438.1 550.0L438.6 549.9L439.1 549.9L439.6 549.9L440.1 549.9L440.6 549.8L441.1 549.8L441.6 549.8L442.1 549.7L442.6 549.7L443.1 549.7L443.6 549.6L444.1 549.6L444.6 549.6L445.1 549.5L445.6 549.5L446.1 549.5L446.6 549.4L447.1 549.4L447.6 549.3L448.1 549.3L448.6 549.3L449.1 549.2L449.6 549.2L450.1 549.1L450.6 549.1L451.1 549.0L451.6 549.0L452.1 549.0L452.6 548.9L453.1 548.9L453.6 548.8L454.1 548.8L454.6 548.7L455.1 548.7L455.6 548.6L456.1 548.6L456.6 548.5L457.1 548.4L457.6 548.4L458.1 548.3L458.6 548.3L459.1 548.2L459.6 548.2L460.1 548.1L460.6 548.0L461.1 548.0L461.6 547.9L462.1 547.9L462.6 547.8L463.1 547.7L463.6 547.7L464.1 547.6L464.6 547.5L465.1 547.4L465.6 547.4L466.1 547.3L466.6 547.2L467.1 547.1L467.6 547.0L468.1 546.9L468.6 546.8L469.1 546.7L469.6 546.6L470.1 546.5L470.6 546.4L471.1 546.3L471.6 546.2L472.1 546.1L472.6 546.0L473.1 545.9L473.6 545.7L474.1 545.6L474.6 545.5L475.1 545.4L475.6 545.3L476.1 545.2L476.6 545.1L477.1 544.9L477.6 544.8L478.1 544.7L478.7 544.6L479.2 544.4L479.7 544.3L480.2 544.2L480.7 544.0L481.2 543.9L481.7 543.7L482.2 543.6L482.7 543.4L483.2 543.3L483.7 543.1L484.2 542.9L484.7 542.8L485.2 542.6L485.7 542.4L486.2 542.3L486.7 542.1L487.2 541.9L487.7 541.7L488.2 541.5L488.7 541.2L489.2 541.0L489.7 540.8L490.2 540.5L490.7 540.2L491.2 539.9L491.7 539.5L492.2 539.2L492.7 538.8L493.2 538.4L493.7 538.0L494.2 537.5L494.7 537.1L495.2 536.7L495.7 536.2L496.2 535.8L496.7 535.3L497.2 534.9L497.7 534.4L498.2 533.9L498.7 533.4L499.2 532.9L499.7 532.4L500.2 531.9L500.7 531.4L501.2 530.9L501.7 530.3L502.2 529.8L502.7 529.3L503.2 528.8L503.7 528.3L504.2 527.8L504.7 527.3L505.2 526.8L505.7 526.3L506.2 525.8L506.7 525.4L507.2 524.9L507.7 524.4L508.2 523.9L508.7 523.4L509.2 522.9L509.7 522.4L510.2 521.8L510.7 521.3L511.2 520.7L511.7 520.1L512.2 519.5L512.7 518.9L513.2 518.3L513.7 517.7L514.2 517.0L514.7 516.4L515.2 515.7L515.7 515.0L516.2 514.2L516.7 513.5L517.2 512.7L517.7 511.9L518.2 511.1L518.7 510.3L519.2 509.5L519.7 508.7L520.2 507.9L520.7 507.2L521.2 506.7L521.7 506.2L522.2 505.8L522.7 505.6L523.2 505.5L523.7 505.6L524.2 505.7L524.7 506.0L525.2 506.4L525.7 506.8L526.2 507.4L526.7 508.0L527.2 508.6L527.7 509.2L528.2 509.9L528.7 510.5L529.2 511.0L529.7 511.3L530.2 511.4L530.7 511.3L531.2 511.1L531.7 510.6L532.2 509.9L532.8 509.1L533.3 508.2L533.8 507.3L534.3 506.3L534.8 505.4L535.3 504.5L535.8 503.7L536.3 503.0L536.8 502.5L537.3 502.3L537.8 502.4L538.3 502.8L538.8 503.5L539.3 504.4L539.8 505.5L540.3 506.7L540.8 507.8L541.3 508.9L541.8 509.8L542.3 510.4L542.8 510.9L543.3 511.2L543.8 511.4L544.3 511.6L544.8 511.6L545.3 511.6L545.8 511.7L546.3 511.8L546.8 512.0L547.3 512.3L547.8 512.6L548.3 513.0L548.8 513.5L549.3 514.0L549.8 514.5L550.3 515.1L550.8 515.6L551.3 516.2L551.8 516.8L552.3 517.5L552.8 518.1L553.3 518.7L553.8 519.4L554.3 520.1L554.8 520.8L555.3 521.5L555.8 522.2L556.3 522.9L556.8 523.6L557.3 524.3L557.8 525.0L558.3 525.7L558.8 526.4L559.3 527.0L559.8 527.7L560.3 528.3L560.8 528.9L561.3 529.5L561.8 530.0L562.3 530.5L562.8 531.0L563.3 531.5L563.8 531.9L564.3 532.3L564.8 532.8L565.3 533.2L565.8 533.6L566.3 534.0L566.8 534.4L567.3 534.7L567.8 535.1L568.3 535.5L568.8 535.9L569.3 536.3L569.8 536.6L570.3 537.0L570.8 537.4L571.3 537.7L571.8 538.1L572.3 538.4L572.8 538.7L573.3 539.0L573.8 539.3L574.3 539.6L574.8 539.9L575.3 540.2L575.8 540.5L576.3 540.7L576.8 541.0L577.3 541.3L577.8 541.5L578.3 541.8L578.8 542.0L579.3 542.3L579.8 542.5L580.3 542.7L580.8 543.0L581.3 543.2L581.8 543.4L582.3 543.6L582.8 543.8L583.3 544.0L583.8 544.2L584.3 544.3L584.8 544.5L585.3 544.6L585.8 544.8L586.3 544.9L586.9 545.0L587.4 545.1L587.9 545.3L588.4 545.4L588.9 545.5L589.4 545.6L589.9 545.7L590.4 545.8L590.9 545.9L591.4 546.1L591.9 546.2L592.4 546.3L592.9 546.4L593.4 546.5L593.9 546.6L594.4 546.6L594.9 546.7L595.4 546.8L595.9 546.9L596.4 547.0L596.9 547.1L597.4 547.2L597.9 547.2L598.4 547.3L598.9 547.4L599.4 547.5L599.9 547.5L600.4 547.6L600.9 547.7L601.4 547.8L601.9 547.8L602.4 547.9L602.9 547.9L603.4 548.0L603.9 548.1L604.4 548.1L604.9 548.2L605.4 548.2L605.9 548.3L606.4 548.3L606.9 548.4L607.4 548.4L607.9 548.5L608.4 548.5L608.9 548.5L609.4 548.6L609.9 548.6L610.4 548.7L610.9 548.7L611.4 548.8L611.9 548.8L612.4 548.8L612.9 548.9L613.4 548.9L613.9 548.9L614.4 549.0L614.9 549.0L615.4 549.1L615.9 549.1L616.4 549.1L616.9 549.2L617.4 549.2L617.9 549.2L618.4 549.3L618.9 549.3L619.4 549.3L619.9 549.3L620.4 549.4L620.9 549.4L621.4 549.4L621.9 549.5L622.4 549.5L622.9 549.5L623.4 549.5L623.9 549.6L624.4 549.6L624.9 549.6L625.4 549.6L625.9 549.7L626.4 549.7L626.9 549.7L627.4 549.7L627.9 549.7L628.4 549.8L628.9 549.8L629.4 549.8L629.9 549.8L630.4 549.8L630.9 549.9L631.4 549.9L631.9 549.9L632.4 549.9L632.9 549.9L633.4 550.0L633.9 550.0L634.4 550.0L634.9 550.0L635.4 550.0L635.9 550.1L636.4 550.1L636.9 550.1L637.4 550.1L637.9 550.1L638.4 550.1L638.9 550.2L639.4 550.2L639.9 550.2L640.4 550.2L641.0 550.2L641.5 550.2L642.0 550.3L642.5 550.3L643.0 550.3L643.5 550.3L644.0 550.3L644.5 550.3L645.0 550.4L645.5 550.4L646.0 550.4L646.5 550.4L647.0 550.4L647.5 550.4L648.0 550.5L648.5 550.5L649.0 550.5L649.5 550.5L650.0 550.5L650.5 550.5L651.0 550.5L651.5 550.6L652.0 550.6L652.5 550.6L653.0 550.6L653.5 550.6L654.0 550.6L654.5 550.6L655.0 550.6L655.5 550.7L656.0 550.7L656.5 550.7L657.0 550.7L657.5 550.7L658.0 550.7L658.5 550.7L659.0 550.7L659.5 550.7L660.0 550.7L660.5 550.7L661.0 550.8L661.5 550.8L662.0 550.8L662.5 550.8L663.0 550.8L663.5 550.8L664.0 550.8L664.5 550.8L665.0 550.8L665.5 550.8L666.0 550.8L666.5 550.8L667.0 550.8L667.5 550.8" stroke="#b36bf6" stroke-width="1.5" fill="none" stroke-linejoin="round"/><path d="M397.5 555.2L398.0 555.2L398.5 555.1L399.0 555.1L399.5 555.1L400.0 555.0L400.5 555.0L401.0 555.0L401.5 554.9L402.0 554.9L402.5 554.9L403.0 554.8L403.5 554.8L404.0 554.8L404.5 554.7L405.0 554.7L405.5 554.7L406.0 554.6L406.5 554.6L407.0 554.6L407.5 554.5L408.0 554.5L408.5 554.4L409.0 554.4L409.5 554.4L410.0 554.3L410.5 554.3L411.0 554.3L411.5 554.2L412.0 554.2L412.5 554.2L413.0 554.1L413.5 554.1L414.0 554.0L414.5 554.0L415.0 554.0L415.5 553.9L416.0 553.9L416.5 553.9L417.0 553.8L417.5 553.8L418.0 553.7L418.5 553.7L419.0 553.7L419.5 553.6L420.0 553.6L420.5 553.6L421.0 553.5L421.5 553.5L422.0 553.5L422.5 553.4L423.0 553.4L423.5 553.3L424.0 553.3L424.6 553.3L425.1 553.2L425.6 553.2L426.1 553.2L426.6 553.1L427.1 553.1L427.6 553.1L428.1 553.0L428.6 553.0L429.1 552.9L429.6 552.9L430.1 552.9L430.6 552.8L431.1 552.8L431.6 552.7L432.1 552.7L432.6 552.7L433.1 552.6L433.6 552.6L434.1 552.5L434.6 552.5L435.1 552.5L435.6 552.4L436.1 552.4L436.6 552.3L437.1 552.3L437.6 552.2L438.1 552.2L438.6 552.1L439.1 552.1L439.6 552.0L440.1 552.0L440.6 551.9L441.1 551.9L441.6 551.8L442.1 551.8L442.6 551.7L443.1 551.7L443.6 551.6L444.1 551.6L444.6 551.5L445.1 551.5L445.6 551.4L446.1 551.3L446.6 551.3L447.1 551.2L447.6 551.2L448.1 551.1L448.6 551.0L449.1 551.0L449.6 550.9L450.1 550.8L450.6 550.8L451.1 550.7L451.6 550.6L452.1 550.6L452.6 550.5L453.1 550.4L453.6 550.4L454.1 550.3L454.6 550.2L455.1 550.2L455.6 550.1L456.1 550.0L456.6 549.9L457.1 549.8L457.6 549.8L458.1 549.7L458.6 549.6L459.1 549.5L459.6 549.4L460.1 549.4L460.6 549.3L461.1 549.2L461.6 549.1L462.1 549.0L462.6 548.9L463.1 548.8L463.6 548.7L464.1 548.6L464.6 548.5L465.1 548.4L465.6 548.3L466.1 548.2L466.6 548.1L467.1 548.0L467.6 547.9L468.1 547.7L468.6 547.6L469.1 547.5L469.6 547.4L470.1 547.2L470.6 547.1L471.1 546.9L471.6 546.8L472.1 546.6L472.6 546.5L473.1 546.3L473.6 546.2L474.1 546.0L474.6 545.9L475.1 545.7L475.6 545.5L476.1 545.3L476.6 545.1L477.1 544.9L477.6 544.7L478.1 544.5L478.7 544.3L479.2 544.1L479.7 543.8L480.2 543.6L480.7 543.4L481.2 543.1L481.7 542.9L482.2 542.6L482.7 542.4L483.2 542.2L483.7 541.9L484.2 541.7L484.7 541.5L485.2 541.2L485.7 541.0L486.2 540.8L486.7 540.5L487.2 540.3L487.7 540.0L488.2 539.7L488.7 539.5L489.2 539.2L489.7 538.8L490.2 538.5L490.7 538.1L491.2 537.7L491.7 537.2L492.2 536.8L492.7 536.3L493.2 535.7L493.7 535.2L494.2 534.7L494.7 534.1L495.2 533.5L495.7 532.9L496.2 532.3L496.7 531.7L497.2 531.1L497.7 530.4L498.2 529.8L498.7 529.1L499.2 528.3L499.7 527.6L500.2 526.8L500.7 526.1L501.2 525.2L501.7 524.4L502.2 523.6L502.7 522.7L503.2 521.8L503.7 520.9L504.2 519.9L504.7 519.0L505.2 518.0L505.7 517.0L506.2 515.9L506.7 514.9L507.2 513.8L507.7 512.7L508.2 511.6L508.7 510.4L509.2 509.2L509.7 508.0L510.2 506.7L510.7 505.4L511.2 504.0L511.7 502.5L512.2 501.0L512.7 499.4L513.2 497.8L513.7 496.2L514.2 494.5L514.7 492.7L515.2 490.9L515.7 489.1L516.2 487.3L516.7 485.4L517.2 483.4L517.7 481.4L518.2 479.3L518.7 477.2L519.2 475.0L519.7 472.7L520.2 470.4L520.7 467.9L521.2 465.4L521.7 462.8L522.2 460.1L522.7 457.5L523.2 454.8L523.7 452.1L524.2 449.5L524.7 446.8L525.2 444.2L525.7 441.9L526.2 439.7L526.7 437.7L527.2 435.9L527.7 434.5L528.2 433.5L528.7 432.8L529.2 432.5L529.7 432.4L530.2 432.7L530.7 433.4L531.2 434.5L531.7 435.9L532.2 437.7L532.8 439.7L533.3 441.9L533.8 444.3L534.3 446.7L534.8 448.9L535.3 451.1L535.8 453.2L536.3 455.3L536.8 457.2L537.3 459.2L537.8 461.1L538.3 463.1L538.8 465.1L539.3 467.2L539.8 469.3L540.3 471.3L540.8 473.1L541.3 474.9L541.8 476.6L542.3 478.0L542.8 479.4L543.3 480.6L543.8 481.7L544.3 482.8L544.8 483.8L545.3 484.8L545.8 485.8L546.3 486.7L546.8 487.7L547.3 488.7L547.8 489.7L548.3 490.8L548.8 492.1L549.3 493.5L549.8 495.0L550.3 496.7L550.8 498.4L551.3 500.1L551.8 501.7L552.3 503.4L552.8 504.9L553.3 506.3L553.8 507.7L554.3 509.1L554.8 510.5L555.3 511.8L555.8 513.1L556.3 514.4L556.8 515.6L557.3 516.8L557.8 517.9L558.3 519.0L558.8 520.0L559.3 520.9L559.8 521.8L560.3 522.7L560.8 523.5L561.3 524.3L561.8 525.1L562.3 525.8L562.8 526.5L563.3 527.3L563.8 528.0L564.3 528.7L564.8 529.3L565.3 530.0L565.8 530.6L566.3 531.2L566.8 531.7L567.3 532.3L567.8 532.8L568.3 533.3L568.8 533.7L569.3 534.1L569.8 534.6L570.3 535.0L570.8 535.4L571.3 535.8L571.8 536.2L572.3 536.6L572.8 537.0L573.3 537.4L573.8 537.8L574.3 538.2L574.8 538.5L575.3 538.9L575.8 539.3L576.3 539.7L576.8 540.2L577.3 540.6L577.8 541.0L578.3 541.4L578.8 541.8L579.3 542.2L579.8 542.6L580.3 543.0L580.8 543.4L581.3 543.7L581.8 544.0L582.3 544.3L582.8 544.6L583.3 544.9L583.8 545.1L584.3 545.4L584.8 545.6L585.3 545.8L585.8 546.1L586.3 546.3L586.9 546.5L587.4 546.7L587.9 546.9L588.4 547.1L588.9 547.3L589.4 547.5L589.9 547.7L590.4 547.9L590.9 548.0L591.4 548.2L591.9 548.4L592.4 548.5L592.9 548.7L593.4 548.8L593.9 549.0L594.4 549.1L594.9 549.3L595.4 549.4L595.9 549.5L596.4 549.7L596.9 549.8L597.4 549.9L597.9 550.1L598.4 550.2L598.9 550.3L599.4 550.4L599.9 550.6L600.4 550.7L600.9 550.8L601.4 550.9L601.9 551.1L602.4 551.2L602.9 551.3L603.4 551.4L603.9 551.5L604.4 551.6L604.9 551.7L605.4 551.8L605.9 552.0L606.4 552.1L606.9 552.2L607.4 552.3L607.9 552.4L608.4 552.5L608.9 552.5L609.4 552.6L609.9 552.7L610.4 552.8L610.9 552.9L611.4 553.0L611.9 553.1L612.4 553.1L612.9 553.2L613.4 553.3L613.9 553.3L614.4 553.4L614.9 553.5L615.4 553.5L615.9 553.6L616.4 553.6L616.9 553.7L617.4 553.7L617.9 553.8L618.4 553.8L618.9 553.9L619.4 553.9L619.9 554.0L620.4 554.0L620.9 554.0L621.4 554.1L621.9 554.1L622.4 554.1L622.9 554.2L623.4 554.2L623.9 554.2L624.4 554.3L624.9 554.3L625.4 554.3L625.9 554.3L626.4 554.4L626.9 554.4L627.4 554.4L627.9 554.4L628.4 554.5L628.9 554.5L629.4 554.5L629.9 554.5L630.4 554.6L630.9 554.6L631.4 554.6L631.9 554.6L632.4 554.6L632.9 554.7L633.4 554.7L633.9 554.7L634.4 554.7L634.9 554.7L635.4 554.8L635.9 554.8L636.4 554.8L636.9 554.8L637.4 554.8L637.9 554.9L638.4 554.9L638.9 554.9L639.4 554.9L639.9 554.9L640.4 555.0L641.0 555.0L641.5 555.0L642.0 555.0L642.5 555.0L643.0 555.0L643.5 555.1L644.0 555.1L644.5 555.1L645.0 555.1L645.5 555.1L646.0 555.1L646.5 555.2L647.0 555.2L647.5 555.2L648.0 555.2L648.5 555.2L649.0 555.2L649.5 555.3L650.0 555.3L650.5 555.3L651.0 555.3L651.5 555.3L652.0 555.3L652.5 555.4L653.0 555.4L653.5 555.4L654.0 555.4L654.5 555.4L655.0 555.4L655.5 555.4L656.0 555.5L656.5 555.5L657.0 555.5L657.5 555.5L658.0 555.5L658.5 555.5L659.0 555.5L659.5 555.5L660.0 555.6L660.5 555.6L661.0 555.6L661.5 555.6L662.0 555.6L662.5 555.6L663.0 555.6L663.5 555.6L664.0 555.6L664.5 555.7L665.0 555.7L665.5 555.7L666.0 555.7L666.5 555.7L667.0 555.7L667.5 555.7" stroke="#fb9383" stroke-width="1.5" fill="none" stroke-linejoin="round"/><path d="M397.5 555.7L398.0 555.7L398.5 555.6L399.0 555.6L399.5 555.6L400.0 555.6L400.5 555.5L401.0 555.5L401.5 555.5L402.0 555.4L402.5 555.4L403.0 555.4L403.5 555.3L404.0 555.3L404.5 555.3L405.0 555.2L405.5 555.2L406.0 555.2L406.5 555.1L407.0 555.1L407.5 555.1L408.0 555.0L408.5 555.0L409.0 555.0L409.5 554.9L410.0 554.9L410.5 554.9L411.0 554.8L411.5 554.8L412.0 554.8L412.5 554.7L413.0 554.7L413.5 554.7L414.0 554.6L414.5 554.6L415.0 554.6L415.5 554.5L416.0 554.5L416.5 554.4L417.0 554.4L417.5 554.4L418.0 554.3L418.5 554.3L419.0 554.3L419.5 554.2L420.0 554.2L420.5 554.2L421.0 554.1L421.5 554.1L422.0 554.1L422.5 554.0L423.0 554.0L423.5 554.0L424.0 553.9L424.6 553.9L425.1 553.9L425.6 553.8L426.1 553.8L426.6 553.8L427.1 553.7L427.6 553.7L428.1 553.7L428.6 553.6L429.1 553.6L429.6 553.6L430.1 553.5L430.6 553.5L431.1 553.4L431.6 553.4L432.1 553.4L432.6 553.3L433.1 553.3L433.6 553.2L434.1 553.2L434.6 553.2L435.1 553.1L435.6 553.1L436.1 553.0L436.6 553.0L437.1 553.0L437.6 552.9L438.1 552.9L438.6 552.8L439.1 552.8L439.6 552.7L440.1 552.7L440.6 552.6L441.1 552.6L441.6 552.5L442.1 552.5L442.6 552.4L443.1 552.4L443.6 552.3L444.1 552.2L444.6 552.2L445.1 552.1L445.6 552.1L446.1 552.0L446.6 552.0L447.1 551.9L447.6 551.8L448.1 551.8L448.6 551.7L449.1 551.6L449.6 551.6L450.1 551.5L450.6 551.4L451.1 551.4L451.6 551.3L452.1 551.2L452.6 551.2L453.1 551.1L453.6 551.0L454.1 550.9L454.6 550.9L455.1 550.8L455.6 550.7L456.1 550.6L456.6 550.5L457.1 550.5L457.6 550.4L458.1 550.3L458.6 550.2L459.1 550.1L459.6 550.0L460.1 550.0L460.6 549.9L461.1 549.8L461.6 549.7L462.1 549.6L462.6 549.5L463.1 549.4L463.6 549.3L464.1 549.2L464.6 549.1L465.1 549.0L465.6 548.9L466.1 548.8L466.6 548.7L467.1 548.6L467.6 548.5L468.1 548.4L468.6 548.2L469.1 548.1L469.6 548.0L470.1 547.9L470.6 547.7L471.1 547.6L471.6 547.4L472.1 547.3L472.6 547.2L473.1 547.0L473.6 546.9L474.1 546.7L474.6 546.5L475.1 546.4L475.6 546.2L476.1 546.0L476.6 545.8L477.1 545.6L477.6 545.4L478.1 545.2L478.7 545.0L479.2 544.7L479.7 544.5L480.2 544.3L480.7 544.0L481.2 543.8L481.7 543.6L482.2 543.3L482.7 543.1L483.2 542.8L483.7 542.6L484.2 542.4L484.7 542.2L485.2 541.9L485.7 541.7L486.2 541.5L486.7 541.2L487.2 541.0L487.7 540.8L488.2 540.5L488.7 540.2L489.2 539.9L489.7 539.6L490.2 539.3L490.7 538.9L491.2 538.5L491.7 538.1L492.2 537.6L492.7 537.2L493.2 536.7L493.7 536.2L494.2 535.6L494.7 535.1L495.2 534.5L495.7 534.0L496.2 533.4L496.7 532.8L497.2 532.2L497.7 531.6L498.2 531.0L498.7 530.3L499.2 529.7L499.7 529.0L500.2 528.3L500.7 527.5L501.2 526.7L501.7 525.9L502.2 525.0L502.7 524.1L503.2 523.2L503.7 522.3L504.2 521.3L504.7 520.3L505.2 519.4L505.7 518.4L506.2 517.4L506.7 516.4L507.2 515.4L507.7 514.3L508.2 513.3L508.7 512.2L509.2 511.1L509.7 509.9L510.2 508.7L510.7 507.5L511.2 506.2L511.7 504.8L512.2 503.4L512.7 501.9L513.2 500.4L513.7 498.9L514.2 497.3L514.7 495.7L515.2 494.1L515.7 492.6L516.2 491.0L516.7 489.5L517.2 487.9L517.7 486.4L518.2 484.9L518.7 483.3L519.2 481.7L519.7 480.0L520.2 478.3L520.7 476.5L521.2 474.5L521.7 472.5L522.2 470.5L522.7 468.4L523.2 466.3L523.7 464.2L524.2 462.1L524.7 460.0L525.2 457.8L525.7 455.8L526.2 453.8L526.7 452.0L527.2 450.4L527.7 449.2L528.2 448.4L528.7 447.9L529.2 447.8L529.7 448.0L530.2 448.6L530.7 449.6L531.2 451.1L531.7 452.8L532.2 454.7L532.8 456.9L533.3 459.1L533.8 461.4L534.3 463.5L534.8 465.5L535.3 467.4L535.8 469.2L536.3 471.0L536.8 472.7L537.3 474.3L537.8 476.0L538.3 477.6L538.8 479.3L539.3 480.9L539.8 482.5L540.3 484.1L540.8 485.6L541.3 487.1L541.8 488.5L542.3 489.7L542.8 490.9L543.3 491.9L543.8 492.9L544.3 493.8L544.8 494.7L545.3 495.5L545.8 496.2L546.3 497.0L546.8 497.8L547.3 498.7L547.8 499.7L548.3 500.7L548.8 501.9L549.3 503.1L549.8 504.4L550.3 505.7L550.8 507.0L551.3 508.3L551.8 509.5L552.3 510.7L552.8 511.9L553.3 513.0L553.8 514.1L554.3 515.2L554.8 516.3L555.3 517.3L555.8 518.3L556.3 519.2L556.8 520.1L557.3 521.0L557.8 521.9L558.3 522.7L558.8 523.5L559.3 524.3L559.8 525.0L560.3 525.7L560.8 526.4L561.3 527.1L561.8 527.7L562.3 528.3L562.8 528.9L563.3 529.5L563.8 530.1L564.3 530.6L564.8 531.2L565.3 531.7L565.8 532.2L566.3 532.7L566.8 533.1L567.3 533.6L567.8 534.0L568.3 534.5L568.8 534.9L569.3 535.3L569.8 535.6L570.3 536.0L570.8 536.4L571.3 536.8L571.8 537.1L572.3 537.5L572.8 537.8L573.3 538.2L573.8 538.6L574.3 538.9L574.8 539.3L575.3 539.7L575.8 540.1L576.3 540.5L576.8 540.9L577.3 541.4L577.8 541.8L578.3 542.2L578.8 542.6L579.3 543.0L579.8 543.4L580.3 543.8L580.8 544.1L581.3 544.5L581.8 544.8L582.3 545.1L582.8 545.4L583.3 545.6L583.8 545.9L584.3 546.2L584.8 546.4L585.3 546.6L585.8 546.9L586.3 547.1L586.9 547.3L587.4 547.5L587.9 547.7L588.4 547.9L588.9 548.1L589.4 548.3L589.9 548.5L590.4 548.7L590.9 548.8L591.4 549.0L591.9 549.2L592.4 549.3L592.9 549.5L593.4 549.6L593.9 549.8L594.4 549.9L594.9 550.1L595.4 550.2L595.9 550.3L596.4 550.4L596.9 550.6L597.4 550.7L597.9 550.8L598.4 550.9L598.9 551.1L599.4 551.2L599.9 551.3L600.4 551.4L600.9 551.5L601.4 551.7L601.9 551.8L602.4 551.9L602.9 552.0L603.4 552.1L603.9 552.2L604.4 552.3L604.9 552.4L605.4 552.5L605.9 552.6L606.4 552.7L606.9 552.8L607.4 552.9L607.9 553.0L608.4 553.1L608.9 553.2L609.4 553.3L609.9 553.4L610.4 553.4L610.9 553.5L611.4 553.6L611.9 553.7L612.4 553.8L612.9 553.8L613.4 553.9L613.9 554.0L614.4 554.0L614.9 554.1L615.4 554.1L615.9 554.2L616.4 554.2L616.9 554.3L617.4 554.3L617.9 554.4L618.4 554.4L618.9 554.5L619.4 554.5L619.9 554.5L620.4 554.6L620.9 554.6L621.4 554.6L621.9 554.7L622.4 554.7L622.9 554.7L623.4 554.8L623.9 554.8L624.4 554.8L624.9 554.9L625.4 554.9L625.9 554.9L626.4 555.0L626.9 555.0L627.4 555.0L627.9 555.0L628.4 555.1L628.9 555.1L629.4 555.1L629.9 555.1L630.4 555.2L630.9 555.2L631.4 555.2L631.9 555.2L632.4 555.2L632.9 555.3L633.4 555.3L633.9 555.3L634.4 555.3L634.9 555.3L635.4 555.4L635.9 555.4L636.4 555.4L636.9 555.4L637.4 555.4L637.9 555.5L638.4 555.5L638.9 555.5L639.4 555.5L639.9 555.5L640.4 555.5L641.0 555.6L641.5 555.6L642.0 555.6L642.5 555.6L643.0 555.6L643.5 555.6L644.0 555.7L644.5 555.7L645.0 555.7L645.5 555.7L646.0 555.7L646.5 555.7L647.0 555.8L647.5 555.8L648.0 555.8L648.5 555.8L649.0 555.8L649.5 555.8L650.0 555.8L650.5 555.9L651.0 555.9L651.5 555.9L652.0 555.9L652.5 555.9L653.0 555.9L653.5 555.9L654.0 555.9L654.5 556.0L655.0 556.0L655.5 556.0L656.0 556.0L656.5 556.0L657.0 556.0L657.5 556.0L658.0 556.0L658.5 556.1L659.0 556.1L659.5 556.1L660.0 556.1L660.5 556.1L661.0 556.1L661.5 556.1L662.0 556.1L662.5 556.1L663.0 556.1L663.5 556.1L664.0 556.2L664.5 556.2L665.0 556.2L665.5 556.2L666.0 556.2L666.5 556.2L667.0 556.2L667.5 556.2" stroke="#fb9383" stroke-width="1.5" fill="none" stroke-linejoin="round"/></g>
<rect x="397.6" y="425.5" width="269.7" height="136.7" fill="none" stroke="#111" stroke-width="0.8"/>
<path d="M394.4 448.4H397.6" stroke="#111" stroke-width="0.9"/>
<text x="390.7" y="451.9" font-size="9.8" fill="#0a0a0a" stroke="#0a0a0a" text-anchor="end">12.5</text>
<path d="M394.4 472.9H397.6" stroke="#111" stroke-width="0.9"/>
<text x="390.7" y="476.4" font-size="9.8" fill="#0a0a0a" stroke="#0a0a0a" text-anchor="end">10.0</text>
<path d="M394.4 497.4H397.6" stroke="#111" stroke-width="0.9"/>
<text x="390.7" y="500.9" font-size="9.8" fill="#0a0a0a" stroke="#0a0a0a" text-anchor="end">7.5</text>
<path d="M394.4 521.9H397.6" stroke="#111" stroke-width="0.9"/>
<text x="390.7" y="525.4" font-size="9.8" fill="#0a0a0a" stroke="#0a0a0a" text-anchor="end">5.0</text>
<path d="M394.4 546.4H397.6" stroke="#111" stroke-width="0.9"/>
<text x="390.7" y="549.9" font-size="9.8" fill="#0a0a0a" stroke="#0a0a0a" text-anchor="end">2.5</text>
<path d="M397.6 562.2v3.6" stroke="#111" stroke-width="0.9"/>
<path d="M532.4 562.2v3.6" stroke="#111" stroke-width="0.9"/>
<path d="M667.3 562.2v3.6" stroke="#111" stroke-width="0.9"/>
<text x="398.2" y="577.7" font-size="9.8" fill="#0a0a0a" stroke="#0a0a0a">-3.0</text>
<text x="532.6" y="577.7" font-size="9.8" fill="#0a0a0a" stroke="#0a0a0a" text-anchor="middle">TSS</text>
<text x="667.4" y="577.7" font-size="9.8" fill="#0a0a0a" stroke="#0a0a0a" text-anchor="end">3.0 Kb</text>
<path d="M558.4 436.1H576.9" stroke="#1fa4ec" stroke-width="1.4"/>
<text x="581.5" y="438.6" font-size="7.35" fill="#0a0a0a" stroke="#0a0a0a">CUT&amp;Tag (Rep1)</text>
<path d="M558.4 448.5H576.9" stroke="#1fa4ec" stroke-width="1.4"/>
<text x="581.5" y="451.0" font-size="7.35" fill="#0a0a0a" stroke="#0a0a0a">CUT&amp;Tag (Rep2 )</text>
<path d="M558.4 460.6H576.9" stroke="#b36bf6" stroke-width="1.4"/>
<text x="581.5" y="463.1" font-size="7.35" fill="#0a0a0a" stroke="#0a0a0a">Nano-CUT&amp;Tag (Rep1)</text>
<path d="M558.4 473.0H576.9" stroke="#b36bf6" stroke-width="1.4"/>
<text x="581.5" y="475.5" font-size="7.35" fill="#0a0a0a" stroke="#0a0a0a">Nano-CUT&amp;Tag (Rep2)</text>
<path d="M558.4 485.5H576.9" stroke="#fb9383" stroke-width="1.4"/>
<text x="581.5" y="488.0" font-size="7.35" fill="#0a0a0a" stroke="#0a0a0a">Af-CUT&amp;Tag (Rep1)</text>
<path d="M558.4 498.1H576.9" stroke="#fb9383" stroke-width="1.4"/>
<text x="581.5" y="500.6" font-size="7.35" fill="#0a0a0a" stroke="#0a0a0a">Af-CUT&amp;Tag (Rep2)</text>
</g>
<g id="panel-d">
<text x="381.0" y="612.9" font-size="18.3" fill="#231815" font-weight="bold">d</text>
<path d="M426.5 610.6V770.3H681" stroke="#111" stroke-width="0.8" fill="none"/>
<path d="M423.3 763.3H426.5" stroke="#111" stroke-width="0.7"/>
<text x="421.9" y="766.2" font-size="8.3" fill="#0a0a0a" stroke="#0a0a0a" text-anchor="end">0</text>
<path d="M423.3 715.0H426.5" stroke="#111" stroke-width="0.7"/>
<text x="421.9" y="717.9" font-size="8.3" fill="#0a0a0a" stroke="#0a0a0a" text-anchor="end">5</text>
<path d="M423.3 666.7H426.5" stroke="#111" stroke-width="0.7"/>
<text x="421.9" y="669.6" font-size="8.3" fill="#0a0a0a" stroke="#0a0a0a" text-anchor="end">10</text>
<path d="M423.3 618.4H426.5" stroke="#111" stroke-width="0.7"/>
<text x="421.9" y="621.3" font-size="8.3" fill="#0a0a0a" stroke="#0a0a0a" text-anchor="end">15</text>
<text x="407.6" y="692.8" font-size="9.0" fill="#0a0a0a" stroke="#0a0a0a" text-anchor="middle" transform="rotate(-90 407.6 692.8)">Proportion of reads on the promoter (%)</text>
<rect x="458.25" y="684.53" width="13.20" height="78.32" fill="#0b9be8" stroke="#0a6cbc" stroke-width="1.1"/>
<rect x="478.35" y="671.87" width="13.20" height="90.98" fill="#36adec" stroke="#0a6cbc" stroke-width="1.1"/>
<rect x="537.55" y="679.50" width="12.90" height="83.35" fill="#b872fa" stroke="#c45cf0" stroke-width="1.1"/>
<rect x="557.45" y="678.06" width="12.90" height="84.79" fill="#b872fa" stroke="#c45cf0" stroke-width="1.1"/>
<rect x="617.25" y="649.56" width="12.90" height="113.29" fill="#ffaa58" stroke="#ee6c34" stroke-width="1.1"/>
<rect x="636.15" y="638.74" width="12.70" height="124.11" fill="#ffaa58" stroke="#ee6c34" stroke-width="1.1"/>
<text x="464.4" y="682.5" font-size="8.8" fill="#0a0a0a" stroke="#0a0a0a" text-anchor="middle">8.11</text>
<text x="484.9" y="669.8" font-size="8.8" fill="#0a0a0a" stroke="#0a0a0a" text-anchor="middle">9.42</text>
<text x="543.0" y="677.1" font-size="8.8" fill="#0a0a0a" stroke="#0a0a0a" text-anchor="middle">8.69</text>
<text x="563.8" y="673.6" font-size="8.8" fill="#0a0a0a" stroke="#0a0a0a" text-anchor="middle">8.84</text>
<text x="617.2" y="647.7" font-size="8.8" fill="#0a0a0a" stroke="#0a0a0a" text-anchor="middle">11.79</text>
<text x="642.2" y="636.7" font-size="8.8" fill="#0a0a0a" stroke="#0a0a0a" text-anchor="middle">12.91</text>
<path d="M474.2 770.3v3.6" stroke="#111" stroke-width="0.7"/>
<path d="M553.6 770.3v3.6" stroke="#111" stroke-width="0.7"/>
<path d="M633.3 770.3v3.6" stroke="#111" stroke-width="0.7"/>
<text x="475.9" y="783.9" font-size="8.8" fill="#0a0a0a" stroke="#0a0a0a" text-anchor="middle">CUT&amp;Tag</text>
<text x="553.3" y="783.9" font-size="8.8" fill="#0a0a0a" stroke="#0a0a0a" text-anchor="middle">Nano-CUT&amp;Tag</text>
<text x="630.5" y="783.9" font-size="8.8" fill="#0a0a0a" stroke="#0a0a0a" text-anchor="middle">Af-CUT&amp;Tag</text>
<path d="M474.2 618.6V616.9H633.6V618.6M553.5 629.1V627.4H633.6V629.1M474.2 638.4V636.7H553.5V638.4" stroke="#111" stroke-width="1" fill="none"/>
<text x="556.5" y="614.8" font-size="8.8" fill="#0a0a0a" stroke="#0a0a0a" text-anchor="middle">0.056</text>
<text x="595.9" y="625.7" font-size="8.8" fill="#0a0a0a" stroke="#0a0a0a" text-anchor="middle">0.094</text>
<text x="514.8" y="634.8" font-size="8.8" fill="#0a0a0a" stroke="#0a0a0a" text-anchor="middle">1</text>
</g>
<g id="panel-e">
<text x="2.4" y="819.6" font-size="18.3" fill="#231815" font-weight="bold">e</text>
<text x="176.0" y="831.0" font-size="10.2" fill="#0a0a0a" stroke="#0a0a0a" text-anchor="middle">Library Complexity</text>
<path d="M59.3 837.2V995.1H274.6" stroke="#2a2a2a" stroke-width="0.95" fill="none"/>
<path d="M57.6 978.3H59.3" stroke="#333" stroke-width="0.7"/>
<text x="57.0" y="981.5" font-size="8.9" fill="#333" stroke="#333" text-anchor="end">0.45</text>
<path d="M57.6 945.7H59.3" stroke="#333" stroke-width="0.7"/>
<text x="57.0" y="948.9" font-size="8.9" fill="#333" stroke="#333" text-anchor="end">0.50</text>
<path d="M57.6 913.1H59.3" stroke="#333" stroke-width="0.7"/>
<text x="57.0" y="916.3" font-size="8.9" fill="#333" stroke="#333" text-anchor="end">0.55</text>
<path d="M57.6 880.5H59.3" stroke="#333" stroke-width="0.7"/>
<text x="57.0" y="883.7" font-size="8.9" fill="#333" stroke="#333" text-anchor="end">0.60</text>
<path d="M57.6 847.9H59.3" stroke="#333" stroke-width="0.7"/>
<text x="57.0" y="851.1" font-size="8.9" fill="#333" stroke="#333" text-anchor="end">0.65</text>
<path d="M99.8 995.1v1.7" stroke="#333" stroke-width="0.7"/>
<path d="M167.2 995.1v1.7" stroke="#333" stroke-width="0.7"/>
<path d="M234.6 995.1v1.7" stroke="#333" stroke-width="0.7"/>
<text x="36.1" y="912.0" font-size="10.0" fill="#0a0a0a" stroke="#0a0a0a" text-anchor="middle" transform="rotate(-90 36.1 912.0)">NRF</text>
<text x="97.8" y="1008.8" font-size="10.4" fill="#0a0a0a" stroke="#0a0a0a" text-anchor="middle">CUT&amp;Tag</text>
<text x="166.1" y="1008.8" font-size="10.4" fill="#0a0a0a" stroke="#0a0a0a" text-anchor="middle">Nano-CUT&amp;Tag</text>
<text x="239.4" y="1008.8" font-size="10.4" fill="#0a0a0a" stroke="#0a0a0a" text-anchor="middle">Af-CUT&amp;Tag</text>
<circle cx="92.4" cy="896.9" r="3.2" fill="#78cba8" stroke="#1a2a2a" stroke-width="0.65"/>
<circle cx="89.6" cy="987.8" r="0.7" fill="#222" stroke="#1a2a2a" stroke-width="0.65"/>
<circle cx="161.4" cy="880.4" r="3.2" fill="#72c9aa" stroke="#1a2a2a" stroke-width="0.65"/>
<circle cx="173.4" cy="942.6" r="2.2" fill="#92d9a8" stroke="#1a2a2a" stroke-width="0.65"/>
<circle cx="231.7" cy="845.6" r="3.9" fill="#55c0b6" stroke="#1a2a2a" stroke-width="0.65"/>
<circle cx="242.7" cy="875.5" r="3.5" fill="#6cc6aa" stroke="#1a2a2a" stroke-width="0.65"/>
<rect x="98.7" y="888.6" width="31.9" height="11.1" rx="1.6" fill="#fff" stroke="#111" stroke-width="0.8"/>
<text x="114.7" y="897.4" font-size="8.8" fill="#222" stroke="#222" text-anchor="middle">0.5726</text>
<rect x="94.9" y="978.3" width="30.6" height="10.8" rx="1.6" fill="#fff" stroke="#111" stroke-width="0.8"/>
<text x="110.2" y="986.9" font-size="8.8" fill="#222" stroke="#222" text-anchor="middle">0.4344</text>
<rect x="136.9" y="942.3" width="31.1" height="11.2" rx="1.6" fill="#fff" stroke="#111" stroke-width="0.8"/>
<text x="152.4" y="951.1" font-size="8.8" fill="#222" stroke="#222" text-anchor="middle">0.5079</text>
<rect x="165.6" y="864.8" width="31.6" height="12.0" rx="1.6" fill="#fff" stroke="#111" stroke-width="0.8"/>
<text x="181.4" y="874.0" font-size="8.8" fill="#222" stroke="#222" text-anchor="middle">0.6025</text>
<rect x="195.2" y="845.9" width="31.6" height="11.7" rx="1.6" fill="#fff" stroke="#111" stroke-width="0.8"/>
<text x="211.0" y="855.0" font-size="8.8" fill="#222" stroke="#222" text-anchor="middle">0.6567</text>
<rect x="208.6" y="879.8" width="31.5" height="11.7" rx="1.6" fill="#fff" stroke="#111" stroke-width="0.8"/>
<text x="224.3" y="888.9" font-size="8.8" fill="#222" stroke="#222" text-anchor="middle">0.6101</text>
<text x="283.6" y="862.3" font-size="8.7" fill="#0a0a0a" stroke="#0a0a0a">PBC2</text>
<linearGradient id="pb" x1="0" y1="0" x2="0" y2="1"><stop offset="0" stop-color="#57c1b5"/><stop offset="0.5" stop-color="#7fd0ac"/><stop offset="1" stop-color="#a9dfa6"/></linearGradient>
<rect x="284.4" y="866.1" width="8.8" height="44.6" fill="url(#pb)"/>
<text x="296.1" y="877.4" font-size="7.0" fill="#0a0a0a" stroke="#0a0a0a">3.5</text>
<path d="M284.4 874.9h1.6M291.6 874.9h1.6" stroke="#fff" stroke-width="0.4"/>
<text x="296.1" y="889.1" font-size="7.0" fill="#0a0a0a" stroke="#0a0a0a">3.0</text>
<path d="M284.4 886.6h1.6M291.6 886.6h1.6" stroke="#fff" stroke-width="0.4"/>
<text x="296.1" y="900.2" font-size="7.0" fill="#0a0a0a" stroke="#0a0a0a">2.5</text>
<path d="M284.4 897.7h1.6M291.6 897.7h1.6" stroke="#fff" stroke-width="0.4"/>
<text x="296.1" y="911.2" font-size="7.0" fill="#0a0a0a" stroke="#0a0a0a">2.0</text>
<path d="M284.4 908.7h1.6M291.6 908.7h1.6" stroke="#fff" stroke-width="0.4"/>
<text x="283.6" y="926.7" font-size="8.7" fill="#0a0a0a" stroke="#0a0a0a">PBC1</text>
<circle cx="288.3" cy="935.1" r="1.3" fill="#fff" stroke="#111" stroke-width="0.8"/>
<text x="296.1" y="937.6" font-size="7.0" fill="#0a0a0a" stroke="#0a0a0a">0.50</text>
<circle cx="288.3" cy="944.0" r="1.9" fill="#fff" stroke="#111" stroke-width="0.8"/>
<text x="296.1" y="946.5" font-size="7.0" fill="#0a0a0a" stroke="#0a0a0a">0.55</text>
<circle cx="288.3" cy="953.1" r="2.4" fill="#fff" stroke="#111" stroke-width="0.8"/>
<text x="296.1" y="955.6" font-size="7.0" fill="#0a0a0a" stroke="#0a0a0a">0.60</text>
<circle cx="288.3" cy="962.2" r="2.8" fill="#fff" stroke="#111" stroke-width="0.8"/>
<text x="296.1" y="964.7" font-size="7.0" fill="#0a0a0a" stroke="#0a0a0a">0.65</text>
<circle cx="288.3" cy="971.3" r="3.2" fill="#fff" stroke="#111" stroke-width="0.8"/>
<text x="296.1" y="973.8" font-size="7.0" fill="#0a0a0a" stroke="#0a0a0a">0.70</text>
</g>
<g id="panel-f">
<text x="381.4" y="819.2" font-size="18.3" fill="#231815" font-weight="bold">f</text>
<text x="546.8" y="807.4" font-size="10.4" fill="#0a0a0a" stroke="#0a0a0a" text-anchor="middle">RNA Pol II</text>
<rect x="457.80" y="843.20" width="27.90" height="27.72" fill="#2390c0" stroke="#9a9a9a" stroke-width="0.7"/>
<text x="473.6" y="859.8" font-size="8.5" fill="#0c1a22" stroke="#0c1a22" text-anchor="middle">1.00</text>
<rect x="485.70" y="843.20" width="27.90" height="27.72" fill="#42b4c4" stroke="#9a9a9a" stroke-width="0.7"/>
<text x="501.5" y="859.8" font-size="8.5" fill="#0c1a22" stroke="#0c1a22" text-anchor="middle">0.93</text>
<rect x="513.60" y="843.20" width="27.90" height="27.72" fill="#42b4c4" stroke="#9a9a9a" stroke-width="0.7"/>
<text x="529.4" y="859.8" font-size="8.5" fill="#0c1a22" stroke="#0c1a22" text-anchor="middle">0.93</text>
<rect x="541.50" y="843.20" width="27.90" height="27.72" fill="#42b4c4" stroke="#9a9a9a" stroke-width="0.7"/>
<text x="557.4" y="859.8" font-size="8.5" fill="#0c1a22" stroke="#0c1a22" text-anchor="middle">0.93</text>
<rect x="569.40" y="843.20" width="27.90" height="27.72" fill="#b2e2b5" stroke="#9a9a9a" stroke-width="0.7"/>
<text x="585.2" y="859.8" font-size="8.5" fill="#0c1a22" stroke="#0c1a22" text-anchor="middle">0.81</text>
<rect x="597.30" y="843.20" width="27.90" height="27.72" fill="#c0e8b2" stroke="#9a9a9a" stroke-width="0.7"/>
<text x="613.1" y="859.8" font-size="8.5" fill="#0c1a22" stroke="#0c1a22" text-anchor="middle">0.79</text>
<rect x="457.80" y="870.92" width="27.90" height="27.72" fill="#42b4c4" stroke="#9a9a9a" stroke-width="0.7"/>
<text x="473.6" y="887.5" font-size="8.5" fill="#0c1a22" stroke="#0c1a22" text-anchor="middle">0.93</text>
<rect x="485.70" y="870.92" width="27.90" height="27.72" fill="#2390c0" stroke="#9a9a9a" stroke-width="0.7"/>
<text x="501.5" y="887.5" font-size="8.5" fill="#0c1a22" stroke="#0c1a22" text-anchor="middle">1.00</text>
<rect x="513.60" y="870.92" width="27.90" height="27.72" fill="#42b4c4" stroke="#9a9a9a" stroke-width="0.7"/>
<text x="529.4" y="887.5" font-size="8.5" fill="#0c1a22" stroke="#0c1a22" text-anchor="middle">0.93</text>
<rect x="541.50" y="870.92" width="27.90" height="27.72" fill="#48b6c4" stroke="#9a9a9a" stroke-width="0.7"/>
<text x="557.4" y="887.5" font-size="8.5" fill="#0c1a22" stroke="#0c1a22" text-anchor="middle">0.92</text>
<rect x="569.40" y="870.92" width="27.90" height="27.72" fill="#bae5b4" stroke="#9a9a9a" stroke-width="0.7"/>
<text x="585.2" y="887.5" font-size="8.5" fill="#0c1a22" stroke="#0c1a22" text-anchor="middle">0.80</text>
<rect x="597.30" y="870.92" width="27.90" height="27.72" fill="#c0e8b2" stroke="#9a9a9a" stroke-width="0.7"/>
<text x="613.1" y="887.5" font-size="8.5" fill="#0c1a22" stroke="#0c1a22" text-anchor="middle">0.79</text>
<rect x="457.80" y="898.64" width="27.90" height="27.72" fill="#42b4c4" stroke="#9a9a9a" stroke-width="0.7"/>
<text x="473.6" y="915.2" font-size="8.5" fill="#0c1a22" stroke="#0c1a22" text-anchor="middle">0.93</text>
<rect x="485.70" y="898.64" width="27.90" height="27.72" fill="#42b4c4" stroke="#9a9a9a" stroke-width="0.7"/>
<text x="501.5" y="915.2" font-size="8.5" fill="#0c1a22" stroke="#0c1a22" text-anchor="middle">0.93</text>
<rect x="513.60" y="898.64" width="27.90" height="27.72" fill="#2390c0" stroke="#9a9a9a" stroke-width="0.7"/>
<text x="529.4" y="915.2" font-size="8.5" fill="#0c1a22" stroke="#0c1a22" text-anchor="middle">1.00</text>
<rect x="541.50" y="898.64" width="27.90" height="27.72" fill="#42b4c4" stroke="#9a9a9a" stroke-width="0.7"/>
<text x="557.4" y="915.2" font-size="8.5" fill="#0c1a22" stroke="#0c1a22" text-anchor="middle">0.93</text>
<rect x="569.40" y="898.64" width="27.90" height="27.72" fill="#9ad8b8" stroke="#9a9a9a" stroke-width="0.7"/>
<text x="585.2" y="915.2" font-size="8.5" fill="#0c1a22" stroke="#0c1a22" text-anchor="middle">0.84</text>
<rect x="597.30" y="898.64" width="27.90" height="27.72" fill="#a8deb6" stroke="#9a9a9a" stroke-width="0.7"/>
<text x="613.1" y="915.2" font-size="8.5" fill="#0c1a22" stroke="#0c1a22" text-anchor="middle">0.82</text>
<rect x="457.80" y="926.36" width="27.90" height="27.72" fill="#42b4c4" stroke="#9a9a9a" stroke-width="0.7"/>
<text x="473.6" y="943.0" font-size="8.5" fill="#0c1a22" stroke="#0c1a22" text-anchor="middle">0.93</text>
<rect x="485.70" y="926.36" width="27.90" height="27.72" fill="#48b6c4" stroke="#9a9a9a" stroke-width="0.7"/>
<text x="501.5" y="943.0" font-size="8.5" fill="#0c1a22" stroke="#0c1a22" text-anchor="middle">0.92</text>
<rect x="513.60" y="926.36" width="27.90" height="27.72" fill="#42b4c4" stroke="#9a9a9a" stroke-width="0.7"/>
<text x="529.4" y="943.0" font-size="8.5" fill="#0c1a22" stroke="#0c1a22" text-anchor="middle">0.93</text>
<rect x="541.50" y="926.36" width="27.90" height="27.72" fill="#2390c0" stroke="#9a9a9a" stroke-width="0.7"/>
<text x="557.4" y="943.0" font-size="8.5" fill="#0c1a22" stroke="#0c1a22" text-anchor="middle">1.00</text>
<rect x="569.40" y="926.36" width="27.90" height="27.72" fill="#a8deb6" stroke="#9a9a9a" stroke-width="0.7"/>
<text x="585.2" y="943.0" font-size="8.5" fill="#0c1a22" stroke="#0c1a22" text-anchor="middle">0.82</text>
<rect x="597.30" y="926.36" width="27.90" height="27.72" fill="#b2e2b5" stroke="#9a9a9a" stroke-width="0.7"/>
<text x="613.1" y="943.0" font-size="8.5" fill="#0c1a22" stroke="#0c1a22" text-anchor="middle">0.81</text>
<rect x="457.80" y="954.08" width="27.90" height="27.72" fill="#b2e2b5" stroke="#9a9a9a" stroke-width="0.7"/>
<text x="473.6" y="970.7" font-size="8.5" fill="#0c1a22" stroke="#0c1a22" text-anchor="middle">0.81</text>
<rect x="485.70" y="954.08" width="27.90" height="27.72" fill="#bae5b4" stroke="#9a9a9a" stroke-width="0.7"/>
<text x="501.5" y="970.7" font-size="8.5" fill="#0c1a22" stroke="#0c1a22" text-anchor="middle">0.80</text>
<rect x="513.60" y="954.08" width="27.90" height="27.72" fill="#9ad8b8" stroke="#9a9a9a" stroke-width="0.7"/>
<text x="529.4" y="970.7" font-size="8.5" fill="#0c1a22" stroke="#0c1a22" text-anchor="middle">0.84</text>
<rect x="541.50" y="954.08" width="27.90" height="27.72" fill="#a8deb6" stroke="#9a9a9a" stroke-width="0.7"/>
<text x="557.4" y="970.7" font-size="8.5" fill="#0c1a22" stroke="#0c1a22" text-anchor="middle">0.82</text>
<rect x="569.40" y="954.08" width="27.90" height="27.72" fill="#2390c0" stroke="#9a9a9a" stroke-width="0.7"/>
<text x="585.2" y="970.7" font-size="8.5" fill="#0c1a22" stroke="#0c1a22" text-anchor="middle">1.00</text>
<rect x="597.30" y="954.08" width="27.90" height="27.72" fill="#50b8c4" stroke="#9a9a9a" stroke-width="0.7"/>
<text x="613.1" y="970.7" font-size="8.5" fill="#0c1a22" stroke="#0c1a22" text-anchor="middle">0.91</text>
<rect x="457.80" y="981.80" width="27.90" height="27.72" fill="#c0e8b2" stroke="#9a9a9a" stroke-width="0.7"/>
<text x="473.6" y="998.4" font-size="8.5" fill="#0c1a22" stroke="#0c1a22" text-anchor="middle">0.79</text>
<rect x="485.70" y="981.80" width="27.90" height="27.72" fill="#c0e8b2" stroke="#9a9a9a" stroke-width="0.7"/>
<text x="501.5" y="998.4" font-size="8.5" fill="#0c1a22" stroke="#0c1a22" text-anchor="middle">0.79</text>
<rect x="513.60" y="981.80" width="27.90" height="27.72" fill="#a8deb6" stroke="#9a9a9a" stroke-width="0.7"/>
<text x="529.4" y="998.4" font-size="8.5" fill="#0c1a22" stroke="#0c1a22" text-anchor="middle">0.82</text>
<rect x="541.50" y="981.80" width="27.90" height="27.72" fill="#b2e2b5" stroke="#9a9a9a" stroke-width="0.7"/>
<text x="557.4" y="998.4" font-size="8.5" fill="#0c1a22" stroke="#0c1a22" text-anchor="middle">0.81</text>
<rect x="569.40" y="981.80" width="27.90" height="27.72" fill="#50b8c4" stroke="#9a9a9a" stroke-width="0.7"/>
<text x="585.2" y="998.4" font-size="8.5" fill="#0c1a22" stroke="#0c1a22" text-anchor="middle">0.91</text>
<rect x="597.30" y="981.80" width="27.90" height="27.72" fill="#2390c0" stroke="#9a9a9a" stroke-width="0.7"/>
<text x="613.1" y="998.4" font-size="8.5" fill="#0c1a22" stroke="#0c1a22" text-anchor="middle">1.00</text>
<rect x="457.80" y="837.3" width="27.90" height="4.3" fill="#ab58f6"/>
<rect x="485.70" y="837.3" width="27.90" height="4.3" fill="#ab58f6"/>
<path d="M485.70 837.3v4.3" stroke="#a9a3b0" stroke-width="0.6"/>
<rect x="513.60" y="837.3" width="27.90" height="4.3" fill="#1898e8"/>
<path d="M513.60 837.3v4.3" stroke="#a9a3b0" stroke-width="0.6"/>
<rect x="541.50" y="837.3" width="27.90" height="4.3" fill="#1898e8"/>
<path d="M541.50 837.3v4.3" stroke="#a9a3b0" stroke-width="0.6"/>
<rect x="569.40" y="837.3" width="27.90" height="4.3" fill="#ff9430"/>
<path d="M569.40 837.3v4.3" stroke="#a9a3b0" stroke-width="0.6"/>
<rect x="597.30" y="837.3" width="27.90" height="4.3" fill="#ff9430"/>
<path d="M597.30 837.3v4.3" stroke="#a9a3b0" stroke-width="0.6"/>
<path d="M471.8 837.4V830.5H499.6V837.4M527.5 837.4V830.5H555.5V837.4M485.7 830.5V826.4H541.5V830.5M583.4 837.4V827.8H611.2V837.4M513.6 826.4V812.1H597.3V827.8M457.8 857.1H451.5V884.8H457.8M457.8 912.5H451.3V940.2H457.8M451.5 870.9H447.5V926.4H451.3M457.8 967.9H449.7V995.7H457.8M447.5 898.6H433.5V981.8H449.7" stroke="#111" stroke-width="0.85" fill="none"/>
<text x="473.4" y="1019.5" font-size="8.9" fill="#a05cc4" stroke="#a05cc4" text-anchor="middle">Rep1</text>
<text x="501.3" y="1019.5" font-size="8.9" fill="#a05cc4" stroke="#a05cc4" text-anchor="middle">Rep2</text>
<text x="529.2" y="1019.5" font-size="8.9" fill="#4e70e4" stroke="#4e70e4" text-anchor="middle">Rep1</text>
<text x="557.2" y="1019.5" font-size="8.9" fill="#4e70e4" stroke="#4e70e4" text-anchor="middle">Rep2</text>
<text x="585.1" y="1019.5" font-size="8.9" fill="#ee7038" stroke="#ee7038" text-anchor="middle">Rep1</text>
<text x="613.0" y="1019.5" font-size="8.9" fill="#ee7038" stroke="#ee7038" text-anchor="middle">Rep2</text>
<text x="633.4" y="839.7" font-size="8.8" fill="#111" font-weight="bold">group</text>
<rect x="627.8" y="848.1" width="6.3" height="6.4" fill="#1898e8"/>
<text x="637.1" y="852.6" font-size="6.6" fill="#0a0a0a" stroke="#0a0a0a">CUT&amp;Tag</text>
<rect x="627.8" y="854.9" width="6.3" height="6.4" fill="#ab58f6"/>
<text x="637.1" y="860.3" font-size="6.6" fill="#0a0a0a" stroke="#0a0a0a">Nano−CUT&amp;Tag</text>
<rect x="627.8" y="861.7" width="6.3" height="6.4" fill="#ff9430"/>
<text x="637.1" y="867.7" font-size="6.6" fill="#0a0a0a" stroke="#0a0a0a">Af-CUT&amp;Tag</text>
</g>
</svg>
</body></html>
